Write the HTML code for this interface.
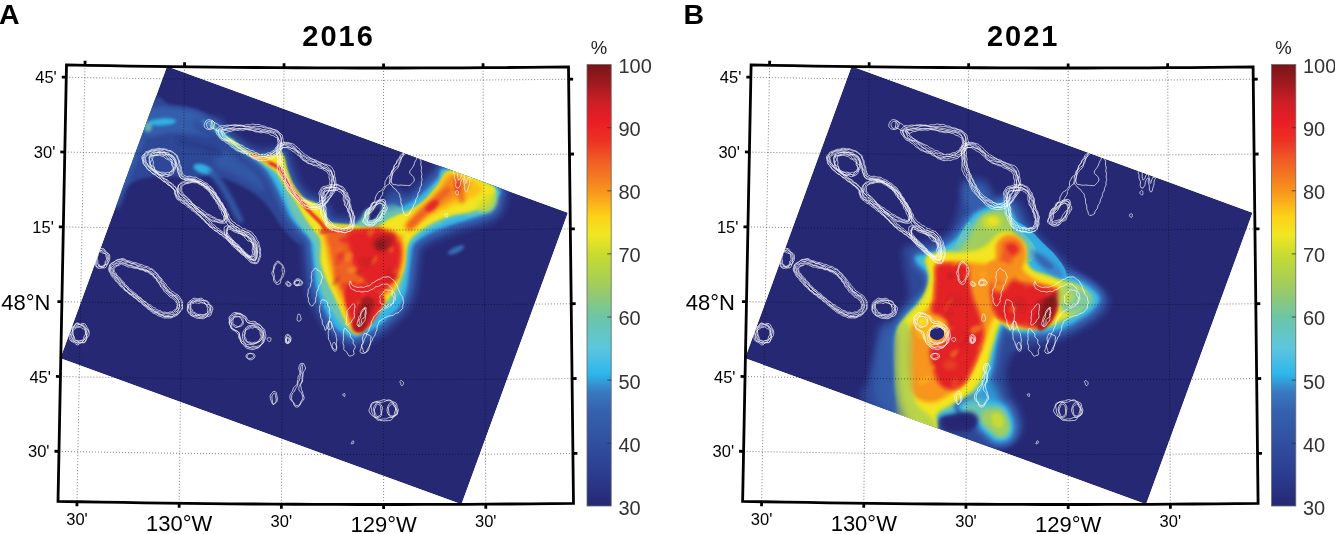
<!DOCTYPE html>
<html><head><meta charset="utf-8"><style>
html,body{margin:0;padding:0;background:#fff;}
svg{display:block;will-change:transform;}
text{font-family:"Liberation Sans",sans-serif;}
</style></head><body>
<svg width="1335" height="534" viewBox="0 0 1335 534">
<defs><filter id="b1" filterUnits="userSpaceOnUse" x="-50" y="-50" width="800" height="650"><feGaussianBlur stdDeviation="0.5"/></filter><filter id="b2" filterUnits="userSpaceOnUse" x="-50" y="-50" width="800" height="650"><feGaussianBlur stdDeviation="1.0"/></filter><filter id="b3" filterUnits="userSpaceOnUse" x="-50" y="-50" width="800" height="650"><feGaussianBlur stdDeviation="1.5"/></filter><filter id="b4" filterUnits="userSpaceOnUse" x="-50" y="-50" width="800" height="650"><feGaussianBlur stdDeviation="2.0"/></filter><filter id="b6" filterUnits="userSpaceOnUse" x="-50" y="-50" width="800" height="650"><feGaussianBlur stdDeviation="3.0"/></filter><filter id="b8" filterUnits="userSpaceOnUse" x="-50" y="-50" width="800" height="650"><feGaussianBlur stdDeviation="4.0"/></filter></defs>
<rect width="1335" height="534" fill="#fff"/>
<g transform="translate(0,0)">
<defs><clipPath id="ca"><path d="M66.50,64.93 L87.42,65.32 L108.33,65.69 L129.24,66.03 L150.16,66.34 L171.07,66.62 L191.99,66.88 L212.91,67.11 L233.82,67.32 L254.74,67.50 L275.65,67.65 L296.57,67.77 L317.49,67.87 L338.41,67.94 L359.32,67.98 L380.24,68.00 L401.16,67.99 L422.07,67.95 L442.99,67.89 L463.91,67.80 L484.82,67.68 L505.74,67.53 L526.66,67.36 L547.57,67.16 L568.49,66.93 L573.49,503.40 L552.02,503.64 L530.54,503.84 L509.06,504.02 L487.58,504.17 L466.10,504.29 L444.62,504.38 L423.14,504.45 L401.66,504.49 L380.18,504.50 L358.70,504.48 L337.22,504.44 L315.74,504.37 L294.26,504.27 L272.78,504.14 L251.30,503.98 L229.83,503.80 L208.35,503.59 L186.87,503.35 L165.39,503.09 L143.91,502.79 L122.44,502.47 L100.96,502.12 L79.48,501.75 L58.01,501.34 Z"/></clipPath></defs>
<g clip-path="url(#ca)">
<clipPath id="cap"><polygon points="167,66.2 567.9,212.8 461.5,504.2 60.4,358.2"/></clipPath>
<g clip-path="url(#cap)"><polygon points="167,66.2 567.9,212.8 461.5,504.2 60.4,358.2" fill="#262874"/>
<path d="M148.0,105.0 C158.5,87.2 164.3,104.7 171.0,105.0 C177.7,105.3 183.0,106.0 188.0,107.0 C193.0,108.0 197.0,109.3 201.0,111.0 C205.0,112.7 208.5,114.8 212.0,117.0 C215.5,119.2 217.3,120.3 222.0,124.0 C226.7,127.7 233.3,133.0 240.0,139.0 C246.7,145.0 256.2,153.5 262.0,160.0 C267.8,166.5 271.2,171.3 275.0,178.0 C278.8,184.7 281.7,193.0 285.0,200.0 C288.3,207.0 291.7,213.7 295.0,220.0 C298.3,226.3 304.2,234.0 305.0,238.0 C305.8,242.0 303.3,245.3 300.0,244.0 C296.7,242.7 289.7,235.3 285.0,230.0 C280.3,224.7 276.2,217.3 272.0,212.0 C267.8,206.7 264.5,202.0 260.0,198.0 C255.5,194.0 250.3,191.0 245.0,188.0 C239.7,185.0 233.8,182.0 228.0,180.0 C222.2,178.0 216.3,176.3 210.0,176.0 C203.7,175.7 198.3,178.0 190.0,178.0 C181.7,178.0 169.2,175.5 160.0,176.0 C150.8,176.5 142.0,177.7 135.0,181.0 C128.0,184.3 122.5,190.8 118.0,196.0 C113.5,201.2 103.0,227.2 108.0,212.0 C113.0,196.8 137.5,122.8 148.0,105.0 Z" fill="#2f4696" filter="url(#b3)"/>
<path d="M150.0,109.0 C157.5,105.2 175.7,107.8 185.0,109.0 C194.3,110.2 199.8,112.8 206.0,116.0 C212.2,119.2 221.0,124.7 222.0,128.0 C223.0,131.3 216.5,135.0 212.0,136.0 C207.5,137.0 202.0,134.5 195.0,134.0 C188.0,133.5 177.5,132.5 170.0,133.0 C162.5,133.5 155.0,137.2 150.0,137.0 C145.0,136.8 140.0,136.7 140.0,132.0 C140.0,127.3 142.5,112.8 150.0,109.0 Z" fill="#3460ae" fill-opacity="0.9" filter="url(#b4)"/>
<path d="M222.0,150.0 C226.2,148.8 234.0,154.7 240.0,158.0 C246.0,161.3 253.3,165.5 258.0,170.0 C262.7,174.5 267.3,181.7 268.0,185.0 C268.7,188.3 265.3,190.5 262.0,190.0 C258.7,189.5 253.3,185.0 248.0,182.0 C242.7,179.0 235.5,174.8 230.0,172.0 C224.5,169.2 216.3,168.7 215.0,165.0 C213.7,161.3 217.8,151.2 222.0,150.0 Z" fill="#3460ae" fill-opacity="0.7" filter="url(#b6)"/>
<path d="M179.0,141.0 C182.5,141.8 193.0,144.0 200.0,146.0 C207.0,148.0 217.5,151.8 221.0,153.0" fill="none" stroke="#262874" stroke-width="4" stroke-linecap="round" stroke-linejoin="round" stroke-opacity="0.5" filter="url(#b4)"/>
<path d="M117.0,205.0 C119.2,199.2 125.8,180.8 130.0,170.0 C134.2,159.2 140.0,145.0 142.0,140.0" fill="none" stroke="#3460ae" stroke-width="6" stroke-linecap="round" stroke-linejoin="round" stroke-opacity="0.8" filter="url(#b4)"/>
<path d="M176.0,121.0 C176.0,121.6 175.3,122.3 174.2,122.9 C173.1,123.5 171.2,124.1 169.2,124.5 C167.2,125.0 164.6,125.3 162.2,125.5 C159.9,125.7 157.3,125.7 155.2,125.5 C153.2,125.4 151.2,125.0 150.0,124.6 C148.8,124.2 148.1,123.6 148.0,123.0 C148.0,122.4 148.7,121.7 149.8,121.1 C150.9,120.5 152.8,119.9 154.8,119.5 C156.8,119.0 159.4,118.7 161.8,118.5 C164.1,118.3 166.7,118.3 168.8,118.5 C170.8,118.6 172.8,119.0 174.0,119.4 C175.2,119.8 175.9,120.4 176.0,121.0 Z" fill="#30b4e8" fill-opacity="0.95" filter="url(#b3)"/>
<path d="M152.0,127.0 C152.0,127.8 151.8,128.8 151.5,129.5 C151.1,130.2 150.6,130.9 150.0,131.3 C149.4,131.7 148.7,132.0 148.0,132.0 C147.3,132.0 146.6,131.7 146.0,131.3 C145.4,130.9 144.9,130.2 144.5,129.5 C144.2,128.8 144.0,127.8 144.0,127.0 C144.0,126.2 144.2,125.2 144.5,124.5 C144.9,123.8 145.4,123.1 146.0,122.7 C146.6,122.3 147.3,122.0 148.0,122.0 C148.7,122.0 149.4,122.3 150.0,122.7 C150.6,123.1 151.1,123.8 151.5,124.5 C151.8,125.2 152.0,126.2 152.0,127.0 Z" fill="#6cc5b4" fill-opacity="0.8" filter="url(#b3)"/>
<path d="M212.5,172.1 C212.3,172.8 211.5,173.5 210.5,173.8 C209.5,174.2 208.0,174.3 206.6,174.3 C205.1,174.2 203.2,173.8 201.6,173.3 C200.0,172.8 198.3,172.0 197.0,171.2 C195.8,170.4 194.7,169.3 194.1,168.5 C193.5,167.6 193.3,166.6 193.5,165.9 C193.7,165.2 194.5,164.5 195.5,164.2 C196.5,163.8 198.0,163.7 199.4,163.7 C200.9,163.8 202.8,164.2 204.4,164.7 C206.0,165.2 207.7,166.0 209.0,166.8 C210.2,167.6 211.3,168.7 211.9,169.5 C212.5,170.4 212.7,171.4 212.5,172.1 Z" fill="#30b4e8" fill-opacity="0.95" filter="url(#b3)"/>
<path d="M211.0,172.0 C212.8,174.3 218.5,180.7 222.0,186.0 C225.5,191.3 229.0,198.3 232.0,204.0 C235.0,209.7 238.7,217.3 240.0,220.0" fill="none" stroke="#3460ae" stroke-width="6" stroke-linecap="round" stroke-linejoin="round" stroke-opacity="0.9" filter="url(#b4)"/>
<path d="M193.3,124.6 C194.5,121.4 211.7,116.1 217.5,116.8 C223.2,117.6 222.9,124.8 227.9,129.2 C232.9,133.6 242.5,140.1 247.6,143.3 C252.8,146.4 255.4,147.4 259.0,148.2 C262.5,149.0 264.3,148.3 268.9,148.1 C273.5,147.9 282.4,143.9 286.7,147.0 C290.9,150.2 292.3,161.4 294.5,167.0 C296.7,172.6 297.4,176.2 299.8,180.4 C302.2,184.6 305.8,189.6 308.9,192.2 C312.0,194.8 315.1,194.1 318.5,196.2 C321.9,198.3 326.8,201.5 329.3,204.7 C331.8,208.0 332.2,214.0 333.6,215.9 C335.0,217.8 334.9,215.9 337.5,216.1 C340.2,216.3 345.7,217.2 349.7,217.0 C353.6,216.8 358.1,215.2 361.2,215.0 C364.2,214.9 365.1,217.5 368.0,216.0 C370.8,214.4 374.8,208.9 378.3,206.0 C381.9,203.1 385.9,200.4 389.3,198.8 C392.8,197.2 396.3,197.4 399.2,196.5 C402.0,195.5 403.6,195.0 406.4,193.3 C409.2,191.6 412.0,189.9 416.0,186.3 C420.1,182.7 425.3,176.2 430.6,171.6 C436.0,167.1 436.3,158.0 448.2,159.1 C460.0,160.2 492.0,171.4 501.8,178.4 C511.6,185.4 507.1,194.9 506.9,201.1 C506.8,207.3 503.9,211.9 501.0,215.6 C498.1,219.3 494.2,221.1 489.5,223.3 C484.7,225.5 477.8,227.1 472.5,228.6 C467.2,230.2 462.7,230.9 457.8,232.5 C453.0,234.2 447.3,236.8 443.3,238.4 C439.4,239.9 437.0,240.6 434.0,242.0 C431.0,243.5 427.4,245.9 425.4,247.2 C423.4,248.5 422.8,248.3 422.0,250.0 C421.3,251.7 421.4,253.5 420.9,257.4 C420.4,261.2 419.8,267.1 418.9,273.2 C418.0,279.4 417.6,288.0 415.7,294.5 C413.7,300.9 410.7,307.2 407.4,312.1 C404.2,316.9 399.9,320.0 396.2,323.5 C392.5,327.0 389.0,330.5 385.4,333.2 C381.8,335.9 378.1,337.8 374.3,339.9 C370.6,341.9 366.8,344.4 362.8,345.5 C358.9,346.7 354.5,347.5 350.4,346.9 C346.3,346.2 342.2,344.1 338.3,341.7 C334.4,339.3 330.7,337.2 326.9,332.6 C323.2,328.0 319.2,320.6 315.9,313.9 C312.6,307.2 309.3,299.5 307.3,292.4 C305.4,285.3 305.0,277.7 304.1,271.2 C303.2,264.6 302.6,257.7 302.1,253.2 C301.6,248.7 302.4,246.9 301.0,244.0 C299.5,241.1 296.3,239.4 293.2,235.9 C290.1,232.4 285.3,227.4 282.4,222.9 C279.5,218.3 278.1,213.6 275.8,208.8 C273.6,204.0 271.2,198.5 269.0,194.0 C266.7,189.5 264.6,185.4 262.4,181.8 C260.1,178.1 258.5,175.3 255.5,172.2 C252.5,169.1 249.1,166.9 244.2,162.9 C239.4,158.9 232.2,152.5 226.5,148.1 C220.8,143.7 215.5,140.4 210.0,136.5 C204.4,132.5 192.0,127.9 193.3,124.6 Z" fill="#2f4696" filter="url(#b6)"/>
<path d="M197.6,122.1 C197.8,120.1 209.9,119.0 214.4,120.8 C218.9,122.6 219.5,128.5 224.6,133.0 C229.7,137.4 239.5,144.2 245.1,147.6 C250.6,150.9 253.8,152.2 257.9,153.1 C261.9,154.0 265.2,153.4 269.5,153.0 C273.8,152.7 280.1,148.3 283.5,150.9 C286.9,153.5 287.8,163.3 289.8,168.7 C291.8,174.0 292.8,178.4 295.5,183.0 C298.1,187.5 302.2,193.0 305.6,196.0 C309.0,198.9 312.7,198.6 316.0,200.5 C319.3,202.5 322.9,204.5 325.2,207.7 C327.6,210.8 328.0,217.0 329.9,219.3 C331.8,221.5 333.4,220.6 336.7,221.1 C340.0,221.5 345.7,222.2 349.8,222.0 C354.0,221.8 358.2,220.3 361.6,220.0 C365.0,219.8 366.9,222.1 370.2,220.4 C373.5,218.7 378.0,212.7 381.5,209.9 C385.0,207.0 388.2,204.8 391.4,203.3 C394.6,201.9 397.8,202.2 400.7,201.2 C403.7,200.2 405.8,199.4 408.9,197.6 C412.0,195.7 415.1,193.7 419.3,190.0 C423.6,186.3 429.5,179.5 434.2,175.2 C438.9,170.8 436.7,162.8 447.5,164.0 C458.4,165.3 490.1,176.5 499.1,182.6 C508.2,188.7 502.3,195.5 502.0,200.5 C501.6,205.5 499.5,209.5 497.1,212.5 C494.7,215.5 491.9,216.8 487.5,218.7 C483.2,220.6 476.3,222.3 471.1,223.8 C465.9,225.4 461.2,226.1 456.3,227.8 C451.3,229.4 445.6,232.1 441.5,233.7 C437.4,235.3 435.0,236.0 431.8,237.6 C428.6,239.2 424.8,241.5 422.4,243.2 C420.0,244.9 418.7,245.6 417.6,247.8 C416.5,250.0 416.6,252.5 416.0,256.6 C415.4,260.7 414.8,266.5 414.0,272.6 C413.1,278.6 412.6,287.0 410.8,293.1 C409.1,299.2 406.3,304.8 403.3,309.2 C400.3,313.7 396.2,316.6 392.8,319.9 C389.3,323.2 385.9,326.6 382.4,329.2 C378.9,331.8 375.5,333.6 371.9,335.5 C368.4,337.4 364.7,339.7 361.3,340.8 C357.8,341.9 354.7,342.5 351.3,341.9 C347.9,341.4 344.3,339.5 340.9,337.4 C337.5,335.3 334.3,333.8 330.9,329.5 C327.4,325.2 323.5,318.2 320.4,311.7 C317.3,305.3 314.0,297.9 312.1,291.1 C310.2,284.2 309.9,276.9 309.0,270.5 C308.2,264.1 307.6,257.3 307.0,252.5 C306.4,247.7 307.1,245.1 305.4,241.8 C303.7,238.5 300.1,236.2 297.0,232.6 C293.8,229.0 289.4,224.5 286.6,220.2 C283.9,215.8 282.6,211.4 280.4,206.7 C278.2,202.0 275.7,196.4 273.4,191.8 C271.1,187.2 269.0,183.0 266.6,179.1 C264.2,175.3 262.3,172.1 259.1,168.8 C255.9,165.4 252.4,163.2 247.4,159.1 C242.5,155.0 235.3,148.6 229.6,144.2 C223.8,139.7 218.1,136.0 212.8,132.3 C207.4,128.6 197.3,124.0 197.6,122.1 Z" fill="#3460ae" filter="url(#b4)"/>
<path d="M200.6,120.3 C200.2,119.3 208.7,121.0 212.3,123.6 C215.9,126.2 217.2,131.1 222.3,135.6 C227.5,140.1 237.5,147.1 243.3,150.6 C249.1,154.1 252.7,155.5 257.1,156.5 C261.6,157.5 265.9,157.0 269.9,156.5 C274.0,156.0 278.6,151.4 281.3,153.6 C284.1,155.8 284.6,164.6 286.5,169.8 C288.3,175.0 289.6,179.9 292.4,184.7 C295.2,189.5 299.7,195.5 303.3,198.6 C307.0,201.8 311.1,201.7 314.3,203.6 C317.4,205.4 320.2,206.7 322.4,209.7 C324.6,212.7 325.1,219.2 327.4,221.7 C329.6,224.1 332.3,223.9 336.1,224.5 C339.9,225.1 345.7,225.7 350.0,225.5 C354.3,225.3 358.3,223.8 362.0,223.5 C365.6,223.2 368.2,225.4 371.8,223.6 C375.4,221.7 380.2,215.4 383.7,212.6 C387.2,209.8 389.8,207.9 392.8,206.5 C395.8,205.2 398.9,205.5 401.8,204.5 C404.8,203.5 407.4,202.6 410.7,200.6 C414.0,198.6 417.4,196.4 421.7,192.6 C426.0,188.8 432.4,181.8 436.6,177.6 C440.9,173.5 437.0,166.2 447.1,167.5 C457.2,168.8 488.7,180.2 497.3,185.6 C505.8,191.0 499.0,195.9 498.5,200.1 C498.0,204.2 496.4,207.7 494.4,210.3 C492.3,212.9 490.2,213.8 486.2,215.5 C482.2,217.2 475.3,219.0 470.1,220.5 C465.0,222.0 460.2,222.8 455.2,224.5 C450.2,226.1 444.3,228.8 440.2,230.5 C436.0,232.1 433.5,232.8 430.2,234.4 C426.9,236.1 422.9,238.4 420.3,240.4 C417.7,242.4 415.7,243.6 414.4,246.2 C413.1,248.8 413.2,251.8 412.5,256.1 C411.8,260.4 411.3,266.1 410.5,272.1 C409.7,278.1 409.2,286.3 407.5,292.1 C405.8,298.0 403.3,303.1 400.4,307.3 C397.6,311.5 393.7,314.2 390.3,317.4 C387.0,320.5 383.7,323.9 380.3,326.4 C376.9,328.9 373.6,330.6 370.2,332.4 C366.9,334.3 363.2,336.5 360.2,337.5 C357.1,338.5 354.8,339.0 351.9,338.5 C349.0,338.0 345.8,336.3 342.7,334.4 C339.7,332.6 336.8,331.3 333.6,327.3 C330.4,323.3 326.6,316.4 323.6,310.2 C320.5,304.0 317.4,296.8 315.5,290.1 C313.7,283.4 313.3,276.4 312.5,270.1 C311.7,263.7 311.2,257.0 310.5,252.1 C309.8,247.1 310.4,243.8 308.6,240.2 C306.7,236.6 302.8,234.0 299.6,230.3 C296.5,226.7 292.3,222.5 289.6,218.3 C286.9,214.1 285.7,209.9 283.5,205.2 C281.4,200.5 278.9,194.9 276.6,190.2 C274.2,185.6 272.1,181.2 269.6,177.3 C267.1,173.3 265.0,169.8 261.6,166.3 C258.3,162.9 254.7,160.5 249.7,156.4 C244.7,152.2 237.5,145.9 231.7,141.4 C225.9,136.9 219.9,132.9 214.7,129.4 C209.5,125.9 201.0,121.2 200.6,120.3 Z" fill="#3b7cc4" filter="url(#b2)"/>
<path d="M202.3,119.2 C201.5,118.8 208.0,122.2 211.1,125.2 C214.2,128.2 215.8,132.6 221.0,137.1 C226.2,141.6 236.3,148.7 242.2,152.3 C248.2,155.8 252.0,157.4 256.7,158.5 C261.3,159.5 266.3,159.0 270.2,158.5 C274.1,157.9 277.7,153.2 280.1,155.2 C282.5,157.2 282.8,165.4 284.6,170.5 C286.4,175.6 287.8,180.8 290.7,185.8 C293.6,190.7 298.3,196.9 302.0,200.1 C305.8,203.4 310.1,203.5 313.2,205.3 C316.4,207.1 318.7,207.9 320.8,210.9 C322.9,213.8 323.4,220.4 325.9,223.0 C328.4,225.6 331.7,225.7 335.7,226.5 C339.8,227.2 345.7,227.7 350.1,227.5 C354.5,227.3 358.4,225.9 362.1,225.5 C365.9,225.1 368.9,227.2 372.7,225.3 C376.5,223.5 381.5,217.0 384.9,214.2 C388.4,211.3 390.7,209.7 393.6,208.4 C396.5,207.1 399.4,207.4 402.5,206.4 C405.5,205.4 408.4,204.3 411.8,202.3 C415.2,200.2 418.6,198.0 423.0,194.1 C427.4,190.3 434.1,183.2 438.1,179.1 C442.0,175.0 437.1,168.1 446.8,169.5 C456.5,170.9 487.9,182.2 496.2,187.3 C504.5,192.3 497.1,196.2 496.5,199.8 C495.9,203.4 494.7,206.8 492.8,209.1 C491.0,211.4 489.3,212.0 485.4,213.6 C481.5,215.2 474.7,217.1 469.6,218.6 C464.4,220.1 459.5,220.9 454.5,222.6 C449.5,224.3 443.6,226.9 439.4,228.6 C435.2,230.3 432.7,231.0 429.3,232.7 C425.9,234.4 421.9,236.7 419.1,238.8 C416.3,240.9 414.1,242.5 412.7,245.3 C411.2,248.2 411.2,251.4 410.5,255.8 C409.8,260.2 409.3,265.8 408.5,271.8 C407.7,277.8 407.2,285.9 405.6,291.6 C403.9,297.3 401.5,302.1 398.8,306.2 C396.0,310.2 392.2,312.8 389.0,315.9 C385.7,319.0 382.4,322.3 379.1,324.8 C375.8,327.3 372.5,328.9 369.3,330.7 C366.0,332.5 362.4,334.6 359.5,335.6 C356.7,336.5 354.9,337.0 352.3,336.5 C349.6,336.0 346.6,334.5 343.8,332.7 C340.9,331.0 338.2,330.0 335.2,326.1 C332.1,322.2 328.3,315.4 325.3,309.3 C322.4,303.3 319.3,296.2 317.4,289.6 C315.6,283.0 315.3,276.1 314.5,269.8 C313.7,263.5 313.2,256.9 312.5,251.8 C311.8,246.7 312.2,243.1 310.3,239.3 C308.4,235.5 304.3,232.7 301.1,229.0 C298.0,225.3 293.9,221.3 291.3,217.2 C288.6,213.1 287.5,209.0 285.4,204.4 C283.2,199.7 280.7,194.0 278.3,189.3 C276.0,184.6 273.8,180.3 271.3,176.2 C268.7,172.1 266.5,168.5 263.1,165.0 C259.7,161.4 256.0,159.0 251.0,154.8 C245.9,150.7 238.8,144.3 232.9,139.8 C227.1,135.3 220.9,131.2 215.8,127.8 C210.7,124.3 203.1,119.7 202.3,119.2 Z" fill="#30b4e8" filter="url(#b2)"/>
<path d="M207.0,123.0 C205.7,121.7 211.5,123.8 214.0,126.0 C216.5,128.2 217.2,131.8 222.0,136.0 C226.8,140.2 237.2,147.5 243.0,151.0 C248.8,154.5 252.5,156.0 257.0,157.0 C261.5,158.0 266.0,157.5 270.0,157.0 C274.0,156.5 278.3,151.8 281.0,154.0 C283.7,156.2 284.2,164.8 286.0,170.0 C287.8,175.2 289.2,180.2 292.0,185.0 C294.8,189.8 299.3,195.8 303.0,199.0 C306.7,202.2 310.8,202.2 314.0,204.0 C317.2,205.8 319.8,207.0 322.0,210.0 C324.2,213.0 324.7,219.5 327.0,222.0 C329.3,224.5 332.2,224.3 336.0,225.0 C339.8,225.7 346.0,226.8 350.0,226.0 C354.0,225.2 357.3,222.7 360.0,220.0 C362.7,217.3 362.7,212.2 366.0,210.0 C369.3,207.8 375.3,208.0 380.0,207.0 C384.7,206.0 389.7,203.5 394.0,204.0 C398.3,204.5 401.0,210.8 406.0,210.0 C411.0,209.2 418.5,203.8 424.0,199.0 C429.5,194.2 434.8,185.8 439.0,181.0 C443.2,176.2 439.8,169.0 449.0,170.0 C458.2,171.0 486.5,182.0 494.0,187.0 C501.5,192.0 495.0,196.2 494.0,200.0 C493.0,203.8 492.0,207.3 488.0,210.0 C484.0,212.7 475.5,214.5 470.0,216.0 C464.5,217.5 460.3,217.5 455.0,219.0 C449.7,220.5 443.0,223.0 438.0,225.0 C433.0,227.0 428.8,228.7 425.0,231.0 C421.2,233.3 417.8,235.8 415.0,239.0 C412.2,242.2 409.5,244.8 408.0,250.0 C406.5,255.2 407.2,263.3 406.0,270.0 C404.8,276.7 403.2,284.7 401.0,290.0 C398.8,295.3 395.8,298.5 393.0,302.0 C390.2,305.5 387.2,308.0 384.0,311.0 C380.8,314.0 377.3,317.0 374.0,320.0 C370.7,323.0 367.5,326.8 364.0,329.0 C360.5,331.2 356.2,333.0 353.0,333.0 C349.8,333.0 347.8,331.5 345.0,329.0 C342.2,326.5 338.8,322.0 336.0,318.0 C333.2,314.0 330.5,309.7 328.0,305.0 C325.5,300.3 322.8,295.8 321.0,290.0 C319.2,284.2 318.0,276.0 317.0,270.0 C316.0,264.0 315.5,258.3 315.0,254.0 C314.5,249.7 315.5,247.7 314.0,244.0 C312.5,240.3 309.0,236.0 306.0,232.0 C303.0,228.0 298.8,224.3 296.0,220.0 C293.2,215.7 291.2,211.0 289.0,206.0 C286.8,201.0 285.3,195.2 283.0,190.0 C280.7,184.8 278.5,179.3 275.0,175.0 C271.5,170.7 266.2,167.3 262.0,164.0 C257.8,160.7 254.3,158.2 250.0,155.0 C245.7,151.8 240.7,148.5 236.0,145.0 C231.3,141.5 226.8,137.7 222.0,134.0 C217.2,130.3 208.3,124.3 207.0,123.0 Z" fill="#6cc5b4" filter="url(#b3)"/>
<path d="M468.5,216.4 C468.7,216.9 468.1,217.6 467.1,218.3 C466.1,219.0 464.3,219.9 462.4,220.7 C460.5,221.5 458.0,222.3 455.8,222.9 C453.5,223.5 450.9,224.0 448.9,224.3 C446.9,224.6 444.9,224.7 443.7,224.6 C442.4,224.5 441.6,224.1 441.5,223.6 C441.3,223.1 441.9,222.4 442.9,221.7 C443.9,221.0 445.7,220.1 447.6,219.3 C449.5,218.5 452.0,217.7 454.2,217.1 C456.5,216.5 459.1,216.0 461.1,215.7 C463.1,215.4 465.1,215.3 466.3,215.4 C467.6,215.5 468.4,215.9 468.5,216.4 Z" fill="#30b4e8" fill-opacity="0.6" filter="url(#b3)"/>
<path d="M225.3,139.0 C224.2,137.6 229.7,138.2 232.7,140.0 C235.8,141.9 239.6,147.4 243.6,150.0 C247.7,152.6 252.9,154.9 257.3,155.8 C261.6,156.8 265.8,156.3 269.9,155.8 C273.9,155.3 278.9,150.8 281.8,153.1 C284.6,155.4 285.3,164.4 287.1,169.6 C289.0,174.8 290.3,179.6 293.0,184.4 C295.8,189.1 300.2,195.0 303.8,198.1 C307.4,201.2 311.4,201.1 314.6,203.0 C317.8,204.8 320.8,206.3 323.0,209.3 C325.2,212.3 325.7,218.8 327.9,221.2 C330.1,223.6 332.5,223.2 336.2,223.8 C339.9,224.4 345.8,224.3 350.1,224.8 C354.5,225.3 357.9,226.3 362.1,226.8 C366.4,227.3 371.5,229.0 375.7,227.8 C379.9,226.7 383.7,222.1 387.4,220.0 C391.0,217.8 394.2,216.2 397.6,214.9 C400.9,213.5 404.5,213.2 407.5,211.9 C410.5,210.6 412.4,209.0 415.3,207.0 C418.3,205.0 421.2,203.9 425.2,200.1 C429.1,196.3 434.6,189.1 439.1,184.2 C443.6,179.3 443.1,170.5 452.0,170.8 C461.0,171.1 486.2,181.4 492.7,186.0 C499.2,190.6 492.7,195.1 491.1,198.6 C489.4,202.1 486.4,204.8 482.6,207.0 C478.8,209.3 473.4,210.8 468.3,212.2 C463.3,213.5 457.6,213.7 452.3,215.2 C447.0,216.6 441.4,218.8 436.5,221.1 C431.6,223.4 426.9,226.0 422.7,229.0 C418.4,231.9 413.7,235.2 410.9,238.7 C408.2,242.3 407.5,245.0 406.2,250.3 C404.9,255.6 404.8,263.9 403.2,270.3 C401.5,276.7 398.6,283.6 396.1,288.6 C393.5,293.5 390.6,296.4 387.9,299.7 C385.2,303.1 382.9,305.3 379.9,308.8 C376.9,312.3 373.1,317.3 369.9,320.8 C366.7,324.4 363.6,328.7 360.5,330.1 C357.4,331.4 354.1,330.9 351.3,329.0 C348.5,327.0 346.0,322.3 343.9,318.6 C341.9,314.8 340.7,310.7 338.9,306.5 C337.1,302.3 335.1,298.2 332.9,293.5 C330.7,288.8 327.9,283.6 325.9,278.4 C323.9,273.2 321.7,266.9 320.8,262.2 C320.0,257.5 321.0,254.0 320.8,250.0 C320.6,246.1 321.5,242.4 319.9,238.5 C318.3,234.6 313.8,230.7 311.0,226.7 C308.2,222.7 305.7,219.0 303.0,214.6 C300.3,210.3 298.0,205.5 295.0,200.6 C292.0,195.8 288.1,190.5 285.0,185.7 C281.9,180.9 279.4,175.4 276.1,171.8 C272.8,168.2 269.4,166.8 265.3,164.0 C261.2,161.2 255.7,157.7 251.4,155.0 C247.0,152.4 243.7,150.7 239.4,148.0 C235.0,145.3 226.4,140.3 225.3,139.0 Z" fill="#cfdd2c" filter="url(#b2)"/>
<path d="M226.0,138.0 C224.7,137.0 229.2,138.8 232.0,141.0 C234.8,143.2 238.8,148.3 243.0,151.0 C247.2,153.7 252.5,156.0 257.0,157.0 C261.5,158.0 266.0,157.5 270.0,157.0 C274.0,156.5 278.3,151.8 281.0,154.0 C283.7,156.2 284.2,164.8 286.0,170.0 C287.8,175.2 289.2,180.2 292.0,185.0 C294.8,189.8 299.3,195.8 303.0,199.0 C306.7,202.2 310.8,202.2 314.0,204.0 C317.2,205.8 319.8,207.0 322.0,210.0 C324.2,213.0 324.7,219.5 327.0,222.0 C329.3,224.5 332.2,224.3 336.0,225.0 C339.8,225.7 345.7,225.5 350.0,226.0 C354.3,226.5 357.7,227.5 362.0,228.0 C366.3,228.5 371.7,230.2 376.0,229.0 C380.3,227.8 384.3,223.2 388.0,221.0 C391.7,218.8 394.7,217.3 398.0,216.0 C401.3,214.7 405.0,214.3 408.0,213.0 C411.0,211.7 413.0,210.0 416.0,208.0 C419.0,206.0 422.0,204.8 426.0,201.0 C430.0,197.2 435.7,189.8 440.0,185.0 C444.3,180.2 443.3,171.7 452.0,172.0 C460.7,172.3 485.7,182.7 492.0,187.0 C498.3,191.3 491.7,194.8 490.0,198.0 C488.3,201.2 485.7,203.8 482.0,206.0 C478.3,208.2 473.0,209.7 468.0,211.0 C463.0,212.3 457.3,212.5 452.0,214.0 C446.7,215.5 441.0,217.7 436.0,220.0 C431.0,222.3 426.3,225.0 422.0,228.0 C417.7,231.0 412.8,234.3 410.0,238.0 C407.2,241.7 406.3,244.7 405.0,250.0 C403.7,255.3 403.7,263.7 402.0,270.0 C400.3,276.3 397.5,283.2 395.0,288.0 C392.5,292.8 389.7,295.7 387.0,299.0 C384.3,302.3 382.0,304.5 379.0,308.0 C376.0,311.5 372.2,316.5 369.0,320.0 C365.8,323.5 362.8,327.7 360.0,329.0 C357.2,330.3 354.5,329.8 352.0,328.0 C349.5,326.2 347.0,321.7 345.0,318.0 C343.0,314.3 341.8,310.2 340.0,306.0 C338.2,301.8 336.2,297.7 334.0,293.0 C331.8,288.3 329.0,283.2 327.0,278.0 C325.0,272.8 322.8,266.7 322.0,262.0 C321.2,257.3 322.2,254.0 322.0,250.0 C321.8,246.0 322.7,242.0 321.0,238.0 C319.3,234.0 314.8,230.0 312.0,226.0 C309.2,222.0 306.7,218.3 304.0,214.0 C301.3,209.7 299.0,204.8 296.0,200.0 C293.0,195.2 289.2,189.8 286.0,185.0 C282.8,180.2 280.3,174.7 277.0,171.0 C273.7,167.3 270.2,165.8 266.0,163.0 C261.8,160.2 256.3,156.7 252.0,154.0 C247.7,151.3 244.3,149.7 240.0,147.0 C235.7,144.3 227.3,139.0 226.0,138.0 Z" fill="#f3e523" filter="url(#b3)"/>
<path d="M252.0,155.0 C253.3,155.5 257.0,156.7 260.0,158.0 C263.0,159.3 266.7,161.2 270.0,163.0 C273.3,164.8 277.3,166.2 280.0,169.0 C282.7,171.8 284.0,176.5 286.0,180.0 C288.0,183.5 289.7,186.7 292.0,190.0 C294.3,193.3 297.0,196.3 300.0,200.0 C303.0,203.7 306.7,208.3 310.0,212.0 C313.3,215.7 317.0,218.5 320.0,222.0 C323.0,225.5 326.7,231.2 328.0,233.0" fill="none" stroke="#f6901e" stroke-width="4" stroke-linecap="round" stroke-linejoin="round" stroke-opacity="1" filter="url(#b2)"/>
<path d="M270.0,163.0 C271.7,164.0 277.3,166.2 280.0,169.0 C282.7,171.8 284.0,176.5 286.0,180.0 C288.0,183.5 289.7,186.7 292.0,190.0 C294.3,193.3 297.0,196.3 300.0,200.0 C303.0,203.7 306.7,208.3 310.0,212.0 C313.3,215.7 317.0,218.5 320.0,222.0 C323.0,225.5 326.7,231.2 328.0,233.0" fill="none" stroke="#e32227" stroke-width="2.6" stroke-linecap="round" stroke-linejoin="round" stroke-opacity="1" filter="url(#b2)"/>
<path d="M323.8,232.0 C327.1,228.3 337.9,228.7 344.8,228.0 C351.6,227.3 358.1,228.2 364.9,228.0 C371.7,227.8 379.3,225.7 385.6,227.1 C391.8,228.4 399.1,231.5 402.5,236.3 C405.9,241.1 406.1,249.8 406.0,256.1 C405.9,262.4 403.9,268.4 401.8,274.1 C399.7,279.7 396.5,285.5 393.4,289.8 C390.4,294.0 386.2,296.2 383.4,299.8 C380.6,303.4 379.0,307.1 376.6,311.4 C374.3,315.8 372.6,321.9 369.4,325.8 C366.1,329.8 360.5,335.1 357.0,335.0 C353.5,334.9 350.5,329.0 348.3,325.3 C346.2,321.7 345.7,317.4 344.2,313.0 C342.6,308.6 341.2,304.1 339.2,299.1 C337.2,294.1 334.0,288.4 332.2,283.0 C330.3,277.6 329.3,272.1 328.1,266.6 C326.9,261.2 325.8,256.2 325.0,250.5 C324.3,244.7 320.5,235.7 323.8,232.0 Z" fill="#fbc019" filter="url(#b3)"/>
<path d="M326.0,234.0 C328.8,230.8 338.5,231.5 345.0,231.0 C351.5,230.5 358.3,231.2 365.0,231.0 C371.7,230.8 379.2,228.8 385.0,230.0 C390.8,231.2 397.0,233.7 400.0,238.0 C403.0,242.3 403.2,250.2 403.0,256.0 C402.8,261.8 401.0,267.7 399.0,273.0 C397.0,278.3 394.0,283.8 391.0,288.0 C388.0,292.2 383.8,294.3 381.0,298.0 C378.2,301.7 376.3,305.7 374.0,310.0 C371.7,314.3 369.8,320.3 367.0,324.0 C364.2,327.7 359.7,332.0 357.0,332.0 C354.3,332.0 352.7,327.3 351.0,324.0 C349.3,320.7 348.5,316.3 347.0,312.0 C345.5,307.7 344.0,303.0 342.0,298.0 C340.0,293.0 336.8,287.3 335.0,282.0 C333.2,276.7 332.2,271.3 331.0,266.0 C329.8,260.7 328.8,255.3 328.0,250.0 C327.2,244.7 323.2,237.2 326.0,234.0 Z" fill="#f6901e" filter="url(#b3)"/>
<path d="M328.2,236.0 C330.6,233.4 339.1,234.3 345.2,234.0 C351.4,233.7 358.5,234.2 365.1,234.0 C371.6,233.8 379.0,232.0 384.4,232.9 C389.8,233.9 394.9,235.9 397.5,239.7 C400.1,243.5 400.2,250.5 400.0,255.9 C399.8,261.3 398.1,266.9 396.2,271.9 C394.3,277.0 391.5,282.2 388.6,286.2 C385.6,290.3 381.5,292.4 378.6,296.2 C375.8,299.9 373.7,304.2 371.4,308.6 C369.0,312.9 367.0,318.8 364.6,322.2 C362.2,325.6 358.8,328.9 357.0,329.0 C355.2,329.1 354.9,325.7 353.7,322.7 C352.5,319.7 351.3,315.3 349.8,311.0 C348.4,306.7 346.8,301.9 344.8,296.9 C342.8,291.9 339.6,286.3 337.8,281.0 C336.0,275.8 335.1,270.6 333.9,265.4 C332.8,260.1 331.9,254.4 331.0,249.5 C330.0,244.6 325.9,238.6 328.2,236.0 Z" fill="#ee5a24" fill-opacity="0.85" filter="url(#b3)"/>
<path d="M348.0,234.0 C351.7,230.7 364.7,230.2 372.0,230.0 C379.3,229.8 387.3,230.5 392.0,233.0 C396.7,235.5 398.7,240.2 400.0,245.0 C401.3,249.8 400.8,256.5 400.0,262.0 C399.2,267.5 397.2,273.5 395.0,278.0 C392.8,282.5 389.8,286.5 387.0,289.0 C384.2,291.5 380.8,293.2 378.0,293.0 C375.2,292.8 372.7,290.5 370.0,288.0 C367.3,285.5 364.7,281.8 362.0,278.0 C359.3,274.2 356.0,269.7 354.0,265.0 C352.0,260.3 351.0,255.2 350.0,250.0 C349.0,244.8 344.3,237.3 348.0,234.0 Z" fill="#e32227" filter="url(#b4)"/>
<path d="M346.0,286.0 C348.5,283.3 355.0,281.3 360.0,282.0 C365.0,282.7 371.8,287.0 376.0,290.0 C380.2,293.0 384.5,296.3 385.0,300.0 C385.5,303.7 381.3,308.0 379.0,312.0 C376.7,316.0 374.0,320.8 371.0,324.0 C368.0,327.2 364.0,330.5 361.0,331.0 C358.0,331.5 355.2,330.2 353.0,327.0 C350.8,323.8 349.3,316.8 348.0,312.0 C346.7,307.2 345.3,302.3 345.0,298.0 C344.7,293.7 343.5,288.7 346.0,286.0 Z" fill="#e32227" filter="url(#b3)"/>
<path d="M322.0,232.0 C324.7,231.8 333.0,231.0 338.0,231.0 C343.0,231.0 347.0,232.0 352.0,232.0 C357.0,232.0 363.3,231.3 368.0,231.0 C372.7,230.7 378.0,230.2 380.0,230.0" fill="none" stroke="#e32227" stroke-width="5" stroke-linecap="round" stroke-linejoin="round" stroke-opacity="0.8" filter="url(#b3)"/>
<path d="M345.6,257.1 C345.4,257.7 344.9,258.3 344.2,258.7 C343.5,259.0 342.6,259.3 341.6,259.3 C340.7,259.3 339.6,259.1 338.6,258.8 C337.7,258.4 336.7,257.8 336.0,257.2 C335.3,256.6 334.7,255.8 334.4,255.1 C334.2,254.4 334.1,253.6 334.4,252.9 C334.6,252.3 335.1,251.7 335.8,251.3 C336.5,251.0 337.4,250.7 338.4,250.7 C339.3,250.7 340.4,250.9 341.4,251.2 C342.3,251.6 343.3,252.2 344.0,252.8 C344.7,253.4 345.3,254.2 345.6,254.9 C345.8,255.6 345.9,256.4 345.6,257.1 Z" fill="#e32227" fill-opacity="0.5" filter="url(#b3)"/>
<path d="M356.9,269.1 C357.0,269.6 356.9,270.2 356.5,270.7 C356.2,271.2 355.6,271.8 354.9,272.1 C354.2,272.5 353.3,272.8 352.5,273.0 C351.7,273.1 350.7,273.1 350.0,273.0 C349.2,272.9 348.5,272.6 348.0,272.2 C347.5,271.9 347.2,271.4 347.1,270.9 C347.0,270.4 347.1,269.8 347.5,269.3 C347.8,268.8 348.4,268.2 349.1,267.9 C349.8,267.5 350.7,267.2 351.5,267.0 C352.3,266.9 353.3,266.9 354.0,267.0 C354.8,267.1 355.5,267.4 356.0,267.8 C356.5,268.1 356.8,268.6 356.9,269.1 Z" fill="#f6901e" fill-opacity="0.6" filter="url(#b3)"/>
<path d="M342.0,275.0 C342.0,276.0 341.8,277.1 341.5,278.0 C341.1,278.9 340.6,279.7 340.0,280.2 C339.4,280.7 338.7,281.0 338.0,281.0 C337.3,281.0 336.6,280.7 336.0,280.2 C335.4,279.7 334.9,278.9 334.5,278.0 C334.2,277.1 334.0,276.0 334.0,275.0 C334.0,274.0 334.2,272.9 334.5,272.0 C334.9,271.1 335.4,270.3 336.0,269.8 C336.6,269.3 337.3,269.0 338.0,269.0 C338.7,269.0 339.4,269.3 340.0,269.8 C340.6,270.3 341.1,271.1 341.5,272.0 C341.8,272.9 342.0,274.0 342.0,275.0 Z" fill="#ee5a24" fill-opacity="0.5" filter="url(#b3)"/>
<path d="M370.2,265.0 C369.9,265.6 369.2,266.1 368.5,266.3 C367.8,266.6 366.8,266.6 365.9,266.5 C364.9,266.4 363.9,266.0 363.0,265.5 C362.1,265.0 361.3,264.2 360.7,263.5 C360.1,262.8 359.6,261.9 359.5,261.1 C359.4,260.4 359.5,259.6 359.8,259.0 C360.1,258.4 360.8,257.9 361.5,257.7 C362.2,257.4 363.2,257.4 364.1,257.5 C365.1,257.6 366.1,258.0 367.0,258.5 C367.9,259.0 368.7,259.8 369.3,260.5 C369.9,261.2 370.4,262.1 370.5,262.9 C370.6,263.6 370.5,264.4 370.2,265.0 Z" fill="#a81b21" fill-opacity="0.3" filter="url(#b3)"/>
<path d="M395.0,275.0 C395.0,276.2 394.7,277.5 394.3,278.5 C393.9,279.5 393.2,280.5 392.5,281.1 C391.8,281.6 390.8,282.0 390.0,282.0 C389.2,282.0 388.2,281.6 387.5,281.1 C386.8,280.5 386.1,279.5 385.7,278.5 C385.3,277.5 385.0,276.2 385.0,275.0 C385.0,273.8 385.3,272.5 385.7,271.5 C386.1,270.5 386.8,269.5 387.5,268.9 C388.2,268.4 389.2,268.0 390.0,268.0 C390.8,268.0 391.8,268.4 392.5,268.9 C393.2,269.5 393.9,270.5 394.3,271.5 C394.7,272.5 395.0,273.8 395.0,275.0 Z" fill="#a81b21" fill-opacity="0.35" filter="url(#b3)"/>
<path d="M351.0,240.0 C351.0,240.5 350.7,241.1 350.2,241.5 C349.7,241.9 348.9,242.3 348.0,242.6 C347.1,242.8 346.0,243.0 345.0,243.0 C344.0,243.0 342.9,242.8 342.0,242.6 C341.1,242.3 340.3,241.9 339.8,241.5 C339.3,241.1 339.0,240.5 339.0,240.0 C339.0,239.5 339.3,238.9 339.8,238.5 C340.3,238.1 341.1,237.7 342.0,237.4 C342.9,237.2 344.0,237.0 345.0,237.0 C346.0,237.0 347.1,237.2 348.0,237.4 C348.9,237.7 349.7,238.1 350.2,238.5 C350.7,238.9 351.0,239.5 351.0,240.0 Z" fill="#e32227" fill-opacity="0.6" filter="url(#b3)"/>
<path d="M347.3,283.1 C347.6,283.5 347.8,284.1 347.9,284.6 C347.9,285.1 347.7,285.8 347.5,286.3 C347.2,286.9 346.7,287.5 346.2,287.9 C345.7,288.3 345.0,288.6 344.5,288.8 C343.9,288.9 343.2,288.9 342.7,288.8 C342.1,288.6 341.6,288.3 341.3,287.9 C341.0,287.5 340.8,287.0 340.8,286.4 C340.8,285.9 340.9,285.2 341.2,284.7 C341.5,284.1 341.9,283.6 342.4,283.2 C342.9,282.8 343.6,282.4 344.2,282.3 C344.8,282.1 345.5,282.1 346.0,282.3 C346.5,282.4 347.0,282.7 347.3,283.1 Z" fill="#e32227" fill-opacity="0.43" filter="url(#b3)"/>
<path d="M399.9,275.2 C400.1,275.4 400.1,275.9 399.9,276.3 C399.7,276.7 399.3,277.3 398.8,277.8 C398.3,278.3 397.6,278.9 397.0,279.3 C396.3,279.8 395.5,280.2 394.9,280.5 C394.2,280.7 393.5,280.9 393.1,280.9 C392.6,280.9 392.2,280.8 392.0,280.5 C391.9,280.3 391.9,279.9 392.1,279.4 C392.3,279.0 392.7,278.4 393.1,277.9 C393.6,277.4 394.3,276.8 395.0,276.4 C395.6,275.9 396.4,275.5 397.1,275.3 C397.7,275.0 398.4,274.8 398.9,274.8 C399.4,274.8 399.7,274.9 399.9,275.2 Z" fill="#a81b21" fill-opacity="0.37" filter="url(#b3)"/>
<path d="M394.1,251.5 C394.6,251.9 395.1,252.5 395.4,253.1 C395.6,253.6 395.8,254.3 395.8,254.8 C395.8,255.3 395.7,255.8 395.4,256.2 C395.1,256.5 394.6,256.8 394.1,256.9 C393.6,257.0 392.9,257.0 392.3,256.8 C391.7,256.6 391.1,256.2 390.5,255.8 C390.0,255.4 389.5,254.8 389.2,254.2 C388.9,253.7 388.8,253.0 388.8,252.5 C388.8,252.0 388.9,251.5 389.2,251.1 C389.5,250.8 390.0,250.5 390.5,250.4 C391.0,250.3 391.7,250.4 392.3,250.5 C392.9,250.7 393.5,251.1 394.1,251.5 Z" fill="#e32227" fill-opacity="0.45" filter="url(#b3)"/>
<path d="M373.0,259.2 C373.5,259.6 373.9,260.2 374.2,260.7 C374.4,261.2 374.6,261.8 374.6,262.2 C374.7,262.7 374.5,263.1 374.3,263.3 C374.0,263.6 373.6,263.8 373.2,263.8 C372.7,263.8 372.1,263.6 371.6,263.4 C371.1,263.1 370.5,262.7 370.0,262.3 C369.6,261.9 369.1,261.3 368.9,260.8 C368.6,260.3 368.4,259.7 368.4,259.2 C368.4,258.8 368.5,258.4 368.8,258.1 C369.0,257.8 369.4,257.7 369.9,257.7 C370.3,257.7 370.9,257.8 371.4,258.1 C371.9,258.3 372.5,258.7 373.0,259.2 Z" fill="#a81b21" fill-opacity="0.46" filter="url(#b3)"/>
<path d="M402.4,267.9 C402.6,268.3 402.5,268.9 402.2,269.4 C401.9,269.9 401.3,270.6 400.5,271.1 C399.8,271.7 398.8,272.2 397.9,272.6 C397.0,273.0 395.9,273.3 395.0,273.5 C394.2,273.6 393.2,273.6 392.6,273.5 C392.0,273.4 391.6,273.0 391.4,272.7 C391.2,272.3 391.3,271.7 391.6,271.2 C392.0,270.6 392.6,270.0 393.3,269.5 C394.0,268.9 395.0,268.4 395.9,268.0 C396.8,267.6 397.9,267.2 398.8,267.1 C399.7,266.9 400.6,266.9 401.2,267.1 C401.8,267.2 402.3,267.5 402.4,267.9 Z" fill="#f6901e" fill-opacity="0.28" filter="url(#b3)"/>
<path d="M341.8,247.9 C342.1,248.2 342.1,248.8 341.9,249.4 C341.7,250.1 341.1,250.9 340.5,251.7 C339.9,252.5 338.9,253.4 338.0,254.1 C337.1,254.8 336.1,255.5 335.2,256.0 C334.3,256.4 333.3,256.7 332.6,256.8 C332.0,256.9 331.4,256.7 331.1,256.4 C330.9,256.1 330.9,255.5 331.1,254.8 C331.3,254.2 331.8,253.3 332.4,252.6 C333.1,251.8 334.0,250.9 334.9,250.2 C335.8,249.5 336.9,248.8 337.8,248.3 C338.7,247.9 339.6,247.5 340.3,247.5 C341.0,247.4 341.5,247.5 341.8,247.9 Z" fill="#f6901e" fill-opacity="0.38" filter="url(#b3)"/>
<path d="M392.6,284.6 C393.0,284.8 393.2,285.2 393.3,285.7 C393.4,286.3 393.4,287.0 393.2,287.7 C393.0,288.3 392.6,289.2 392.2,289.8 C391.8,290.5 391.3,291.2 390.7,291.6 C390.2,292.1 389.6,292.5 389.1,292.6 C388.6,292.8 388.1,292.7 387.7,292.5 C387.4,292.3 387.1,291.9 387.0,291.4 C386.9,290.8 387.0,290.1 387.2,289.4 C387.3,288.8 387.7,287.9 388.1,287.3 C388.5,286.6 389.1,285.9 389.6,285.5 C390.1,285.0 390.8,284.6 391.3,284.5 C391.8,284.3 392.3,284.4 392.6,284.6 Z" fill="#f6901e" fill-opacity="0.45" filter="url(#b3)"/>
<path d="M372.1,300.8 C372.5,301.3 372.9,301.9 373.0,302.4 C373.2,303.0 373.2,303.7 373.1,304.2 C373.0,304.7 372.6,305.2 372.3,305.6 C371.9,305.9 371.3,306.2 370.8,306.2 C370.3,306.3 369.6,306.2 369.1,305.9 C368.5,305.7 367.9,305.3 367.5,304.8 C367.1,304.4 366.8,303.7 366.6,303.2 C366.5,302.6 366.4,301.9 366.6,301.4 C366.7,300.9 367.0,300.4 367.4,300.0 C367.8,299.7 368.3,299.5 368.9,299.4 C369.4,299.3 370.0,299.4 370.6,299.7 C371.1,299.9 371.7,300.3 372.1,300.8 Z" fill="#f6901e" fill-opacity="0.29" filter="url(#b3)"/>
<path d="M364.9,291.1 C365.2,291.2 365.5,291.6 365.7,292.1 C365.8,292.5 365.8,293.2 365.8,293.9 C365.7,294.5 365.5,295.4 365.2,296.0 C364.9,296.7 364.4,297.4 364.0,297.9 C363.6,298.5 363.1,298.9 362.6,299.1 C362.2,299.3 361.7,299.4 361.4,299.2 C361.0,299.1 360.7,298.7 360.6,298.2 C360.4,297.8 360.4,297.1 360.5,296.4 C360.5,295.8 360.8,294.9 361.1,294.3 C361.4,293.6 361.8,292.9 362.2,292.4 C362.6,291.8 363.2,291.4 363.6,291.2 C364.0,291.0 364.5,290.9 364.9,291.1 Z" fill="#ee5a24" fill-opacity="0.26" filter="url(#b3)"/>
<path d="M361.1,271.0 C361.4,271.4 361.5,272.0 361.6,272.4 C361.6,272.9 361.6,273.5 361.4,273.9 C361.2,274.3 360.9,274.7 360.5,274.9 C360.1,275.1 359.6,275.3 359.2,275.3 C358.7,275.2 358.2,275.1 357.8,274.8 C357.4,274.6 357.0,274.1 356.7,273.7 C356.4,273.3 356.2,272.7 356.2,272.3 C356.1,271.8 356.2,271.2 356.4,270.8 C356.6,270.4 356.9,270.0 357.3,269.8 C357.7,269.6 358.2,269.4 358.6,269.4 C359.1,269.5 359.6,269.6 360.0,269.9 C360.4,270.1 360.8,270.6 361.1,271.0 Z" fill="#a81b21" fill-opacity="0.47" filter="url(#b3)"/>
<path d="M358.0,317.5 C358.1,317.9 358.0,318.5 357.6,319.1 C357.2,319.6 356.4,320.3 355.5,320.9 C354.7,321.4 353.5,322.0 352.4,322.4 C351.3,322.8 350.1,323.1 349.0,323.2 C348.0,323.4 347.0,323.4 346.3,323.2 C345.7,323.0 345.2,322.6 345.0,322.2 C344.8,321.8 345.0,321.2 345.4,320.6 C345.8,320.1 346.6,319.4 347.4,318.8 C348.3,318.3 349.5,317.7 350.6,317.3 C351.6,316.9 352.9,316.6 353.9,316.5 C354.9,316.3 356.0,316.4 356.6,316.5 C357.3,316.7 357.8,317.1 358.0,317.5 Z" fill="#f6901e" fill-opacity="0.25" filter="url(#b3)"/>
<path d="M351.7,252.5 C352.3,252.9 352.7,253.6 352.9,254.3 C353.2,255.1 353.2,256.0 353.0,256.8 C352.8,257.7 352.3,258.6 351.8,259.4 C351.2,260.1 350.4,260.8 349.7,261.2 C348.9,261.6 348.0,261.9 347.3,261.9 C346.5,261.9 345.7,261.6 345.2,261.2 C344.6,260.8 344.2,260.1 344.0,259.4 C343.8,258.7 343.8,257.7 344.0,256.9 C344.1,256.0 344.6,255.1 345.1,254.4 C345.7,253.6 346.5,253.0 347.2,252.5 C348.0,252.1 348.9,251.9 349.6,251.8 C350.4,251.8 351.2,252.1 351.7,252.5 Z" fill="#f6901e" fill-opacity="0.54" filter="url(#b3)"/>
<path d="M398.4,265.9 C398.7,266.3 398.9,266.8 398.8,267.3 C398.8,267.9 398.6,268.5 398.2,269.1 C397.9,269.7 397.3,270.3 396.7,270.7 C396.2,271.2 395.4,271.5 394.8,271.7 C394.2,271.9 393.5,272.0 392.9,271.9 C392.4,271.8 391.9,271.5 391.6,271.2 C391.4,270.8 391.2,270.3 391.3,269.7 C391.3,269.2 391.5,268.5 391.9,268.0 C392.2,267.4 392.8,266.8 393.4,266.4 C393.9,265.9 394.6,265.5 395.3,265.3 C395.9,265.1 396.6,265.1 397.1,265.2 C397.7,265.3 398.2,265.5 398.4,265.9 Z" fill="#e32227" fill-opacity="0.44" filter="url(#b3)"/>
<path d="M362.2,302.3 C362.3,302.7 362.3,303.1 362.2,303.5 C362.0,303.8 361.7,304.3 361.3,304.6 C361.0,304.9 360.5,305.2 360.0,305.4 C359.5,305.6 358.9,305.7 358.4,305.7 C357.9,305.7 357.4,305.6 357.0,305.4 C356.6,305.3 356.4,304.9 356.2,304.6 C356.1,304.3 356.1,303.9 356.2,303.5 C356.4,303.1 356.7,302.7 357.1,302.3 C357.4,302.0 357.9,301.7 358.4,301.5 C358.9,301.3 359.5,301.2 360.0,301.2 C360.5,301.2 361.0,301.3 361.4,301.5 C361.8,301.7 362.0,302.0 362.2,302.3 Z" fill="#f6901e" fill-opacity="0.41" filter="url(#b3)"/>
<path d="M372.6,227.4 C373.1,227.6 373.6,228.0 373.8,228.6 C374.0,229.2 374.2,230.0 374.1,230.8 C374.1,231.5 373.8,232.5 373.5,233.3 C373.2,234.0 372.7,234.9 372.1,235.4 C371.6,236.0 370.9,236.5 370.4,236.7 C369.8,236.9 369.1,236.9 368.7,236.7 C368.2,236.5 367.8,236.1 367.5,235.5 C367.3,234.9 367.1,234.1 367.2,233.3 C367.2,232.6 367.5,231.6 367.8,230.8 C368.1,230.1 368.7,229.2 369.2,228.7 C369.7,228.1 370.4,227.6 371.0,227.4 C371.5,227.2 372.2,227.2 372.6,227.4 Z" fill="#f6901e" fill-opacity="0.39" filter="url(#b3)"/>
<path d="M380.3,260.8 C380.8,261.0 381.3,261.5 381.6,262.1 C381.9,262.7 382.1,263.6 382.1,264.4 C382.0,265.3 381.8,266.3 381.5,267.2 C381.2,268.1 380.6,269.0 380.1,269.6 C379.5,270.3 378.8,270.8 378.2,271.0 C377.5,271.3 376.8,271.3 376.3,271.1 C375.8,270.9 375.3,270.4 375.0,269.8 C374.7,269.2 374.5,268.3 374.5,267.5 C374.6,266.6 374.8,265.6 375.1,264.7 C375.5,263.9 376.0,263.0 376.5,262.3 C377.1,261.7 377.8,261.1 378.4,260.9 C379.1,260.6 379.8,260.6 380.3,260.8 Z" fill="#e32227" fill-opacity="0.54" filter="url(#b3)"/>
<path d="M376.8,256.1 C377.1,256.2 377.2,256.6 377.2,257.1 C377.2,257.6 377.1,258.3 376.9,259.0 C376.7,259.7 376.3,260.6 375.9,261.3 C375.5,262.0 374.9,262.8 374.4,263.4 C374.0,263.9 373.4,264.4 373.0,264.7 C372.6,264.9 372.2,265.0 371.9,264.8 C371.7,264.7 371.5,264.3 371.5,263.8 C371.5,263.3 371.6,262.6 371.8,261.9 C372.0,261.2 372.4,260.3 372.8,259.6 C373.3,258.9 373.8,258.1 374.3,257.5 C374.7,257.0 375.3,256.5 375.7,256.3 C376.1,256.0 376.5,256.0 376.8,256.1 Z" fill="#f6901e" fill-opacity="0.5" filter="url(#b3)"/>
<path d="M339.2,276.8 C339.5,277.0 339.7,277.4 339.6,277.9 C339.6,278.4 339.4,279.2 339.1,279.9 C338.8,280.6 338.3,281.5 337.7,282.2 C337.2,282.9 336.5,283.6 336.0,284.2 C335.4,284.7 334.7,285.1 334.2,285.3 C333.7,285.5 333.3,285.4 333.0,285.2 C332.7,285.0 332.6,284.6 332.6,284.1 C332.6,283.6 332.8,282.8 333.2,282.1 C333.5,281.4 334.0,280.5 334.5,279.8 C335.0,279.1 335.7,278.4 336.3,277.8 C336.9,277.3 337.5,276.9 338.0,276.7 C338.5,276.6 339.0,276.6 339.2,276.8 Z" fill="#a81b21" fill-opacity="0.44" filter="url(#b3)"/>
<path d="M404.2,234.4 C404.4,234.6 404.5,235.1 404.3,235.6 C404.1,236.1 403.7,236.8 403.2,237.5 C402.7,238.1 401.9,238.9 401.2,239.5 C400.5,240.2 399.6,240.8 398.9,241.3 C398.2,241.7 397.4,242.0 396.9,242.1 C396.4,242.2 395.9,242.2 395.7,241.9 C395.5,241.7 395.5,241.3 395.7,240.7 C395.8,240.2 396.3,239.5 396.8,238.8 C397.3,238.2 398.0,237.4 398.7,236.8 C399.5,236.1 400.3,235.5 401.0,235.1 C401.8,234.6 402.5,234.3 403.1,234.2 C403.6,234.1 404.0,234.1 404.2,234.4 Z" fill="#f6901e" fill-opacity="0.32" filter="url(#b3)"/>
<path d="M393.2,246.6 C393.6,247.1 393.9,247.8 394.0,248.3 C394.1,248.9 394.0,249.6 393.8,250.2 C393.6,250.7 393.2,251.2 392.8,251.6 C392.3,251.9 391.7,252.2 391.2,252.2 C390.6,252.3 389.9,252.2 389.4,252.0 C388.8,251.7 388.3,251.3 387.9,250.8 C387.5,250.3 387.2,249.7 387.1,249.1 C387.0,248.5 387.1,247.8 387.3,247.3 C387.5,246.8 387.9,246.2 388.3,245.9 C388.8,245.5 389.4,245.3 390.0,245.2 C390.5,245.1 391.2,245.3 391.8,245.5 C392.3,245.7 392.9,246.2 393.2,246.6 Z" fill="#f6901e" fill-opacity="0.43" filter="url(#b3)"/>
<path d="M363.3,279.0 C363.6,279.3 363.7,279.9 363.5,280.5 C363.3,281.2 362.9,282.0 362.3,282.7 C361.7,283.4 360.9,284.3 360.0,284.9 C359.2,285.6 358.2,286.2 357.4,286.6 C356.5,287.0 355.6,287.2 355.0,287.2 C354.4,287.3 353.8,287.1 353.5,286.7 C353.3,286.4 353.2,285.8 353.4,285.2 C353.6,284.6 354.0,283.8 354.6,283.0 C355.2,282.3 356.0,281.5 356.8,280.8 C357.6,280.2 358.7,279.6 359.5,279.2 C360.3,278.8 361.2,278.5 361.9,278.5 C362.5,278.5 363.1,278.7 363.3,279.0 Z" fill="#f6901e" fill-opacity="0.38" filter="url(#b3)"/>
<path d="M360.1,322.8 C360.2,323.0 360.1,323.3 360.0,323.5 C359.8,323.8 359.6,324.1 359.2,324.3 C358.9,324.6 358.4,324.8 358.0,325.0 C357.6,325.2 357.1,325.3 356.7,325.4 C356.3,325.5 355.8,325.5 355.5,325.4 C355.3,325.3 355.0,325.2 355.0,325.0 C354.9,324.8 354.9,324.5 355.1,324.3 C355.2,324.0 355.5,323.7 355.8,323.5 C356.2,323.2 356.6,323.0 357.1,322.8 C357.5,322.6 358.0,322.5 358.4,322.4 C358.8,322.3 359.2,322.3 359.5,322.4 C359.8,322.5 360.0,322.6 360.1,322.8 Z" fill="#a81b21" fill-opacity="0.42" filter="url(#b3)"/>
<path d="M336.8,253.4 C337.2,253.9 337.6,254.4 337.8,254.9 C338.1,255.4 338.2,256.0 338.2,256.4 C338.2,256.8 338.0,257.3 337.8,257.5 C337.5,257.8 337.1,257.9 336.6,257.9 C336.2,257.9 335.6,257.8 335.2,257.5 C334.7,257.3 334.1,256.9 333.7,256.5 C333.3,256.0 332.9,255.5 332.6,255.0 C332.4,254.5 332.3,253.9 332.3,253.5 C332.3,253.0 332.5,252.6 332.7,252.4 C333.0,252.1 333.4,252.0 333.8,251.9 C334.3,251.9 334.8,252.1 335.3,252.3 C335.8,252.6 336.4,253.0 336.8,253.4 Z" fill="#ee5a24" fill-opacity="0.52" filter="url(#b3)"/>
<path d="M342.7,256.6 C343.0,256.9 343.3,257.4 343.3,258.0 C343.3,258.6 343.1,259.4 342.8,260.1 C342.5,260.9 341.9,261.7 341.3,262.4 C340.8,263.1 340.0,263.7 339.3,264.2 C338.6,264.6 337.9,264.9 337.3,265.0 C336.7,265.1 336.1,264.9 335.8,264.6 C335.4,264.3 335.2,263.8 335.2,263.2 C335.2,262.6 335.4,261.8 335.7,261.0 C336.0,260.3 336.5,259.5 337.1,258.8 C337.7,258.1 338.5,257.4 339.1,257.0 C339.8,256.6 340.6,256.3 341.2,256.2 C341.8,256.1 342.3,256.3 342.7,256.6 Z" fill="#e32227" fill-opacity="0.35" filter="url(#b3)"/>
<path d="M365.5,307.2 C365.7,307.4 365.8,307.8 365.7,308.2 C365.7,308.6 365.5,309.2 365.2,309.6 C364.9,310.1 364.4,310.7 364.0,311.1 C363.5,311.5 362.9,312.0 362.4,312.2 C361.9,312.5 361.4,312.7 361.0,312.7 C360.6,312.7 360.2,312.6 360.0,312.4 C359.8,312.2 359.7,311.8 359.8,311.4 C359.8,311.0 360.0,310.4 360.3,310.0 C360.6,309.5 361.1,308.9 361.5,308.5 C362.0,308.1 362.6,307.6 363.0,307.4 C363.5,307.1 364.1,306.9 364.5,306.9 C364.9,306.9 365.3,307.0 365.5,307.2 Z" fill="#e32227" fill-opacity="0.3" filter="url(#b3)"/>
<path d="M394.8,232.8 C395.1,233.0 395.2,233.4 395.2,233.8 C395.2,234.2 395.1,234.7 394.8,235.2 C394.6,235.6 394.2,236.2 393.8,236.5 C393.4,236.9 392.9,237.3 392.4,237.5 C391.9,237.7 391.4,237.8 391.0,237.8 C390.6,237.8 390.2,237.7 390.0,237.4 C389.8,237.2 389.6,236.8 389.6,236.4 C389.6,236.0 389.8,235.4 390.0,235.0 C390.2,234.5 390.6,234.0 391.0,233.6 C391.4,233.3 392.0,232.9 392.4,232.7 C392.9,232.5 393.4,232.3 393.8,232.4 C394.2,232.4 394.6,232.5 394.8,232.8 Z" fill="#a81b21" fill-opacity="0.27" filter="url(#b3)"/>
<path d="M392.4,239.6 C392.9,240.8 392.9,242.4 392.5,243.8 C392.1,245.2 391.2,246.7 390.1,247.8 C388.9,248.9 387.3,249.9 385.7,250.5 C384.2,251.1 382.3,251.4 380.7,251.2 C379.1,251.1 377.4,250.5 376.2,249.7 C375.1,248.9 374.1,247.7 373.6,246.4 C373.1,245.2 373.1,243.6 373.5,242.2 C373.9,240.8 374.8,239.3 375.9,238.2 C377.1,237.1 378.7,236.1 380.3,235.5 C381.8,234.9 383.7,234.6 385.3,234.8 C386.9,234.9 388.6,235.5 389.8,236.3 C390.9,237.1 391.9,238.3 392.4,239.6 Z" fill="#a81b21" filter="url(#b4)"/>
<path d="M386.0,245.0 C386.0,245.8 385.7,246.8 385.3,247.5 C384.9,248.2 384.2,248.9 383.5,249.3 C382.8,249.7 381.8,250.0 381.0,250.0 C380.2,250.0 379.2,249.7 378.5,249.3 C377.8,248.9 377.1,248.2 376.7,247.5 C376.3,246.8 376.0,245.8 376.0,245.0 C376.0,244.2 376.3,243.2 376.7,242.5 C377.1,241.8 377.8,241.1 378.5,240.7 C379.2,240.3 380.2,240.0 381.0,240.0 C381.8,240.0 382.8,240.3 383.5,240.7 C384.2,241.1 384.9,241.8 385.3,242.5 C385.7,243.2 386.0,244.2 386.0,245.0 Z" fill="#7d1518" fill-opacity="0.8" filter="url(#b3)"/>
<path d="M364.0,297.0 C367.0,295.2 374.0,297.7 375.0,301.0 C376.0,304.3 372.0,311.8 370.0,317.0 C368.0,322.2 365.8,330.0 363.0,332.0 C360.2,334.0 354.0,332.3 353.0,329.0 C352.0,325.7 355.2,317.3 357.0,312.0 C358.8,306.7 361.0,298.8 364.0,297.0 Z" fill="#a81b21" filter="url(#b3)"/>
<path d="M366.0,305.0 C367.2,304.0 369.3,304.5 369.0,307.0 C368.7,309.5 365.5,316.8 364.0,320.0 C362.5,323.2 361.0,325.5 360.0,326.0 C359.0,326.5 357.7,325.2 358.0,323.0 C358.3,320.8 360.7,316.0 362.0,313.0 C363.3,310.0 364.8,306.0 366.0,305.0 Z" fill="#7d1518" fill-opacity="0.8" filter="url(#b2)"/>
<path d="M486.0,196.0 C489.0,193.7 492.2,191.3 494.0,192.0 C495.8,192.7 497.3,197.0 497.0,200.0 C496.7,203.0 494.5,208.0 492.0,210.0 C489.5,212.0 484.7,212.7 482.0,212.0 C479.3,211.3 475.3,208.7 476.0,206.0 C476.7,203.3 483.0,198.3 486.0,196.0 Z" fill="#cfdd2c" fill-opacity="0.8" filter="url(#b4)"/>
<path d="M404.0,226.0 C405.0,222.3 412.0,214.5 416.0,210.0 C420.0,205.5 424.3,202.8 428.0,199.0 C431.7,195.2 435.0,191.2 438.0,187.0 C441.0,182.8 442.7,176.0 446.0,174.0 C449.3,172.0 453.7,174.0 458.0,175.0 C462.3,176.0 468.0,177.8 472.0,180.0 C476.0,182.2 481.3,185.3 482.0,188.0 C482.7,190.7 479.3,193.7 476.0,196.0 C472.7,198.3 466.7,200.0 462.0,202.0 C457.3,204.0 452.3,206.0 448.0,208.0 C443.7,210.0 440.3,211.7 436.0,214.0 C431.7,216.3 426.3,219.0 422.0,222.0 C417.7,225.0 413.0,231.3 410.0,232.0 C407.0,232.7 403.0,229.7 404.0,226.0 Z" fill="#fbc019" filter="url(#b4)"/>
<path d="M408.0,224.0 C409.0,221.3 416.0,214.2 420.0,210.0 C424.0,205.8 428.3,202.8 432.0,199.0 C435.7,195.2 439.2,190.7 442.0,187.0 C444.8,183.3 446.0,178.5 449.0,177.0 C452.0,175.5 456.5,177.0 460.0,178.0 C463.5,179.0 469.0,180.7 470.0,183.0 C471.0,185.3 468.7,189.3 466.0,192.0 C463.3,194.7 458.0,196.7 454.0,199.0 C450.0,201.3 446.3,203.5 442.0,206.0 C437.7,208.5 432.7,210.7 428.0,214.0 C423.3,217.3 417.3,224.3 414.0,226.0 C410.7,227.7 407.0,226.7 408.0,224.0 Z" fill="#f6901e" filter="url(#b4)"/>
<path d="M410.0,226.0 C412.3,223.7 419.7,216.2 424.0,212.0 C428.3,207.8 432.0,204.7 436.0,201.0 C440.0,197.3 446.0,191.8 448.0,190.0" fill="none" stroke="#ee5a24" stroke-width="7" stroke-linecap="round" stroke-linejoin="round" stroke-opacity="0.9" filter="url(#b4)"/>
<path d="M438.1,200.9 C438.6,201.4 438.7,202.2 438.6,203.1 C438.5,203.9 438.0,205.1 437.3,206.1 C436.6,207.1 435.6,208.2 434.6,209.1 C433.5,209.9 432.3,210.7 431.2,211.2 C430.1,211.7 428.9,212.0 428.0,212.0 C427.1,212.0 426.3,211.7 425.9,211.1 C425.4,210.6 425.3,209.8 425.4,208.9 C425.5,208.1 426.0,206.9 426.7,205.9 C427.4,204.9 428.4,203.8 429.4,202.9 C430.5,202.1 431.7,201.3 432.8,200.8 C433.9,200.3 435.1,200.0 436.0,200.0 C436.9,200.0 437.7,200.3 438.1,200.9 Z" fill="#e32227" fill-opacity="0.85" filter="url(#b3)"/>
<path d="M456.0,178.0 C456.5,180.0 458.0,186.3 459.0,190.0 C460.0,193.7 461.5,198.3 462.0,200.0" fill="none" stroke="#ee5a24" stroke-width="6" stroke-linecap="round" stroke-linejoin="round" stroke-opacity="0.8" filter="url(#b4)"/>
<path d="M461.0,186.5 C460.8,187.5 460.4,188.6 460.0,189.4 C459.6,190.2 459.1,191.0 458.6,191.4 C458.1,191.8 457.5,192.0 457.0,191.9 C456.5,191.8 456.0,191.4 455.6,190.9 C455.3,190.3 455.0,189.4 454.9,188.5 C454.8,187.6 454.9,186.5 455.0,185.5 C455.2,184.5 455.6,183.4 456.0,182.6 C456.4,181.8 456.9,181.0 457.4,180.6 C457.9,180.2 458.5,180.0 459.0,180.1 C459.5,180.2 460.0,180.6 460.4,181.1 C460.7,181.7 461.0,182.6 461.1,183.5 C461.2,184.4 461.1,185.5 461.0,186.5 Z" fill="#e32227" fill-opacity="0.6" filter="url(#b3)"/>
<path d="M382.0,204.0 C382.3,200.7 387.3,192.7 390.0,190.0 C392.7,187.3 395.7,187.0 398.0,188.0 C400.3,189.0 402.7,193.3 404.0,196.0 C405.3,198.7 407.0,202.2 406.0,204.0 C405.0,205.8 401.0,206.0 398.0,207.0 C395.0,208.0 390.7,210.5 388.0,210.0 C385.3,209.5 381.7,207.3 382.0,204.0 Z" fill="#3460ae" fill-opacity="0.6" filter="url(#b6)"/>
<path d="M378.2,215.5 C377.2,216.6 376.0,217.9 375.0,218.7 C373.9,219.5 372.7,220.1 371.8,220.4 C370.9,220.6 370.0,220.5 369.5,220.1 C368.9,219.7 368.6,218.9 368.6,217.9 C368.6,217.0 369.0,215.6 369.5,214.4 C370.0,213.2 370.9,211.7 371.8,210.5 C372.8,209.4 374.0,208.1 375.0,207.3 C376.1,206.5 377.3,205.9 378.2,205.6 C379.1,205.4 380.0,205.5 380.5,205.9 C381.1,206.3 381.4,207.1 381.4,208.1 C381.4,209.0 381.0,210.4 380.5,211.6 C380.0,212.8 379.1,214.3 378.2,215.5 Z" fill="#262874" filter="url(#b2)"/>
<path d="M464.2,246.2 C464.4,246.6 464.2,247.4 463.7,248.1 C463.2,248.8 462.2,249.7 461.2,250.5 C460.1,251.2 458.6,252.1 457.3,252.7 C455.9,253.4 454.3,253.9 453.0,254.3 C451.7,254.6 450.4,254.7 449.6,254.7 C448.7,254.6 448.1,254.3 447.8,253.8 C447.6,253.4 447.8,252.6 448.3,251.9 C448.8,251.2 449.8,250.3 450.8,249.5 C451.9,248.8 453.4,247.9 454.7,247.3 C456.1,246.6 457.7,246.1 459.0,245.7 C460.3,245.4 461.6,245.3 462.4,245.3 C463.3,245.4 463.9,245.7 464.2,246.2 Z" fill="#3b7cc4" fill-opacity="0.8" filter="url(#b3)"/><path d="M214.5,124.7 L214.1,125.9 L213.6,127.0 L212.9,128.1 L212.0,129.0 L210.8,129.5 L209.5,129.6 L208.2,129.4 L207.0,129.0 L205.8,128.4 L204.8,127.4 L204.2,126.1 L204.2,124.7 L204.6,123.4 L205.2,122.2 L205.9,121.1 L206.9,120.2 L208.2,119.7 L209.5,119.7 L210.8,120.0 L211.9,120.5 L213.1,121.1 L214.1,122.1 L214.6,123.3Z M213.1,124.7 L213.2,125.7 L212.9,126.6 L212.1,127.3 L211.3,127.8 L210.4,128.2 L209.5,128.4 L208.5,128.4 L207.7,127.9 L207.2,127.0 L206.9,126.2 L206.7,125.5 L206.4,124.7 L206.4,123.9 L206.7,123.1 L207.3,122.5 L208.0,122.0 L208.7,121.6 L209.5,121.2 L210.5,121.1 L211.4,121.5 L212.0,122.2 L212.4,123.0 L212.8,123.8Z M212.0,120.9 L212.9,121.3 L214.0,122.2 L215.5,123.1 L217.1,123.9 L218.2,124.6 L219.3,125.7 L220.3,126.6 L221.4,127.3 L222.3,127.9 L222.3,129.4 L221.3,130.5 L220.0,130.9 L219.0,131.0 L217.6,130.9 L216.2,130.4 L215.1,129.5 L214.1,128.8 L212.6,128.4 L211.4,128.1 L210.8,127.1 L211.0,125.9 L211.3,124.5 L211.3,123.0 L211.4,121.7Z M218.1,127.4 L219.3,126.5 L220.3,125.9 L221.4,125.6 L222.7,125.7 L224.0,125.8 L225.3,125.5 L226.7,125.1 L228.1,125.1 L229.6,125.4 L231.0,125.5 L232.5,125.2 L233.9,125.0 L235.2,125.1 L236.6,125.4 L237.8,125.5 L239.0,125.2 L240.2,125.0 L241.5,125.2 L242.8,125.5 L244.0,125.4 L245.4,125.0 L246.7,124.7 L247.9,124.8 L249.2,124.9 L250.5,124.7 L251.8,124.2 L253.0,124.0 L254.2,124.3 L255.3,124.5 L256.6,124.5 L258.0,124.3 L259.3,124.6 L260.5,125.2 L261.7,125.8 L263.0,126.0 L264.3,126.1 L265.5,126.5 L266.6,127.3 L267.6,127.8 L268.8,127.9 L269.9,127.9 L271.0,128.3 L272.4,129.1 L273.9,129.6 L275.4,129.9 L276.9,130.3 L278.1,131.1 L279.1,132.2 L280.1,133.2 L281.3,134.0 L282.3,135.2 L282.7,136.7 L282.9,138.3 L283.2,139.7 L283.7,141.1 L283.9,142.5 L283.6,143.9 L283.2,145.2 L282.9,146.6 L282.6,148.0 L281.8,149.3 L280.8,150.3 L279.7,151.2 L279.0,152.4 L278.5,153.5 L277.6,154.5 L276.5,155.3 L275.4,156.1 L274.3,157.2 L272.9,158.3 L271.2,158.9 L270.0,158.9 L268.9,159.2 L267.7,159.8 L266.5,160.3 L265.1,160.4 L263.7,160.2 L262.2,160.3 L260.8,160.6 L259.3,160.7 L257.9,160.3 L256.5,159.6 L255.3,159.2 L254.1,158.9 L252.9,158.4 L251.9,157.5 L250.9,156.6 L249.8,156.0 L248.6,155.7 L247.4,155.1 L246.5,154.3 L245.4,153.5 L244.1,153.2 L242.8,153.1 L241.6,152.7 L240.5,151.9 L239.3,151.3 L238.0,150.9 L236.6,150.6 L235.4,149.8 L234.4,148.9 L233.4,148.0 L232.3,147.4 L231.2,146.8 L230.3,145.9 L229.7,144.9 L229.0,144.2 L227.6,143.5 L226.4,142.9 L225.4,142.1 L224.4,141.2 L223.4,140.6 L222.1,140.2 L221.0,139.5 L220.2,138.5 L219.3,137.1 L218.1,135.6 L216.8,134.0 L216.0,131.9 L216.5,129.2Z M219.2,128.5 L220.2,128.2 L221.1,128.1 L222.1,127.8 L223.1,127.3 L224.3,127.0 L225.5,126.8 L226.9,126.6 L228.2,126.1 L229.6,125.6 L231.0,125.2 L232.5,125.2 L233.9,125.2 L235.2,125.0 L236.5,124.8 L237.7,125.0 L239.0,125.4 L240.2,125.8 L241.5,125.9 L242.7,126.1 L244.0,126.4 L245.2,126.8 L246.5,127.0 L247.8,126.8 L249.0,126.7 L250.3,126.7 L251.5,126.8 L252.7,126.6 L254.0,126.3 L255.1,126.1 L256.4,126.3 L257.7,126.5 L259.0,126.6 L260.3,126.6 L261.6,126.8 L262.8,127.3 L264.0,127.7 L265.2,127.9 L266.4,128.0 L267.6,128.2 L268.6,128.6 L269.7,128.9 L270.8,128.9 L272.4,129.1 L273.9,129.6 L275.2,130.4 L276.4,131.1 L277.7,131.7 L278.8,132.5 L279.6,133.6 L280.1,135.0 L280.6,136.2 L281.1,137.4 L281.5,138.8 L281.6,140.2 L281.5,141.5 L281.6,142.7 L281.9,143.9 L282.1,145.0 L281.8,146.2 L281.4,147.4 L280.9,148.6 L280.5,150.0 L279.8,151.3 L278.9,152.2 L278.0,153.0 L277.1,154.0 L276.3,155.0 L275.2,155.8 L273.8,156.3 L272.3,156.6 L270.7,157.1 L269.7,157.5 L268.6,157.6 L267.3,157.6 L266.1,157.8 L264.8,158.2 L263.5,158.6 L262.2,158.8 L260.8,158.8 L259.4,158.8 L258.0,158.9 L256.6,158.8 L255.5,158.4 L254.4,157.7 L253.3,157.2 L252.2,156.7 L251.1,156.2 L250.1,155.4 L249.1,154.5 L248.0,154.0 L246.8,153.6 L245.6,153.2 L244.5,152.6 L243.3,152.0 L242.1,151.7 L240.7,151.5 L239.5,151.1 L238.4,150.3 L237.3,149.5 L236.1,148.9 L234.9,148.3 L233.9,147.4 L233.1,146.3 L232.2,145.3 L231.3,144.6 L230.4,143.9 L229.7,143.2 L228.6,142.1 L227.4,141.2 L226.1,140.8 L224.9,140.4 L223.9,139.8 L223.1,139.1 L222.1,138.4 L221.1,137.8 L220.0,136.6 L219.1,135.1 L218.4,133.3 L218.0,131.6 L218.1,129.8Z M219.9,129.2 L220.8,129.4 L221.6,129.3 L222.5,129.2 L223.6,129.3 L224.7,129.5 L226.0,129.5 L227.2,129.1 L228.5,128.6 L229.9,128.3 L231.3,128.1 L232.6,127.6 L234.0,127.0 L235.3,126.4 L236.6,126.1 L237.8,126.1 L239.0,125.9 L240.2,125.7 L241.5,125.6 L242.7,125.9 L244.0,126.3 L245.3,126.5 L246.5,126.5 L247.8,126.7 L249.0,127.1 L250.2,127.5 L251.4,127.6 L252.7,127.5 L253.8,127.6 L255.0,127.9 L256.2,128.2 L257.5,128.3 L258.9,128.3 L260.1,128.5 L261.3,129.0 L262.5,129.4 L263.8,129.5 L264.9,129.5 L266.1,129.8 L267.1,130.2 L268.2,130.5 L269.2,130.4 L270.3,130.3 L271.8,130.7 L273.2,131.2 L274.5,131.6 L275.9,131.9 L277.2,132.4 L278.2,133.3 L278.9,134.3 L279.7,135.3 L280.4,136.3 L280.9,137.5 L281.0,138.9 L281.0,140.3 L281.1,141.6 L281.3,142.8 L281.3,143.9 L281.0,144.8 L280.7,145.8 L280.5,146.9 L280.2,148.1 L279.5,149.2 L278.6,150.1 L277.8,151.1 L277.1,152.1 L276.3,153.2 L275.4,154.0 L274.2,154.5 L273.1,154.9 L271.8,155.5 L270.3,155.9 L269.3,155.8 L268.1,155.6 L267.0,155.7 L265.8,156.1 L264.6,156.4 L263.3,156.5 L262.0,156.6 L260.8,156.9 L259.4,157.4 L258.1,157.7 L256.9,157.6 L255.7,157.3 L254.5,157.2 L253.3,157.1 L252.2,156.7 L251.1,156.0 L250.1,155.2 L249.1,154.7 L247.9,154.1 L246.9,153.4 L246.0,152.5 L245.0,151.6 L243.8,151.1 L242.7,150.7 L241.7,150.0 L240.7,149.1 L239.6,148.4 L238.4,147.8 L237.2,147.2 L236.2,146.4 L235.3,145.4 L234.3,144.6 L233.2,144.0 L232.1,143.4 L231.3,142.7 L230.5,141.9 L229.1,141.2 L227.7,140.7 L226.4,140.3 L225.4,139.8 L224.4,139.2 L223.3,138.8 L222.2,138.4 L221.2,137.7 L220.4,136.3 L219.5,134.8 L218.7,133.2 L218.2,131.6 L218.6,130.0Z M221.6,130.9 L221.5,130.8 L221.9,130.2 L222.6,129.7 L223.6,129.5 L224.7,129.2 L225.8,128.7 L227.1,128.2 L228.4,128.1 L229.9,128.3 L231.3,128.4 L232.7,128.3 L234.1,128.2 L235.4,128.4 L236.7,128.7 L237.8,128.8 L239.0,128.5 L240.2,128.3 L241.4,128.5 L242.6,128.7 L243.9,128.6 L245.1,128.4 L246.4,128.3 L247.6,128.5 L248.9,128.8 L250.1,128.8 L251.3,128.6 L252.5,128.6 L253.7,129.0 L254.8,129.3 L256.1,129.4 L257.4,129.4 L258.7,129.6 L259.9,130.1 L261.1,130.6 L262.4,130.7 L263.6,130.6 L264.7,130.9 L265.8,131.2 L266.9,131.4 L268.0,131.2 L269.1,131.0 L270.0,131.2 L271.4,131.8 L272.7,132.3 L274.0,132.6 L275.2,133.2 L276.0,134.1 L276.6,135.1 L277.1,136.0 L277.8,136.7 L278.3,137.6 L278.6,138.6 L278.8,139.7 L279.4,140.7 L280.1,141.8 L280.6,142.8 L280.7,143.9 L280.7,144.8 L280.8,145.8 L280.6,147.0 L280.0,147.9 L278.9,148.7 L277.8,149.3 L276.9,150.1 L276.0,151.0 L275.0,151.7 L273.9,152.2 L273.0,152.7 L272.3,153.5 L271.4,154.3 L270.0,154.8 L269.1,155.0 L268.1,155.3 L267.0,155.9 L265.9,156.4 L264.6,156.5 L263.3,156.4 L262.0,156.5 L260.8,156.7 L259.5,156.7 L258.3,156.4 L257.1,155.9 L256.1,155.7 L255.0,155.6 L253.9,155.3 L252.9,154.7 L252.0,154.1 L250.8,153.7 L249.6,153.5 L248.5,153.0 L247.5,152.3 L246.4,151.7 L245.1,151.3 L243.8,151.1 L242.8,150.6 L241.8,149.8 L240.8,149.0 L239.6,148.4 L238.4,147.8 L237.5,146.8 L236.7,145.7 L235.8,144.7 L234.7,144.0 L233.7,143.3 L232.8,142.5 L232.0,141.6 L231.1,141.1 L229.5,140.6 L228.0,140.2 L226.9,139.6 L225.9,138.9 L224.9,138.5 L223.9,138.1 L223.2,137.4 L222.8,136.4 L222.4,134.9 L221.7,133.5 L221.0,132.3 L220.8,131.3 L221.2,131.0Z M221.5,130.8 L221.6,131.0 L222.2,131.0 L223.0,130.9 L223.9,130.6 L224.9,130.4 L226.1,130.3 L227.4,130.4 L228.7,130.2 L230.0,129.9 L231.4,129.6 L232.8,129.6 L234.1,129.5 L235.5,129.3 L236.7,129.0 L237.8,128.8 L239.0,128.8 L240.2,128.9 L241.4,128.8 L242.6,128.6 L243.9,128.7 L245.1,128.9 L246.3,129.2 L247.6,129.3 L248.8,129.4 L250.0,129.6 L251.2,130.1 L252.4,130.4 L253.5,130.5 L254.7,130.6 L256.0,130.9 L257.2,131.3 L258.5,131.5 L259.8,131.5 L261.0,131.5 L262.2,131.7 L263.4,131.9 L264.5,132.0 L265.7,131.9 L266.8,131.8 L267.8,132.0 L268.7,132.3 L269.6,132.4 L271.1,132.6 L272.4,133.0 L273.5,133.6 L274.5,134.3 L275.5,134.8 L276.4,135.4 L277.1,136.1 L277.5,137.0 L277.8,137.9 L278.3,138.8 L278.7,139.8 L279.0,140.9 L278.9,142.0 L278.9,143.0 L279.1,143.9 L279.2,144.5 L279.0,145.2 L278.5,145.8 L278.1,146.5 L277.6,147.5 L277.0,148.5 L276.1,149.4 L275.2,150.2 L274.4,151.1 L273.8,152.1 L273.1,152.8 L272.2,153.3 L271.1,153.6 L269.8,154.0 L268.9,154.4 L267.9,154.6 L266.8,154.6 L265.6,154.5 L264.4,154.6 L263.2,154.8 L262.0,154.8 L260.7,154.6 L259.6,154.4 L258.5,154.3 L257.4,154.3 L256.4,154.1 L255.5,153.7 L254.6,153.4 L253.5,153.2 L252.4,153.0 L251.4,152.5 L250.4,152.0 L249.3,151.4 L248.1,151.1 L246.9,150.7 L245.9,150.0 L244.8,149.3 L243.9,148.7 L242.8,148.2 L241.7,147.6 L240.7,146.8 L239.7,145.9 L238.7,145.1 L237.5,144.4 L236.4,143.7 L235.5,142.9 L234.6,142.0 L233.6,141.4 L232.5,140.9 L231.6,140.4 L230.2,139.4 L229.0,138.6 L227.8,138.1 L226.7,137.7 L225.7,137.3 L225.1,136.7 L224.5,136.1 L223.9,135.6 L222.9,134.6 L222.0,133.3 L221.5,132.0 L221.4,131.2 L221.3,131.1Z M223.2,132.5 L222.7,133.2 L222.9,133.0 L223.6,133.0 L224.5,133.2 L225.4,133.2 L226.5,132.7 L227.6,132.0 L228.8,131.6 L230.2,131.5 L231.5,131.2 L232.9,130.6 L234.2,130.1 L235.5,130.1 L236.8,130.3 L237.9,130.4 L239.0,130.1 L240.2,129.9 L241.4,130.0 L242.6,130.3 L243.8,130.1 L245.1,129.7 L246.3,129.5 L247.5,129.7 L248.8,130.0 L250.0,130.1 L251.2,130.0 L252.4,130.3 L253.5,131.0 L254.6,131.6 L255.9,131.9 L257.2,131.9 L258.4,132.1 L259.6,132.5 L260.8,132.8 L262.1,132.6 L263.3,132.3 L264.4,132.4 L265.5,132.9 L266.5,133.2 L267.5,133.3 L268.4,133.4 L269.1,133.8 L270.3,134.7 L271.4,135.3 L272.6,135.5 L273.6,135.8 L274.4,136.3 L275.0,137.0 L275.7,137.4 L276.6,137.6 L277.3,138.2 L277.5,139.1 L277.5,140.2 L277.7,141.2 L278.1,142.1 L278.1,143.1 L277.7,143.8 L277.3,144.2 L277.4,144.6 L277.5,145.2 L277.3,146.0 L276.6,146.6 L275.8,147.4 L275.3,148.5 L274.7,149.7 L273.9,150.5 L272.8,151.0 L272.0,151.4 L271.4,151.9 L270.7,152.5 L269.4,152.8 L268.5,152.7 L267.6,152.9 L266.6,153.5 L265.5,154.1 L264.4,154.3 L263.1,154.2 L261.9,154.3 L260.7,154.6 L259.6,154.5 L258.5,154.0 L257.6,153.2 L256.7,152.8 L255.8,152.6 L254.9,152.2 L254.1,151.5 L253.3,150.9 L252.2,150.6 L251.0,150.5 L249.9,150.1 L249.0,149.4 L248.0,148.7 L246.8,148.3 L245.6,147.9 L244.6,147.3 L243.8,146.4 L242.9,145.6 L241.7,145.2 L240.4,144.9 L239.2,144.3 L238.1,143.6 L236.9,143.0 L235.5,142.8 L234.2,142.6 L233.2,141.9 L232.4,141.1 L231.5,140.4 L230.1,139.7 L228.8,138.9 L227.9,137.9 L227.2,136.9 L226.5,136.2 L225.7,135.9 L225.2,135.5 L224.9,134.8 L224.4,133.5 L223.5,132.4 L222.8,131.5 L222.7,131.0 L223.0,131.7Z M277.5,146.0 L278.3,144.7 L279.6,143.7 L281.0,143.2 L282.5,143.0 L284.1,142.6 L285.7,142.4 L287.3,142.4 L289.0,142.8 L290.6,143.3 L291.8,143.6 L292.9,143.9 L294.0,144.5 L294.9,145.3 L295.9,146.1 L296.9,146.9 L298.0,147.7 L298.9,148.6 L299.7,149.7 L300.6,150.7 L301.6,151.5 L302.7,152.3 L303.5,153.2 L304.3,154.1 L305.2,154.7 L306.2,155.1 L307.3,155.7 L308.4,156.4 L309.4,157.2 L310.5,157.9 L311.7,158.4 L312.8,159.0 L313.8,159.8 L314.9,160.6 L316.0,161.2 L317.2,161.6 L318.3,162.1 L319.4,162.7 L320.4,163.2 L321.9,163.5 L323.3,163.7 L324.7,164.0 L326.0,164.5 L327.4,165.0 L328.8,165.4 L330.2,165.9 L331.4,166.9 L332.3,168.2 L333.1,169.6 L333.8,170.9 L334.3,172.2 L334.6,173.7 L334.6,175.2 L334.9,176.7 L335.3,178.1 L335.6,179.5 L335.8,181.0 L335.8,182.4 L336.0,183.8 L336.3,185.2 L336.3,186.7 L335.9,188.2 L335.4,189.6 L334.8,191.0 L334.3,192.4 L333.5,193.6 L332.5,194.6 L331.5,195.6 L330.7,196.6 L330.1,197.7 L329.2,198.8 L328.2,199.9 L327.4,201.0 L326.7,202.3 L326.0,203.6 L325.1,204.7 L324.0,205.6 L322.8,206.5 L321.8,207.4 L320.6,208.2 L319.3,208.6 L317.9,208.9 L316.5,209.2 L315.0,209.5 L313.5,209.7 L312.0,209.5 L310.6,209.2 L309.3,208.9 L307.9,208.8 L306.6,208.4 L305.4,207.6 L304.3,206.8 L303.1,206.1 L301.8,205.5 L300.7,204.6 L299.8,203.5 L298.9,202.4 L298.0,201.5 L297.1,200.7 L296.3,199.8 L295.6,198.7 L294.8,197.7 L293.8,196.8 L292.8,196.0 L291.8,195.1 L291.0,194.0 L290.2,193.1 L289.1,192.2 L288.2,191.2 L287.5,190.2 L287.1,189.0 L286.5,187.9 L285.9,186.8 L285.3,185.7 L285.0,184.4 L284.7,183.2 L284.2,182.0 L283.6,181.0 L282.9,179.9 L282.4,178.8 L281.9,177.7 L281.1,176.7 L280.2,175.7 L279.4,174.7 L278.9,173.5 L278.5,172.3 L277.9,171.2 L277.4,170.0 L277.2,168.7 L277.3,167.4 L277.4,166.1 L277.4,164.8 L277.3,163.5 L277.4,162.2 L277.7,160.9 L277.7,159.5 L277.4,158.1 L277.1,156.7 L276.9,155.3 L276.9,153.8 L276.7,152.4 L276.3,151.0 L276.2,149.6 L276.4,148.3 L276.9,147.1Z M278.0,146.3 L279.1,145.5 L280.3,144.9 L281.4,144.0 L282.6,143.2 L284.1,143.0 L285.6,143.3 L287.2,143.6 L288.8,143.7 L290.4,143.9 L291.3,144.5 L292.0,145.4 L292.8,146.2 L293.9,146.6 L294.9,147.3 L295.7,148.3 L296.4,149.4 L297.3,150.4 L298.5,151.0 L299.6,151.8 L300.4,152.9 L301.2,154.0 L302.2,154.7 L303.5,155.2 L304.5,155.7 L305.3,156.5 L306.4,157.3 L307.7,157.7 L309.1,157.9 L310.3,158.3 L311.4,159.0 L312.6,159.6 L313.9,159.8 L315.2,159.9 L316.4,160.3 L317.4,161.1 L318.5,161.8 L319.7,162.1 L320.8,162.4 L322.0,163.2 L323.1,164.2 L324.3,165.0 L325.6,165.4 L326.9,165.9 L327.9,166.9 L328.7,168.0 L329.5,169.0 L330.6,169.7 L331.4,170.7 L331.8,171.9 L331.9,173.2 L332.4,174.4 L333.1,175.6 L333.6,176.9 L333.6,178.4 L333.6,179.8 L334.0,181.1 L334.6,182.5 L334.8,183.8 L334.5,185.0 L334.2,186.4 L334.3,187.8 L334.4,189.3 L334.0,190.7 L333.2,191.9 L332.5,193.1 L332.2,194.5 L331.8,195.8 L331.1,196.8 L330.1,197.7 L329.3,198.9 L328.7,200.2 L328.0,201.5 L326.9,202.5 L325.7,203.2 L324.6,204.1 L323.7,205.1 L322.5,205.9 L321.2,206.2 L319.9,206.2 L318.7,206.6 L317.5,207.3 L316.2,207.6 L314.8,207.4 L313.5,207.2 L312.2,207.3 L310.9,207.6 L309.7,207.4 L308.6,206.8 L307.5,206.2 L306.3,206.0 L304.9,205.7 L303.7,205.1 L302.7,204.1 L301.7,203.3 L300.4,202.7 L299.1,202.2 L298.2,201.4 L297.5,200.3 L296.7,199.4 L295.6,198.7 L294.5,198.0 L293.8,196.8 L293.3,195.6 L292.5,194.5 L291.5,193.7 L290.6,192.7 L290.1,191.5 L289.7,190.2 L289.0,189.2 L288.1,188.4 L287.4,187.4 L287.1,186.1 L286.8,184.9 L286.1,183.9 L285.2,182.9 L284.6,181.8 L284.4,180.6 L284.1,179.4 L283.4,178.4 L282.5,177.5 L282.1,176.4 L281.9,175.1 L281.6,173.9 L280.8,172.8 L280.1,171.8 L279.8,170.6 L279.8,169.3 L279.5,168.1 L278.9,167.0 L278.3,165.9 L278.3,164.6 L278.4,163.3 L278.3,162.1 L277.8,160.9 L277.4,159.6 L277.5,158.1 L277.7,156.7 L277.5,155.2 L277.1,153.8 L276.9,152.4 L277.2,151.0 L277.6,149.8 L277.6,148.6 L277.6,147.4Z M278.9,147.0 L279.8,146.2 L280.9,145.8 L281.9,145.2 L282.9,144.5 L284.2,144.1 L285.6,144.4 L287.0,144.8 L288.4,145.0 L290.0,145.1 L290.8,145.5 L291.4,146.3 L292.1,147.1 L293.1,147.6 L294.3,148.0 L295.2,148.9 L295.9,150.0 L296.7,151.0 L297.9,151.7 L299.1,152.4 L300.0,153.3 L300.8,154.5 L301.7,155.4 L302.9,155.9 L304.0,156.4 L304.9,157.2 L305.9,158.2 L307.1,158.9 L308.4,159.2 L309.7,159.5 L310.9,160.3 L311.9,161.1 L313.1,161.6 L314.4,161.7 L315.6,162.1 L316.6,162.9 L317.6,163.7 L318.7,164.1 L319.9,164.3 L321.2,164.9 L322.3,165.8 L323.5,166.7 L324.8,167.1 L326.1,167.3 L327.2,167.9 L328.1,168.9 L328.9,169.7 L329.9,170.3 L331.0,171.0 L331.5,172.1 L331.8,173.3 L332.2,174.5 L333.0,175.7 L333.7,176.9 L333.8,178.3 L333.7,179.8 L333.9,181.1 L334.4,182.5 L334.7,183.8 L334.4,185.0 L334.0,186.3 L333.7,187.6 L333.7,189.1 L333.4,190.4 L332.5,191.6 L331.7,192.7 L331.1,193.9 L330.8,195.2 L330.2,196.3 L329.3,197.2 L328.3,198.3 L327.7,199.6 L327.2,200.9 L326.4,202.0 L325.2,202.8 L324.2,203.6 L323.3,204.6 L322.4,205.7 L321.2,206.1 L319.9,206.3 L318.7,206.6 L317.5,207.3 L316.2,207.8 L314.9,207.8 L313.5,207.5 L312.2,207.4 L310.9,207.6 L309.7,207.5 L308.6,206.9 L307.6,206.0 L306.5,205.5 L305.2,205.2 L304.1,204.5 L303.2,203.5 L302.3,202.4 L301.2,201.6 L300.0,201.0 L299.1,200.3 L298.5,199.2 L297.9,198.1 L296.9,197.4 L295.9,196.7 L295.0,195.7 L294.5,194.5 L293.9,193.4 L292.9,192.6 L291.9,191.8 L291.2,190.7 L290.8,189.4 L290.3,188.4 L289.4,187.6 L288.5,186.7 L288.1,185.6 L287.9,184.4 L287.3,183.3 L286.5,182.3 L285.8,181.3 L285.5,180.1 L285.4,178.9 L284.9,177.8 L284.1,176.8 L283.5,175.8 L283.4,174.5 L283.3,173.3 L282.7,172.2 L282.0,171.1 L281.6,170.0 L281.6,168.8 L281.5,167.6 L281.0,166.5 L280.4,165.4 L280.1,164.3 L280.2,163.0 L280.2,161.8 L279.7,160.6 L279.1,159.3 L279.0,158.0 L279.1,156.5 L279.0,155.1 L278.6,153.7 L278.2,152.4 L278.3,151.1 L278.7,149.9 L278.9,148.9 L278.8,147.9Z M279.5,147.3 L280.0,146.4 L281.0,146.0 L282.0,145.6 L283.1,145.1 L284.3,144.9 L285.6,145.3 L286.8,146.1 L288.0,146.6 L289.3,146.9 L290.0,147.1 L290.6,147.7 L291.2,148.3 L292.2,148.7 L293.5,148.9 L294.8,149.3 L295.7,150.2 L296.6,151.1 L297.7,151.9 L299.0,152.5 L299.9,153.5 L300.5,154.8 L301.1,156.1 L302.1,157.0 L303.1,157.7 L304.0,158.6 L305.0,159.7 L306.2,160.6 L307.6,160.8 L309.1,160.9 L310.4,161.3 L311.6,161.8 L312.9,162.2 L314.3,162.1 L315.6,162.2 L316.6,162.9 L317.5,163.8 L318.5,164.5 L319.5,165.0 L320.8,165.8 L321.8,166.9 L322.8,168.0 L324.0,168.6 L325.3,168.9 L326.4,169.2 L327.3,169.9 L328.1,170.5 L329.2,170.9 L330.4,171.4 L331.2,172.2 L331.6,173.4 L331.8,174.6 L332.3,175.9 L332.7,177.1 L332.7,178.5 L332.2,180.0 L331.9,181.3 L332.0,182.5 L332.2,183.7 L332.0,184.8 L331.6,185.9 L331.4,187.0 L331.7,188.4 L331.8,189.8 L331.4,191.0 L330.7,192.2 L330.2,193.4 L329.9,194.7 L329.3,195.8 L328.3,196.6 L327.1,197.5 L326.1,198.5 L325.4,199.6 L324.5,200.5 L323.4,201.1 L322.4,201.6 L321.8,202.5 L321.2,203.5 L320.4,204.3 L319.3,204.7 L318.3,205.2 L317.2,205.9 L316.1,206.7 L314.8,206.9 L313.5,206.5 L312.3,206.0 L311.2,205.9 L310.2,205.6 L309.3,204.9 L308.5,203.9 L307.7,203.2 L306.5,202.9 L305.3,202.6 L304.2,201.9 L303.2,201.1 L302.0,200.6 L300.6,200.3 L299.4,199.9 L298.6,199.1 L297.9,198.1 L297.1,197.2 L296.1,196.5 L295.3,195.5 L294.9,194.1 L294.6,192.8 L293.9,191.7 L293.0,190.9 L292.3,189.9 L291.8,188.8 L291.3,187.8 L290.3,187.1 L289.1,186.4 L288.2,185.5 L287.8,184.4 L287.2,183.3 L286.4,182.4 L285.6,181.4 L285.4,180.2 L285.5,178.8 L285.4,177.6 L285.0,176.5 L284.5,175.4 L284.4,174.1 L284.4,172.8 L284.0,171.7 L283.1,170.8 L282.3,169.8 L281.8,168.7 L281.5,167.5 L280.9,166.5 L280.1,165.5 L279.6,164.3 L279.8,163.1 L280.0,161.8 L280.0,160.6 L279.7,159.3 L279.8,157.8 L280.3,156.4 L280.6,155.0 L280.4,153.6 L279.9,152.4 L279.8,151.2 L280.0,150.1 L280.0,149.1 L279.7,148.2Z M281.2,148.5 L281.8,148.3 L282.3,148.1 L282.9,147.6 L283.7,147.4 L284.6,147.5 L285.6,147.6 L286.7,147.4 L287.9,147.2 L289.1,147.4 L289.7,147.7 L290.4,148.0 L291.4,148.2 L292.5,148.4 L293.4,149.0 L294.3,149.9 L295.2,150.8 L296.3,151.5 L297.3,152.3 L298.2,153.4 L298.8,154.6 L299.7,155.7 L300.6,156.6 L301.6,157.5 L302.4,158.6 L303.2,159.8 L304.4,160.7 L305.8,161.3 L307.1,161.9 L308.3,162.7 L309.5,163.4 L310.8,163.8 L312.2,163.9 L313.4,164.2 L314.6,164.7 L315.7,165.1 L316.8,165.3 L318.0,165.4 L319.1,165.8 L320.3,166.6 L321.6,167.3 L323.0,167.8 L324.3,168.1 L325.3,168.7 L326.2,169.6 L327.0,170.3 L327.9,170.8 L328.7,171.4 L329.2,172.2 L329.5,173.1 L329.9,174.1 L330.5,175.1 L331.1,176.2 L331.3,177.5 L331.3,178.8 L331.5,180.1 L331.8,181.3 L332.0,182.5 L331.7,183.7 L331.4,184.8 L331.2,185.8 L331.1,186.9 L330.7,188.0 L330.0,189.0 L329.2,190.0 L328.7,191.1 L328.3,192.3 L327.7,193.4 L327.0,194.4 L326.3,195.4 L325.9,196.7 L325.5,198.1 L324.9,199.2 L324.1,200.2 L323.4,201.1 L322.8,202.1 L322.2,203.1 L321.2,203.6 L320.2,203.8 L319.1,204.1 L318.1,204.6 L317.0,204.9 L315.8,204.8 L314.6,204.4 L313.5,204.2 L312.5,204.2 L311.5,204.0 L310.8,203.5 L310.0,202.9 L309.1,202.6 L308.1,202.4 L307.0,202.1 L306.0,201.4 L305.0,200.8 L303.8,200.4 L302.5,200.0 L301.3,199.4 L300.4,198.7 L299.6,198.0 L298.5,197.5 L297.4,196.9 L296.5,196.0 L295.9,195.0 L295.2,193.9 L294.4,193.0 L293.5,192.1 L293.0,190.9 L292.6,189.7 L292.1,188.6 L291.5,187.7 L290.8,186.7 L290.5,185.6 L290.2,184.5 L289.7,183.4 L288.9,182.5 L288.3,181.5 L287.9,180.3 L287.6,179.2 L287.0,178.1 L286.3,177.2 L285.7,176.1 L285.5,175.0 L285.3,173.8 L284.7,172.7 L284.1,171.7 L283.7,170.6 L283.6,169.4 L283.4,168.2 L282.9,167.2 L282.4,166.1 L282.1,165.0 L282.0,163.9 L281.8,162.8 L281.3,161.7 L280.8,160.5 L280.6,159.1 L280.6,157.8 L280.4,156.4 L280.0,155.0 L279.7,153.7 L279.8,152.4 L280.2,151.2 L280.4,150.1 L280.5,149.2 L280.7,148.6Z M281.5,148.7 L281.6,148.1 L282.0,147.5 L282.8,147.4 L283.7,147.5 L284.6,147.6 L285.6,147.4 L286.6,147.5 L287.6,148.1 L288.6,148.9 L288.9,149.1 L289.6,149.2 L290.4,149.5 L291.1,150.2 L291.8,151.0 L292.9,151.5 L294.1,151.9 L295.2,152.6 L296.1,153.7 L297.0,154.7 L298.1,155.4 L299.3,156.1 L300.2,157.1 L301.0,158.3 L301.9,159.4 L303.1,160.1 L304.4,160.7 L305.6,161.7 L306.7,162.7 L308.0,163.4 L309.4,163.7 L310.7,164.0 L311.9,164.6 L313.0,165.3 L314.1,165.7 L315.4,165.8 L316.5,166.1 L317.4,166.7 L318.2,167.4 L319.6,168.0 L321.1,168.4 L322.4,168.9 L323.5,169.7 L324.4,170.5 L325.4,170.9 L326.4,171.2 L327.1,171.7 L327.4,172.5 L327.7,173.3 L328.2,173.8 L328.8,174.6 L329.1,175.6 L329.0,176.8 L329.1,178.0 L329.5,179.1 L329.9,180.3 L330.0,181.5 L329.7,182.6 L329.7,183.7 L330.1,184.7 L330.3,185.7 L330.1,186.7 L329.6,187.6 L329.3,188.7 L329.1,190.0 L328.8,191.2 L328.0,192.1 L327.0,193.0 L326.4,194.0 L325.9,195.1 L325.1,196.3 L324.0,197.1 L323.0,197.9 L322.4,198.8 L322.0,199.7 L321.3,200.4 L320.6,200.8 L319.8,201.2 L319.3,201.9 L318.6,202.8 L317.7,203.3 L316.6,203.4 L315.6,203.6 L314.5,204.0 L313.5,204.3 L312.5,204.1 L311.6,203.6 L310.9,203.1 L310.0,203.0 L309.1,202.7 L308.3,202.0 L307.6,201.1 L306.6,200.5 L305.5,200.1 L304.4,199.6 L303.4,198.8 L302.5,197.9 L301.6,197.4 L300.5,197.0 L299.5,196.5 L298.8,195.5 L298.1,194.6 L297.2,193.8 L296.1,193.1 L295.3,192.2 L294.9,191.0 L294.4,189.9 L293.5,189.0 L292.7,188.2 L292.1,187.2 L291.9,186.1 L291.4,185.1 L290.7,184.2 L289.9,183.3 L289.4,182.2 L289.2,181.1 L288.7,180.0 L288.0,179.0 L287.3,178.0 L287.0,176.9 L286.8,175.7 L286.3,174.7 L285.5,173.7 L284.9,172.7 L284.6,171.5 L284.5,170.3 L284.0,169.2 L283.3,168.3 L282.8,167.2 L282.8,166.0 L282.9,164.8 L282.6,163.8 L282.2,162.7 L282.1,161.5 L282.4,160.3 L282.5,158.9 L282.2,157.6 L281.8,156.2 L281.7,154.9 L281.9,153.6 L281.9,152.3 L281.5,151.2 L281.1,150.2 L281.2,149.4 L281.5,148.9Z M321.1,188.5 L322.1,187.2 L323.6,186.5 L325.2,186.3 L326.7,186.0 L328.2,185.4 L329.6,184.8 L331.1,184.7 L332.6,184.9 L333.9,184.9 L335.1,184.5 L336.6,184.2 L338.0,184.6 L339.4,185.4 L340.7,186.1 L342.1,186.5 L343.4,187.3 L344.4,188.6 L345.1,190.1 L345.7,191.1 L346.7,192.0 L347.5,193.0 L347.8,194.3 L348.1,195.6 L348.6,196.9 L349.4,198.1 L349.9,199.4 L349.9,200.8 L349.8,202.2 L350.0,203.4 L350.6,204.5 L350.9,205.7 L350.9,207.1 L351.1,208.4 L351.7,209.6 L352.6,210.7 L353.2,211.8 L353.4,213.1 L353.6,214.3 L354.1,215.5 L354.7,216.6 L354.8,217.7 L354.5,219.3 L354.2,220.8 L354.3,222.3 L354.5,223.7 L354.3,225.1 L353.6,226.3 L353.1,227.4 L352.8,228.6 L352.0,230.0 L350.7,230.9 L349.2,231.3 L347.6,231.7 L346.1,232.3 L344.6,232.7 L343.1,232.6 L341.8,232.1 L340.5,231.8 L339.1,231.9 L337.7,232.0 L336.4,231.5 L335.1,230.9 L333.8,230.5 L332.3,230.3 L331.0,230.0 L330.1,229.2 L329.2,228.2 L328.3,227.4 L327.1,226.6 L326.1,225.7 L325.6,224.3 L325.2,222.9 L324.6,221.7 L323.6,220.6 L323.0,219.6 L322.7,218.3 L322.5,217.0 L321.9,215.8 L321.0,214.6 L320.5,213.3 L320.4,211.9 L320.5,210.5 L320.2,209.1 L319.8,207.8 L319.7,206.5 L320.1,205.1 L320.4,203.8 L320.1,202.5 L319.7,201.1 L319.5,199.7 L319.6,198.2 L319.6,196.7 L319.3,195.3 L318.9,193.8 L319.0,192.4 L319.7,191.1 L320.5,189.9Z M322.0,189.3 L323.0,188.3 L324.4,188.0 L325.8,187.9 L327.1,187.5 L328.4,186.9 L329.8,186.4 L331.2,186.2 L332.6,186.1 L333.9,185.7 L335.1,185.1 L336.5,185.0 L337.9,185.5 L339.2,186.2 L340.4,186.7 L341.7,187.4 L342.7,188.4 L343.3,189.7 L344.0,191.0 L344.6,191.8 L345.5,192.5 L346.3,193.5 L346.7,194.7 L347.2,195.9 L348.0,197.1 L348.8,198.3 L349.0,199.6 L348.9,201.1 L348.8,202.5 L349.0,203.7 L349.3,204.9 L349.4,206.2 L349.4,207.6 L349.7,208.9 L350.5,210.0 L351.5,211.0 L352.1,212.2 L352.5,213.4 L353.0,214.5 L353.7,215.6 L354.2,216.7 L354.2,217.8 L353.8,219.4 L353.6,220.9 L353.7,222.3 L353.6,223.6 L353.2,224.9 L352.7,226.0 L352.5,227.1 L352.5,228.4 L351.9,229.8 L350.6,230.7 L349.2,231.3 L347.7,231.9 L346.2,232.6 L344.6,232.8 L343.1,232.4 L341.8,231.9 L340.5,231.6 L339.2,231.6 L337.8,231.4 L336.6,230.9 L335.3,230.4 L333.9,230.2 L332.4,230.1 L331.2,229.8 L330.2,229.0 L329.3,228.1 L328.3,227.3 L327.3,226.5 L326.7,225.2 L326.4,223.8 L326.1,222.4 L325.6,221.2 L324.9,220.1 L324.5,219.0 L324.3,217.8 L323.9,216.7 L323.0,215.6 L322.2,214.4 L321.8,213.1 L321.7,211.7 L321.7,210.3 L321.4,209.0 L321.3,207.7 L321.6,206.3 L322.1,205.0 L322.4,203.7 L322.1,202.3 L321.7,201.0 L321.6,199.6 L321.6,198.1 L321.2,196.7 L320.6,195.3 L320.2,193.9 L320.4,192.6 L321.0,191.4 L321.5,190.3Z M322.8,189.9 L323.7,189.1 L324.7,188.4 L325.8,187.7 L327.1,187.5 L328.5,187.5 L329.9,187.5 L331.3,187.3 L332.6,187.2 L333.9,187.4 L335.0,187.8 L336.2,188.0 L337.4,188.1 L338.6,188.3 L339.6,188.8 L340.5,189.4 L341.4,190.0 L342.5,190.6 L343.5,191.4 L344.0,192.2 L344.4,193.1 L345.0,194.1 L345.7,195.1 L346.4,196.2 L346.8,197.4 L347.2,198.7 L347.7,200.0 L348.4,201.2 L349.0,202.4 L349.2,203.6 L349.5,204.8 L350.0,206.0 L350.7,207.2 L351.2,208.4 L351.4,209.7 L351.6,211.0 L352.0,212.2 L352.5,213.4 L352.8,214.6 L352.7,215.8 L352.7,217.0 L352.8,218.0 L353.1,219.5 L353.1,220.9 L352.8,222.3 L352.5,223.6 L352.5,224.8 L352.4,225.9 L352.0,226.8 L351.3,227.5 L350.6,228.1 L349.7,228.9 L348.6,229.6 L347.3,230.0 L345.8,230.2 L344.4,230.4 L343.0,230.8 L341.8,231.2 L340.5,231.2 L339.2,231.0 L337.9,230.9 L336.6,230.9 L335.2,230.7 L333.9,230.1 L332.8,229.3 L331.9,228.7 L330.9,228.1 L330.0,227.4 L329.2,226.4 L328.6,225.3 L327.9,224.3 L327.0,223.3 L326.4,222.2 L326.0,221.0 L325.7,219.7 L325.4,218.6 L325.0,217.6 L324.6,216.4 L324.6,215.2 L324.5,213.9 L324.3,212.6 L323.9,211.4 L323.6,210.1 L323.6,208.8 L323.5,207.4 L323.2,206.2 L322.8,204.9 L322.6,203.7 L322.5,202.3 L322.4,200.9 L322.1,199.5 L321.7,198.1 L321.5,196.7 L321.7,195.4 L321.8,194.1 L321.8,192.9 L321.8,191.7 L322.2,190.7Z M324.3,191.0 L324.5,190.1 L325.1,189.2 L326.1,188.7 L327.4,188.6 L328.7,188.3 L329.9,187.7 L331.3,187.2 L332.6,187.2 L333.9,187.6 L335.0,187.8 L336.2,187.6 L337.5,187.6 L338.6,188.2 L339.5,189.0 L340.4,189.6 L341.5,189.9 L342.5,190.6 L343.1,191.7 L343.3,192.6 L343.8,193.4 L344.6,194.2 L345.3,195.2 L345.5,196.5 L345.6,197.8 L346.1,199.0 L346.9,200.2 L347.4,201.5 L347.5,202.8 L347.5,204.2 L347.8,205.4 L348.5,206.5 L348.9,207.8 L348.9,209.2 L348.9,210.6 L349.4,211.8 L350.0,212.9 L350.4,214.0 L350.3,215.2 L350.3,216.4 L350.8,217.3 L351.4,218.2 L351.6,219.6 L351.5,221.0 L351.4,222.3 L351.7,223.5 L352.0,224.7 L351.8,225.7 L351.1,226.4 L350.6,226.9 L350.2,227.6 L349.5,228.4 L348.3,228.6 L346.9,228.5 L345.5,228.6 L344.2,229.0 L342.9,229.4 L341.8,229.2 L340.6,228.9 L339.5,228.8 L338.2,229.1 L337.0,229.2 L335.8,228.8 L334.8,228.2 L333.8,227.7 L332.7,227.6 L331.6,227.2 L330.9,226.3 L330.3,225.3 L329.5,224.5 L328.5,223.8 L327.6,222.9 L327.3,221.7 L327.0,220.4 L326.5,219.3 L325.8,218.5 L325.3,217.5 L325.3,216.3 L325.3,215.0 L324.8,213.8 L324.1,212.7 L323.7,211.4 L323.7,210.1 L323.7,208.7 L323.3,207.5 L322.7,206.2 L322.5,205.0 L322.7,203.7 L322.9,202.3 L322.7,200.9 L322.3,199.5 L322.3,198.1 L322.8,196.8 L323.1,195.5 L323.0,194.3 L322.9,193.1 L323.2,192.1 L323.8,191.5Z M324.5,191.1 L325.4,191.1 L326.1,191.0 L326.9,190.6 L327.8,190.2 L329.0,190.2 L330.3,190.5 L331.5,190.5 L332.7,190.1 L333.8,189.7 L334.8,189.7 L336.0,190.0 L337.1,189.9 L338.2,189.5 L339.4,189.4 L340.3,189.8 L341.0,190.6 L341.9,191.1 L343.1,191.8 L343.7,192.4 L343.8,193.4 L343.8,194.6 L344.1,195.7 L344.7,196.7 L345.0,198.0 L344.9,199.4 L344.7,200.8 L345.1,202.1 L345.7,203.3 L346.2,204.6 L346.3,205.9 L346.5,207.3 L347.2,208.4 L348.1,209.5 L348.7,210.6 L348.9,211.9 L349.2,213.1 L349.9,214.2 L350.6,215.2 L351.0,216.2 L350.8,217.3 L350.7,218.3 L351.0,219.7 L351.5,221.0 L351.4,222.3 L350.9,223.5 L350.5,224.5 L350.6,225.4 L350.7,226.2 L350.3,226.6 L349.6,226.8 L348.8,227.1 L348.0,227.9 L346.9,228.6 L345.6,228.7 L344.2,228.6 L342.9,228.6 L341.8,229.0 L340.6,229.3 L339.4,229.0 L338.3,228.4 L337.3,228.1 L336.1,228.1 L335.0,227.8 L334.1,227.1 L333.6,226.2 L332.8,225.7 L331.7,225.3 L330.8,224.8 L330.2,223.8 L329.7,222.8 L328.9,222.0 L327.9,221.2 L327.2,220.3 L326.9,219.1 L326.9,218.1 L326.5,217.1 L325.8,216.1 L325.5,215.0 L325.6,213.7 L325.8,212.4 L325.4,211.1 L324.9,209.9 L324.7,208.6 L324.9,207.3 L325.0,206.0 L324.5,204.8 L323.9,203.6 L323.7,202.2 L323.8,200.8 L323.8,199.5 L323.3,198.1 L322.8,196.8 L322.8,195.5 L323.3,194.3 L323.7,193.3 L323.8,192.3 L323.9,191.5Z M325.2,191.6 L325.4,191.2 L326.0,190.7 L326.9,190.8 L328.1,191.1 L329.2,191.2 L330.3,190.8 L331.5,190.4 L332.7,190.4 L333.8,190.6 L334.8,190.6 L336.0,190.3 L337.0,190.2 L337.9,190.7 L338.6,191.4 L339.2,191.8 L340.1,191.8 L341.0,192.1 L341.5,193.0 L341.7,193.6 L342.2,194.2 L343.0,194.9 L343.5,195.9 L343.4,197.2 L343.1,198.6 L343.3,199.8 L343.8,201.1 L344.3,202.3 L344.4,203.7 L344.6,205.1 L345.4,206.2 L346.5,207.2 L347.3,208.4 L347.5,209.7 L347.7,211.0 L348.2,212.2 L349.0,213.2 L349.3,214.3 L349.3,215.5 L349.3,216.6 L349.9,217.5 L350.5,218.3 L350.8,219.7 L350.4,221.0 L350.1,222.3 L350.1,223.4 L350.2,224.4 L349.7,225.1 L349.1,225.4 L348.9,225.5 L349.0,226.0 L348.7,226.8 L347.8,227.4 L346.7,227.5 L345.4,227.8 L344.1,228.3 L342.9,228.6 L341.8,228.3 L340.7,227.7 L339.6,227.3 L338.5,227.5 L337.4,227.5 L336.5,227.0 L335.7,226.3 L334.8,225.9 L334.0,225.7 L333.2,225.2 L332.7,224.3 L332.3,223.2 L331.7,222.4 L330.8,221.9 L329.9,221.3 L329.3,220.4 L328.8,219.4 L328.0,218.6 L327.0,218.0 L326.4,217.1 L326.4,215.9 L326.6,214.7 L326.4,213.5 L326.0,212.3 L325.9,211.1 L326.1,209.7 L326.2,208.4 L325.8,207.2 L325.1,206.0 L324.9,204.8 L325.1,203.5 L325.3,202.1 L325.1,200.8 L324.7,199.4 L324.7,198.1 L325.0,196.8 L325.1,195.6 L324.7,194.4 L324.2,193.4 L324.3,192.5 L324.8,191.9Z M144.0,153.9 L144.7,152.9 L145.6,152.0 L146.9,151.4 L148.3,151.1 L149.6,150.6 L150.9,149.9 L152.2,149.3 L153.5,149.2 L154.9,149.2 L156.2,148.9 L157.5,148.4 L158.9,148.3 L160.4,148.5 L161.8,148.8 L163.2,148.8 L164.7,148.8 L166.0,149.1 L167.2,149.8 L168.5,150.3 L170.0,150.6 L171.4,151.0 L172.7,151.8 L173.8,152.8 L174.9,153.7 L176.2,154.4 L177.2,155.5 L177.7,156.9 L178.1,158.3 L178.7,159.5 L179.3,160.7 L179.6,162.0 L179.6,163.3 L179.9,164.5 L180.5,165.6 L181.1,166.8 L181.3,168.3 L181.3,169.7 L181.6,170.9 L182.1,172.0 L182.6,173.0 L182.7,174.0 L183.0,174.9 L183.7,175.3 L184.3,175.4 L185.0,175.6 L185.9,176.2 L186.9,176.5 L188.1,176.4 L189.4,176.2 L190.8,176.5 L192.2,176.9 L193.6,177.2 L195.1,177.2 L196.5,177.5 L197.6,178.3 L198.7,179.0 L199.9,179.5 L201.2,179.9 L202.5,180.5 L203.5,181.4 L204.6,182.3 L205.8,182.9 L207.1,183.4 L208.1,184.3 L208.9,185.3 L209.8,186.2 L211.1,186.9 L212.2,187.8 L213.0,189.0 L213.5,190.2 L214.4,191.3 L215.4,192.2 L216.2,193.3 L216.6,194.5 L217.2,195.8 L218.1,196.9 L219.0,197.7 L219.7,198.8 L220.1,200.1 L220.7,201.3 L221.7,202.3 L222.5,203.3 L223.1,204.6 L223.5,205.8 L224.2,207.0 L225.1,207.9 L225.8,208.9 L226.2,210.1 L226.7,211.5 L227.4,212.8 L228.3,213.9 L228.8,215.1 L229.0,216.4 L229.3,217.5 L230.1,218.3 L230.9,219.1 L231.5,220.1 L232.0,221.0 L232.8,221.8 L234.0,222.4 L235.1,223.0 L236.0,223.9 L236.9,224.9 L238.1,225.5 L239.4,225.9 L240.5,226.6 L241.4,227.5 L242.4,228.2 L243.6,228.6 L244.9,228.8 L246.1,229.4 L247.2,230.2 L248.5,230.8 L249.9,231.2 L251.3,231.8 L252.3,232.9 L253.1,234.1 L254.0,235.1 L255.1,236.0 L255.9,237.1 L256.4,238.4 L256.9,239.7 L257.7,240.8 L258.5,241.9 L258.9,243.1 L259.1,244.4 L259.4,245.9 L260.0,247.3 L260.5,248.8 L260.5,250.3 L260.3,251.7 L260.4,253.1 L260.7,254.4 L260.7,255.7 L260.2,257.5 L259.4,259.2 L258.9,260.8 L258.2,262.4 L257.0,263.5 L255.2,263.7 L253.5,263.4 L251.8,262.9 L250.0,262.1 L249.2,261.2 L248.6,260.2 L247.7,259.4 L246.6,258.6 L245.6,257.8 L244.9,256.6 L244.1,255.4 L243.2,254.5 L242.1,253.8 L241.2,253.0 L240.6,251.9 L240.0,250.9 L239.0,250.2 L238.1,249.6 L237.3,248.6 L236.6,247.5 L235.7,246.5 L234.4,245.8 L233.5,245.2 L232.7,244.3 L231.9,243.2 L230.9,242.5 L229.6,241.9 L228.5,241.1 L227.6,240.0 L226.7,239.0 L225.5,238.3 L224.2,237.7 L223.3,236.9 L222.5,235.8 L221.6,235.1 L220.2,234.4 L219.0,233.8 L218.1,232.9 L217.2,231.9 L216.1,231.2 L214.9,230.7 L213.8,230.1 L212.9,229.1 L212.0,228.1 L210.9,227.3 L209.8,226.8 L208.9,225.9 L208.3,224.8 L207.5,223.9 L206.4,223.2 L205.4,222.5 L204.7,221.5 L204.0,220.3 L203.1,219.5 L202.0,218.8 L201.0,218.0 L200.2,217.0 L199.5,216.0 L198.4,215.3 L197.2,214.7 L196.2,213.9 L195.4,212.8 L194.4,211.8 L193.2,211.2 L192.0,210.6 L191.0,209.7 L190.2,208.6 L189.2,207.8 L188.1,207.3 L187.0,206.7 L186.0,205.6 L185.0,204.6 L183.8,203.8 L182.4,203.3 L181.3,202.6 L180.3,201.5 L179.4,200.6 L178.3,200.0 L177.2,199.4 L176.5,198.4 L175.8,196.7 L175.3,195.2 L174.8,193.8 L174.4,192.5 L174.4,191.4 L174.2,190.2 L173.5,189.3 L172.7,188.7 L171.9,188.1 L171.2,187.1 L170.4,186.0 L169.0,185.2 L168.0,184.7 L167.1,183.9 L166.4,182.9 L165.4,182.0 L164.1,181.4 L162.9,180.8 L161.8,179.8 L160.9,178.7 L159.8,177.9 L158.5,177.4 L157.4,176.7 L156.4,175.7 L155.4,174.7 L154.2,174.1 L152.9,173.6 L151.8,172.8 L150.9,171.7 L149.9,170.8 L148.8,170.2 L147.8,169.6 L146.8,168.4 L146.0,167.0 L145.1,165.8 L144.0,164.8 L143.2,163.7 L142.8,162.4 L142.7,161.2 L142.2,159.6 L141.8,158.1 L142.0,156.4 L142.9,155.1Z M144.7,154.5 L145.3,153.6 L146.1,152.8 L147.4,152.4 L148.7,152.1 L149.9,151.5 L151.1,150.8 L152.4,150.3 L153.8,150.3 L155.0,150.2 L156.3,149.8 L157.6,149.3 L159.0,149.3 L160.3,149.5 L161.7,149.7 L163.1,149.5 L164.5,149.5 L165.7,150.0 L167.0,150.6 L168.3,151.0 L169.8,151.1 L171.1,151.6 L172.3,152.5 L173.4,153.4 L174.6,154.1 L175.8,154.8 L176.6,155.9 L177.0,157.3 L177.4,158.5 L178.1,159.7 L178.6,160.9 L178.7,162.2 L178.7,163.6 L179.0,164.8 L179.7,165.9 L180.2,167.1 L180.2,168.5 L180.1,169.9 L180.5,171.2 L181.1,172.3 L181.4,173.5 L181.5,174.7 L181.9,175.8 L182.8,176.4 L183.7,176.7 L184.6,177.2 L185.5,177.8 L186.7,178.1 L188.0,177.9 L189.3,177.9 L190.6,178.3 L191.9,178.7 L193.3,178.8 L194.6,178.8 L195.9,179.1 L196.9,179.9 L198.0,180.5 L199.2,180.9 L200.5,181.2 L201.7,181.9 L202.7,182.8 L203.8,183.5 L205.1,183.9 L206.3,184.4 L207.3,185.3 L208.1,186.3 L209.1,187.0 L210.4,187.6 L211.4,188.5 L212.1,189.7 L212.8,190.8 L213.7,191.7 L214.8,192.6 L215.5,193.7 L215.9,195.0 L216.6,196.2 L217.6,197.2 L218.5,198.1 L219.0,199.2 L219.4,200.5 L220.1,201.6 L221.1,202.6 L221.9,203.7 L222.3,205.0 L222.7,206.3 L223.4,207.4 L224.3,208.3 L224.8,209.4 L225.1,210.7 L225.6,212.1 L226.3,213.3 L227.0,214.4 L227.3,215.7 L227.4,217.0 L227.9,218.2 L228.7,219.1 L229.4,220.1 L230.0,221.3 L230.6,222.5 L231.6,223.3 L232.8,223.9 L233.8,224.7 L234.7,225.8 L235.7,226.7 L237.0,227.3 L238.3,227.8 L239.3,228.6 L240.2,229.5 L241.4,230.2 L242.8,230.5 L244.1,230.8 L245.3,231.5 L246.4,232.2 L247.6,232.6 L248.9,232.9 L250.1,233.5 L250.9,234.5 L251.7,235.4 L252.7,236.2 L253.7,237.0 L254.4,238.1 L254.9,239.3 L255.5,240.5 L256.4,241.4 L257.2,242.5 L257.6,243.7 L257.8,244.9 L258.3,246.2 L259.0,247.5 L259.4,249.0 L259.3,250.4 L259.2,251.8 L259.5,253.1 L259.8,254.4 L259.7,255.6 L259.1,257.3 L258.5,258.9 L258.1,260.4 L257.5,261.8 L256.4,262.5 L255.1,262.6 L253.8,262.5 L252.2,262.1 L250.6,261.2 L250.0,260.3 L249.4,259.4 L248.5,258.6 L247.4,257.9 L246.5,256.9 L245.8,255.6 L245.1,254.5 L244.0,253.7 L242.9,253.0 L242.2,252.0 L241.7,250.9 L240.9,250.0 L239.9,249.4 L239.0,248.7 L238.3,247.6 L237.6,246.5 L236.5,245.7 L235.2,244.9 L234.3,244.3 L233.5,243.3 L232.7,242.3 L231.5,241.7 L230.2,241.1 L229.2,240.3 L228.3,239.2 L227.2,238.3 L225.9,237.8 L224.7,237.2 L223.7,236.2 L222.9,235.3 L221.9,234.7 L220.5,234.1 L219.3,233.4 L218.4,232.4 L217.4,231.5 L216.3,231.0 L215.0,230.5 L214.0,229.8 L213.2,228.7 L212.2,227.9 L211.0,227.2 L209.9,226.6 L209.2,225.6 L208.6,224.5 L207.7,223.7 L206.7,223.0 L205.7,222.1 L205.1,221.0 L204.5,219.9 L203.5,219.1 L202.4,218.4 L201.5,217.5 L200.8,216.3 L200.0,215.3 L198.9,214.7 L197.8,214.0 L196.9,213.0 L196.1,211.9 L195.1,211.0 L193.8,210.4 L192.7,209.6 L191.8,208.6 L191.0,207.6 L189.9,206.9 L188.8,206.4 L187.8,205.7 L186.8,204.5 L185.7,203.5 L184.4,202.9 L183.1,202.4 L182.0,201.5 L181.0,200.5 L180.0,199.8 L178.9,199.3 L177.9,198.7 L177.3,197.8 L176.6,196.3 L176.0,195.0 L175.3,193.7 L175.0,192.4 L175.0,191.2 L174.6,190.0 L173.7,189.2 L172.8,188.6 L172.1,187.9 L171.4,186.9 L170.4,186.0 L168.9,185.3 L167.9,184.8 L167.1,184.0 L166.3,183.0 L165.2,182.2 L163.9,181.7 L162.7,181.0 L161.7,179.9 L160.8,178.9 L159.6,178.2 L158.3,177.6 L157.3,176.8 L156.4,175.8 L155.3,174.8 L154.1,174.3 L152.8,173.6 L151.8,172.7 L151.0,171.6 L150.0,170.8 L148.9,170.2 L148.0,169.4 L147.1,168.1 L146.3,166.7 L145.4,165.6 L144.4,164.6 L143.7,163.4 L143.6,162.1 L143.4,161.0 L142.9,159.6 L142.6,158.1 L143.0,156.7 L143.8,155.6Z M144.7,154.5 L145.4,153.8 L146.5,153.4 L147.6,153.0 L148.7,152.3 L149.9,151.5 L151.2,151.2 L152.6,151.2 L153.9,151.1 L155.1,150.6 L156.4,150.3 L157.7,150.5 L159.0,150.8 L160.3,150.9 L161.6,150.8 L162.9,150.9 L164.1,151.5 L165.1,152.2 L166.3,152.5 L167.7,152.7 L168.9,153.2 L169.9,154.1 L170.9,154.9 L172.1,155.3 L173.1,155.8 L173.8,156.6 L174.2,157.5 L174.7,158.4 L175.4,159.2 L176.0,160.3 L176.2,161.5 L176.3,162.8 L176.8,164.1 L177.6,165.2 L178.1,166.4 L178.2,167.6 L178.4,168.9 L179.0,170.1 L179.6,171.4 L179.8,172.7 L180.0,174.0 L180.5,175.2 L181.5,176.1 L182.5,176.9 L183.3,177.6 L184.2,178.3 L185.4,178.6 L186.7,178.5 L187.9,178.6 L189.2,179.1 L190.5,179.4 L191.8,179.4 L193.1,179.4 L194.3,179.8 L195.4,180.6 L196.4,181.1 L197.6,181.4 L198.8,181.8 L199.8,182.6 L200.8,183.4 L202.0,184.0 L203.3,184.4 L204.4,185.0 L205.3,185.9 L206.2,186.7 L207.3,187.2 L208.5,187.7 L209.5,188.5 L210.3,189.6 L211.1,190.5 L212.2,191.3 L213.2,192.1 L213.9,193.2 L214.4,194.4 L215.2,195.4 L216.3,196.3 L217.3,197.4 L217.8,198.5 L218.3,199.7 L219.1,200.7 L220.1,201.6 L220.8,202.8 L221.2,204.1 L221.7,205.3 L222.6,206.4 L223.4,207.4 L223.9,208.6 L224.1,209.8 L224.6,210.9 L225.5,212.1 L226.1,213.3 L226.4,214.7 L226.5,216.0 L227.0,217.2 L227.8,218.2 L228.4,219.3 L228.7,220.6 L229.4,221.8 L230.4,222.6 L231.5,223.3 L232.5,224.2 L233.4,225.3 L234.5,226.1 L235.8,226.6 L237.1,227.2 L238.1,228.0 L239.1,228.9 L240.2,229.5 L241.6,229.8 L242.9,230.2 L244.0,231.0 L245.2,231.6 L246.5,231.9 L247.8,232.1 L249.0,232.7 L249.9,233.7 L250.8,234.6 L251.8,235.3 L252.7,236.1 L253.3,237.2 L253.7,238.5 L254.3,239.6 L255.2,240.7 L255.8,241.8 L255.9,243.1 L256.1,244.3 L256.5,245.3 L257.1,246.6 L257.3,247.9 L257.1,249.3 L257.1,250.7 L257.3,252.0 L257.5,253.2 L257.3,254.3 L256.9,255.3 L256.6,256.8 L256.5,258.2 L256.1,259.4 L255.4,260.1 L255.0,260.2 L254.8,260.5 L254.2,260.7 L253.1,260.4 L251.8,259.3 L251.3,258.7 L250.3,258.3 L249.2,257.8 L248.4,256.9 L247.6,255.8 L246.7,254.8 L245.5,254.1 L244.4,253.3 L243.6,252.3 L242.9,251.3 L242.0,250.5 L241.0,249.9 L240.2,249.2 L239.6,248.1 L238.9,247.1 L237.8,246.3 L236.6,245.5 L235.6,244.4 L235.0,243.4 L234.1,242.5 L233.0,241.9 L231.9,241.2 L231.0,240.2 L230.1,239.1 L229.1,238.2 L227.8,237.6 L226.7,236.8 L225.8,235.8 L224.9,234.8 L223.8,234.2 L222.6,233.7 L221.4,232.9 L220.4,231.8 L219.4,231.0 L218.1,230.6 L216.9,230.1 L215.9,229.4 L215.0,228.5 L213.9,227.8 L212.7,227.3 L211.5,226.7 L210.7,225.8 L209.9,224.9 L208.9,224.2 L207.8,223.6 L206.9,222.8 L206.2,221.7 L205.4,220.7 L204.4,220.0 L203.3,219.3 L202.5,218.3 L201.8,217.2 L200.9,216.2 L199.8,215.6 L198.8,214.9 L198.0,213.8 L197.2,212.7 L196.1,211.8 L194.9,211.2 L193.9,210.3 L193.1,209.2 L192.2,208.2 L191.1,207.5 L190.0,206.9 L189.1,206.0 L188.4,205.0 L187.2,204.0 L185.9,203.3 L184.5,202.7 L183.5,201.8 L182.5,200.8 L181.4,200.1 L180.1,199.6 L179.1,199.0 L178.5,198.1 L177.9,197.3 L176.9,196.2 L176.1,195.0 L175.8,193.6 L175.8,192.3 L175.6,191.0 L174.8,189.9 L173.9,189.1 L173.3,188.2 L172.7,187.2 L171.8,186.4 L170.6,185.8 L169.3,184.8 L168.7,183.9 L167.9,182.9 L166.9,182.2 L165.7,181.6 L164.6,180.7 L163.7,179.6 L162.8,178.5 L161.5,177.8 L160.3,177.1 L159.4,176.2 L158.6,175.0 L157.5,174.2 L156.2,173.6 L155.0,172.9 L154.1,171.9 L153.2,170.9 L152.1,170.2 L150.9,169.7 L150.0,168.9 L149.4,168.0 L148.5,166.8 L147.3,165.9 L146.2,165.0 L145.5,163.9 L145.1,162.7 L144.6,161.7 L143.9,160.8 L143.4,159.5 L143.4,158.2 L143.9,157.0 L144.2,155.8Z M145.9,155.6 L146.4,155.2 L147.1,154.5 L148.0,153.8 L149.2,153.4 L150.5,153.2 L151.7,152.9 L152.9,152.3 L154.1,151.9 L155.3,152.0 L156.6,152.1 L157.8,151.9 L159.0,151.6 L160.2,151.7 L161.4,152.1 L162.6,152.4 L163.8,152.5 L165.0,152.6 L166.2,153.0 L167.3,153.7 L168.4,154.2 L169.7,154.5 L170.9,154.9 L171.8,155.7 L172.5,156.5 L173.3,157.0 L174.1,157.6 L174.7,158.4 L174.9,159.4 L175.1,160.6 L175.7,161.7 L176.2,162.9 L176.5,164.1 L176.6,165.5 L176.9,166.8 L177.5,167.8 L178.0,169.0 L178.1,170.3 L178.0,171.7 L178.4,173.1 L179.0,174.4 L179.7,175.7 L180.3,177.1 L181.2,178.4 L182.5,179.1 L183.9,179.3 L185.2,179.7 L186.5,180.2 L187.8,180.4 L189.1,180.3 L190.5,180.1 L191.7,180.4 L192.9,180.8 L194.0,181.0 L195.2,181.0 L196.3,181.3 L197.3,181.9 L198.4,182.6 L199.5,183.1 L200.8,183.4 L202.0,184.0 L202.9,184.9 L203.9,185.7 L205.1,186.2 L206.2,186.8 L207.1,187.6 L207.7,188.5 L208.6,189.4 L209.6,190.2 L210.5,191.0 L211.1,192.1 L211.5,193.3 L212.2,194.3 L213.1,195.2 L213.9,196.3 L214.4,197.6 L215.0,198.9 L215.8,199.8 L216.7,200.7 L217.3,201.8 L217.8,203.0 L218.4,204.2 L219.4,205.2 L220.2,206.2 L220.8,207.4 L221.3,208.6 L222.0,209.7 L222.8,210.6 L223.5,211.5 L223.9,212.8 L224.3,214.1 L225.0,215.3 L225.7,216.4 L226.2,217.6 L226.5,218.9 L227.0,220.1 L227.9,221.2 L228.9,222.2 L229.7,223.3 L230.5,224.5 L231.5,225.4 L232.8,226.1 L234.0,226.8 L235.0,227.8 L236.0,228.8 L237.2,229.4 L238.5,229.9 L239.6,230.5 L240.8,231.5 L242.0,232.2 L243.4,232.5 L244.8,232.7 L246.0,233.3 L247.0,234.0 L248.0,234.4 L249.1,234.8 L250.1,235.3 L250.8,236.2 L251.4,237.2 L252.2,238.1 L253.1,238.9 L253.8,240.0 L254.2,241.2 L254.6,242.3 L255.3,243.4 L256.0,244.4 L256.3,245.4 L256.4,246.8 L256.6,248.1 L257.1,249.3 L257.4,250.6 L257.3,252.0 L257.1,253.2 L257.1,254.3 L257.3,255.3 L257.2,256.9 L256.6,258.2 L255.9,259.3 L255.6,260.3 L255.4,260.9 L254.9,261.0 L254.2,260.7 L253.2,260.2 L251.6,259.6 L250.8,259.3 L250.1,258.5 L249.5,257.6 L248.5,256.7 L247.4,256.0 L246.4,255.1 L245.6,254.0 L244.9,252.9 L243.9,252.0 L242.9,251.3 L242.1,250.5 L241.6,249.4 L240.9,248.5 L239.9,247.8 L239.0,247.0 L238.1,246.0 L237.3,244.8 L236.2,243.7 L235.2,243.2 L234.2,242.5 L233.4,241.5 L232.5,240.5 L231.4,239.7 L230.1,239.1 L229.0,238.3 L228.0,237.2 L227.0,236.3 L225.8,235.7 L224.6,235.1 L223.7,234.3 L222.9,233.4 L221.7,232.5 L220.4,231.9 L219.2,231.2 L218.3,230.4 L217.4,229.4 L216.3,228.8 L215.2,228.2 L214.2,227.5 L213.4,226.5 L212.5,225.5 L211.6,224.8 L210.6,224.2 L209.9,223.3 L209.3,222.2 L208.5,221.2 L207.5,220.5 L206.6,219.7 L205.8,218.6 L205.1,217.5 L204.2,216.6 L203.0,215.9 L201.9,215.0 L201.1,214.1 L200.3,213.1 L199.1,212.4 L197.9,211.8 L196.8,210.9 L195.9,209.9 L194.9,209.0 L193.7,208.4 L192.5,207.8 L191.5,206.9 L190.7,205.9 L189.7,205.2 L188.6,204.7 L187.3,203.8 L186.3,202.8 L185.2,201.7 L184.0,201.0 L182.7,200.4 L181.7,199.6 L180.9,198.7 L180.1,197.8 L179.3,197.3 L178.6,196.8 L178.0,195.6 L177.9,194.5 L177.7,193.3 L177.3,192.0 L176.8,190.6 L176.3,189.1 L175.7,187.7 L174.8,186.8 L173.7,186.1 L172.7,185.3 L171.8,184.3 L170.7,183.2 L169.7,182.7 L168.5,182.2 L167.5,181.3 L166.6,180.3 L165.6,179.5 L164.3,178.9 L163.0,178.2 L162.0,177.2 L161.1,176.1 L160.0,175.3 L158.8,174.7 L157.6,174.0 L156.6,173.0 L155.6,172.0 L154.5,171.3 L153.3,170.7 L152.3,169.9 L151.5,168.9 L150.8,168.1 L149.9,167.5 L148.7,166.6 L147.9,165.4 L147.3,164.2 L146.6,163.2 L145.8,162.4 L145.2,161.5 L145.1,160.5 L145.0,159.3 L144.8,158.3 L144.7,157.2 L145.0,156.3Z M146.7,156.3 L146.9,155.8 L147.5,155.1 L148.5,154.9 L149.7,154.8 L150.8,154.3 L151.9,153.5 L153.1,153.1 L154.3,153.2 L155.5,153.2 L156.6,152.9 L157.8,152.4 L159.0,152.4 L160.2,152.8 L161.3,153.0 L162.5,152.8 L163.8,152.8 L164.8,153.3 L165.9,154.0 L167.1,154.3 L168.4,154.4 L169.6,154.8 L170.5,155.6 L171.3,156.4 L172.2,156.9 L173.1,157.2 L173.7,157.9 L173.8,158.8 L174.1,159.8 L174.7,160.7 L175.4,161.8 L175.6,163.0 L175.6,164.4 L176.0,165.7 L176.8,166.8 L177.3,167.9 L177.3,169.1 L177.3,170.5 L177.8,171.8 L178.5,173.0 L179.0,174.4 L179.3,175.9 L180.0,177.3 L181.4,178.2 L182.8,178.6 L183.9,179.2 L185.1,179.9 L186.5,180.1 L187.8,179.9 L189.2,179.7 L190.5,180.1 L191.7,180.5 L192.9,180.6 L194.2,180.5 L195.3,180.8 L196.2,181.5 L197.2,182.3 L198.4,182.6 L199.7,182.9 L200.7,183.6 L201.7,184.6 L202.7,185.3 L203.9,185.7 L205.1,186.3 L205.9,187.2 L206.6,188.2 L207.4,188.9 L208.6,189.5 L209.4,190.3 L209.9,191.5 L210.4,192.6 L211.2,193.5 L212.2,194.3 L212.8,195.4 L213.1,196.8 L213.7,198.1 L214.6,199.1 L215.5,200.0 L215.9,201.2 L216.2,202.5 L216.9,203.6 L217.8,204.6 L218.6,205.6 L218.9,207.0 L219.2,208.3 L220.0,209.3 L220.8,210.3 L221.4,211.4 L221.5,212.5 L221.9,213.8 L222.7,214.9 L223.4,215.9 L223.7,217.2 L223.8,218.6 L224.3,219.9 L225.3,221.1 L226.3,222.3 L227.1,223.8 L227.9,225.2 L229.0,226.1 L230.4,226.8 L231.6,227.7 L232.6,228.9 L233.6,229.9 L235.0,230.4 L236.3,230.9 L237.4,231.7 L238.3,232.7 L239.7,233.5 L241.3,233.9 L242.7,234.2 L243.9,234.9 L245.0,235.7 L246.0,236.0 L247.1,236.1 L247.9,236.5 L248.4,237.3 L248.9,238.0 L249.7,238.6 L250.7,239.2 L251.3,240.1 L251.6,241.3 L252.1,242.3 L253.0,243.2 L253.8,244.1 L254.1,245.1 L254.2,246.2 L254.7,247.3 L255.4,248.4 L255.8,249.6 L255.7,250.8 L255.6,252.1 L255.9,253.2 L256.3,254.3 L256.3,255.2 L255.8,256.6 L255.4,257.8 L255.3,259.0 L255.1,259.9 L254.9,260.0 L254.8,259.7 L254.5,259.7 L253.5,259.7 L252.0,259.0 L251.6,258.4 L251.0,257.5 L250.1,256.9 L249.0,256.3 L248.0,255.4 L247.4,254.2 L246.6,253.1 L245.4,252.3 L244.3,251.6 L243.5,250.7 L243.0,249.6 L242.3,248.8 L241.2,248.2 L240.3,247.4 L239.6,246.4 L238.9,245.2 L237.8,244.3 L236.4,243.5 L235.5,242.8 L234.8,241.8 L234.0,240.8 L232.8,240.1 L231.6,239.5 L230.5,238.5 L229.7,237.4 L228.7,236.4 L227.4,235.8 L226.2,235.1 L225.4,234.1 L224.6,233.1 L223.7,232.3 L222.3,231.7 L221.1,231.0 L220.2,229.9 L219.3,228.9 L218.2,228.3 L217.0,227.9 L216.1,227.1 L215.3,226.0 L214.5,225.1 L213.3,224.5 L212.3,224.0 L211.7,223.1 L211.1,222.0 L210.3,221.1 L209.3,220.5 L208.3,219.7 L207.7,218.6 L207.0,217.5 L206.0,216.6 L204.8,216.0 L203.8,215.0 L203.0,213.8 L202.2,212.8 L201.0,212.2 L199.8,211.6 L198.8,210.7 L198.0,209.5 L196.9,208.6 L195.6,208.1 L194.4,207.4 L193.5,206.4 L192.7,205.4 L191.6,204.7 L190.4,204.3 L189.4,203.6 L188.3,202.5 L187.2,201.4 L185.8,200.8 L184.4,200.3 L183.3,199.5 L182.5,198.5 L181.6,197.8 L180.5,197.4 L179.6,196.9 L179.3,196.3 L178.9,195.2 L178.5,194.3 L177.9,193.3 L177.6,191.9 L177.5,190.3 L177.1,188.7 L176.0,187.5 L174.9,186.7 L174.0,185.8 L173.3,184.7 L172.3,183.7 L170.9,182.9 L169.8,182.5 L169.0,181.6 L168.2,180.5 L167.1,179.7 L165.8,179.2 L164.5,178.5 L163.6,177.4 L162.6,176.3 L161.4,175.7 L160.1,175.2 L159.0,174.4 L158.1,173.2 L157.1,172.3 L155.8,171.8 L154.5,171.2 L153.5,170.3 L152.8,169.3 L151.9,168.5 L150.8,168.1 L149.9,167.5 L149.1,166.2 L148.5,164.9 L147.6,164.0 L146.7,163.2 L146.1,162.2 L146.0,161.1 L146.0,160.3 L145.5,159.3 L145.2,158.3 L145.5,157.4 L146.1,156.9Z M150.3,155.4 L151.2,154.5 L152.4,154.1 L153.7,153.6 L155.0,152.9 L156.5,152.4 L158.0,152.4 L159.5,152.7 L160.9,152.7 L162.2,152.6 L163.7,152.8 L165.0,153.5 L166.2,154.3 L167.6,154.7 L169.1,155.2 L170.3,156.0 L171.2,157.1 L172.1,158.1 L173.3,159.1 L174.3,160.4 L174.8,162.0 L175.0,163.7 L175.2,165.2 L175.6,166.7 L175.6,168.2 L174.9,169.5 L174.1,170.7 L173.6,172.1 L173.0,173.6 L172.0,174.7 L170.6,175.4 L169.3,175.9 L168.2,176.4 L166.9,176.7 L165.5,176.4 L164.2,175.7 L162.8,175.4 L161.4,175.2 L160.0,174.7 L158.9,173.9 L157.9,173.1 L156.7,172.7 L155.4,172.2 L154.3,171.4 L153.5,170.3 L152.6,169.3 L151.6,168.5 L150.6,167.5 L150.2,166.3 L150.1,165.0 L149.8,163.6 L149.3,162.2 L149.1,160.7 L149.4,159.3 L149.8,157.9 L149.9,156.7Z M150.8,155.8 L152.1,155.9 L153.1,155.6 L154.1,155.1 L155.3,154.6 L156.7,154.4 L158.1,153.9 L159.5,153.3 L160.9,153.2 L162.0,153.8 L163.2,154.5 L164.5,154.8 L166.0,154.7 L167.4,155.1 L168.4,156.1 L169.3,157.2 L170.1,158.2 L170.8,159.2 L171.2,160.5 L171.6,161.8 L172.5,162.9 L173.8,164.0 L174.9,165.3 L174.9,166.7 L174.4,168.0 L173.9,169.2 L173.5,170.5 L172.8,171.7 L171.8,172.6 L171.0,173.6 L170.2,174.6 L169.1,175.4 L168.0,175.1 L166.9,174.5 L165.7,174.2 L164.4,174.6 L162.9,175.0 L161.4,175.0 L160.1,174.6 L158.7,174.3 L157.6,173.8 L156.7,172.7 L156.1,171.3 L155.3,170.2 L154.2,169.6 L152.9,169.1 L152.0,168.2 L151.6,167.0 L151.3,165.9 L150.7,164.8 L150.2,163.5 L150.1,162.1 L149.9,160.7 L149.3,159.3 L148.9,157.7 L149.4,156.4Z M151.0,156.0 L152.0,155.7 L153.1,155.8 L154.2,155.6 L155.5,155.3 L156.8,155.2 L158.1,155.1 L159.5,154.8 L160.8,154.6 L161.9,154.7 L163.0,155.1 L164.3,155.4 L165.5,155.7 L166.6,156.6 L167.2,157.9 L168.0,158.9 L169.3,159.1 L170.9,159.1 L172.2,159.9 L172.3,161.5 L171.7,163.2 L171.5,164.7 L172.1,165.8 L173.0,166.8 L173.7,168.0 L173.7,169.2 L173.1,170.3 L172.0,171.2 L170.6,171.7 L169.8,172.3 L169.4,173.4 L168.9,174.6 L168.0,175.0 L166.9,174.5 L165.7,174.0 L164.5,173.9 L163.1,174.0 L161.8,173.6 L160.7,172.7 L159.7,172.0 L158.6,171.9 L157.1,172.0 L155.9,171.6 L155.0,170.6 L154.5,169.3 L154.1,168.1 L153.7,167.0 L153.0,166.2 L151.8,165.6 L150.5,164.9 L149.9,163.6 L150.5,162.1 L151.7,160.6 L152.2,159.5 L151.6,158.4 L150.8,157.1Z M152.8,157.6 L152.7,156.8 L153.3,156.1 L154.3,155.9 L155.5,155.8 L156.8,155.3 L158.1,154.9 L159.5,155.1 L160.7,155.8 L161.6,156.2 L162.7,156.4 L163.8,156.7 L164.7,157.5 L165.5,158.5 L166.5,159.0 L167.7,159.3 L168.6,159.8 L169.2,160.5 L169.9,161.3 L171.0,162.1 L172.1,163.1 L172.7,164.3 L172.8,165.6 L172.9,166.8 L173.2,167.9 L173.1,169.0 L172.3,170.0 L171.3,170.8 L170.5,171.6 L169.9,172.4 L169.1,172.8 L168.2,172.6 L167.7,172.3 L166.9,172.6 L165.9,172.9 L164.7,172.8 L163.5,172.4 L162.2,172.2 L160.8,172.4 L159.5,172.4 L158.5,171.9 L157.6,171.2 L156.6,170.6 L155.4,170.1 L154.6,169.2 L154.2,168.0 L154.0,166.8 L153.5,165.9 L153.1,165.1 L153.1,164.1 L153.4,162.9 L153.3,161.7 L152.9,160.6 L152.5,159.5 L152.7,158.6 L152.9,158.1Z M180.4,183.2 L181.2,182.5 L182.3,181.9 L183.5,181.5 L184.8,180.9 L186.1,180.0 L187.6,179.4 L189.1,179.2 L190.8,179.4 L192.3,179.5 L193.8,179.5 L195.2,179.8 L196.3,180.4 L197.4,181.0 L198.6,181.3 L200.0,181.4 L201.2,181.8 L202.4,182.5 L203.5,183.2 L204.7,183.8 L205.8,184.5 L206.7,185.5 L207.4,186.7 L208.2,187.8 L209.1,188.5 L210.2,189.1 L211.0,189.9 L211.8,190.8 L212.8,191.6 L214.0,192.2 L214.9,193.1 L215.5,194.2 L216.0,195.4 L216.6,196.5 L217.4,197.5 L218.0,198.5 L218.4,199.7 L219.1,200.8 L220.1,201.7 L221.2,202.5 L222.1,203.6 L222.8,204.8 L223.5,206.0 L224.3,207.1 L224.9,208.3 L225.2,209.6 L225.4,210.9 L225.6,212.0 L226.2,212.9 L226.8,213.8 L227.2,215.7 L227.2,217.5 L227.2,219.3 L227.0,221.0 L226.1,222.4 L224.6,223.2 L223.3,223.2 L222.2,223.2 L220.9,223.2 L219.6,222.9 L218.2,222.4 L216.7,221.9 L215.0,221.7 L213.3,221.5 L212.2,221.2 L211.2,220.5 L210.2,219.8 L209.0,219.2 L207.9,218.5 L207.0,217.4 L206.1,216.3 L205.0,215.5 L203.7,214.9 L202.4,214.3 L201.3,213.6 L200.3,212.8 L199.1,212.2 L198.0,211.6 L197.0,210.8 L196.3,209.6 L195.6,208.5 L194.7,207.6 L193.8,206.8 L192.9,205.9 L192.1,205.0 L191.1,204.2 L190.0,203.8 L188.9,203.3 L188.0,202.5 L187.4,201.6 L186.5,200.6 L185.5,199.7 L184.5,198.7 L183.8,197.5 L183.1,196.4 L182.2,195.6 L181.1,195.0 L180.1,194.3 L179.4,193.4 L178.9,192.5 L178.1,191.0 L177.4,189.3 L177.5,187.5 L178.2,185.9 L179.2,184.5Z M180.8,183.7 L181.8,183.4 L182.7,182.8 L183.8,182.2 L185.1,182.0 L186.6,182.1 L188.1,181.9 L189.5,181.4 L190.9,181.0 L192.4,181.2 L193.7,181.6 L194.9,181.7 L196.0,181.6 L197.2,181.7 L198.2,182.4 L199.2,183.1 L200.4,183.4 L201.7,183.6 L202.8,184.2 L203.8,185.2 L204.8,186.0 L206.0,186.5 L207.2,186.9 L208.2,187.8 L208.9,188.7 L209.7,189.6 L210.8,190.1 L211.9,190.8 L212.6,191.8 L213.1,193.0 L213.9,193.9 L214.9,194.6 L215.8,195.5 L216.3,196.7 L216.8,197.9 L217.6,198.8 L218.5,199.6 L219.2,200.7 L219.6,202.0 L220.1,203.2 L221.0,204.3 L222.0,205.3 L222.6,206.6 L222.9,207.9 L223.3,209.2 L224.1,210.2 L224.9,211.2 L225.1,212.3 L225.1,213.4 L225.2,214.2 L225.9,215.8 L226.1,217.5 L225.6,218.9 L224.9,219.9 L224.4,220.8 L223.9,221.8 L223.2,222.2 L222.2,222.1 L221.1,221.9 L219.8,222.0 L218.3,222.1 L216.8,221.7 L215.4,220.9 L213.9,220.2 L212.8,220.1 L211.6,219.9 L210.5,219.3 L209.6,218.3 L208.5,217.6 L207.2,217.1 L206.0,216.5 L205.0,215.5 L204.1,214.3 L203.0,213.5 L201.8,212.9 L200.8,212.1 L200.0,211.0 L199.3,209.9 L198.3,209.1 L197.1,208.6 L196.2,207.7 L195.5,206.6 L194.8,205.6 L193.7,205.0 L192.6,204.4 L191.7,203.6 L191.0,202.6 L190.2,201.8 L189.1,201.4 L188.1,200.9 L187.1,200.0 L186.2,198.9 L185.2,198.1 L183.8,197.5 L182.7,196.8 L182.0,195.8 L181.4,194.8 L180.5,194.0 L179.6,193.3 L179.0,192.4 L178.8,190.7 L178.7,189.1 L178.5,187.6 L178.5,186.0 L179.3,184.6Z M181.7,184.8 L182.4,184.6 L183.4,184.4 L184.4,183.9 L185.5,183.2 L186.8,182.7 L188.2,182.5 L189.6,182.3 L191.0,181.9 L192.4,181.4 L193.7,181.3 L194.9,181.6 L196.0,181.9 L197.1,181.9 L198.3,182.1 L199.4,182.7 L200.3,183.6 L201.3,184.3 L202.5,184.9 L203.5,185.5 L204.4,186.5 L205.2,187.5 L206.1,188.3 L207.2,188.9 L208.1,189.6 L208.8,190.5 L209.5,191.4 L210.4,192.1 L211.5,192.7 L212.4,193.6 L213.0,194.6 L213.7,195.5 L214.7,196.3 L215.7,197.1 L216.4,198.1 L216.9,199.3 L217.5,200.3 L218.4,201.3 L219.2,202.3 L219.7,203.5 L220.1,204.9 L220.7,206.1 L221.5,207.2 L222.2,208.3 L222.6,209.6 L222.9,210.8 L223.5,211.8 L224.1,212.7 L224.6,213.5 L224.6,214.3 L224.8,216.0 L225.1,217.4 L225.2,218.8 L224.8,219.9 L224.1,220.5 L223.4,220.9 L223.0,221.3 L222.2,221.6 L221.1,221.4 L220.0,220.8 L218.8,220.4 L217.4,220.1 L215.9,219.7 L214.5,218.8 L213.7,218.2 L212.8,217.7 L211.6,217.4 L210.4,216.9 L209.4,216.2 L208.3,215.4 L207.0,214.9 L205.7,214.5 L204.4,213.9 L203.4,213.0 L202.3,212.2 L201.1,211.7 L199.9,211.1 L198.9,210.3 L198.2,209.3 L197.3,208.4 L196.2,207.7 L195.2,207.0 L194.5,205.9 L193.8,204.8 L193.0,203.9 L192.1,203.2 L191.2,202.4 L190.6,201.4 L190.0,200.5 L189.1,199.8 L187.9,199.1 L186.9,198.2 L186.0,197.2 L185.1,196.2 L184.1,195.5 L183.0,194.9 L182.3,194.1 L181.8,193.1 L181.4,192.3 L180.8,191.7 L180.2,190.4 L180.1,189.0 L180.4,187.7 L180.6,186.7 L180.9,185.7Z M182.5,185.8 L182.9,185.6 L183.6,185.0 L184.5,184.3 L185.7,183.8 L187.0,183.6 L188.4,183.4 L189.7,183.0 L191.1,182.6 L192.4,182.5 L193.6,182.6 L194.8,182.7 L195.8,182.7 L196.9,182.8 L197.9,183.3 L198.8,184.0 L199.8,184.6 L200.9,185.1 L202.0,185.6 L202.9,186.5 L203.8,187.3 L204.8,188.0 L206.0,188.5 L207.0,189.3 L207.6,190.1 L208.3,191.0 L209.1,191.8 L209.9,192.6 L210.5,193.6 L210.9,194.7 L211.5,195.8 L212.3,196.6 L213.2,197.4 L214.0,198.4 L214.6,199.4 L215.5,200.3 L216.5,201.1 L217.4,201.9 L218.0,203.1 L218.6,204.3 L219.3,205.4 L220.1,206.5 L220.8,207.6 L221.3,208.9 L221.9,210.0 L222.6,211.0 L223.4,211.8 L224.0,212.7 L224.3,213.6 L224.5,214.4 L224.9,215.9 L225.1,217.4 L224.7,218.6 L224.1,219.5 L223.5,220.0 L223.1,220.4 L222.8,220.5 L222.1,220.4 L221.3,220.1 L220.2,219.9 L219.0,219.8 L217.6,219.4 L216.3,218.6 L215.0,217.8 L214.2,217.4 L213.1,217.0 L212.1,216.5 L211.2,215.7 L210.1,215.0 L208.9,214.5 L207.6,214.0 L206.5,213.3 L205.5,212.4 L204.4,211.5 L203.3,210.8 L202.1,210.2 L201.2,209.4 L200.3,208.5 L199.3,207.8 L198.1,207.3 L196.9,206.8 L196.0,206.1 L195.1,205.2 L194.0,204.6 L193.0,203.9 L192.1,203.1 L191.5,202.1 L190.9,201.1 L190.1,200.3 L189.3,199.6 L188.4,198.6 L187.5,197.5 L186.6,196.6 L185.5,195.9 L184.4,195.2 L183.7,194.3 L183.2,193.3 L182.7,192.5 L182.2,191.9 L181.9,191.2 L181.7,189.9 L181.8,188.7 L181.8,187.8 L181.7,187.0 L181.8,186.3Z M226.5,225.8 L227.7,226.0 L228.8,226.0 L230.0,225.9 L231.4,226.1 L232.7,226.7 L234.0,227.5 L235.4,228.3 L236.6,229.2 L237.8,230.4 L238.9,231.3 L240.1,231.8 L241.5,231.9 L242.8,232.3 L243.8,233.0 L244.8,234.0 L245.8,234.8 L246.9,235.6 L247.8,236.5 L248.7,237.3 L249.8,238.0 L251.0,238.5 L252.0,239.2 L252.8,240.5 L253.4,241.9 L254.0,243.2 L254.9,244.5 L255.6,245.8 L255.9,247.2 L256.2,248.5 L256.4,249.8 L256.5,251.1 L256.3,252.8 L255.7,254.5 L255.0,256.2 L254.4,257.9 L253.2,259.3 L251.4,259.8 L249.9,259.2 L248.8,258.5 L247.7,257.9 L246.5,257.2 L245.2,256.3 L243.9,255.5 L242.5,254.9 L241.2,254.1 L240.4,253.2 L239.9,252.0 L239.2,250.8 L238.2,250.0 L237.0,249.4 L235.9,248.7 L234.9,247.9 L233.8,247.1 L232.8,246.4 L232.0,245.5 L231.5,244.4 L230.6,243.1 L229.5,242.1 L228.3,241.2 L227.4,240.1 L226.8,238.9 L226.3,237.6 L225.7,236.4 L225.1,235.0 L224.7,233.4 L224.4,231.7 L224.1,230.0 L224.1,228.2 L224.9,226.6Z M227.4,227.8 L227.7,227.1 L228.6,226.8 L229.7,227.2 L230.8,227.8 L232.1,228.2 L233.5,228.7 L234.8,229.4 L236.1,230.3 L237.5,230.9 L239.0,231.1 L240.2,231.6 L241.1,232.5 L242.0,233.6 L243.2,234.1 L244.6,234.3 L245.9,234.7 L247.0,235.4 L248.0,236.2 L249.2,236.8 L250.2,237.6 L250.7,238.8 L250.9,240.0 L251.6,241.2 L252.7,242.2 L253.6,243.4 L253.9,244.8 L253.9,246.3 L254.2,247.6 L254.6,248.8 L254.8,249.9 L254.7,251.0 L254.6,252.5 L254.6,254.1 L254.3,255.7 L253.1,256.8 L251.7,257.1 L250.8,257.1 L250.2,257.3 L249.3,257.3 L248.2,256.8 L247.1,256.1 L245.8,255.5 L244.3,255.0 L243.1,254.1 L242.1,252.9 L241.2,252.2 L240.0,251.9 L238.6,251.5 L237.6,250.7 L236.9,249.5 L236.2,248.4 L235.2,247.5 L234.2,246.6 L233.6,245.6 L232.8,244.7 L231.8,244.2 L230.4,243.3 L229.4,242.2 L228.9,240.8 L228.6,239.4 L227.8,238.4 L227.0,237.3 L226.7,236.1 L226.6,234.6 L226.4,233.1 L226.1,231.5 L226.1,229.9 L226.7,228.7 L227.2,228.2Z M227.5,228.1 L227.7,227.5 L228.6,227.3 L229.5,227.8 L230.5,228.8 L231.5,229.7 L232.9,230.2 L234.3,230.5 L235.8,230.9 L237.2,231.4 L238.6,231.9 L239.7,232.5 L240.6,233.4 L241.4,234.6 L242.4,235.4 L243.8,235.6 L245.2,235.8 L246.4,236.3 L247.3,237.1 L248.0,238.1 L248.8,239.0 L249.4,240.0 L249.9,240.8 L250.8,241.8 L251.9,242.6 L253.0,243.7 L253.5,245.0 L253.4,246.5 L253.2,247.8 L253.4,249.0 L253.8,250.1 L254.1,251.0 L254.1,252.4 L253.9,253.9 L253.4,255.3 L252.4,256.2 L251.3,256.4 L250.6,256.3 L250.4,256.5 L249.4,256.9 L248.3,256.8 L247.2,256.0 L246.2,255.0 L245.1,253.9 L244.0,252.8 L242.9,251.8 L242.0,251.1 L240.8,250.8 L239.5,250.5 L238.4,249.8 L237.7,248.6 L237.1,247.3 L236.4,246.3 L235.3,245.6 L234.2,244.9 L233.3,244.3 L232.4,243.7 L231.2,242.6 L230.4,241.4 L230.1,240.0 L229.9,238.7 L229.3,237.7 L228.3,236.8 L227.4,235.9 L226.9,234.6 L226.9,233.0 L226.9,231.4 L227.0,229.9 L227.2,228.8 L227.5,228.4Z M227.8,228.8 L227.7,229.1 L228.2,229.3 L229.1,229.3 L230.2,229.4 L231.5,229.8 L232.6,230.7 L233.8,231.6 L235.2,232.2 L236.6,232.6 L237.9,233.1 L239.1,233.6 L240.4,233.9 L241.7,234.1 L242.9,234.6 L243.7,235.7 L244.4,237.0 L245.1,238.1 L245.9,238.9 L246.7,239.7 L247.3,240.5 L248.2,241.0 L249.4,241.2 L250.8,241.8 L251.8,242.7 L252.3,244.0 L252.6,245.3 L252.8,246.6 L252.8,247.9 L252.4,249.2 L252.0,250.2 L252.2,250.9 L252.5,252.1 L252.6,253.4 L252.1,254.6 L251.5,255.4 L251.1,256.1 L250.7,256.5 L250.4,256.3 L249.9,255.7 L249.0,255.3 L247.8,255.1 L246.5,254.6 L245.3,253.6 L244.3,252.5 L243.2,251.4 L242.4,250.7 L241.7,249.7 L241.1,248.6 L240.2,247.7 L239.0,247.2 L237.5,246.9 L236.2,246.4 L235.2,245.7 L234.2,244.9 L233.3,244.2 L232.8,243.3 L232.4,241.6 L232.2,240.0 L231.8,238.8 L231.0,237.9 L230.3,237.1 L229.7,236.3 L229.0,235.4 L228.1,234.3 L227.2,232.9 L227.0,231.3 L227.4,229.9 L227.8,228.9 L227.9,228.7Z M109.2,266.3 L109.8,264.8 L110.9,263.5 L112.3,262.7 L113.7,262.0 L114.8,261.3 L115.9,260.4 L117.2,259.7 L118.7,259.4 L120.3,259.1 L121.8,258.8 L123.4,258.8 L124.8,259.2 L125.9,260.0 L127.1,260.6 L128.6,260.9 L129.6,261.0 L130.7,261.5 L131.9,262.0 L133.2,262.4 L134.6,262.5 L136.1,262.8 L137.5,263.4 L138.9,264.1 L140.0,264.3 L141.2,264.5 L142.4,264.8 L143.5,265.5 L144.7,266.0 L146.0,266.3 L147.3,266.5 L148.5,267.1 L149.5,267.9 L150.7,268.5 L151.9,268.9 L153.2,269.6 L154.2,270.6 L155.0,271.7 L156.0,272.5 L157.0,273.3 L157.9,274.2 L158.6,275.4 L159.4,276.5 L160.5,277.5 L161.4,278.3 L162.1,279.3 L162.7,280.4 L163.4,281.5 L164.4,282.4 L165.4,283.4 L166.1,284.5 L166.7,285.7 L167.5,286.7 L168.5,287.5 L169.3,288.3 L169.9,289.3 L170.4,290.1 L171.5,291.0 L172.7,291.6 L173.8,292.3 L174.8,293.2 L175.8,294.0 L177.0,294.5 L178.1,295.1 L179.1,296.1 L180.1,297.7 L181.0,299.1 L181.9,300.5 L182.5,301.9 L182.6,303.5 L182.5,305.0 L182.5,306.5 L182.5,308.1 L182.0,309.6 L181.0,311.0 L180.0,312.0 L179.1,313.2 L178.1,314.4 L176.8,315.4 L175.3,316.0 L173.9,316.6 L172.6,317.3 L171.2,317.9 L169.6,318.0 L168.0,317.9 L166.4,317.9 L164.7,317.9 L163.5,317.8 L162.3,317.2 L161.1,316.6 L159.9,316.2 L158.5,315.9 L157.3,315.3 L156.2,314.5 L155.1,313.8 L153.9,313.4 L152.7,312.8 L151.6,312.0 L150.7,311.0 L149.8,310.2 L148.7,309.6 L147.6,308.9 L146.7,307.9 L145.8,306.8 L144.8,306.1 L143.7,305.5 L142.7,304.7 L141.8,303.7 L140.8,302.7 L139.7,302.0 L138.5,301.3 L137.5,300.4 L136.6,299.4 L135.6,298.5 L134.5,297.9 L133.4,297.3 L132.5,296.5 L131.7,295.5 L130.7,294.8 L129.6,294.3 L128.6,293.6 L127.7,292.7 L126.9,291.8 L125.9,291.1 L124.9,290.5 L123.9,289.6 L123.0,288.5 L122.1,287.5 L121.1,286.7 L120.0,285.9 L119.2,284.9 L118.5,283.8 L117.7,282.9 L116.7,282.1 L115.7,281.1 L114.9,279.9 L114.2,278.7 L113.2,277.7 L112.2,276.8 L111.4,275.7 L110.9,274.6 L110.5,273.5 L109.6,272.1 L108.9,270.7 L108.6,269.2 L108.9,267.7Z M109.8,266.5 L110.1,265.0 L111.2,263.9 L112.6,263.2 L113.9,262.6 L115.0,261.6 L116.0,260.6 L117.4,260.1 L118.9,260.0 L120.4,259.7 L121.8,259.2 L123.3,259.2 L124.5,260.0 L125.5,260.9 L126.8,261.4 L128.3,261.7 L129.4,262.0 L130.4,262.8 L131.5,263.4 L132.9,263.6 L134.3,263.7 L135.7,264.2 L136.9,265.1 L138.3,265.7 L139.5,265.7 L140.7,265.8 L141.8,266.4 L142.9,267.1 L144.1,267.4 L145.5,267.4 L146.8,267.6 L147.9,268.4 L148.9,269.1 L150.2,269.4 L151.5,269.5 L152.7,270.3 L153.6,271.3 L154.4,272.3 L155.6,272.9 L156.7,273.6 L157.5,274.6 L158.0,275.9 L158.8,277.0 L160.0,277.9 L160.9,278.7 L161.3,279.9 L161.7,281.2 L162.6,282.2 L163.6,283.1 L164.3,284.2 L164.8,285.5 L165.3,286.8 L166.2,287.7 L167.2,288.5 L167.9,289.5 L168.3,290.7 L169.0,291.5 L170.4,292.3 L171.7,293.0 L172.8,293.9 L173.7,294.9 L174.9,295.4 L176.2,295.7 L177.3,296.2 L178.0,297.2 L178.9,298.6 L180.0,299.7 L181.1,300.8 L181.6,302.2 L181.6,303.6 L181.6,305.0 L181.9,306.4 L182.0,308.0 L181.3,309.4 L180.2,310.5 L179.4,311.6 L178.7,312.8 L177.7,314.0 L176.2,314.6 L174.8,315.0 L173.5,315.7 L172.3,316.5 L171.0,316.9 L169.5,316.6 L168.0,316.5 L166.5,316.7 L164.9,316.8 L163.8,316.4 L162.8,315.7 L161.7,315.2 L160.3,315.1 L159.0,314.8 L157.9,314.0 L156.9,313.2 L155.7,312.7 L154.4,312.5 L153.2,312.0 L152.3,311.0 L151.5,310.1 L150.3,309.5 L149.1,309.1 L148.1,308.3 L147.3,307.1 L146.3,306.1 L145.1,305.7 L144.0,305.2 L143.1,304.2 L142.3,303.1 L141.2,302.2 L139.9,301.7 L138.8,301.0 L137.9,299.9 L137.1,298.8 L135.9,298.1 L134.7,297.6 L133.8,296.9 L133.0,295.8 L132.2,294.9 L131.0,294.4 L129.9,293.9 L129.0,293.0 L128.3,292.0 L127.4,291.2 L126.3,290.7 L125.3,290.1 L124.4,289.0 L123.7,287.8 L122.7,286.9 L121.5,286.3 L120.5,285.4 L119.9,284.2 L119.3,283.1 L118.3,282.3 L117.2,281.6 L116.4,280.5 L115.8,279.2 L115.0,278.0 L113.9,277.2 L112.8,276.3 L112.2,275.2 L111.9,274.0 L111.3,273.1 L110.2,271.9 L109.5,270.5 L109.5,269.1 L109.7,267.8Z M110.7,266.9 L111.0,265.7 L111.9,264.8 L113.3,264.3 L114.7,263.8 L115.7,263.0 L116.8,262.1 L118.0,261.6 L119.4,261.5 L120.6,261.3 L121.8,260.7 L123.0,260.5 L124.1,261.0 L125.2,261.8 L126.5,262.2 L128.2,262.2 L129.3,262.4 L130.3,263.0 L131.5,263.7 L132.8,263.8 L134.2,264.0 L135.6,264.6 L136.8,265.5 L138.1,266.3 L139.2,266.6 L140.3,266.9 L141.4,267.6 L142.3,268.5 L143.5,269.0 L144.8,269.2 L146.0,269.4 L147.0,270.2 L148.0,270.9 L149.2,271.1 L150.4,271.2 L151.6,271.7 L152.5,272.7 L153.3,273.5 L154.5,274.0 L155.7,274.5 L156.5,275.5 L157.0,276.8 L157.9,277.8 L159.1,278.7 L160.0,279.5 L160.4,280.6 L160.8,281.9 L161.6,282.9 L162.7,283.7 L163.5,284.8 L164.0,286.1 L164.6,287.3 L165.6,288.2 L166.7,288.9 L167.5,289.9 L168.0,291.0 L168.7,291.8 L170.2,292.6 L171.5,293.3 L172.6,294.2 L173.5,295.3 L174.5,296.0 L175.7,296.4 L176.6,297.0 L177.0,298.0 L177.7,299.5 L178.4,300.6 L179.2,301.6 L179.6,302.8 L179.4,304.0 L179.3,305.1 L179.6,306.2 L179.9,307.5 L179.5,308.6 L178.7,309.6 L178.2,310.6 L177.8,311.9 L177.1,313.2 L175.9,314.1 L174.6,314.7 L173.4,315.5 L172.3,316.5 L171.0,316.9 L169.5,316.8 L168.0,316.6 L166.5,316.7 L164.9,316.7 L163.9,316.2 L162.9,315.4 L161.8,314.7 L160.6,314.4 L159.3,314.1 L158.3,313.3 L157.3,312.3 L156.2,311.8 L154.9,311.6 L153.7,311.1 L152.9,310.2 L152.0,309.3 L150.9,308.8 L149.7,308.4 L148.7,307.6 L147.9,306.5 L146.9,305.4 L145.7,304.9 L144.6,304.4 L143.7,303.4 L143.0,302.2 L142.0,301.3 L140.7,300.7 L139.6,300.0 L138.7,298.9 L137.8,297.8 L136.7,297.1 L135.4,296.8 L134.3,296.2 L133.5,295.3 L132.5,294.5 L131.3,294.1 L130.0,293.7 L129.1,293.0 L128.3,291.9 L127.4,291.1 L126.3,290.7 L125.3,290.1 L124.5,288.9 L123.9,287.6 L123.0,286.6 L122.0,285.8 L121.1,284.8 L120.6,283.5 L120.1,282.3 L119.2,281.5 L118.2,280.7 L117.4,279.7 L116.8,278.3 L116.0,277.2 L114.8,276.4 L113.7,275.7 L113.1,274.6 L112.7,273.5 L112.1,272.7 L111.0,271.6 L110.3,270.3 L110.3,269.0 L110.6,267.9Z M111.4,267.2 L112.1,266.7 L113.1,266.2 L114.0,265.3 L114.9,264.3 L116.1,263.7 L117.4,263.5 L118.7,263.1 L119.7,262.4 L120.7,261.8 L121.8,262.0 L122.6,262.5 L123.4,262.8 L124.6,263.0 L126.0,263.4 L127.4,264.3 L128.5,265.0 L129.7,265.3 L131.1,265.2 L132.3,265.6 L133.5,266.4 L134.8,267.0 L136.2,267.2 L137.7,267.3 L138.7,267.9 L139.7,268.6 L140.8,269.1 L142.1,269.2 L143.4,269.4 L144.4,270.0 L145.4,270.8 L146.6,271.2 L147.8,271.3 L148.8,271.7 L149.6,272.5 L150.4,273.3 L151.5,273.8 L152.6,274.2 L153.4,275.0 L154.0,276.1 L154.7,277.0 L155.9,277.7 L157.1,278.5 L157.9,279.8 L158.4,280.8 L159.2,281.6 L160.3,282.3 L161.3,283.2 L161.9,284.4 L162.5,285.6 L163.5,286.5 L164.6,287.3 L165.5,288.4 L166.0,289.6 L166.6,290.6 L167.6,291.3 L168.6,291.9 L169.7,293.1 L170.7,294.4 L171.9,295.3 L173.2,295.7 L174.4,296.2 L175.2,297.1 L175.8,298.0 L176.5,298.5 L177.8,299.4 L178.5,300.5 L178.7,301.8 L178.8,303.0 L179.3,304.0 L179.7,305.1 L179.6,306.2 L179.0,307.3 L178.6,308.2 L178.4,309.4 L178.0,310.4 L177.0,311.2 L175.8,311.8 L174.9,312.7 L174.0,313.7 L173.0,314.5 L171.7,314.6 L170.5,314.7 L169.3,315.2 L168.0,315.7 L166.6,315.7 L165.2,315.2 L164.2,314.9 L163.0,314.9 L161.8,314.9 L160.6,314.3 L159.6,313.5 L158.4,313.0 L157.1,312.8 L155.8,312.4 L154.9,311.6 L154.0,310.7 L152.9,310.1 L151.7,309.8 L150.7,309.1 L150.0,308.0 L149.1,307.0 L147.9,306.4 L146.6,305.7 L145.8,304.9 L145.1,303.8 L144.1,302.9 L142.9,302.3 L141.7,301.6 L140.9,300.5 L140.1,299.4 L139.0,298.5 L137.7,297.9 L136.7,297.1 L136.0,296.0 L135.2,295.0 L134.2,294.4 L133.0,293.9 L132.1,293.0 L131.4,291.9 L130.6,291.0 L129.5,290.5 L128.4,290.0 L127.7,289.1 L127.1,288.0 L126.2,287.1 L124.9,286.5 L123.9,285.7 L123.2,284.6 L122.5,283.5 L121.5,282.7 L120.4,282.1 L119.5,281.2 L119.0,280.1 L118.2,278.9 L117.1,278.1 L115.9,277.3 L115.2,276.2 L114.7,274.9 L114.1,274.0 L113.1,273.3 L112.4,272.5 L112.0,271.1 L112.0,269.9 L111.7,268.9 L111.3,268.0Z M113.0,267.9 L113.4,267.7 L113.9,267.1 L114.6,266.2 L115.7,265.6 L117.0,265.3 L118.1,264.8 L119.0,264.0 L120.0,263.3 L121.0,263.1 L121.8,263.3 L122.4,263.3 L123.3,263.2 L124.4,263.5 L125.7,264.3 L127.2,265.1 L128.4,265.4 L129.7,265.4 L130.9,265.7 L132.1,266.4 L133.4,267.0 L134.8,267.2 L136.2,267.3 L137.5,267.8 L138.5,268.5 L139.6,268.9 L140.9,268.9 L142.2,269.1 L143.3,269.6 L144.4,270.2 L145.6,270.5 L146.9,270.5 L148.0,270.9 L148.9,271.6 L149.7,272.3 L150.8,272.8 L151.9,273.3 L152.7,274.1 L153.3,275.2 L153.9,276.2 L154.8,277.0 L155.7,277.9 L156.4,279.1 L157.0,280.5 L157.7,281.4 L158.6,282.1 L159.4,283.0 L160.0,284.2 L160.6,285.4 L161.5,286.3 L162.7,287.2 L163.6,288.2 L164.2,289.4 L164.9,290.4 L166.0,291.2 L167.0,291.9 L167.8,292.8 L168.8,294.2 L170.0,295.3 L171.4,295.9 L172.7,296.6 L173.6,297.5 L174.2,298.4 L174.9,299.0 L175.6,299.3 L176.5,300.4 L176.8,301.5 L177.0,302.5 L177.4,303.4 L177.9,304.2 L178.0,305.2 L177.6,306.1 L177.4,306.9 L177.5,307.8 L177.3,308.7 L176.7,309.4 L175.8,310.0 L175.0,310.8 L174.2,311.8 L173.3,312.6 L172.2,312.8 L171.2,312.9 L170.1,313.3 L169.1,313.8 L167.9,313.9 L166.7,313.6 L165.5,313.3 L164.6,313.4 L163.5,313.5 L162.4,313.1 L161.4,312.4 L160.3,312.0 L158.9,311.9 L157.7,311.6 L156.6,310.9 L155.7,310.2 L154.6,309.7 L153.4,309.4 L152.4,308.8 L151.7,307.8 L150.9,306.8 L149.9,306.1 L148.7,305.5 L147.6,304.5 L146.9,303.4 L146.1,302.5 L144.9,301.9 L143.8,301.2 L142.8,300.3 L141.9,299.2 L140.8,298.4 L139.5,297.9 L138.3,297.2 L137.4,296.2 L136.5,295.4 L135.4,294.8 L134.2,294.4 L133.1,293.7 L132.4,292.7 L131.5,291.8 L130.4,291.3 L129.4,290.7 L128.6,289.7 L128.0,288.7 L127.3,287.8 L126.2,287.0 L125.2,286.1 L124.6,285.0 L123.9,283.8 L123.0,282.9 L122.0,282.2 L121.2,281.3 L120.6,280.2 L119.9,279.2 L118.9,278.4 L117.7,277.6 L116.9,276.5 L116.3,275.3 L115.6,274.3 L114.6,273.6 L113.9,272.8 L113.6,272.0 L113.4,270.6 L113.0,269.6 L112.6,268.8 L112.6,268.2Z M113.7,268.2 L114.1,268.3 L114.6,268.0 L115.3,267.3 L116.1,266.3 L117.3,265.8 L118.5,265.5 L119.5,265.1 L120.3,264.4 L121.1,263.9 L121.8,264.1 L122.2,264.5 L122.7,264.7 L123.8,264.8 L125.2,265.4 L126.8,266.4 L128.0,267.0 L129.2,267.1 L130.6,267.1 L131.9,267.4 L133.1,268.0 L134.4,268.3 L135.9,268.3 L137.3,268.4 L138.4,268.9 L139.4,269.5 L140.6,269.8 L141.9,269.8 L143.1,270.1 L144.1,270.8 L145.1,271.5 L146.3,271.8 L147.4,272.0 L148.4,272.5 L149.1,273.2 L149.9,274.0 L151.0,274.4 L152.1,274.8 L152.8,275.7 L153.3,276.7 L154.1,277.6 L155.2,278.3 L156.2,279.3 L157.0,280.6 L157.4,281.7 L158.1,282.5 L159.0,283.3 L159.7,284.4 L160.2,285.7 L160.7,287.0 L161.7,287.9 L162.7,288.8 L163.5,289.9 L164.0,291.2 L164.8,292.2 L165.9,292.9 L166.9,293.7 L168.1,295.0 L169.2,296.4 L170.6,297.3 L171.9,297.8 L173.0,298.4 L173.7,299.3 L174.1,300.0 L174.6,300.3 L175.6,301.0 L176.2,301.9 L176.3,302.8 L176.4,303.6 L176.9,304.4 L177.3,305.2 L177.2,306.0 L176.8,306.7 L176.6,307.4 L176.6,308.3 L176.2,309.0 L175.3,309.5 L174.3,310.0 L173.5,310.7 L172.7,311.5 L171.9,312.0 L170.8,311.9 L169.8,312.0 L168.9,312.4 L167.9,312.8 L166.8,312.7 L165.6,312.3 L164.9,312.1 L163.9,312.3 L162.7,312.2 L161.7,311.7 L160.7,310.9 L159.6,310.5 L158.3,310.3 L157.2,309.8 L156.4,309.0 L155.5,308.2 L154.5,307.8 L153.4,307.5 L152.5,306.8 L151.7,305.9 L150.7,305.1 L149.4,304.6 L148.0,304.0 L147.1,303.2 L146.2,302.3 L145.2,301.5 L143.9,301.0 L142.8,300.3 L141.9,299.3 L141.0,298.1 L139.9,297.3 L138.7,296.7 L137.7,295.8 L137.0,294.8 L136.2,293.8 L135.1,293.2 L133.9,292.7 L133.0,291.9 L132.3,290.8 L131.4,290.0 L130.3,289.5 L129.3,288.9 L128.6,288.0 L128.1,287.0 L127.1,286.1 L126.0,285.3 L125.1,284.4 L124.5,283.3 L123.8,282.1 L122.9,281.4 L121.8,280.7 L121.1,279.8 L120.6,278.7 L119.7,277.6 L118.6,276.8 L117.5,276.0 L116.8,274.9 L116.3,273.8 L115.6,272.9 L114.8,272.3 L114.3,271.6 L114.1,270.3 L114.2,269.3 L114.0,268.7 L113.7,268.3Z M94.7,251.4 L95.7,249.7 L97.5,248.9 L99.3,248.8 L100.8,248.7 L102.4,248.4 L103.8,248.7 L104.9,250.0 L105.7,251.5 L106.8,252.4 L108.3,253.3 L109.4,254.5 L109.8,256.1 L109.8,257.7 L109.7,259.3 L109.4,260.9 L108.5,262.1 L107.5,263.2 L107.0,264.6 L106.7,266.2 L105.8,267.5 L104.4,267.9 L102.8,267.8 L101.2,268.1 L99.4,268.4 L97.5,268.0 L96.2,266.6 L95.7,265.5 L95.3,264.3 L95.2,262.9 L95.7,261.4 L96.1,259.8 L95.7,258.3 L94.5,256.8 L93.8,255.3 L93.8,253.8 L94.3,252.6Z M96.4,252.2 L96.4,250.3 L98.0,250.1 L99.4,251.2 L100.7,251.1 L102.0,249.9 L103.4,249.7 L104.3,251.0 L105.1,252.1 L106.4,252.7 L107.7,253.7 L108.2,254.9 L108.6,256.3 L108.8,257.8 L108.4,259.4 L107.9,260.8 L108.2,262.0 L108.2,263.6 L106.9,264.5 L105.1,264.7 L104.4,265.5 L104.0,267.1 L102.8,267.8 L101.1,267.0 L99.7,266.5 L98.1,267.1 L96.4,266.5 L96.2,265.3 L96.3,264.1 L95.5,262.9 L94.9,261.5 L95.3,259.9 L95.6,258.3 L94.9,256.8 L94.7,255.3 L95.9,254.0 L96.9,253.1Z M97.1,252.5 L97.4,251.3 L98.2,250.8 L99.4,250.6 L100.7,250.5 L101.8,250.7 L102.7,251.4 L103.4,252.3 L104.2,253.0 L105.4,253.5 L106.5,254.3 L107.0,255.3 L107.4,256.6 L107.7,258.0 L107.8,259.4 L107.4,260.7 L106.6,261.7 L106.0,262.6 L105.7,263.7 L105.3,264.9 L104.6,265.8 L103.7,266.2 L102.5,266.6 L101.1,267.0 L99.7,266.8 L98.8,266.0 L98.4,265.0 L98.0,264.7 L97.2,263.9 L96.6,262.7 L96.3,261.3 L96.2,259.8 L96.0,258.3 L96.1,256.7 L96.7,255.3 L97.3,254.1 L97.4,253.1Z M97.1,252.5 L97.7,251.7 L98.6,251.8 L99.5,251.9 L100.6,251.9 L101.5,252.1 L102.1,252.7 L102.8,253.2 L103.9,253.3 L105.2,253.7 L105.9,254.6 L105.9,255.7 L106.1,256.9 L106.5,258.1 L106.5,259.5 L105.9,260.6 L105.3,261.3 L105.1,262.2 L105.2,263.4 L104.8,264.4 L104.0,265.0 L103.3,265.4 L102.4,266.1 L101.0,266.4 L99.8,265.9 L99.4,265.0 L99.2,264.4 L98.7,264.5 L98.0,263.7 L97.9,262.5 L97.9,261.1 L97.6,259.7 L97.3,258.2 L97.6,256.7 L98.1,255.4 L98.1,254.2 L97.6,253.2Z M211.9,311.8 L211.5,313.6 L210.6,315.4 L208.9,316.3 L207.4,316.5 L206.0,317.1 L204.8,318.1 L203.4,318.7 L201.8,318.7 L200.2,318.4 L198.5,318.3 L196.9,318.2 L195.4,317.6 L193.9,316.8 L192.5,316.1 L191.0,315.5 L189.8,314.5 L188.8,313.2 L188.0,311.9 L187.4,310.6 L187.3,308.7 L187.4,307.0 L187.5,305.3 L187.8,303.5 L188.7,301.9 L190.1,300.8 L191.3,299.9 L192.5,298.8 L194.0,298.2 L195.6,298.4 L197.2,298.9 L198.8,298.7 L200.5,298.2 L202.2,298.5 L203.5,299.6 L204.9,300.6 L206.5,300.9 L208.0,301.5 L208.9,302.9 L209.3,304.4 L210.4,305.4 L211.9,306.3 L212.9,308.1 L212.6,310.1Z M211.0,311.6 L210.6,313.1 L209.2,314.2 L207.9,315.0 L207.1,316.0 L206.1,317.1 L204.6,317.3 L203.1,316.8 L201.7,316.8 L200.2,317.4 L198.7,317.6 L197.3,316.9 L196.0,316.1 L194.3,316.0 L192.6,316.0 L191.2,315.1 L190.5,313.8 L189.7,312.6 L188.5,311.6 L187.8,310.4 L187.8,308.6 L188.2,307.0 L188.3,305.5 L188.6,304.0 L189.6,302.6 L190.9,301.7 L192.0,301.1 L193.1,300.3 L194.4,299.9 L195.8,299.9 L197.3,299.9 L198.8,299.7 L200.3,299.8 L201.7,300.2 L203.2,300.6 L204.8,300.7 L206.3,301.2 L207.5,302.2 L208.5,303.3 L209.6,304.2 L210.7,305.3 L211.0,306.7 L210.8,308.4 L210.8,310.0Z M210.1,311.3 L209.3,312.4 L208.6,313.6 L207.7,314.7 L206.6,315.2 L205.4,315.4 L204.3,316.1 L203.1,317.0 L201.7,317.4 L200.3,316.5 L199.0,315.3 L197.8,315.0 L196.3,315.3 L194.6,315.4 L193.2,315.0 L192.0,314.2 L191.0,313.2 L190.5,311.9 L190.3,310.5 L189.9,309.6 L188.8,308.4 L188.1,307.0 L188.5,305.6 L189.6,304.5 L190.4,303.4 L191.1,302.0 L192.1,301.2 L193.5,301.2 L194.8,301.4 L196.0,301.3 L197.3,300.9 L198.7,300.6 L200.2,300.4 L201.7,300.2 L203.2,300.6 L204.2,301.9 L204.9,303.5 L205.9,304.2 L207.5,304.3 L209.1,304.7 L209.8,305.8 L210.0,307.1 L210.3,308.6 L210.4,310.0Z M208.7,311.0 L208.1,311.8 L207.7,312.9 L206.9,313.8 L206.1,314.1 L205.0,314.5 L204.0,315.0 L202.9,315.2 L201.7,315.1 L200.4,315.1 L199.0,315.6 L197.5,315.9 L196.3,315.3 L195.3,314.1 L194.2,313.3 L192.9,313.0 L191.8,312.5 L191.2,311.3 L190.9,310.2 L190.5,309.4 L190.0,308.2 L190.0,307.0 L190.1,306.0 L190.1,304.8 L190.5,303.4 L191.6,302.6 L192.8,302.6 L193.8,302.2 L194.8,301.3 L196.0,300.6 L197.3,300.9 L198.6,301.6 L199.9,301.9 L201.2,302.0 L202.5,302.5 L203.6,303.1 L204.9,303.6 L206.0,304.0 L206.9,304.9 L207.3,306.1 L207.9,306.9 L208.9,307.5 L209.8,308.6 L209.6,310.0Z M207.3,310.6 L207.5,311.4 L207.4,312.6 L206.6,313.5 L205.8,313.7 L204.9,314.1 L203.9,314.8 L202.8,315.0 L201.7,314.6 L200.4,314.3 L199.2,314.4 L197.9,314.5 L196.8,313.9 L195.7,313.1 L194.6,312.6 L193.5,312.2 L192.8,311.4 L192.5,310.3 L192.1,309.4 L191.4,309.0 L190.8,308.1 L190.7,307.0 L190.9,306.2 L190.8,305.2 L191.1,304.0 L192.1,303.2 L193.2,303.3 L194.2,303.2 L195.2,302.9 L196.3,302.9 L197.4,303.3 L198.5,303.5 L199.8,303.1 L201.1,302.7 L202.3,302.9 L203.5,303.4 L204.8,303.7 L206.0,304.1 L206.7,305.0 L206.9,306.4 L207.1,307.4 L207.5,308.1 L207.8,309.0 L207.5,309.9Z M89.2,333.7 L88.8,335.5 L87.6,337.1 L86.6,338.5 L86.1,340.1 L85.4,341.9 L83.8,342.7 L81.9,342.5 L80.5,343.0 L79.0,344.5 L77.1,345.0 L75.5,343.8 L74.2,342.6 L72.5,341.9 L70.7,341.0 L69.7,339.4 L69.4,337.4 L69.2,335.5 L69.4,333.7 L69.7,331.9 L69.8,330.1 L70.4,328.4 L71.9,327.3 L73.6,326.7 L74.6,325.4 L75.5,323.6 L77.2,322.9 L79.0,323.7 L80.5,324.1 L82.5,323.5 L84.5,323.6 L85.9,325.0 L86.7,326.8 L87.7,328.4 L88.6,330.0 L89.1,331.8Z M87.4,333.7 L86.9,335.2 L86.9,336.9 L86.6,338.5 L86.0,340.0 L85.1,341.5 L83.8,342.6 L82.0,342.7 L80.4,342.6 L79.0,343.1 L77.4,343.3 L76.0,342.6 L74.8,341.6 L73.2,341.2 L71.5,340.4 L70.9,338.8 L71.1,336.9 L70.9,335.3 L70.1,333.7 L70.0,332.0 L70.7,330.4 L71.4,328.9 L72.2,327.5 L73.3,326.3 L74.6,325.4 L75.8,324.3 L77.4,323.7 L79.0,324.2 L80.4,324.9 L81.9,324.9 L83.6,325.1 L84.8,326.2 L85.5,327.7 L86.7,328.9 L88.1,330.1 L88.3,332.0Z M86.3,333.7 L86.5,335.2 L86.4,336.7 L85.6,337.9 L84.6,338.9 L83.8,340.2 L83.1,341.4 L81.8,342.2 L80.4,342.5 L79.0,342.7 L77.6,342.7 L76.1,342.3 L74.8,341.7 L73.6,340.8 L72.7,339.5 L72.3,338.0 L71.8,336.6 L71.2,335.2 L71.0,333.7 L71.7,332.3 L72.3,330.9 L72.5,329.5 L72.9,328.0 L73.9,327.0 L75.2,326.3 L76.3,325.6 L77.6,324.8 L79.0,324.5 L80.4,324.6 L81.9,325.0 L83.2,325.8 L84.2,326.9 L85.2,328.0 L86.2,329.2 L86.6,330.6 L86.4,332.3Z M85.6,333.7 L86.3,335.1 L86.4,336.7 L85.5,337.9 L84.6,339.0 L83.9,340.3 L82.7,340.9 L81.2,340.6 L80.0,340.6 L79.0,341.4 L77.8,341.6 L76.7,340.9 L75.6,340.4 L74.2,340.1 L73.3,339.0 L73.4,337.4 L73.4,336.1 L72.6,335.0 L72.3,333.7 L72.7,332.4 L72.8,331.1 L72.5,329.5 L73.1,328.2 L74.6,327.7 L75.8,327.3 L76.7,326.5 L77.8,326.1 L79.0,326.5 L80.1,326.4 L81.6,325.8 L83.0,326.0 L83.8,327.3 L84.5,328.5 L85.5,329.5 L85.9,330.9 L85.5,332.4Z M85.6,333.7 L85.2,334.9 L84.3,336.0 L83.8,337.0 L83.7,338.3 L83.2,339.5 L82.2,340.1 L81.2,340.5 L80.1,341.1 L79.0,341.2 L78.0,340.7 L76.9,340.4 L75.7,340.2 L74.8,339.5 L74.5,338.1 L74.3,336.9 L73.8,336.0 L73.3,334.9 L73.3,333.7 L73.1,332.5 L72.8,331.1 L73.2,329.9 L74.4,329.2 L75.5,328.7 L76.2,327.9 L77.0,327.4 L78.1,327.3 L79.0,327.3 L80.0,327.0 L81.0,327.3 L81.7,328.1 L82.5,328.6 L83.8,329.0 L84.9,329.8 L85.3,331.1 L85.4,332.4Z M229.0,317.6 L229.7,316.3 L230.9,315.2 L232.0,314.2 L233.2,313.1 L234.5,312.5 L235.9,312.5 L237.1,312.9 L238.3,313.1 L239.6,313.2 L240.9,313.7 L242.0,314.5 L243.1,315.3 L244.3,315.6 L245.6,316.3 L246.5,317.5 L246.9,318.7 L247.4,319.8 L248.2,320.4 L248.8,320.6 L249.4,321.0 L250.4,321.5 L251.8,321.5 L253.3,321.3 L254.9,321.5 L256.3,322.4 L257.1,323.3 L258.2,323.9 L259.5,324.4 L260.6,325.3 L261.4,326.4 L262.3,327.5 L263.4,328.3 L264.4,329.3 L264.9,330.6 L265.1,332.0 L265.3,333.4 L265.8,334.8 L265.9,336.3 L265.5,337.7 L264.9,339.0 L264.5,340.2 L264.2,341.5 L263.5,342.7 L262.4,343.7 L261.3,344.7 L260.4,345.8 L259.6,347.0 L258.4,347.8 L257.2,348.1 L255.9,348.5 L254.6,349.2 L253.2,349.6 L251.7,349.6 L250.3,349.1 L249.0,348.8 L247.8,348.7 L246.5,348.2 L245.5,347.1 L244.7,345.9 L243.7,345.0 L242.6,344.2 L241.7,343.2 L241.1,341.9 L240.6,340.8 L239.8,339.6 L239.0,338.3 L238.7,336.9 L238.6,335.5 L238.2,334.3 L237.4,333.4 L236.6,332.8 L235.8,331.9 L234.9,330.9 L233.8,330.3 L232.6,329.8 L231.6,329.0 L231.2,327.9 L231.0,326.8 L230.4,325.7 L229.7,324.4 L229.4,323.0 L229.4,321.6 L229.4,320.3 L229.1,318.9Z M230.0,318.0 L230.6,316.8 L231.7,315.9 L233.0,315.3 L234.0,314.6 L235.0,313.9 L236.1,313.5 L237.0,313.7 L238.1,314.0 L239.3,314.0 L240.7,314.1 L242.0,314.7 L242.9,315.5 L243.8,316.2 L244.8,316.9 L245.6,317.9 L245.9,319.2 L246.0,320.5 L246.6,321.7 L247.7,322.5 L249.0,322.9 L250.4,323.3 L251.8,323.5 L253.2,323.3 L254.6,323.0 L255.9,323.2 L256.8,323.8 L257.8,324.5 L259.0,325.0 L260.3,325.5 L261.3,326.5 L261.9,327.7 L262.6,328.9 L263.3,329.8 L263.9,331.0 L263.9,332.3 L263.8,333.7 L263.9,335.0 L264.3,336.3 L264.3,337.6 L264.0,338.8 L263.6,339.9 L263.4,341.2 L263.2,342.6 L262.5,343.8 L261.4,344.7 L260.3,345.6 L259.3,346.7 L258.3,347.5 L257.0,347.8 L255.7,347.7 L254.3,347.8 L253.0,348.0 L251.7,348.1 L250.4,347.7 L249.3,347.2 L248.3,347.0 L247.1,346.9 L246.0,346.4 L245.1,345.5 L244.2,344.6 L243.0,343.8 L241.8,343.0 L241.0,342.0 L240.7,340.7 L240.3,339.4 L239.8,338.1 L239.4,336.7 L239.4,335.3 L239.3,333.8 L238.7,332.5 L237.6,331.6 L236.4,330.9 L235.3,330.1 L234.2,329.4 L233.1,329.1 L231.9,328.8 L231.0,328.0 L230.7,326.9 L230.3,325.7 L229.7,324.4 L229.2,323.0 L229.2,321.6 L229.6,320.3 L229.9,319.1Z M231.5,318.5 L232.0,317.7 L232.8,316.9 L233.8,316.3 L234.7,315.8 L235.5,315.1 L236.2,314.2 L237.0,313.7 L238.1,313.7 L239.3,314.2 L240.4,314.7 L241.6,315.4 L242.5,316.2 L243.1,317.1 L243.6,317.8 L244.5,318.5 L245.4,319.4 L246.2,320.4 L246.8,321.5 L247.7,322.5 L249.0,323.0 L250.4,323.3 L251.8,323.7 L253.2,324.1 L254.3,324.3 L255.4,324.4 L256.3,324.7 L257.1,325.4 L257.9,326.3 L258.8,327.1 L259.7,327.9 L260.4,328.9 L260.9,329.9 L261.4,330.7 L262.2,331.6 L263.0,332.6 L263.3,333.8 L263.3,335.1 L263.3,336.4 L263.3,337.6 L263.2,338.7 L262.8,339.6 L262.4,340.7 L262.1,341.9 L261.9,343.3 L261.2,344.5 L260.1,345.4 L258.8,345.9 L257.6,346.2 L256.5,346.4 L255.3,346.4 L254.1,346.2 L252.9,346.3 L251.7,346.8 L250.4,347.3 L249.3,347.3 L248.3,346.9 L247.3,346.4 L246.4,345.8 L245.6,344.9 L244.9,343.8 L244.3,342.7 L243.3,341.9 L242.2,341.3 L241.3,340.4 L240.9,339.3 L240.5,337.9 L240.1,336.6 L239.6,335.2 L239.3,333.8 L238.9,332.4 L237.8,331.3 L236.5,330.8 L235.2,330.4 L234.0,329.8 L233.1,329.0 L232.4,328.2 L231.9,327.5 L231.7,326.5 L231.6,325.4 L231.5,324.1 L231.0,322.9 L230.6,321.6 L230.5,320.3 L231.0,319.2Z M243.2,321.5 L243.3,323.1 L242.9,324.6 L241.7,325.8 L240.2,326.4 L238.8,326.8 L237.4,327.4 L235.8,327.5 L234.4,326.8 L233.3,325.6 L232.3,324.5 L231.4,323.1 L231.1,321.5 L231.7,320.0 L232.7,318.8 L233.6,317.7 L234.6,316.6 L235.9,316.1 L237.4,316.2 L238.7,316.5 L240.2,316.7 L241.7,317.2 L242.8,318.4 L243.1,320.0Z M242.5,321.5 L242.4,322.8 L241.7,324.0 L240.8,324.9 L239.9,325.8 L238.7,326.5 L237.4,326.6 L236.2,326.0 L235.2,325.4 L234.1,324.8 L233.2,323.9 L232.8,322.7 L232.9,321.5 L233.0,320.3 L233.1,319.0 L233.7,317.8 L234.9,317.1 L236.2,316.9 L237.4,316.7 L238.7,316.7 L239.9,317.1 L240.8,318.1 L241.3,319.2 L241.9,320.3Z M263.2,335.0 L262.8,336.7 L262.0,338.4 L261.2,339.8 L260.0,341.1 L258.4,341.8 L256.8,342.3 L255.8,342.7 L254.8,343.7 L253.7,344.4 L252.4,344.6 L251.1,344.5 L249.7,344.6 L248.2,344.7 L246.7,344.4 L245.2,343.2 L244.1,341.6 L243.3,340.0 L242.7,338.4 L242.4,336.7 L242.4,335.0 L242.6,333.4 L243.2,331.8 L244.0,330.4 L245.0,329.2 L246.0,327.7 L247.2,326.4 L248.4,325.8 L249.8,325.8 L251.2,325.9 L252.4,325.6 L253.7,325.3 L255.0,325.6 L256.2,326.3 L257.3,326.9 L258.9,327.5 L260.6,328.4 L261.8,329.8 L262.7,331.4 L263.2,333.2Z M262.0,335.0 L262.1,336.6 L261.9,338.3 L261.2,339.8 L259.9,341.0 L258.6,342.0 L257.2,342.9 L256.1,343.4 L254.8,343.5 L253.6,343.5 L252.4,343.6 L251.2,343.8 L250.0,343.5 L248.9,343.0 L247.8,342.5 L246.5,341.7 L245.3,340.6 L244.7,339.2 L244.4,337.7 L244.1,336.3 L244.0,335.0 L244.3,333.7 L244.8,332.4 L245.3,331.2 L245.8,329.8 L246.7,328.6 L247.9,327.7 L248.9,327.1 L250.0,326.4 L251.2,325.9 L252.4,325.9 L253.6,326.3 L254.8,326.6 L256.0,326.9 L257.0,327.4 L258.2,328.5 L259.3,329.6 L260.4,330.6 L261.4,331.9 L261.9,333.4Z M260.6,335.0 L261.1,336.4 L260.8,337.9 L259.8,339.0 L259.0,340.2 L258.2,341.5 L256.9,342.4 L255.7,342.3 L254.5,342.1 L253.4,342.5 L252.4,343.0 L251.3,342.8 L250.3,342.2 L249.2,342.0 L248.1,342.1 L246.8,341.3 L246.2,339.8 L245.9,338.5 L245.2,337.4 L244.6,336.3 L244.7,335.0 L245.2,333.9 L245.2,332.6 L245.2,331.1 L245.9,330.0 L247.3,329.4 L248.6,328.9 L249.3,328.2 L250.3,327.7 L251.4,327.9 L252.4,328.1 L253.4,327.8 L254.6,327.3 L255.8,327.4 L256.6,328.2 L257.7,329.1 L259.0,329.8 L260.0,330.9 L260.1,332.4 L260.1,333.8Z M271.0,339.5 L270.8,340.0 L270.7,340.5 L270.5,341.0 L270.1,341.4 L269.6,341.6 L269.0,341.6 L268.5,341.4 L268.1,341.0 L267.8,340.7 L267.5,340.3 L267.2,340.0 L267.0,339.5 L266.9,338.9 L267.1,338.4 L267.6,338.1 L268.1,337.9 L268.5,337.8 L269.0,337.7 L269.5,337.6 L270.1,337.6 L270.6,337.9 L270.9,338.4 L271.1,338.9Z M290.5,340.4 L290.4,341.3 L290.0,342.2 L289.4,342.8 L288.7,343.2 L288.1,343.4 L287.5,343.6 L286.9,343.6 L286.2,343.3 L285.7,342.8 L285.4,342.1 L285.3,341.2 L285.4,340.4 L285.5,339.6 L285.8,338.9 L286.0,338.2 L286.4,337.7 L286.9,337.4 L287.5,337.3 L288.0,337.4 L288.6,337.7 L289.2,338.1 L289.7,338.7 L290.2,339.5Z M288.8,340.4 L288.8,341.1 L288.7,341.7 L288.6,342.3 L288.3,342.8 L287.9,343.1 L287.5,343.1 L287.2,342.9 L286.9,342.5 L286.7,342.1 L286.5,341.6 L286.4,341.0 L286.3,340.4 L286.4,339.8 L286.6,339.2 L286.9,338.8 L287.2,338.6 L287.4,338.4 L287.5,338.3 L287.8,338.1 L288.2,338.2 L288.5,338.5 L288.8,339.1 L288.9,339.7Z M255.0,356.3 L254.7,357.2 L254.2,358.0 L253.5,358.7 L252.6,359.3 L251.5,359.7 L250.4,359.8 L249.3,359.6 L248.3,359.2 L247.5,358.6 L246.8,357.9 L246.3,357.2 L246.0,356.3 L246.1,355.4 L246.6,354.5 L247.4,353.9 L248.3,353.5 L249.4,353.4 L250.4,353.4 L251.4,353.4 L252.5,353.5 L253.5,353.8 L254.4,354.4 L254.9,355.3Z M253.6,356.3 L253.5,356.8 L253.2,357.3 L252.7,357.7 L252.0,358.0 L251.2,358.2 L250.4,358.4 L249.5,358.5 L248.6,358.4 L247.8,358.1 L247.3,357.5 L247.2,356.9 L247.2,356.3 L247.4,355.8 L247.6,355.3 L248.0,354.7 L248.6,354.1 L249.4,353.6 L250.4,353.4 L251.4,353.6 L252.3,354.0 L252.9,354.6 L253.3,355.3 L253.5,355.8Z M277.4,398.4 L277.3,400.0 L276.8,401.5 L275.9,402.5 L275.2,403.3 L274.6,403.9 L274.0,404.5 L273.1,404.5 L272.3,403.8 L271.8,402.7 L271.4,401.4 L270.8,400.0 L270.3,398.4 L270.1,396.7 L270.4,395.1 L271.2,393.8 L272.0,392.8 L272.9,392.0 L274.0,391.3 L275.3,391.6 L276.2,392.6 L276.6,393.9 L276.8,395.4 L277.1,396.8Z M276.1,398.4 L276.2,399.9 L276.0,401.2 L275.4,402.3 L274.9,403.1 L274.5,403.6 L274.0,404.0 L273.3,404.0 L272.8,403.3 L272.6,402.3 L272.4,401.1 L272.2,399.8 L272.0,398.4 L271.9,397.0 L272.2,395.6 L272.8,394.6 L273.3,393.9 L273.7,393.4 L274.0,393.0 L274.6,393.0 L275.1,393.6 L275.3,394.6 L275.5,395.7 L275.8,397.0Z M276.8,261.4 L278.1,261.1 L279.3,261.7 L280.4,262.7 L281.5,263.8 L282.4,264.8 L283.1,265.9 L283.5,267.0 L283.9,268.2 L284.3,269.6 L284.5,271.1 L284.3,272.5 L283.9,273.9 L283.5,275.1 L283.1,276.5 L282.5,277.8 L281.6,278.9 L280.9,280.0 L280.7,281.2 L280.6,282.6 L279.3,284.1 L277.3,284.4 L275.7,283.5 L275.0,282.6 L274.2,281.6 L273.6,280.3 L273.5,278.7 L273.5,277.2 L273.1,276.0 L272.3,274.7 L271.9,273.3 L272.2,271.8 L273.0,270.5 L273.4,269.2 L273.6,267.9 L273.8,266.3 L274.5,264.8 L275.3,263.5 L276.0,262.4Z M277.3,263.0 L277.8,262.7 L278.9,262.7 L280.0,263.3 L281.0,264.3 L281.8,265.3 L282.4,266.3 L282.5,267.2 L282.3,268.4 L282.0,269.6 L282.2,270.9 L282.5,272.3 L282.6,273.7 L282.3,274.9 L281.8,276.1 L281.4,277.4 L280.9,278.6 L280.2,279.6 L279.3,280.4 L278.8,280.8 L278.1,281.9 L277.3,282.6 L276.3,282.5 L276.0,281.9 L275.5,280.9 L274.8,279.8 L274.3,278.5 L274.2,277.1 L274.3,275.8 L274.2,274.7 L273.8,273.4 L273.5,272.0 L273.6,270.6 L274.0,269.3 L274.4,268.1 L274.8,266.6 L275.4,265.1 L276.2,264.0 L277.0,263.3Z M291.2,284.7 L291.0,285.4 L290.5,285.8 L289.9,286.1 L289.4,286.3 L288.9,286.4 L288.5,286.5 L288.0,286.5 L287.6,286.3 L287.3,285.9 L287.2,285.5 L287.2,285.0 L287.2,284.7 L287.1,284.3 L287.0,283.8 L287.1,283.3 L287.4,282.8 L287.9,282.5 L288.5,282.5 L289.1,282.6 L289.6,282.8 L290.1,283.1 L290.7,283.5 L291.1,284.0Z M299.3,283.0 L299.0,283.5 L298.8,284.0 L298.5,284.5 L298.2,285.1 L297.7,285.6 L297.0,285.8 L296.3,285.7 L295.7,285.3 L295.3,284.7 L295.0,284.2 L294.7,283.6 L294.6,283.0 L294.6,282.4 L294.8,281.8 L295.3,281.3 L295.8,281.0 L296.4,280.8 L297.0,280.6 L297.7,280.5 L298.4,280.5 L299.1,280.9 L299.5,281.6 L299.5,282.3Z M301.9,363.4 L303.6,363.5 L304.7,365.8 L305.2,366.9 L305.6,367.9 L305.4,369.1 L304.5,370.3 L303.7,371.6 L303.2,373.0 L303.1,374.5 L302.9,375.9 L302.7,377.4 L302.7,378.7 L302.7,380.0 L302.6,381.1 L302.0,382.0 L301.1,383.7 L300.6,384.9 L300.7,386.0 L301.0,387.0 L301.2,387.9 L301.3,388.7 L301.5,389.7 L302.0,390.8 L302.5,392.0 L302.8,393.4 L303.2,394.7 L303.7,396.0 L304.1,397.5 L304.0,399.0 L303.0,400.4 L301.8,401.7 L300.9,403.0 L300.3,404.3 L299.8,405.4 L299.2,406.2 L297.8,407.0 L296.3,407.1 L294.9,406.4 L294.0,405.0 L293.8,403.9 L293.4,402.7 L292.4,401.6 L291.1,400.5 L290.2,399.1 L289.9,397.5 L290.0,395.9 L290.3,394.7 L290.8,393.5 L291.5,392.4 L292.3,391.3 L292.9,390.1 L293.2,388.7 L293.6,387.5 L294.5,386.6 L295.7,385.9 L296.7,384.8 L297.1,383.6 L297.4,382.2 L297.6,381.0 L297.8,379.7 L298.0,378.4 L298.1,377.1 L298.5,375.9 L299.3,374.7 L299.9,373.4 L299.8,371.9 L299.3,370.5 L298.8,369.1 L298.8,367.9 L299.1,366.8 L299.3,365.7 L300.4,363.7Z M302.1,364.8 L302.4,364.7 L302.5,366.4 L302.4,366.7 L302.5,367.7 L302.4,368.8 L302.1,370.0 L301.9,371.4 L302.0,372.9 L302.3,374.4 L302.3,375.8 L302.0,377.2 L301.9,378.6 L302.0,379.9 L302.0,381.0 L301.7,381.9 L300.8,383.6 L300.1,384.6 L299.6,385.5 L299.1,386.6 L298.8,388.1 L298.8,389.5 L299.4,390.7 L300.3,391.7 L301.2,392.7 L301.8,393.8 L302.2,394.9 L302.5,396.0 L302.8,397.2 L302.6,398.6 L302.0,400.1 L301.1,401.4 L300.5,402.8 L299.9,404.0 L299.2,405.0 L298.4,405.3 L297.5,405.5 L296.7,405.5 L295.7,405.3 L294.6,404.4 L294.2,403.6 L293.7,402.6 L292.8,401.5 L292.0,400.2 L291.5,398.8 L291.6,397.4 L291.7,396.1 L291.8,395.1 L292.1,394.0 L292.7,393.0 L293.7,392.1 L294.5,391.1 L295.0,389.9 L295.6,388.7 L296.3,387.5 L297.1,386.5 L297.6,385.2 L297.9,383.8 L298.2,382.5 L298.8,381.3 L299.4,380.1 L299.8,378.8 L299.9,377.5 L300.1,376.2 L300.4,374.9 L300.8,373.4 L300.8,372.0 L300.5,370.6 L300.4,369.2 L300.6,368.0 L300.9,367.0 L300.9,366.4 L301.5,364.8Z M398.3,410.0 L398.1,411.3 L397.5,412.6 L396.9,413.9 L396.2,415.0 L395.3,415.8 L394.2,416.4 L393.2,417.3 L392.4,418.6 L391.5,419.8 L390.1,420.4 L388.6,420.5 L387.0,420.6 L385.5,420.8 L384.0,420.9 L382.5,420.7 L381.0,420.4 L379.5,420.3 L378.0,420.2 L376.7,419.4 L375.7,418.2 L374.9,417.1 L373.8,416.5 L372.6,415.9 L371.6,415.2 L370.7,414.1 L369.9,412.8 L369.2,411.5 L369.0,410.0 L369.5,408.6 L370.2,407.3 L370.6,405.9 L371.0,404.3 L371.7,403.2 L373.0,402.6 L374.4,402.1 L375.7,401.6 L377.0,401.3 L378.4,401.2 L379.8,401.1 L381.2,400.6 L382.6,399.9 L384.0,399.6 L385.4,399.9 L386.9,400.5 L388.3,400.7 L389.8,400.8 L391.2,401.0 L392.4,401.4 L393.7,402.0 L395.1,402.5 L396.2,403.3 L396.7,404.6 L397.0,406.1 L397.3,407.5 L397.9,408.7Z M397.0,410.0 L397.3,411.2 L397.6,412.6 L397.4,414.1 L396.4,415.2 L395.2,415.7 L394.0,416.2 L393.0,416.8 L391.8,417.3 L390.5,417.3 L389.2,417.4 L388.0,417.9 L386.7,418.6 L385.4,419.0 L384.0,419.0 L382.6,419.0 L381.2,419.3 L379.7,419.4 L378.3,419.0 L377.1,418.3 L376.0,417.8 L374.7,417.3 L373.7,416.5 L373.2,415.3 L372.9,414.2 L372.4,413.1 L371.9,412.1 L371.7,411.0 L371.8,410.0 L371.6,409.0 L371.2,407.7 L371.1,406.2 L371.6,404.8 L372.4,403.9 L373.4,403.1 L374.5,402.3 L375.9,402.0 L377.4,402.3 L378.9,402.7 L380.2,402.7 L381.4,402.3 L382.7,402.0 L384.0,401.7 L385.3,401.2 L386.9,400.4 L388.5,399.8 L390.0,400.0 L391.2,400.9 L392.3,401.8 L393.2,402.8 L393.9,404.0 L394.1,405.4 L394.3,406.5 L394.9,407.3 L395.8,408.0 L396.6,409.0Z M382.1,410.0 L381.7,411.8 L381.6,413.5 L381.4,415.3 L380.5,416.6 L379.2,417.1 L378.0,417.3 L376.7,417.3 L375.4,416.7 L374.6,415.3 L374.4,413.5 L374.2,411.8 L373.7,410.0 L373.6,408.1 L374.2,406.4 L375.1,405.0 L375.9,403.8 L376.7,402.6 L378.0,402.0 L379.3,402.7 L380.2,403.8 L381.1,404.9 L382.0,406.3 L382.4,408.1Z M380.9,410.0 L381.1,411.7 L381.1,413.4 L380.4,414.7 L379.5,415.5 L378.7,416.1 L378.0,416.6 L377.0,416.6 L376.3,415.8 L375.8,414.6 L375.2,413.3 L374.6,411.7 L374.4,410.0 L374.9,408.3 L375.6,406.9 L376.1,405.6 L376.6,404.5 L377.3,404.0 L378.0,404.2 L378.4,404.5 L379.2,404.7 L380.1,405.5 L380.7,406.8 L380.7,408.4Z M396.2,410.0 L396.3,411.9 L395.9,413.7 L395.1,415.1 L394.0,416.1 L393.0,416.7 L392.0,417.2 L390.8,417.1 L389.8,416.3 L388.9,415.1 L388.0,413.7 L387.3,411.9 L387.0,410.0 L387.3,408.1 L387.9,406.3 L388.6,404.7 L389.5,403.4 L390.7,402.7 L392.0,402.8 L393.1,403.2 L394.2,403.7 L395.2,404.8 L395.9,406.4 L396.1,408.2Z M395.5,410.0 L394.9,411.7 L394.5,413.2 L394.2,414.6 L393.6,415.6 L392.7,416.0 L392.0,415.8 L391.4,415.8 L390.3,415.7 L389.4,414.8 L389.0,413.4 L388.8,411.7 L388.6,410.0 L388.4,408.2 L388.9,406.6 L390.0,405.5 L390.9,404.9 L391.5,404.3 L392.0,403.8 L392.7,404.0 L393.2,404.8 L393.8,405.6 L394.8,406.7 L395.5,408.2Z M403.6,383.0 L403.5,383.6 L403.4,384.1 L403.1,384.6 L402.8,385.1 L402.4,385.5 L401.8,385.6 L401.3,385.4 L400.9,384.9 L400.8,384.3 L400.8,383.8 L400.7,383.4 L400.4,383.0 L400.1,382.4 L399.9,381.7 L400.1,381.1 L400.6,380.6 L401.2,380.5 L401.8,380.8 L402.2,381.1 L402.5,381.4 L402.8,381.7 L403.1,382.0 L403.4,382.5Z M344.9,395.0 L344.8,395.2 L344.9,395.5 L344.9,395.9 L344.8,396.3 L344.4,396.6 L344.0,396.5 L343.7,396.2 L343.5,395.9 L343.4,395.6 L343.2,395.5 L342.9,395.3 L342.7,395.0 L342.6,394.6 L342.8,394.3 L343.1,394.1 L343.5,394.1 L343.7,394.0 L344.0,393.9 L344.3,393.7 L344.7,393.7 L345.0,394.0 L345.1,394.4 L345.0,394.7Z M353.7,442.7 L353.7,443.0 L353.6,443.2 L353.4,443.4 L353.1,443.4 L352.9,443.4 L352.7,443.5 L352.4,443.7 L352.0,443.8 L351.6,443.8 L351.2,443.5 L351.2,443.1 L351.5,442.7 L351.9,442.5 L352.1,442.4 L352.2,442.2 L352.2,441.8 L352.3,441.3 L352.7,440.9 L353.2,440.8 L353.6,441.1 L353.8,441.6 L353.8,442.1 L353.7,442.4Z M316.0,268.1 L316.5,268.8 L317.2,269.8 L318.3,270.5 L319.7,271.1 L320.9,272.1 L321.4,273.6 L321.8,275.0 L322.3,276.0 L322.7,277.1 L322.4,278.3 L321.7,279.5 L321.3,280.7 L321.1,282.1 L320.7,283.5 L319.8,284.7 L318.9,285.9 L318.4,287.3 L318.3,288.7 L317.8,289.9 L317.1,291.0 L316.5,292.3 L316.6,293.7 L316.7,295.2 L316.3,296.6 L315.7,297.9 L315.4,299.3 L315.6,300.7 L315.4,302.0 L314.7,303.0 L313.9,303.8 L313.6,304.5 L313.2,305.3 L311.6,306.0 L310.3,305.0 L309.6,303.7 L308.7,301.8 L308.3,301.2 L308.4,300.3 L308.6,299.2 L308.4,298.1 L307.8,296.8 L307.5,295.4 L307.8,294.0 L308.2,292.7 L308.2,291.2 L308.2,289.8 L308.8,288.5 L309.8,287.4 L310.5,286.2 L310.6,285.1 L310.7,283.7 L311.3,282.4 L311.8,281.1 L311.8,279.8 L311.4,278.3 L311.2,277.0 L311.5,275.8 L311.8,274.7 L311.7,273.6 L311.6,272.5 L312.1,271.7 L313.5,270.0 L314.4,268.8 L315.1,268.1Z M350.3,281.0 L350.0,280.8 L350.6,281.5 L351.1,283.0 L351.8,284.6 L353.2,285.8 L354.8,286.4 L355.8,286.8 L356.9,287.3 L358.1,287.5 L359.4,287.2 L360.8,287.0 L362.1,287.1 L363.5,287.3 L364.8,287.0 L365.9,286.4 L367.0,286.1 L368.4,285.9 L369.6,285.5 L370.7,284.7 L371.5,283.7 L372.5,282.9 L373.8,282.4 L374.9,281.8 L376.0,280.9 L377.0,280.1 L378.3,279.7 L379.7,279.3 L380.9,278.7 L382.1,277.8 L383.3,277.2 L384.7,277.0 L385.9,277.1 L387.0,276.9 L388.4,276.8 L389.8,277.2 L390.8,278.2 L391.9,279.1 L393.1,279.9 L394.3,280.7 L395.1,281.9 L395.5,283.0 L396.1,284.1 L396.9,285.0 L397.6,286.2 L397.8,287.5 L398.0,288.8 L398.5,290.0 L399.3,291.0 L399.8,292.1 L400.2,293.5 L400.7,294.8 L401.6,295.8 L402.4,296.7 L402.9,297.8 L402.9,299.0 L403.1,300.1 L403.5,301.2 L403.7,302.5 L403.4,303.8 L402.9,305.0 L402.7,306.3 L402.7,307.7 L402.3,308.8 L401.5,309.7 L400.7,310.3 L399.9,311.3 L399.0,312.3 L397.8,312.9 L396.5,313.2 L395.2,313.7 L394.1,314.5 L393.1,315.3 L391.6,315.6 L390.2,315.7 L388.9,316.0 L387.6,316.6 L386.4,317.1 L385.2,317.4 L384.0,317.7 L383.0,318.5 L382.2,319.4 L381.2,320.1 L380.1,320.6 L379.1,321.3 L378.7,322.4 L378.5,323.5 L378.0,324.5 L377.3,325.5 L377.1,326.8 L377.1,328.3 L377.0,329.7 L376.4,331.0 L375.7,332.2 L375.3,333.4 L375.1,334.7 L374.6,335.9 L373.7,336.8 L372.9,337.9 L372.6,339.1 L372.2,340.4 L371.5,341.4 L370.7,342.3 L370.1,343.5 L369.8,344.8 L369.4,346.2 L368.6,347.4 L367.7,348.6 L367.2,349.8 L366.9,351.0 L366.4,352.0 L365.4,352.6 L363.4,353.4 L361.3,353.1 L360.0,351.3 L360.2,350.1 L360.8,349.2 L361.2,348.1 L361.4,346.8 L361.6,345.4 L362.4,344.1 L363.3,342.9 L363.8,341.5 L364.0,340.1 L364.4,338.8 L365.2,337.7 L366.0,336.6 L366.4,335.3 L366.7,333.9 L367.3,332.7 L368.2,331.6 L368.9,330.5 L369.1,329.2 L369.4,328.0 L370.0,327.0 L370.9,325.7 L371.2,324.3 L371.2,322.9 L371.4,321.6 L372.0,320.5 L372.8,319.4 L373.3,318.2 L373.7,317.0 L374.4,316.1 L375.4,315.3 L376.4,314.4 L377.1,313.3 L377.9,312.2 L378.9,311.4 L380.1,310.9 L381.1,310.1 L382.1,309.1 L383.3,308.4 L384.7,308.1 L386.2,308.0 L387.5,307.4 L388.6,306.6 L389.6,306.0 L390.7,305.7 L391.9,304.9 L392.7,303.7 L393.3,302.4 L394.0,301.4 L394.9,300.4 L395.4,299.2 L395.2,298.0 L395.0,296.9 L395.0,295.7 L394.9,294.3 L394.3,292.9 L393.3,291.8 L392.6,290.5 L392.2,289.2 L391.8,288.1 L390.9,287.1 L389.8,286.4 L389.0,285.6 L388.3,284.7 L387.2,284.1 L386.0,284.1 L384.9,284.3 L383.7,284.3 L382.2,284.3 L380.9,284.8 L379.6,285.7 L378.3,286.3 L376.8,286.6 L375.5,286.9 L374.5,287.7 L373.5,288.6 L372.4,289.3 L371.2,289.7 L370.0,290.1 L369.0,290.9 L367.9,291.5 L366.8,291.5 L365.6,291.3 L364.4,291.4 L363.1,291.8 L361.9,292.0 L360.6,291.7 L359.4,291.3 L358.3,291.3 L357.2,291.5 L356.2,291.3 L355.1,290.6 L354.0,289.9 L352.8,289.5 L351.6,289.0 L350.8,288.2 L350.5,287.2 L350.1,286.6 L349.5,285.4 L349.3,283.8 L349.8,282.2 L350.4,281.1Z M385.9,289.8 L387.3,290.2 L388.5,290.2 L390.3,290.3 L391.8,291.1 L392.2,292.9 L391.9,294.4 L392.3,295.6 L393.4,296.8 L394.1,298.2 L393.8,299.7 L393.2,300.8 L393.3,301.7 L393.4,303.0 L392.6,304.1 L391.0,304.3 L389.3,304.1 L388.1,304.6 L387.1,305.8 L385.9,306.4 L384.9,305.8 L384.0,304.8 L382.8,304.2 L381.2,303.8 L380.0,302.8 L380.0,301.2 L380.5,300.0 L380.4,299.1 L379.8,297.5 L379.9,295.9 L381.1,294.7 L382.6,293.7 L383.5,292.5 L383.9,291.0 L384.7,289.9Z M365.3,318.2 L365.2,319.6 L364.7,320.9 L363.8,321.9 L362.9,322.8 L362.1,324.0 L361.5,325.2 L360.7,326.0 L359.4,326.5 L358.6,326.4 L357.9,325.9 L357.2,324.8 L357.0,323.6 L357.4,322.3 L357.9,320.9 L358.2,319.8 L358.4,318.5 L358.8,317.2 L359.5,316.1 L360.4,315.1 L360.9,313.9 L361.1,312.6 L361.3,311.4 L362.1,310.1 L363.0,309.2 L363.7,308.4 L364.5,307.4 L365.6,307.1 L366.2,308.0 L366.0,309.3 L365.8,310.3 L366.0,311.6 L366.2,313.1 L366.0,314.3 L365.6,315.5 L365.3,316.8Z M364.0,317.7 L362.6,318.5 L361.6,319.5 L361.4,320.7 L361.5,322.0 L361.1,323.4 L360.3,324.3 L359.7,325.0 L359.1,325.9 L358.6,326.4 L358.2,325.8 L358.7,324.6 L359.3,323.7 L359.3,322.6 L359.0,321.1 L359.1,320.0 L359.7,318.9 L360.5,317.8 L360.8,316.6 L360.6,315.2 L360.8,313.8 L361.5,312.8 L362.4,311.9 L363.1,310.7 L363.4,309.5 L364.0,308.6 L365.1,308.5 L364.9,309.1 L364.2,308.9 L364.8,309.4 L365.6,310.3 L365.6,311.6 L365.2,312.9 L365.0,314.0 L365.0,315.4 L364.9,316.7Z M354.4,315.5 L354.4,317.0 L353.7,318.4 L352.6,319.5 L351.9,320.6 L351.3,322.0 L350.4,323.1 L349.4,323.8 L348.4,324.4 L347.7,325.1 L346.4,324.8 L345.9,323.4 L346.4,322.0 L346.7,320.6 L346.6,319.1 L346.4,317.8 L346.7,316.4 L347.0,315.0 L346.9,313.5 L346.7,312.0 L347.1,310.6 L348.1,309.4 L349.1,308.5 L350.0,307.2 L350.7,305.9 L351.5,305.1 L352.5,304.3 L353.3,303.9 L354.4,304.3 L354.9,305.7 L354.8,306.9 L354.6,308.4 L354.5,309.9 L354.3,311.2 L354.1,312.6 L354.1,314.0Z M328.9,321.9 L329.7,321.0 L330.9,321.6 L331.6,323.2 L332.4,325.3 L332.6,326.1 L333.0,327.1 L333.3,328.3 L333.5,329.6 L334.0,330.9 L334.9,332.2 L335.6,333.5 L336.0,334.9 L336.1,336.4 L336.4,337.7 L336.7,338.9 L336.8,340.0 L336.6,341.6 L336.3,343.2 L336.4,344.6 L336.7,346.1 L336.8,347.4 L336.7,348.6 L336.5,349.5 L336.4,350.4 L335.1,351.3 L333.6,350.6 L332.6,349.0 L331.8,347.1 L331.5,346.2 L331.0,345.3 L330.7,344.2 L330.5,342.9 L330.1,341.7 L329.3,340.5 L328.6,339.2 L328.4,337.8 L328.4,336.4 L328.4,335.1 L328.2,333.7 L328.2,332.2 L328.6,330.7 L329.0,329.1 L329.0,327.6 L328.7,326.1 L328.6,324.8 L328.7,323.6 L328.9,322.7Z M344.0,329.0 L344.7,328.4 L345.8,328.7 L346.7,329.8 L347.5,331.0 L348.6,332.1 L349.8,333.2 L350.3,334.0 L350.3,335.2 L350.3,336.6 L350.9,337.7 L352.1,338.7 L353.1,339.8 L353.3,341.2 L353.1,342.6 L353.4,343.9 L354.5,345.0 L355.3,346.3 L355.0,347.9 L354.1,349.3 L353.5,350.8 L353.8,352.3 L354.1,353.8 L353.5,354.9 L352.3,355.4 L351.7,355.4 L351.2,355.9 L349.9,356.2 L348.5,355.5 L347.7,353.9 L346.9,352.3 L345.7,351.2 L344.5,350.5 L343.8,349.4 L343.8,348.1 L343.9,346.6 L343.7,345.3 L343.2,344.0 L342.9,342.6 L343.1,341.3 L343.4,340.0 L343.6,338.7 L343.5,337.3 L343.4,335.8 L343.3,334.3 L343.4,332.9 L343.5,331.6 L343.7,330.5 L343.9,329.7Z M363.9,333.9 L365.0,333.3 L366.3,333.8 L367.6,334.5 L369.0,335.1 L370.4,335.8 L371.0,336.7 L370.9,338.0 L370.6,339.4 L370.6,340.8 L370.7,342.3 L370.5,343.7 L369.9,345.0 L369.4,346.3 L369.0,347.9 L368.7,349.6 L367.8,351.0 L366.5,351.9 L365.4,352.4 L365.0,352.6 L364.4,352.7 L363.6,352.0 L363.1,350.7 L362.8,349.2 L362.2,347.6 L361.7,346.0 L361.8,344.9 L362.4,343.7 L362.9,342.4 L362.8,341.0 L362.5,339.4 L362.4,338.0 L362.9,336.7 L363.4,335.6 L363.7,334.7Z M331.6,325.6 L331.7,326.6 L331.6,327.6 L331.2,328.5 L330.6,329.1 L329.9,329.4 L329.3,329.4 L328.7,329.3 L328.0,329.1 L327.4,328.5 L326.8,327.7 L326.7,326.7 L326.8,325.6 L327.2,324.6 L327.7,323.8 L328.0,323.1 L328.3,322.4 L328.6,321.7 L329.3,321.2 L330.2,321.3 L330.9,321.8 L331.2,322.7 L331.4,323.6 L331.5,324.6Z M336.2,346.0 L336.5,346.9 L336.5,347.9 L336.2,348.7 L335.6,349.3 L334.9,349.5 L334.3,349.3 L334.0,349.0 L333.6,348.7 L333.2,348.3 L332.7,347.7 L332.3,346.9 L332.1,346.0 L332.2,345.1 L332.4,344.2 L332.8,343.5 L333.2,342.9 L333.7,342.5 L334.3,342.4 L334.8,342.6 L335.2,343.1 L335.4,343.7 L335.6,344.4 L335.9,345.1Z M302.6,282.5 L302.6,283.5 L302.0,284.5 L301.2,285.1 L300.1,285.3 L299.0,285.5 L298.0,285.5 L296.9,285.6 L295.8,285.5 L294.8,285.1 L294.1,284.3 L293.8,283.4 L293.9,282.5 L294.2,281.7 L294.6,281.0 L295.1,280.3 L295.8,279.5 L296.8,279.0 L298.0,278.8 L299.1,279.1 L300.1,279.6 L300.9,280.3 L301.6,280.9 L302.2,281.6Z M301.9,282.5 L301.7,283.2 L301.1,283.7 L300.4,284.0 L299.6,284.2 L298.8,284.3 L298.0,284.4 L297.1,284.5 L296.3,284.4 L295.6,284.1 L295.1,283.6 L294.8,283.0 L294.8,282.5 L294.9,282.0 L295.1,281.4 L295.5,280.9 L296.2,280.4 L297.1,280.1 L298.0,280.1 L298.9,280.3 L299.7,280.5 L300.5,280.9 L301.1,281.3 L301.6,281.8Z M290.1,283.6 L290.3,284.2 L290.1,284.8 L289.6,285.2 L289.0,285.3 L288.4,285.1 L288.0,285.0 L287.6,284.9 L287.2,285.0 L286.7,284.9 L286.1,284.7 L285.8,284.2 L285.7,283.6 L285.9,283.0 L286.1,282.5 L286.4,282.0 L286.8,281.6 L287.4,281.3 L288.0,281.3 L288.5,281.6 L288.9,282.0 L289.1,282.5 L289.4,282.8 L289.7,283.1Z M301.0,318.0 L301.1,318.9 L300.9,319.8 L300.5,320.5 L299.9,320.9 L299.4,321.1 L299.0,321.2 L298.5,321.2 L298.0,321.1 L297.4,320.6 L297.1,319.8 L297.1,318.9 L297.2,318.0 L297.4,317.2 L297.6,316.3 L297.6,315.6 L297.8,314.8 L298.3,314.2 L299.0,314.0 L299.7,314.3 L300.1,314.9 L300.2,315.6 L300.4,316.3 L300.7,317.1Z M291.1,338.7 L290.9,339.8 L290.6,340.8 L290.1,341.7 L289.5,342.4 L288.8,342.8 L288.0,343.0 L287.2,342.9 L286.5,342.4 L286.1,341.6 L285.7,340.7 L285.5,339.7 L285.3,338.7 L285.3,337.6 L285.4,336.5 L285.7,335.5 L286.3,334.8 L287.2,334.4 L288.0,334.4 L288.7,334.7 L289.4,335.1 L290.0,335.8 L290.5,336.6 L290.9,337.6Z M290.1,338.7 L289.9,339.6 L289.6,340.5 L289.1,341.1 L288.7,341.6 L288.4,341.9 L288.0,342.1 L287.5,342.1 L287.0,341.8 L286.7,341.2 L286.5,340.5 L286.4,339.6 L286.5,338.7 L286.5,337.8 L286.6,337.0 L286.8,336.2 L287.1,335.6 L287.6,335.3 L288.0,335.3 L288.4,335.5 L288.8,335.8 L289.2,336.2 L289.6,336.9 L289.9,337.7Z M321.9,299.8 L323.1,299.8 L324.3,300.1 L326.1,300.9 L327.6,302.7 L327.7,303.7 L327.6,304.9 L328.0,306.0 L328.8,307.1 L329.5,308.4 L329.5,309.8 L329.3,311.4 L329.4,312.8 L329.9,314.2 L330.1,315.5 L329.9,316.8 L329.6,318.0 L329.5,319.4 L329.3,320.9 L328.9,322.4 L328.5,323.9 L328.2,325.4 L327.9,326.8 L327.3,327.9 L326.6,328.7 L326.1,329.4 L326.0,330.0 L325.3,330.2 L324.8,329.3 L324.7,327.9 L324.1,326.5 L323.1,325.1 L322.3,323.6 L322.2,322.0 L322.3,320.8 L322.0,319.7 L321.3,318.6 L320.7,317.4 L320.6,316.1 L320.6,314.8 L320.3,313.6 L319.8,312.4 L319.6,311.2 L319.7,310.0 L319.7,308.5 L319.7,307.0 L320.0,305.5 L320.5,304.0 L320.8,302.7 L320.9,301.5 L321.2,300.4Z M382.0,218.5 L381.4,219.9 L379.9,220.8 L378.2,221.2 L376.9,221.9 L376.2,223.2 L375.0,224.6 L373.5,225.4 L372.0,225.8 L370.5,226.1 L368.8,226.1 L367.2,225.3 L366.0,224.5 L364.5,223.8 L363.1,222.4 L362.9,220.5 L363.8,219.1 L364.5,217.6 L364.6,216.0 L364.8,214.3 L365.2,213.0 L365.8,211.6 L366.4,210.2 L367.4,209.0 L368.8,208.1 L370.0,207.3 L370.7,205.8 L371.1,204.1 L372.1,202.9 L373.6,202.5 L375.3,202.0 L376.7,201.2 L378.1,200.4 L379.5,200.0 L381.3,199.6 L383.2,199.4 L385.0,200.2 L385.7,202.1 L385.7,203.9 L386.2,205.5 L387.0,207.0 L387.2,208.7 L386.5,210.3 L385.5,211.8 L384.9,213.1 L384.1,214.3 L383.1,215.5 L382.4,216.9Z M380.8,217.5 L380.2,218.9 L379.1,220.0 L377.5,220.4 L376.1,220.9 L375.3,222.0 L374.5,223.7 L373.3,224.8 L371.7,224.9 L370.3,224.7 L368.8,225.0 L367.3,225.0 L366.1,224.4 L365.3,223.3 L364.4,222.0 L363.7,220.5 L363.7,219.0 L364.6,217.7 L365.4,216.3 L365.6,214.7 L365.7,213.2 L366.1,211.8 L366.9,210.5 L367.9,209.3 L369.1,208.4 L370.4,207.6 L371.3,206.4 L371.8,204.8 L372.5,203.4 L373.9,202.9 L375.8,202.8 L377.3,202.4 L378.4,201.4 L379.6,200.5 L381.2,200.5 L382.6,201.1 L383.8,201.7 L384.8,202.6 L385.2,204.1 L384.9,205.6 L384.9,206.8 L385.3,208.3 L385.3,209.9 L384.5,211.4 L383.5,212.4 L382.6,213.5 L381.9,214.8 L381.3,216.1Z M380.5,217.3 L379.5,218.3 L378.2,219.0 L377.1,220.0 L376.2,221.1 L375.2,221.9 L373.8,222.5 L372.5,223.1 L371.3,223.9 L370.2,224.4 L368.8,224.3 L367.7,223.7 L366.9,223.3 L366.2,222.7 L365.8,221.6 L365.9,220.3 L365.9,219.2 L365.6,217.9 L365.6,216.3 L366.1,214.9 L366.7,213.7 L367.1,212.3 L367.7,211.0 L368.8,209.9 L370.1,209.2 L371.2,208.3 L372.1,207.2 L373.2,206.3 L374.4,205.7 L375.4,204.9 L376.3,203.6 L377.3,202.5 L378.6,201.9 L379.7,201.5 L381.2,201.1 L382.6,201.1 L383.7,201.9 L384.0,203.2 L384.2,204.4 L384.5,205.7 L384.3,206.8 L383.7,208.0 L383.3,209.3 L383.2,210.9 L383.1,212.2 L382.4,213.4 L381.6,214.6 L381.1,215.9Z M379.8,216.8 L379.1,218.0 L378.3,219.2 L377.0,219.9 L375.5,220.3 L374.5,220.8 L373.3,221.7 L372.1,222.3 L370.8,222.4 L369.9,222.6 L368.9,223.0 L368.0,223.1 L367.6,222.5 L367.6,221.8 L367.3,221.2 L366.8,220.2 L366.9,219.3 L367.2,218.2 L367.2,216.8 L367.1,215.2 L367.3,214.0 L368.2,212.9 L369.1,211.9 L369.7,210.6 L370.4,209.4 L371.6,208.6 L372.8,207.9 L373.6,206.8 L374.3,205.6 L375.3,204.8 L376.8,204.4 L378.0,204.0 L379.1,203.4 L380.0,203.2 L381.1,203.6 L381.7,204.0 L382.2,203.8 L382.9,203.8 L383.3,204.6 L383.4,205.7 L383.7,206.7 L383.9,208.0 L383.6,209.4 L382.7,210.7 L382.2,211.8 L382.0,213.2 L381.6,214.6 L380.7,215.7Z M378.0,215.3 L377.5,216.6 L377.0,218.0 L376.2,219.0 L374.9,219.5 L373.8,219.9 L372.6,220.4 L371.4,220.8 L370.3,220.9 L369.7,221.0 L368.9,221.6 L368.3,222.2 L367.8,222.2 L367.7,221.8 L367.6,221.1 L367.5,220.2 L367.9,219.4 L368.5,218.5 L368.9,217.3 L368.8,215.9 L368.7,214.6 L369.0,213.4 L369.7,212.2 L370.3,211.0 L371.1,209.9 L372.2,209.2 L373.6,208.6 L374.6,207.8 L375.2,206.6 L375.8,205.6 L376.9,204.7 L378.0,203.8 L379.0,203.0 L379.9,202.7 L381.1,203.2 L381.7,203.9 L381.9,204.2 L382.2,204.3 L382.6,204.8 L382.8,205.8 L383.1,206.7 L383.4,207.9 L383.1,209.3 L382.1,210.4 L381.1,211.2 L380.3,212.2 L379.6,213.3 L378.7,214.3Z M367.8,214.0 L368.1,213.5 L368.4,212.7 L368.6,211.7 L368.7,210.5 L369.2,209.2 L370.1,208.0 L371.1,206.8 L371.9,205.5 L372.5,204.1 L373.3,202.8 L374.2,201.6 L374.9,200.5 L375.2,199.3 L375.3,198.0 L375.6,196.8 L376.2,195.8 L376.8,194.7 L377.3,193.6 L377.9,192.6 L378.9,191.8 L380.1,191.2 L381.3,190.5 L382.2,189.6 L382.9,188.5 L383.7,187.5 L384.4,186.5 L384.9,185.4 L384.9,184.0 L384.9,182.6 L385.2,181.3 L385.8,180.2 L386.5,179.1 L387.0,178.0 L387.6,176.9 L388.7,176.0 L389.8,175.2 L390.7,174.3 L391.3,173.3 L391.7,172.2 L392.3,171.2 L393.1,170.0 L393.6,168.7 L393.9,167.2 L394.3,165.8 L395.1,164.6 L396.0,163.6 L396.8,162.5 L397.3,161.3 L398.0,160.3 L398.8,159.6 L399.7,158.9 L400.2,158.1 L401.5,155.9 L402.8,154.2 L403.9,153.5 L403.7,154.0 L403.5,154.4 L403.4,155.1 L403.0,155.9 L402.3,156.7 L401.5,157.7 L401.1,158.9 L400.9,160.3 L400.5,161.7 L399.8,163.0 L399.1,164.4 L398.7,165.8 L398.2,167.1 L397.5,168.3 L396.5,169.0 L395.5,169.8 L394.7,170.8 L394.1,171.8 L393.3,172.9 L392.5,173.9 L392.0,175.0 L391.8,176.4 L391.8,177.8 L391.6,179.1 L391.0,180.3 L390.5,181.4 L390.0,182.5 L389.5,183.5 L388.5,184.3 L387.2,185.1 L386.1,186.0 L385.3,187.1 L384.7,188.2 L384.0,189.3 L383.3,190.3 L382.9,191.5 L382.7,192.9 L382.6,194.2 L382.1,195.3 L381.3,196.3 L380.6,197.4 L380.1,198.5 L379.4,199.6 L378.4,200.6 L377.3,201.6 L376.5,202.7 L376.1,204.0 L375.7,205.2 L375.0,206.3 L374.3,207.2 L373.9,208.3 L373.7,209.3 L373.2,210.2 L371.8,211.7 L370.2,213.0 L369.0,213.9 L368.3,214.5Z M404.0,153.1 L403.0,153.6 L401.9,154.0 L400.8,154.7 L400.1,155.9 L399.6,157.2 L398.9,158.4 L397.9,159.4 L397.1,160.6 L396.7,161.9 L396.3,163.2 L395.6,164.2 L394.6,165.2 L393.9,166.3 L393.6,167.7 L393.3,169.0 L392.5,170.0 L391.7,171.0 L391.3,172.1 L391.2,173.3 L391.0,174.3 L390.3,175.6 L389.7,177.0 L389.6,178.4 L389.8,179.7 L389.7,180.8 L389.3,181.9 L389.2,182.9 L389.9,184.1 L390.8,184.7 L391.9,185.7 L392.9,187.1 L393.5,188.0 L394.6,188.6 L395.6,189.3 L396.4,190.3 L397.1,191.5 L397.9,192.4 L398.9,193.2 L399.6,194.2 L399.8,195.3 L399.8,196.5 L400.2,197.6 L400.8,198.8 L401.0,200.1 L400.9,201.4 L400.9,202.7 L401.3,203.9 L401.9,205.0 L402.2,206.5 L402.1,208.0 L402.3,209.5 L402.9,210.8 L403.5,212.0 L403.6,213.1 L403.8,214.2 L405.0,215.4 L406.6,215.4 L407.9,214.8 L408.7,214.5 L409.6,214.0 L410.1,213.0 L410.4,211.7 L411.1,210.4 L412.2,209.1 L412.8,208.3 L413.1,207.1 L413.3,205.8 L413.9,204.7 L414.8,203.6 L415.4,202.3 L415.7,200.9 L415.9,199.4 L416.6,198.2 L417.3,197.1 L417.7,195.9 L417.8,194.5 L418.1,193.2 L418.8,192.0 L419.5,191.0 L419.8,189.7 L419.9,188.4 L420.2,187.3 L420.9,186.2 L421.4,185.1 L421.5,183.9 L421.3,182.8 L421.5,181.7 L422.0,180.5 L422.1,179.4 L421.8,178.3 L421.5,177.1 L421.6,175.9 L421.9,174.6 L421.8,173.3 L421.4,171.9 L421.1,170.8 L421.4,169.6 L421.6,168.3 L421.5,166.9 L421.0,165.5 L420.8,164.1 L421.0,162.7 L421.0,161.2 L420.5,159.9 L419.7,158.8 L419.3,157.7 L419.1,156.5 L418.5,155.6 L417.3,155.0 L416.0,154.6 L414.8,153.9 L413.6,153.1 L412.1,152.7 L410.6,152.8 L409.1,152.8 L407.7,152.5 L406.3,152.2 L405.0,152.5Z M405.7,153.3 L404.9,154.2 L404.2,155.0 L403.4,155.9 L402.5,156.8 L401.7,157.9 L400.9,159.1 L400.1,160.2 L399.4,161.5 L399.0,162.9 L398.8,164.3 L398.2,165.4 L397.3,166.2 L396.0,167.0 L394.8,168.0 L393.9,169.0 L393.2,170.1 L392.6,171.3 L392.4,172.5 L392.4,173.8 L392.3,175.0 L391.9,176.0 L391.3,177.5 L391.0,179.1 L391.2,180.6 L391.5,182.0 L391.7,183.1 L392.1,183.9 L393.0,184.3 L394.3,184.5 L396.0,184.8 L397.6,185.2 L398.9,185.3 L400.0,185.1 L401.4,185.0 L402.7,185.2 L403.9,185.4 L405.1,185.4 L406.3,185.4 L407.5,185.5 L408.8,185.7 L410.0,185.4 L410.8,184.7 L411.7,183.7 L412.7,182.7 L413.7,181.5 L414.3,180.0 L414.2,178.9 L413.8,177.7 L413.1,176.6 L412.2,175.5 L410.9,174.6 L409.9,173.4 L409.6,172.0 L410.2,170.5 L411.1,169.4 L411.8,168.4 L412.6,167.3 L413.3,166.2 L413.9,165.0 L414.3,163.7 L414.7,162.3 L415.5,160.9 L416.3,159.6 L416.8,158.2 L416.6,156.9 L415.7,156.2 L414.8,155.9 L413.9,155.5 L412.7,155.1 L411.5,154.6 L410.1,153.9 L408.7,153.2 L407.1,152.8Z M454.0,171.5 L453.6,172.3 L453.7,173.3 L454.2,174.4 L454.4,175.7 L454.4,177.2 L454.6,178.7 L455.3,180.1 L455.9,181.5 L455.9,183.0 L455.6,184.4 L455.6,185.6 L455.9,186.5 L456.2,187.5 L458.3,188.2 L460.1,185.6 L460.5,184.3 L460.7,182.4 L461.3,180.5 L462.2,179.1 L462.9,178.2 L463.4,178.0 L463.9,178.5 L463.9,179.5 L463.7,180.9 L463.7,182.5 L464.3,184.1 L464.7,185.8 L464.8,187.5 L464.7,189.1 L465.0,190.3 L465.5,191.2 L465.6,191.7 L466.4,192.0 L467.3,191.4 L467.8,190.1 L468.1,188.4 L468.6,186.8 L469.2,185.2 L469.5,183.7 L469.4,182.4 L469.8,180.4 L470.4,179.2 L470.8,178.4 L469.7,177.2 L468.2,177.4 L467.9,178.1 L467.2,179.7 L466.6,181.4 L466.5,182.8 L465.8,183.5 L465.2,182.6 L465.2,181.4 L465.1,179.9 L464.7,178.3 L464.2,176.6 L464.1,174.9 L464.0,173.4 L463.5,172.5 L462.9,172.6 L463.0,173.0 L462.3,173.8 L461.4,175.3 L460.7,177.1 L460.0,178.8 L459.0,179.9 L458.0,179.9 L458.2,179.4 L457.9,178.4 L457.5,176.8 L457.6,175.1 L457.7,173.4 L457.5,171.9 L456.9,171.1 L455.3,170.0Z M458.2,193.0 L458.3,193.3 L458.4,193.8 L458.3,194.3 L458.0,194.8 L457.5,195.0 L457.0,194.9 L456.6,194.6 L456.2,194.4 L455.9,194.1 L455.6,193.8 L455.4,193.4 L455.2,193.0 L455.3,192.5 L455.4,192.1 L455.6,191.6 L456.0,191.2 L456.4,190.8 L457.0,190.6 L457.6,190.7 L458.1,191.1 L458.3,191.7 L458.3,192.3 L458.2,192.7Z M447.7,215.3 L447.7,215.6 L447.7,216.0 L447.6,216.5 L447.4,217.0 L446.9,217.3 L446.4,217.3 L445.9,217.1 L445.6,216.8 L445.3,216.4 L445.1,216.0 L444.9,215.7 L444.8,215.3 L444.8,214.9 L445.0,214.5 L445.4,214.3 L445.7,214.1 L446.0,214.0 L446.4,213.9 L446.8,213.8 L447.2,213.8 L447.6,214.1 L447.8,214.5 L447.8,214.9Z" fill="none" stroke="#ffffff" stroke-width="0.75" stroke-opacity="0.95" stroke-linejoin="round"/>
</g></g></g>
<g transform="translate(684.6,0)">
<defs><clipPath id="cb"><path d="M66.50,64.93 L87.42,65.32 L108.33,65.69 L129.24,66.03 L150.16,66.34 L171.07,66.62 L191.99,66.88 L212.91,67.11 L233.82,67.32 L254.74,67.50 L275.65,67.65 L296.57,67.77 L317.49,67.87 L338.41,67.94 L359.32,67.98 L380.24,68.00 L401.16,67.99 L422.07,67.95 L442.99,67.89 L463.91,67.80 L484.82,67.68 L505.74,67.53 L526.66,67.36 L547.57,67.16 L568.49,66.93 L573.49,503.40 L552.02,503.64 L530.54,503.84 L509.06,504.02 L487.58,504.17 L466.10,504.29 L444.62,504.38 L423.14,504.45 L401.66,504.49 L380.18,504.50 L358.70,504.48 L337.22,504.44 L315.74,504.37 L294.26,504.27 L272.78,504.14 L251.30,503.98 L229.83,503.80 L208.35,503.59 L186.87,503.35 L165.39,503.09 L143.91,502.79 L122.44,502.47 L100.96,502.12 L79.48,501.75 L58.01,501.34 Z"/></clipPath></defs>
<g clip-path="url(#cb)">
<clipPath id="cbp"><polygon points="167,66.2 567.9,212.8 461.5,504.2 60.4,358.2"/></clipPath>
<g clip-path="url(#cbp)"><polygon points="167,66.2 567.9,212.8 461.5,504.2 60.4,358.2" fill="#262874"/>
<path d="M220.4,246.0 C224.9,242.8 238.2,243.3 245.4,241.0 C252.6,238.7 258.9,236.5 263.4,232.0 C267.9,227.5 270.4,220.2 272.4,214.0 C274.4,207.8 274.4,200.7 275.4,195.0 C276.4,189.3 274.2,182.5 278.4,180.0 C282.6,177.5 294.9,177.3 300.4,180.0 C305.9,182.7 307.6,193.7 311.4,196.0 C315.2,198.3 319.1,192.5 323.4,194.0 C327.7,195.5 333.7,200.3 337.4,205.0 C341.1,209.7 341.6,216.2 345.4,222.0 C349.2,227.8 355.4,234.5 360.4,240.0 C365.4,245.5 370.4,249.8 375.4,255.0 C380.4,260.2 384.6,266.3 390.4,271.0 C396.2,275.7 404.7,278.5 410.4,283.0 C416.1,287.5 422.7,293.0 424.4,298.0 C426.1,303.0 424.2,308.2 420.4,313.0 C416.6,317.8 408.6,322.7 401.4,327.0 C394.2,331.3 385.9,335.8 377.4,339.0 C368.9,342.2 358.4,343.8 350.4,346.0 C342.4,348.2 334.2,347.7 329.4,352.0 C324.6,356.3 322.1,365.0 321.4,372.0 C320.7,379.0 323.1,387.7 325.4,394.0 C327.7,400.3 333.4,403.7 335.4,410.0 C337.4,416.3 339.9,426.0 337.4,432.0 C334.9,438.0 330.7,443.7 320.4,446.0 C310.1,448.3 292.9,448.7 275.4,446.0 C257.9,443.3 231.7,437.7 215.4,430.0 C199.1,422.3 182.7,408.3 177.4,400.0 C172.1,391.7 181.1,388.0 183.4,380.0 C185.7,372.0 188.7,360.3 191.4,352.0 C194.1,343.7 195.7,336.7 199.4,330.0 C203.1,323.3 209.4,317.7 213.4,312.0 C217.4,306.3 222.1,302.0 223.4,296.0 C224.7,290.0 222.2,282.0 221.4,276.0 C220.6,270.0 218.6,265.0 218.4,260.0 C218.2,255.0 215.9,249.2 220.4,246.0 Z" fill="#2f4696" filter="url(#b6)"/>
<path d="M279.4,186.0 C282.1,182.8 293.1,183.7 297.4,186.0 C301.7,188.3 306.6,195.7 305.4,200.0 C304.2,204.3 294.4,211.2 290.4,212.0 C286.4,212.8 283.2,209.3 281.4,205.0 C279.6,200.7 276.7,189.2 279.4,186.0 Z" fill="#3460ae" fill-opacity="0.9" filter="url(#b6)"/>
<path d="M228.9,251.8 C232.3,248.6 241.9,248.8 247.9,246.3 C253.8,243.8 260.3,240.7 264.8,236.9 C269.4,233.1 271.8,228.0 275.2,223.5 C278.7,219.1 281.6,213.5 285.8,210.0 C289.9,206.4 294.0,204.4 300.0,202.2 C306.1,200.1 316.7,196.1 322.0,197.0 C327.3,198.0 329.2,204.1 331.8,207.9 C334.4,211.7 335.5,216.1 337.8,219.9 C340.1,223.7 342.5,226.6 345.5,230.5 C348.6,234.4 352.1,239.1 356.2,243.2 C360.4,247.3 366.4,251.1 370.3,255.2 C374.2,259.3 375.3,264.4 379.8,267.8 C384.3,271.2 391.7,272.4 397.3,275.5 C402.9,278.6 409.4,282.0 413.2,286.2 C417.1,290.3 420.7,295.6 420.4,300.3 C420.0,305.1 415.3,310.7 411.2,314.9 C407.0,319.1 401.2,322.1 395.4,325.5 C389.6,328.8 384.0,332.6 376.6,334.8 C369.1,337.1 358.7,338.7 350.6,339.0 C342.4,339.3 332.3,338.2 327.5,336.9 C322.8,335.6 323.7,329.3 322.0,331.0 C320.3,332.7 318.7,340.6 317.3,347.0 C315.8,353.3 315.0,362.2 313.3,369.0 C311.6,375.8 309.8,382.2 307.0,387.8 C304.2,393.4 300.0,398.3 296.5,402.6 C292.9,406.8 289.8,410.4 285.7,413.3 C281.6,416.1 276.7,417.8 271.9,419.7 C267.1,421.6 262.1,422.7 256.9,424.7 C251.6,426.8 246.9,432.3 240.3,432.0 C233.7,431.6 223.2,429.1 217.4,422.6 C211.6,416.1 207.5,400.7 205.5,393.0 C203.5,385.2 205.8,383.0 205.4,376.2 C205.1,369.4 203.5,359.3 203.4,352.1 C203.3,344.9 202.6,339.0 204.6,332.8 C206.5,326.6 211.2,320.2 215.2,314.7 C219.1,309.1 224.6,303.7 228.4,299.4 C232.1,295.1 236.1,292.4 237.6,288.6 C239.2,284.8 239.3,280.2 237.7,276.4 C236.0,272.6 229.3,269.9 227.8,265.8 C226.4,261.7 225.6,255.1 228.9,251.8 Z" fill="#3460ae" filter="url(#b4)"/>
<path d="M231.1,254.6 C234.1,252.2 243.2,252.0 249.2,249.5 C255.2,247.0 262.3,243.6 267.1,239.6 C271.9,235.6 274.5,230.2 278.0,225.7 C281.5,221.2 284.2,216.0 288.1,212.6 C291.9,209.3 295.7,207.5 301.2,205.5 C306.8,203.5 316.9,199.8 321.5,200.5 C326.1,201.2 326.6,206.2 328.8,209.7 C331.1,213.3 332.5,217.9 334.8,221.7 C337.2,225.6 339.6,228.7 342.8,232.7 C345.9,236.7 349.6,241.5 353.8,245.6 C357.9,249.8 363.8,253.5 367.8,257.7 C371.8,261.8 373.1,267.1 377.7,270.6 C382.3,274.1 390.1,275.6 395.6,278.6 C401.1,281.6 407.2,285.1 410.8,288.6 C414.3,292.2 417.2,296.1 416.9,300.0 C416.6,304.0 412.6,308.6 408.7,312.4 C404.9,316.1 399.2,319.2 393.6,322.4 C388.1,325.6 382.7,329.3 375.5,331.5 C368.3,333.7 358.3,335.2 350.4,335.5 C342.5,335.8 333.4,334.7 328.3,333.5 C323.2,332.3 322.1,326.3 319.7,328.4 C317.3,330.5 315.5,339.5 313.9,346.1 C312.2,352.7 311.6,361.4 309.9,368.1 C308.2,374.8 306.5,380.9 303.8,386.2 C301.2,391.6 297.1,396.3 293.8,400.3 C290.4,404.4 287.6,407.7 283.7,410.4 C279.8,413.1 275.3,414.6 270.6,416.5 C265.9,418.3 260.6,419.5 255.6,421.5 C250.6,423.5 246.3,428.7 240.4,428.5 C234.5,428.3 225.3,426.4 220.0,420.3 C214.8,414.3 210.8,399.5 208.9,392.1 C207.1,384.7 209.2,382.7 208.9,376.0 C208.6,369.3 207.1,359.0 206.9,352.0 C206.7,345.0 206.1,339.7 207.9,333.9 C209.8,328.0 214.1,322.1 218.0,316.7 C221.8,311.3 227.2,306.2 231.0,301.7 C234.8,297.2 239.3,294.2 240.9,289.8 C242.6,285.4 242.6,279.4 240.9,275.2 C239.3,270.9 232.6,267.7 231.0,264.2 C229.3,260.8 228.1,257.1 231.1,254.6 Z" fill="#3b7cc4" filter="url(#b2)"/>
<path d="M232.6,256.6 C235.5,254.7 244.2,254.4 250.2,251.8 C256.2,249.3 263.7,245.6 268.7,241.5 C273.6,237.4 276.5,231.7 280.0,227.2 C283.5,222.7 286.0,217.7 289.7,214.5 C293.4,211.3 296.9,209.8 302.1,207.9 C307.3,206.0 317.0,202.4 321.1,203.0 C325.2,203.5 324.8,207.7 326.7,211.1 C328.6,214.4 330.3,219.2 332.7,223.0 C335.0,226.9 337.6,230.2 340.8,234.2 C344.0,238.3 347.8,243.2 352.0,247.4 C356.2,251.6 361.9,255.2 366.0,259.4 C370.0,263.6 371.5,269.0 376.2,272.6 C380.9,276.2 389.0,277.8 394.4,280.8 C399.9,283.7 405.7,287.2 409.0,290.4 C412.3,293.6 414.7,296.5 414.4,299.8 C414.1,303.2 410.7,307.1 407.0,310.6 C403.3,314.0 397.8,317.2 392.4,320.3 C387.0,323.4 381.8,327.0 374.8,329.1 C367.8,331.2 358.0,332.7 350.3,333.0 C342.7,333.3 334.2,332.1 328.8,331.0 C323.5,330.0 321.0,324.1 318.1,326.5 C315.2,328.9 313.2,338.7 311.5,345.5 C309.7,352.4 309.1,360.9 307.5,367.5 C305.8,374.1 304.2,379.9 301.6,385.1 C299.0,390.3 295.1,394.8 291.9,398.7 C288.6,402.6 286.0,405.8 282.3,408.4 C278.6,410.9 274.3,412.3 269.7,414.1 C265.1,415.9 259.5,417.2 254.7,419.1 C249.8,421.1 245.9,426.1 240.5,426.0 C235.0,425.9 226.8,424.4 221.9,418.7 C217.1,412.9 213.1,398.6 211.3,391.5 C209.6,384.4 211.7,382.5 211.4,375.9 C211.1,369.3 209.6,358.8 209.4,352.0 C209.2,345.1 208.5,340.2 210.3,334.6 C212.1,329.0 216.3,323.4 220.0,318.2 C223.8,313.0 229.0,307.9 232.9,303.3 C236.8,298.7 241.6,295.5 243.3,290.7 C245.0,285.9 244.9,278.9 243.3,274.3 C241.6,269.7 235.0,266.1 233.2,263.1 C231.4,260.2 229.8,258.5 232.6,256.6 Z" fill="#30b4e8" filter="url(#b2)"/>
<path d="M235.1,259.7 C237.6,258.8 245.7,258.1 251.7,255.5 C257.7,253.0 266.0,248.9 271.2,244.6 C276.5,240.3 279.6,234.2 283.1,229.7 C286.7,225.2 289.0,220.5 292.3,217.5 C295.7,214.5 298.8,213.4 303.5,211.6 C308.1,209.9 317.2,206.7 320.5,206.9 C323.8,207.2 321.8,210.1 323.3,213.2 C324.8,216.2 326.9,221.2 329.3,225.1 C331.7,229.0 334.4,232.5 337.7,236.7 C341.0,240.9 344.9,246.0 349.2,250.2 C353.4,254.5 359.0,257.9 363.1,262.2 C367.2,266.4 368.9,272.1 373.8,275.8 C378.7,279.5 387.1,281.4 392.5,284.3 C397.9,287.2 403.2,290.7 406.2,293.2 C409.1,295.8 410.7,297.1 410.4,299.5 C410.1,301.9 407.6,304.8 404.3,307.7 C400.9,310.6 395.5,313.9 390.4,316.8 C385.3,319.7 380.4,323.2 373.7,325.3 C367.0,327.3 357.5,328.7 350.1,329.0 C342.8,329.3 335.5,328.1 329.7,327.1 C323.9,326.2 319.2,320.6 315.5,323.5 C311.8,326.4 309.6,337.4 307.6,344.5 C305.6,351.7 305.2,360.1 303.6,366.5 C302.0,373.0 300.5,378.4 298.0,383.3 C295.6,388.3 291.8,392.5 288.8,396.2 C285.8,399.8 283.4,402.7 280.0,405.1 C276.5,407.5 272.7,408.7 268.2,410.4 C263.7,412.1 257.8,413.5 253.2,415.4 C248.6,417.4 245.3,421.9 240.6,422.0 C235.9,422.1 229.2,421.3 224.9,416.1 C220.7,410.8 216.8,397.3 215.2,390.5 C213.6,383.8 215.7,382.1 215.4,375.7 C215.1,369.3 213.6,358.5 213.4,351.9 C213.2,345.2 212.5,341.0 214.1,335.8 C215.8,330.6 219.6,325.5 223.3,320.5 C226.9,315.5 232.0,310.6 236.0,305.9 C239.9,301.2 245.2,297.6 247.0,292.1 C248.9,286.6 248.7,278.0 247.0,272.8 C245.3,267.7 238.8,263.5 236.8,261.3 C234.8,259.1 232.6,260.7 235.1,259.7 Z" fill="#6cc5b4" filter="url(#b4)"/>
<path d="M329.4,222.0 C331.9,220.3 338.7,224.7 343.4,228.0 C348.1,231.3 352.7,237.3 357.4,242.0 C362.1,246.7 367.4,251.0 371.4,256.0 C375.4,261.0 380.4,267.3 381.4,272.0 C382.4,276.7 380.7,282.7 377.4,284.0 C374.1,285.3 366.7,282.0 361.4,280.0 C356.1,278.0 349.7,276.0 345.4,272.0 C341.1,268.0 338.2,261.7 335.4,256.0 C332.6,250.3 329.4,243.7 328.4,238.0 C327.4,232.3 326.9,223.7 329.4,222.0 Z" fill="#30b4e8" fill-opacity="0.9" filter="url(#b5)"/>
<path d="M331.4,230.0 C333.4,229.0 338.1,232.7 341.4,236.0 C344.7,239.3 350.7,245.7 351.4,250.0 C352.1,254.3 348.1,261.0 345.4,262.0 C342.7,263.0 338.1,259.3 335.4,256.0 C332.7,252.7 330.1,246.3 329.4,242.0 C328.7,237.7 329.4,231.0 331.4,230.0 Z" fill="#6cc5b4" fill-opacity="0.8" filter="url(#b5)"/>
<path d="M347.4,250.0 C349.1,249.0 355.4,251.7 359.4,254.0 C363.4,256.3 368.1,260.3 371.4,264.0 C374.7,267.7 379.4,273.7 379.4,276.0 C379.4,278.3 374.7,279.0 371.4,278.0 C368.1,277.0 363.1,273.0 359.4,270.0 C355.7,267.0 351.4,263.3 349.4,260.0 C347.4,256.7 345.7,251.0 347.4,250.0 Z" fill="#3b7cc4" fill-opacity="0.8" filter="url(#b4)"/>
<path d="M351.4,254.0 C352.7,253.7 358.4,256.7 361.4,259.0 C364.4,261.3 369.4,266.5 369.4,268.0 C369.4,269.5 364.1,269.2 361.4,268.0 C358.7,266.8 355.1,263.3 353.4,261.0 C351.7,258.7 350.1,254.3 351.4,254.0 Z" fill="#3460ae" fill-opacity="0.8" filter="url(#b3)"/>
<path d="M270.1,401.7 C272.6,397.8 283.0,396.1 289.9,395.0 C296.7,393.9 305.2,393.9 311.1,395.1 C317.0,396.3 321.5,398.5 325.2,402.2 C328.9,405.8 331.7,411.9 333.2,416.8 C334.7,421.8 335.4,427.3 334.3,431.8 C333.2,436.4 330.5,441.9 326.5,444.4 C322.6,446.9 315.2,447.9 310.4,446.9 C305.6,445.8 301.6,441.2 297.8,438.0 C294.0,434.9 291.5,431.3 287.8,428.0 C284.0,424.8 278.2,422.9 275.3,418.5 C272.3,414.1 267.7,405.6 270.1,401.7 Z" fill="#3460ae" filter="url(#b4)"/>
<path d="M273.0,403.7 C275.0,400.7 284.1,399.4 290.3,398.5 C296.6,397.6 305.1,397.5 310.5,398.5 C315.9,399.5 319.5,401.4 322.8,404.6 C326.0,407.9 328.5,413.4 329.9,417.9 C331.2,422.3 331.8,427.2 330.9,431.1 C330.0,435.0 327.9,439.4 324.7,441.4 C321.4,443.5 315.4,444.5 311.3,443.5 C307.2,442.5 303.6,438.4 300.1,435.4 C296.5,432.4 293.8,428.6 290.1,425.4 C286.4,422.2 280.9,419.9 278.0,416.3 C275.2,412.7 270.9,406.7 273.0,403.7 Z" fill="#3b7cc4" filter="url(#b3)"/>
<path d="M275.0,405.2 C276.8,402.9 284.8,401.7 290.7,401.0 C296.5,400.3 305.0,400.1 310.0,401.0 C315.1,401.9 318.1,403.5 321.0,406.4 C323.9,409.4 326.2,414.6 327.5,418.6 C328.7,422.6 329.1,427.1 328.4,430.6 C327.8,434.0 326.1,437.6 323.3,439.3 C320.6,441.1 315.5,442.0 311.9,441.1 C308.3,440.1 305.1,436.4 301.7,433.5 C298.3,430.6 295.3,426.6 291.7,423.5 C288.1,420.4 282.7,417.8 280.0,414.7 C277.2,411.7 273.2,407.4 275.0,405.2 Z" fill="#30b4e8" filter="url(#b3)"/>
<path d="M277.5,406.9 C278.9,405.4 285.7,404.4 291.1,404.0 C296.4,403.5 304.8,403.2 309.5,403.9 C314.1,404.7 316.3,405.9 318.9,408.5 C321.4,411.1 323.5,415.9 324.6,419.5 C325.7,423.0 326.0,427.1 325.5,429.9 C325.0,432.8 323.9,435.4 321.7,436.8 C319.6,438.1 315.6,439.1 312.6,438.1 C309.6,437.2 306.8,434.0 303.7,431.2 C300.5,428.4 297.2,424.3 293.7,421.2 C290.1,418.2 285.0,415.2 282.3,412.9 C279.6,410.5 276.0,408.4 277.5,406.9 Z" fill="#6cc5b4" filter="url(#b3)"/>
<path d="M299.4,410.0 C302.1,408.2 309.7,407.8 313.4,409.0 C317.1,410.2 319.6,413.5 321.4,417.0 C323.2,420.5 325.2,426.7 324.4,430.0 C323.6,433.3 319.4,437.0 316.4,437.0 C313.4,437.0 309.6,432.8 306.4,430.0 C303.2,427.2 298.6,423.3 297.4,420.0 C296.2,416.7 296.7,411.8 299.4,410.0 Z" fill="#a6cf55" fill-opacity="0.9" filter="url(#b4)"/>
<path d="M307.4,414.0 C308.6,412.3 313.4,412.7 315.4,414.0 C317.4,415.3 319.4,419.7 319.4,422.0 C319.4,424.3 317.2,427.7 315.4,428.0 C313.6,428.3 309.7,426.3 308.4,424.0 C307.1,421.7 306.2,415.7 307.4,414.0 Z" fill="#cfdd2c" fill-opacity="0.8" filter="url(#b3)"/>
<path d="M293.4,388.0 C296.1,384.7 302.1,381.7 305.4,382.0 C308.7,382.3 312.1,386.7 313.4,390.0 C314.7,393.3 315.4,399.3 313.4,402.0 C311.4,404.7 305.4,406.0 301.4,406.0 C297.4,406.0 290.7,405.0 289.4,402.0 C288.1,399.0 290.7,391.3 293.4,388.0 Z" fill="#30b4e8" fill-opacity="0.7" filter="url(#b8)"/>
<path d="M280.4,398.0 C282.4,396.0 289.9,395.0 293.4,396.0 C296.9,397.0 301.4,401.7 301.4,404.0 C301.4,406.3 296.7,409.3 293.4,410.0 C290.1,410.7 283.6,410.0 281.4,408.0 C279.2,406.0 278.4,400.0 280.4,398.0 Z" fill="#6cc5b4" fill-opacity="0.6" filter="url(#b6)"/>
<path d="M255.4,418.0 C257.1,415.3 265.4,415.0 270.4,414.0 C275.4,413.0 281.6,411.3 285.4,412.0 C289.2,412.7 292.6,415.3 293.4,418.0 C294.2,420.7 293.4,425.7 290.4,428.0 C287.4,430.3 280.4,431.7 275.4,432.0 C270.4,432.3 263.7,432.3 260.4,430.0 C257.1,427.7 253.7,420.7 255.4,418.0 Z" fill="#262874" filter="url(#b4)"/>
<path d="M277.4,232.0 C279.9,227.7 283.7,220.7 285.4,222.0 C287.1,223.3 288.1,234.3 287.4,240.0 C286.7,245.7 283.7,252.7 281.4,256.0 C279.1,259.3 275.2,261.3 273.4,260.0 C271.6,258.7 269.7,252.7 270.4,248.0 C271.1,243.3 274.9,236.3 277.4,232.0 Z" fill="#6cc5b4" fill-opacity="0.8" filter="url(#b5)"/>
<path d="M275.4,252.0 C273.4,249.7 280.9,244.3 283.4,240.0 C285.9,235.7 287.9,230.2 290.4,226.0 C292.9,221.8 295.1,217.5 298.4,215.0 C301.7,212.5 306.7,211.3 310.4,211.0 C314.1,210.7 317.7,211.2 320.4,213.0 C323.1,214.8 324.7,218.5 326.4,222.0 C328.1,225.5 328.6,230.0 330.4,234.0 C332.2,238.0 338.2,243.0 337.4,246.0 C336.6,249.0 329.9,251.3 325.4,252.0 C320.9,252.7 315.4,249.7 310.4,250.0 C305.4,250.3 301.2,253.7 295.4,254.0 C289.6,254.3 277.4,254.3 275.4,252.0 Z" fill="#a6cf55" fill-opacity="0.9" filter="url(#b4)"/>
<path d="M317.4,222.0 C317.4,223.2 316.9,224.5 316.1,225.5 C315.2,226.5 313.8,227.5 312.4,228.1 C311.0,228.6 309.1,229.0 307.4,229.0 C305.7,229.0 303.8,228.6 302.4,228.1 C301.0,227.5 299.6,226.5 298.7,225.5 C297.9,224.5 297.4,223.2 297.4,222.0 C297.4,220.8 297.9,219.5 298.7,218.5 C299.6,217.5 301.0,216.5 302.4,215.9 C303.8,215.4 305.7,215.0 307.4,215.0 C309.1,215.0 311.0,215.4 312.4,215.9 C313.8,216.5 315.2,217.5 316.1,218.5 C316.9,219.5 317.4,220.8 317.4,222.0 Z" fill="#cfdd2c" fill-opacity="0.9" filter="url(#b4)"/>
<path d="M313.4,221.0 C313.4,221.7 313.1,222.4 312.7,223.0 C312.3,223.6 311.6,224.1 310.9,224.5 C310.2,224.8 309.2,225.0 308.4,225.0 C307.6,225.0 306.6,224.8 305.9,224.5 C305.2,224.1 304.5,223.6 304.1,223.0 C303.7,222.4 303.4,221.7 303.4,221.0 C303.4,220.3 303.7,219.6 304.1,219.0 C304.5,218.4 305.2,217.9 305.9,217.5 C306.6,217.2 307.6,217.0 308.4,217.0 C309.2,217.0 310.2,217.2 310.9,217.5 C311.6,217.9 312.3,218.4 312.7,219.0 C313.1,219.6 313.4,220.3 313.4,221.0 Z" fill="#f3e523" fill-opacity="0.8" filter="url(#b3)"/>
<path d="M241.3,256.7 C244.0,252.6 254.4,252.4 260.1,251.5 C265.7,250.7 270.3,251.8 275.2,251.5 C280.2,251.2 285.3,250.9 289.7,249.6 C294.2,248.3 298.3,246.6 302.0,243.9 C305.7,241.3 308.4,236.1 312.0,233.9 C315.7,231.7 320.2,230.2 323.7,230.5 C327.2,230.9 330.0,233.6 333.0,236.1 C336.0,238.5 340.1,240.9 341.7,245.1 C343.4,249.3 341.6,257.1 342.8,261.3 C344.0,265.4 345.6,267.7 348.9,270.0 C352.1,272.2 357.4,272.9 362.3,274.7 C367.2,276.4 372.5,278.6 378.2,280.6 C384.0,282.7 392.0,283.9 396.6,286.8 C401.3,289.7 406.0,294.1 405.9,298.1 C405.8,302.2 400.3,307.5 395.9,311.0 C391.5,314.5 384.6,316.7 379.5,319.2 C374.4,321.8 370.8,324.7 365.1,326.4 C359.5,328.1 352.2,329.2 345.5,329.5 C338.8,329.8 329.9,329.4 325.0,328.5 C320.1,327.5 318.8,321.1 316.1,323.8 C313.4,326.5 311.0,337.8 308.8,344.8 C306.5,351.8 305.3,359.1 302.7,365.9 C300.2,372.7 297.4,380.1 293.4,385.5 C289.4,390.8 283.6,394.6 278.9,398.0 C274.1,401.5 269.2,403.2 264.8,406.1 C260.4,408.9 255.0,410.4 252.6,415.1 C250.3,419.8 256.2,431.4 250.6,434.2 C244.9,437.0 225.2,437.5 218.7,431.8 C212.3,426.2 213.4,411.4 211.9,400.3 C210.4,389.2 210.1,375.8 209.9,365.0 C209.7,354.2 209.4,343.3 210.9,335.5 C212.5,327.8 215.6,323.9 219.4,318.6 C223.1,313.2 229.8,308.2 233.4,303.5 C237.0,298.7 239.3,294.7 241.1,290.1 C242.8,285.5 243.9,281.6 243.9,276.0 C243.9,270.4 238.6,260.7 241.3,256.7 Z" fill="#cfdd2c" filter="url(#b3)"/>
<path d="M243.4,258.0 C245.7,254.3 255.1,254.7 260.4,254.0 C265.7,253.3 270.4,254.3 275.4,254.0 C280.4,253.7 285.7,253.3 290.4,252.0 C295.1,250.7 299.6,248.7 303.4,246.0 C307.2,243.3 310.1,238.2 313.4,236.0 C316.7,233.8 320.4,232.7 323.4,233.0 C326.4,233.3 328.7,235.8 331.4,238.0 C334.1,240.2 337.9,242.0 339.4,246.0 C340.9,250.0 339.1,257.7 340.4,262.0 C341.7,266.3 343.9,269.5 347.4,272.0 C350.9,274.5 356.4,275.2 361.4,277.0 C366.4,278.8 371.7,281.0 377.4,283.0 C383.1,285.0 391.1,286.5 395.4,289.0 C399.7,291.5 403.6,294.7 403.4,298.0 C403.2,301.3 398.6,305.8 394.4,309.0 C390.2,312.2 383.4,314.5 378.4,317.0 C373.4,319.5 369.9,322.3 364.4,324.0 C358.9,325.7 351.9,326.7 345.4,327.0 C338.9,327.3 330.6,326.8 325.4,326.0 C320.2,325.2 317.6,319.0 314.4,322.0 C311.2,325.0 308.7,336.8 306.4,344.0 C304.1,351.2 302.9,358.3 300.4,365.0 C297.9,371.7 295.2,378.8 291.4,384.0 C287.6,389.2 282.1,392.7 277.4,396.0 C272.7,399.3 267.9,401.0 263.4,404.0 C258.9,407.0 252.7,409.3 250.4,414.0 C248.1,418.7 254.4,429.3 249.4,432.0 C244.4,434.7 226.2,435.3 220.4,430.0 C214.6,424.7 215.7,410.8 214.4,400.0 C213.1,389.2 212.6,375.7 212.4,365.0 C212.2,354.3 211.9,343.5 213.4,336.0 C214.9,328.5 217.7,325.2 221.4,320.0 C225.1,314.8 231.7,309.8 235.4,305.0 C239.1,300.2 241.6,295.8 243.4,291.0 C245.2,286.2 246.4,281.5 246.4,276.0 C246.4,270.5 241.1,261.7 243.4,258.0 Z" fill="#f3e523" filter="url(#b3)"/>
<path d="M249.4,263.0 C252.1,260.0 260.1,260.5 265.4,260.0 C270.7,259.5 275.7,259.7 281.4,260.0 C287.1,260.3 294.7,262.3 299.4,262.0 C304.1,261.7 306.7,261.7 309.4,258.0 C312.1,254.3 311.7,243.3 315.4,240.0 C319.1,236.7 327.7,236.0 331.4,238.0 C335.1,240.0 336.1,247.0 337.4,252.0 C338.7,257.0 336.4,263.3 339.4,268.0 C342.4,272.7 349.7,277.0 355.4,280.0 C361.1,283.0 369.4,284.0 373.4,286.0 C377.4,288.0 379.4,289.3 379.4,292.0 C379.4,294.7 376.1,298.0 373.4,302.0 C370.7,306.0 367.7,312.7 363.4,316.0 C359.1,319.3 353.4,321.0 347.4,322.0 C341.4,323.0 333.4,322.7 327.4,322.0 C321.4,321.3 315.6,315.0 311.4,318.0 C307.2,321.0 305.4,332.7 302.4,340.0 C299.4,347.3 296.9,355.0 293.4,362.0 C289.9,369.0 286.1,376.3 281.4,382.0 C276.7,387.7 271.1,392.3 265.4,396.0 C259.7,399.7 253.4,403.7 247.4,404.0 C241.4,404.3 233.7,402.0 229.4,398.0 C225.1,394.0 223.1,387.2 221.4,380.0 C219.7,372.8 219.4,362.7 219.4,355.0 C219.4,347.3 219.7,339.8 221.4,334.0 C223.1,328.2 226.1,324.3 229.4,320.0 C232.7,315.7 238.4,312.2 241.4,308.0 C244.4,303.8 246.1,300.0 247.4,295.0 C248.7,290.0 249.1,283.3 249.4,278.0 C249.7,272.7 246.7,266.0 249.4,263.0 Z" fill="#fbc019" filter="url(#b3)"/>
<path d="M251.6,265.0 C253.9,262.5 260.7,263.3 265.7,263.0 C270.6,262.7 275.6,262.7 281.2,263.0 C286.9,263.3 294.5,265.5 299.6,265.0 C304.7,264.5 308.9,263.6 311.8,259.8 C314.8,256.0 314.4,245.4 317.4,242.2 C320.4,239.0 327.1,238.9 330.0,240.6 C332.8,242.4 333.3,247.9 334.5,252.8 C335.7,257.6 333.6,264.6 336.9,269.6 C340.1,274.6 348.1,279.5 354.0,282.7 C359.9,285.8 368.3,287.1 372.1,288.7 C375.8,290.2 376.6,290.1 376.4,292.0 C376.2,293.9 373.4,296.7 370.9,300.3 C368.4,303.9 365.6,310.5 361.6,313.6 C357.6,316.7 352.5,318.1 346.9,319.0 C341.3,319.9 333.9,319.6 327.7,319.0 C321.5,318.4 314.3,312.3 309.6,315.6 C305.0,318.9 302.8,331.3 299.6,338.9 C296.5,346.4 294.1,353.8 290.7,360.7 C287.3,367.5 283.6,374.6 279.1,380.1 C274.6,385.6 269.1,390.0 263.8,393.5 C258.5,397.0 252.6,400.6 247.2,401.0 C241.8,401.4 235.3,399.4 231.4,395.8 C227.6,392.2 225.8,386.1 224.3,379.3 C222.8,372.5 222.4,362.4 222.4,355.0 C222.4,347.6 222.7,340.4 224.3,334.8 C225.8,329.3 228.5,326.0 231.8,321.8 C235.0,317.7 240.7,314.1 243.8,309.8 C246.9,305.4 248.9,301.0 250.3,295.8 C251.7,290.5 252.2,283.3 252.4,278.2 C252.6,273.1 249.4,267.5 251.6,265.0 Z" fill="#f6901e" fill-opacity="0.9" filter="url(#b3)"/>
<path d="M251.8,264.2 C255.3,261.3 265.0,261.8 270.4,262.0 C275.8,262.2 281.5,262.4 284.1,265.3 C286.8,268.3 285.5,274.8 286.4,279.8 C287.3,284.9 287.7,289.9 289.4,295.7 C291.0,301.5 294.5,308.5 296.4,314.7 C298.2,320.9 300.4,327.1 300.4,333.0 C300.4,338.9 298.0,344.7 296.4,350.3 C294.7,355.9 293.0,360.7 290.3,366.4 C287.6,372.2 284.3,380.6 280.1,384.7 C276.0,388.8 269.8,391.0 265.4,391.0 C261.0,391.0 256.8,388.7 253.6,384.6 C250.4,380.5 247.9,372.4 246.4,366.2 C244.9,360.1 242.5,351.7 244.5,347.6 C246.5,343.4 255.9,345.1 258.6,341.4 C261.2,337.7 262.5,329.6 260.5,325.4 C258.5,321.2 248.5,321.0 246.5,316.4 C244.5,311.8 247.9,304.0 248.4,297.9 C248.9,291.8 248.8,285.5 249.4,279.9 C250.0,274.3 248.2,267.2 251.8,264.2 Z" fill="#ee5a24" filter="url(#b3)"/>
<path d="M253.7,266.5 C256.7,264.0 265.6,264.9 270.3,265.0 C275.0,265.1 279.7,264.8 281.9,267.3 C284.1,269.9 282.7,275.5 283.4,280.3 C284.2,285.2 284.8,290.7 286.5,296.5 C288.2,302.4 291.7,309.5 293.5,315.6 C295.3,321.6 297.4,327.4 297.4,333.0 C297.4,338.6 295.1,344.1 293.5,349.4 C291.9,354.8 290.2,359.6 287.6,365.1 C285.0,370.7 281.7,378.8 278.0,382.6 C274.3,386.4 269.1,388.0 265.4,388.0 C261.7,388.0 258.7,386.5 256.0,382.8 C253.3,379.1 250.8,371.2 249.3,365.5 C247.9,359.9 245.2,352.6 247.2,348.9 C249.1,345.2 258.4,347.3 261.0,343.1 C263.7,339.0 265.2,328.8 263.2,324.2 C261.2,319.5 251.2,319.5 249.2,315.2 C247.3,310.9 250.9,304.0 251.4,298.2 C251.9,292.3 252.0,285.5 252.4,280.2 C252.8,274.9 250.7,269.1 253.7,266.5 Z" fill="#e32227" filter="url(#b3)"/>
<path d="M306.7,281.3 C310.0,277.6 319.6,277.9 325.4,278.0 C331.3,278.1 335.7,280.8 341.6,282.0 C347.5,283.2 354.9,283.5 360.7,285.0 C366.4,286.6 373.9,288.1 376.2,291.4 C378.5,294.8 375.7,300.4 374.4,305.3 C373.0,310.1 371.3,316.7 368.2,320.6 C365.1,324.6 361.1,327.9 355.6,329.0 C350.1,330.0 341.2,328.0 335.2,327.0 C329.3,326.0 324.1,324.7 320.0,322.9 C315.9,321.2 313.0,320.3 310.6,316.5 C308.1,312.7 306.1,306.0 305.4,300.1 C304.8,294.2 303.3,285.0 306.7,281.3 Z" fill="#ee5a24" filter="url(#b3)"/>
<path d="M308.9,283.3 C311.7,280.2 320.0,280.7 325.3,281.0 C330.7,281.3 335.2,283.8 341.0,285.0 C346.8,286.1 354.4,286.6 359.9,287.9 C365.3,289.3 371.8,290.4 373.7,293.1 C375.7,295.9 372.8,300.2 371.5,304.5 C370.2,308.7 368.6,315.2 365.8,318.8 C363.1,322.4 360.0,325.2 355.0,326.0 C350.0,326.9 341.4,325.0 335.7,324.0 C330.1,323.0 324.9,321.7 321.2,320.2 C317.4,318.6 315.2,318.3 313.1,314.9 C311.0,311.5 309.1,305.0 308.4,299.8 C307.7,294.5 306.1,286.5 308.9,283.3 Z" fill="#e32227" filter="url(#b3)"/>
<path d="M311.4,246.0 C312.4,241.7 316.1,237.7 319.4,236.0 C322.7,234.3 328.1,234.7 331.4,236.0 C334.7,237.3 337.7,240.3 339.4,244.0 C341.1,247.7 342.1,253.7 341.4,258.0 C340.7,262.3 338.1,266.0 335.4,270.0 C332.7,274.0 328.4,278.3 325.4,282.0 C322.4,285.7 320.4,291.0 317.4,292.0 C314.4,293.0 308.7,291.3 307.4,288.0 C306.1,284.7 308.4,276.3 309.4,272.0 C310.4,267.7 313.1,266.3 313.4,262.0 C313.7,257.7 310.4,250.3 311.4,246.0 Z" fill="#f6901e" filter="url(#b4)"/>
<path d="M319.4,250.0 C321.7,248.0 326.7,252.7 327.4,256.0 C328.1,259.3 325.1,265.3 323.4,270.0 C321.7,274.7 319.4,282.0 317.4,284.0 C315.4,286.0 312.1,284.7 311.4,282.0 C310.7,279.3 312.1,273.3 313.4,268.0 C314.7,262.7 317.1,252.0 319.4,250.0 Z" fill="#ee5a24" fill-opacity="0.9" filter="url(#b4)"/>
<path d="M317.4,244.0 C318.4,241.7 322.6,240.2 325.4,240.0 C328.2,239.8 332.6,241.2 334.4,243.0 C336.2,244.8 336.9,248.8 336.4,251.0 C335.9,253.2 333.4,254.7 331.4,256.0 C329.4,257.3 326.4,259.3 324.4,259.0 C322.4,258.7 320.6,256.5 319.4,254.0 C318.2,251.5 316.4,246.3 317.4,244.0 Z" fill="#ee5a24" fill-opacity="0.9" filter="url(#b4)"/>
<path d="M321.4,246.0 C321.7,244.2 327.4,243.3 329.4,244.0 C331.4,244.7 333.7,248.2 333.4,250.0 C333.1,251.8 329.4,255.7 327.4,255.0 C325.4,254.3 321.1,247.8 321.4,246.0 Z" fill="#e32227" fill-opacity="0.8" filter="url(#b3)"/>
<path d="M305.4,262.0 C308.2,260.3 316.2,260.7 320.4,262.0 C324.6,263.3 329.6,267.0 330.4,270.0 C331.2,273.0 328.7,278.0 325.4,280.0 C322.1,282.0 314.1,283.3 310.4,282.0 C306.7,280.7 304.2,275.3 303.4,272.0 C302.6,268.7 302.6,263.7 305.4,262.0 Z" fill="#f6901e" fill-opacity="0.9" filter="url(#b3)"/>
<path d="M284.0,354.0 C284.4,354.5 284.6,355.3 284.5,356.1 C284.4,356.8 284.0,357.8 283.4,358.5 C282.9,359.3 282.1,360.0 281.2,360.6 C280.4,361.1 279.3,361.6 278.4,361.8 C277.5,361.9 276.5,361.9 275.8,361.7 C275.1,361.5 274.4,361.0 274.0,360.5 C273.7,359.9 273.5,359.1 273.6,358.3 C273.7,357.6 274.1,356.7 274.6,355.9 C275.2,355.2 276.0,354.4 276.8,353.8 C277.7,353.3 278.7,352.8 279.6,352.7 C280.5,352.5 281.5,352.5 282.3,352.7 C283.0,352.9 283.7,353.4 284.0,354.0 Z" fill="#e32227" fill-opacity="0.21" filter="url(#b3)"/>
<path d="M272.8,378.1 C273.4,378.4 274.0,378.9 274.3,379.6 C274.6,380.2 274.8,381.1 274.7,381.9 C274.7,382.7 274.4,383.7 274.1,384.5 C273.7,385.3 273.1,386.1 272.5,386.6 C271.8,387.2 271.0,387.6 270.3,387.7 C269.6,387.9 268.9,387.8 268.3,387.5 C267.7,387.3 267.1,386.7 266.8,386.1 C266.5,385.4 266.3,384.5 266.4,383.7 C266.4,382.9 266.6,381.9 267.0,381.1 C267.4,380.3 268.0,379.5 268.6,379.0 C269.3,378.4 270.1,378.0 270.8,377.9 C271.4,377.7 272.2,377.8 272.8,378.1 Z" fill="#ee5a24" fill-opacity="0.42" filter="url(#b3)"/>
<path d="M268.1,273.5 C268.5,273.8 268.9,274.4 269.1,274.9 C269.3,275.4 269.3,276.1 269.3,276.6 C269.2,277.2 268.9,277.7 268.5,278.2 C268.2,278.6 267.7,278.9 267.1,279.1 C266.6,279.3 266.0,279.3 265.4,279.2 C264.9,279.1 264.3,278.8 263.9,278.4 C263.4,278.1 263.0,277.5 262.8,277.0 C262.6,276.5 262.6,275.8 262.7,275.3 C262.8,274.7 263.0,274.2 263.4,273.8 C263.7,273.3 264.3,273.0 264.8,272.8 C265.3,272.6 265.9,272.6 266.5,272.7 C267.0,272.8 267.6,273.1 268.1,273.5 Z" fill="#a81b21" fill-opacity="0.43" filter="url(#b3)"/>
<path d="M279.8,277.4 C280.3,277.7 280.9,278.1 281.3,278.6 C281.7,279.0 282.0,279.5 282.1,279.9 C282.2,280.3 282.2,280.7 282.0,281.0 C281.9,281.3 281.5,281.5 281.1,281.6 C280.7,281.7 280.1,281.7 279.5,281.6 C278.9,281.4 278.3,281.1 277.7,280.8 C277.2,280.5 276.6,280.0 276.2,279.6 C275.8,279.2 275.5,278.7 275.4,278.3 C275.3,277.9 275.3,277.4 275.5,277.2 C275.6,276.9 276.0,276.6 276.4,276.5 C276.8,276.5 277.4,276.5 278.0,276.6 C278.5,276.8 279.2,277.0 279.8,277.4 Z" fill="#a81b21" fill-opacity="0.44" filter="url(#b3)"/>
<path d="M257.6,282.6 C257.7,282.8 257.7,283.2 257.5,283.6 C257.4,283.9 257.0,284.4 256.6,284.8 C256.2,285.1 255.7,285.5 255.1,285.8 C254.6,286.0 254.0,286.2 253.4,286.3 C252.9,286.4 252.4,286.4 252.0,286.3 C251.6,286.2 251.3,286.0 251.2,285.7 C251.0,285.4 251.0,285.1 251.2,284.7 C251.3,284.3 251.7,283.9 252.1,283.5 C252.5,283.2 253.0,282.8 253.6,282.5 C254.1,282.3 254.7,282.1 255.3,282.0 C255.8,281.9 256.4,281.9 256.7,282.0 C257.1,282.1 257.4,282.3 257.6,282.6 Z" fill="#e32227" fill-opacity="0.25" filter="url(#b3)"/>
<path d="M262.7,306.3 C262.9,306.4 263.1,306.6 263.3,306.9 C263.4,307.3 263.4,307.7 263.4,308.1 C263.4,308.6 263.2,309.1 263.0,309.5 C262.9,310.0 262.6,310.4 262.3,310.7 C262.0,311.1 261.6,311.3 261.3,311.4 C261.0,311.6 260.7,311.6 260.4,311.5 C260.2,311.4 259.9,311.1 259.8,310.8 C259.7,310.5 259.6,310.0 259.7,309.6 C259.7,309.2 259.8,308.7 260.0,308.2 C260.2,307.8 260.5,307.3 260.8,307.0 C261.1,306.7 261.4,306.4 261.8,306.3 C262.1,306.2 262.4,306.2 262.7,306.3 Z" fill="#ee5a24" fill-opacity="0.4" filter="url(#b3)"/>
<path d="M280.4,334.3 C280.6,334.5 280.7,334.8 280.5,335.3 C280.4,335.8 280.1,336.5 279.7,337.2 C279.3,337.9 278.7,338.8 278.2,339.5 C277.6,340.3 276.9,341.1 276.3,341.6 C275.7,342.2 275.1,342.7 274.7,342.9 C274.2,343.2 273.8,343.2 273.7,343.1 C273.5,342.9 273.4,342.5 273.6,342.1 C273.7,341.6 274.0,340.8 274.4,340.1 C274.8,339.4 275.4,338.6 275.9,337.8 C276.5,337.1 277.2,336.3 277.8,335.8 C278.4,335.2 279.0,334.7 279.4,334.5 C279.9,334.2 280.3,334.2 280.4,334.3 Z" fill="#ee5a24" fill-opacity="0.32" filter="url(#b3)"/>
<path d="M267.6,322.1 C267.7,322.3 267.5,322.7 267.2,323.0 C266.8,323.4 266.2,323.8 265.5,324.2 C264.8,324.6 263.8,325.1 262.9,325.4 C262.1,325.7 261.1,326.0 260.3,326.2 C259.5,326.4 258.7,326.5 258.2,326.5 C257.7,326.5 257.4,326.3 257.3,326.1 C257.2,325.9 257.4,325.6 257.7,325.2 C258.1,324.9 258.7,324.4 259.4,324.0 C260.2,323.6 261.1,323.2 262.0,322.8 C262.8,322.5 263.8,322.2 264.6,322.0 C265.4,321.8 266.2,321.7 266.7,321.7 C267.2,321.8 267.5,321.9 267.6,322.1 Z" fill="#a81b21" fill-opacity="0.44" filter="url(#b3)"/>
<path d="M267.7,310.6 C268.0,310.9 268.2,311.4 268.2,311.9 C268.3,312.4 268.1,313.2 267.9,313.8 C267.6,314.5 267.1,315.3 266.6,315.9 C266.1,316.5 265.5,317.1 264.9,317.5 C264.3,317.9 263.6,318.2 263.1,318.3 C262.6,318.4 262.1,318.3 261.7,318.0 C261.4,317.8 261.2,317.3 261.2,316.8 C261.2,316.2 261.3,315.5 261.6,314.9 C261.8,314.2 262.3,313.4 262.8,312.8 C263.3,312.2 264.0,311.6 264.5,311.2 C265.1,310.8 265.8,310.5 266.3,310.4 C266.9,310.3 267.4,310.4 267.7,310.6 Z" fill="#a81b21" fill-opacity="0.31" filter="url(#b3)"/>
<path d="M287.2,336.5 C287.5,336.6 287.5,337.1 287.4,337.7 C287.3,338.3 287.0,339.2 286.6,340.1 C286.2,341.0 285.5,342.1 284.9,343.0 C284.3,344.0 283.6,345.0 282.9,345.8 C282.3,346.6 281.6,347.2 281.1,347.6 C280.7,347.9 280.2,348.1 280.0,347.9 C279.8,347.8 279.7,347.3 279.8,346.8 C279.9,346.2 280.3,345.2 280.7,344.4 C281.1,343.5 281.7,342.3 282.3,341.4 C282.9,340.4 283.7,339.4 284.3,338.6 C284.9,337.9 285.6,337.2 286.1,336.8 C286.6,336.5 287.0,336.3 287.2,336.5 Z" fill="#ee5a24" fill-opacity="0.29" filter="url(#b3)"/>
<path d="M269.5,326.5 C269.6,326.7 269.6,327.1 269.3,327.5 C269.0,328.0 268.4,328.6 267.7,329.2 C267.1,329.7 266.2,330.4 265.4,330.9 C264.6,331.4 263.6,332.0 262.8,332.3 C262.0,332.7 261.2,332.9 260.7,333.0 C260.1,333.1 259.7,333.0 259.6,332.8 C259.5,332.6 259.6,332.2 259.9,331.7 C260.2,331.3 260.7,330.7 261.4,330.1 C262.0,329.5 262.9,328.9 263.7,328.4 C264.6,327.8 265.5,327.3 266.3,326.9 C267.1,326.6 267.9,326.3 268.4,326.3 C269.0,326.2 269.4,326.3 269.5,326.5 Z" fill="#ee5a24" fill-opacity="0.41" filter="url(#b3)"/>
<path d="M253.4,302.2 C253.9,302.6 254.3,303.3 254.5,304.0 C254.7,304.6 254.8,305.5 254.6,306.3 C254.4,307.1 254.0,308.0 253.5,308.7 C253.0,309.3 252.2,310.0 251.5,310.4 C250.8,310.7 250.0,311.0 249.3,311.0 C248.6,311.0 247.8,310.7 247.3,310.3 C246.8,309.9 246.3,309.3 246.1,308.6 C245.9,307.9 245.9,307.0 246.1,306.2 C246.2,305.5 246.7,304.6 247.2,303.9 C247.7,303.2 248.4,302.6 249.1,302.2 C249.8,301.8 250.7,301.6 251.4,301.6 C252.1,301.6 252.8,301.8 253.4,302.2 Z" fill="#e32227" fill-opacity="0.34" filter="url(#b3)"/>
<path d="M263.6,300.7 C263.8,300.8 264.0,301.0 264.1,301.3 C264.1,301.7 264.1,302.1 264.0,302.5 C264.0,302.9 263.8,303.5 263.5,303.9 C263.3,304.3 263.0,304.8 262.7,305.1 C262.4,305.4 262.1,305.7 261.8,305.8 C261.5,305.9 261.2,305.9 260.9,305.8 C260.7,305.7 260.6,305.4 260.5,305.1 C260.4,304.8 260.4,304.4 260.5,303.9 C260.6,303.5 260.8,303.0 261.0,302.6 C261.2,302.1 261.5,301.7 261.8,301.4 C262.1,301.1 262.5,300.8 262.8,300.7 C263.1,300.6 263.4,300.6 263.6,300.7 Z" fill="#e32227" fill-opacity="0.28" filter="url(#b3)"/>
<path d="M273.7,353.5 C273.9,353.9 274.0,354.5 274.0,355.0 C274.0,355.5 273.9,356.0 273.7,356.3 C273.5,356.7 273.1,357.0 272.7,357.2 C272.4,357.4 271.9,357.4 271.5,357.3 C271.1,357.2 270.6,357.0 270.2,356.7 C269.9,356.4 269.5,355.9 269.3,355.4 C269.1,355.0 269.0,354.4 269.0,353.9 C269.0,353.4 269.2,352.9 269.4,352.6 C269.6,352.2 269.9,351.9 270.3,351.7 C270.7,351.5 271.2,351.5 271.6,351.6 C272.0,351.7 272.5,351.9 272.8,352.2 C273.2,352.6 273.5,353.0 273.7,353.5 Z" fill="#a81b21" fill-opacity="0.26" filter="url(#b3)"/>
<path d="M362.7,315.1 C363.0,315.2 363.2,315.6 363.4,316.0 C363.5,316.5 363.6,317.1 363.5,317.8 C363.4,318.4 363.3,319.3 363.0,320.0 C362.8,320.6 362.4,321.4 362.0,321.9 C361.6,322.5 361.2,323.0 360.8,323.2 C360.4,323.5 359.9,323.5 359.6,323.4 C359.3,323.3 359.0,323.0 358.9,322.5 C358.8,322.1 358.7,321.4 358.8,320.8 C358.8,320.1 359.0,319.3 359.3,318.6 C359.5,317.9 359.9,317.2 360.3,316.6 C360.7,316.1 361.1,315.6 361.5,315.3 C361.9,315.1 362.3,315.0 362.7,315.1 Z" fill="#e32227" fill-opacity="0.35" filter="url(#b3)"/>
<path d="M332.4,278.1 C332.6,278.4 332.5,278.8 332.3,279.2 C332.1,279.6 331.6,280.1 331.1,280.5 C330.6,280.9 329.9,281.4 329.2,281.7 C328.6,282.0 327.8,282.3 327.1,282.5 C326.5,282.6 325.8,282.7 325.4,282.6 C324.9,282.5 324.6,282.3 324.5,282.0 C324.3,281.8 324.4,281.4 324.6,281.0 C324.8,280.6 325.2,280.1 325.8,279.7 C326.3,279.2 327.0,278.8 327.6,278.5 C328.3,278.1 329.1,277.8 329.7,277.7 C330.4,277.5 331.0,277.5 331.5,277.6 C331.9,277.6 332.3,277.8 332.4,278.1 Z" fill="#e32227" fill-opacity="0.33" filter="url(#b3)"/>
<path d="M317.3,303.3 C317.6,303.8 317.8,304.4 317.7,305.1 C317.7,305.8 317.3,306.6 316.9,307.3 C316.4,308.0 315.7,308.8 314.9,309.3 C314.2,309.9 313.3,310.4 312.5,310.6 C311.7,310.9 310.8,310.9 310.1,310.8 C309.4,310.7 308.8,310.4 308.5,309.9 C308.2,309.5 308.0,308.8 308.1,308.1 C308.1,307.4 308.5,306.6 308.9,305.9 C309.4,305.2 310.1,304.4 310.9,303.9 C311.6,303.3 312.5,302.9 313.3,302.6 C314.1,302.4 315.0,302.3 315.7,302.4 C316.4,302.5 317.0,302.9 317.3,303.3 Z" fill="#e32227" fill-opacity="0.37" filter="url(#b3)"/>
<path d="M366.8,294.2 C367.1,294.7 367.3,295.4 367.4,295.9 C367.5,296.5 367.4,297.1 367.3,297.5 C367.1,298.0 366.8,298.4 366.4,298.6 C366.1,298.8 365.6,298.8 365.1,298.8 C364.7,298.7 364.1,298.4 363.7,298.1 C363.3,297.7 362.8,297.2 362.5,296.7 C362.2,296.1 362.0,295.5 361.9,294.9 C361.8,294.4 361.9,293.8 362.0,293.3 C362.2,292.9 362.5,292.5 362.9,292.3 C363.2,292.1 363.7,292.0 364.2,292.1 C364.6,292.2 365.2,292.5 365.6,292.8 C366.1,293.2 366.5,293.7 366.8,294.2 Z" fill="#ee5a24" fill-opacity="0.37" filter="url(#b3)"/>
<path d="M360.8,307.8 C361.0,307.9 361.2,308.3 361.2,308.8 C361.2,309.4 361.1,310.2 360.9,311.1 C360.7,311.9 360.3,313.0 359.9,313.9 C359.5,314.8 359.0,315.8 358.6,316.6 C358.2,317.3 357.6,318.0 357.3,318.4 C356.9,318.8 356.5,319.0 356.3,318.9 C356.0,318.8 355.9,318.4 355.9,317.8 C355.9,317.3 356.0,316.5 356.2,315.6 C356.4,314.8 356.8,313.7 357.2,312.8 C357.5,311.8 358.0,310.8 358.5,310.1 C358.9,309.3 359.4,308.6 359.8,308.3 C360.2,307.9 360.6,307.7 360.8,307.8 Z" fill="#a81b21" fill-opacity="0.41" filter="url(#b3)"/>
<path d="M374.0,298.8 C374.2,299.0 374.2,299.5 374.0,300.0 C373.8,300.5 373.3,301.3 372.7,302.0 C372.1,302.7 371.3,303.5 370.5,304.2 C369.8,304.9 368.8,305.6 368.1,306.0 C367.3,306.5 366.5,306.9 365.9,307.0 C365.4,307.2 364.9,307.1 364.7,306.9 C364.5,306.7 364.6,306.2 364.8,305.7 C365.0,305.2 365.5,304.4 366.0,303.7 C366.6,303.0 367.4,302.2 368.2,301.5 C369.0,300.8 369.9,300.1 370.7,299.7 C371.4,299.2 372.2,298.8 372.8,298.7 C373.4,298.5 373.8,298.6 374.0,298.8 Z" fill="#e32227" fill-opacity="0.42" filter="url(#b3)"/>
<path d="M344.6,320.0 C344.8,320.2 344.9,320.7 344.8,321.2 C344.8,321.7 344.5,322.4 344.1,323.1 C343.7,323.7 343.2,324.5 342.6,325.2 C342.0,325.8 341.3,326.5 340.7,326.9 C340.1,327.4 339.4,327.8 338.9,327.9 C338.4,328.0 338.0,328.0 337.7,327.8 C337.5,327.6 337.4,327.1 337.5,326.6 C337.5,326.1 337.8,325.4 338.2,324.7 C338.6,324.1 339.1,323.3 339.7,322.6 C340.3,322.0 341.0,321.3 341.6,320.9 C342.2,320.4 342.9,320.0 343.4,319.9 C343.9,319.8 344.3,319.8 344.6,320.0 Z" fill="#ee5a24" fill-opacity="0.35" filter="url(#b3)"/>
<path d="M345.3,280.1 C345.6,280.3 345.8,280.7 345.9,281.3 C345.9,281.8 345.8,282.6 345.6,283.3 C345.3,284.1 344.9,285.0 344.5,285.8 C344.1,286.6 343.5,287.4 342.9,287.9 C342.4,288.5 341.8,289.0 341.3,289.2 C340.8,289.5 340.3,289.5 340.0,289.3 C339.7,289.2 339.5,288.7 339.4,288.2 C339.4,287.6 339.5,286.9 339.7,286.1 C339.9,285.4 340.3,284.4 340.8,283.7 C341.2,282.9 341.8,282.1 342.4,281.5 C342.9,280.9 343.5,280.4 344.0,280.2 C344.5,280.0 345.0,279.9 345.3,280.1 Z" fill="#ee5a24" fill-opacity="0.26" filter="url(#b3)"/>
<path d="M350.8,314.3 C351.2,314.5 351.5,315.1 351.5,315.7 C351.6,316.4 351.5,317.4 351.3,318.3 C351.0,319.2 350.5,320.3 350.0,321.2 C349.5,322.2 348.8,323.1 348.1,323.8 C347.5,324.5 346.7,325.1 346.1,325.4 C345.5,325.6 344.9,325.6 344.5,325.4 C344.1,325.2 343.8,324.7 343.7,324.0 C343.6,323.3 343.7,322.4 344.0,321.5 C344.2,320.6 344.7,319.4 345.2,318.5 C345.7,317.6 346.4,316.6 347.1,315.9 C347.8,315.2 348.5,314.6 349.1,314.4 C349.7,314.1 350.4,314.1 350.8,314.3 Z" fill="#a81b21" fill-opacity="0.2" filter="url(#b3)"/>
<path d="M332.6,319.3 C332.8,319.6 333.0,320.0 333.0,320.5 C332.9,321.1 332.7,321.8 332.4,322.5 C332.1,323.2 331.6,324.0 331.0,324.6 C330.5,325.3 329.8,326.0 329.2,326.5 C328.6,326.9 327.9,327.3 327.4,327.4 C326.9,327.6 326.4,327.5 326.2,327.3 C325.9,327.1 325.7,326.6 325.8,326.1 C325.8,325.6 326.0,324.8 326.3,324.2 C326.7,323.5 327.2,322.7 327.7,322.0 C328.3,321.3 328.9,320.6 329.5,320.2 C330.1,319.7 330.8,319.4 331.3,319.2 C331.8,319.1 332.3,319.1 332.6,319.3 Z" fill="#ee5a24" fill-opacity="0.27" filter="url(#b3)"/>
<path d="M356.0,301.9 C356.2,302.4 356.2,303.0 356.1,303.5 C356.0,304.0 355.8,304.5 355.5,304.9 C355.2,305.3 354.7,305.6 354.3,305.7 C353.8,305.9 353.2,306.0 352.7,305.9 C352.3,305.8 351.7,305.5 351.4,305.2 C351.0,304.9 350.7,304.4 350.5,304.0 C350.3,303.5 350.3,302.9 350.3,302.4 C350.4,301.9 350.7,301.4 351.0,301.0 C351.3,300.6 351.8,300.3 352.2,300.1 C352.7,300.0 353.2,299.9 353.7,300.0 C354.2,300.1 354.7,300.4 355.1,300.7 C355.5,301.0 355.8,301.5 356.0,301.9 Z" fill="#a81b21" fill-opacity="0.45" filter="url(#b3)"/>
<path d="M373.6,308.8 C373.8,309.1 373.8,309.7 373.5,310.3 C373.2,310.9 372.6,311.6 371.8,312.2 C371.1,312.9 370.1,313.6 369.2,314.1 C368.2,314.6 367.1,315.1 366.2,315.3 C365.3,315.6 364.3,315.7 363.7,315.6 C363.0,315.6 362.5,315.3 362.3,314.9 C362.1,314.5 362.2,314.0 362.5,313.4 C362.7,312.8 363.4,312.1 364.1,311.4 C364.8,310.8 365.8,310.1 366.8,309.6 C367.7,309.1 368.8,308.6 369.8,308.4 C370.7,308.1 371.6,308.0 372.3,308.1 C372.9,308.1 373.4,308.4 373.6,308.8 Z" fill="#a81b21" fill-opacity="0.33" filter="url(#b3)"/>
<path d="M275.0,259.4 C275.2,259.6 275.2,260.0 275.0,260.4 C274.8,260.9 274.4,261.5 274.0,262.1 C273.5,262.7 272.8,263.5 272.2,264.1 C271.5,264.7 270.8,265.3 270.1,265.7 C269.5,266.2 268.8,266.5 268.4,266.7 C267.9,266.8 267.5,266.8 267.4,266.6 C267.2,266.5 267.2,266.1 267.4,265.6 C267.6,265.2 268.0,264.6 268.5,263.9 C268.9,263.3 269.6,262.6 270.2,262.0 C270.9,261.4 271.7,260.8 272.3,260.3 C272.9,259.9 273.6,259.6 274.0,259.4 C274.5,259.3 274.9,259.3 275.0,259.4 Z" fill="#fbc019" fill-opacity="0.4" filter="url(#b3)"/>
<path d="M260.0,328.6 C260.2,329.0 260.3,329.6 260.3,330.0 C260.3,330.5 260.1,331.0 259.9,331.3 C259.7,331.7 259.4,332.0 259.0,332.1 C258.7,332.3 258.2,332.3 257.8,332.2 C257.4,332.1 257.0,331.9 256.6,331.6 C256.3,331.3 256.0,330.8 255.8,330.4 C255.6,329.9 255.5,329.4 255.5,328.9 C255.5,328.4 255.7,328.0 255.9,327.6 C256.1,327.2 256.4,326.9 256.8,326.8 C257.1,326.7 257.6,326.6 258.0,326.7 C258.4,326.8 258.8,327.1 259.2,327.4 C259.5,327.7 259.8,328.1 260.0,328.6 Z" fill="#ee5a24" fill-opacity="0.41" filter="url(#b3)"/>
<path d="M228.4,377.4 C228.6,377.5 228.8,377.8 228.9,378.2 C229.0,378.5 229.0,379.1 228.9,379.6 C228.8,380.1 228.6,380.7 228.3,381.2 C228.1,381.7 227.7,382.3 227.4,382.7 C227.0,383.1 226.6,383.4 226.3,383.5 C225.9,383.7 225.6,383.7 225.3,383.6 C225.1,383.5 224.9,383.2 224.8,382.8 C224.7,382.5 224.7,381.9 224.8,381.4 C224.9,380.9 225.1,380.3 225.4,379.8 C225.6,379.3 226.0,378.7 226.3,378.3 C226.7,377.9 227.1,377.6 227.4,377.5 C227.8,377.3 228.1,377.3 228.4,377.4 Z" fill="#fbc019" fill-opacity="0.39" filter="url(#b3)"/>
<path d="M330.6,250.7 C330.8,250.8 331.0,251.2 331.1,251.7 C331.1,252.1 331.1,252.8 330.9,253.5 C330.8,254.2 330.5,255.1 330.1,255.8 C329.8,256.6 329.3,257.4 328.9,258.0 C328.5,258.5 328.0,259.0 327.6,259.3 C327.2,259.6 326.7,259.6 326.5,259.5 C326.2,259.4 326.0,259.0 326.0,258.6 C325.9,258.1 326.0,257.4 326.1,256.7 C326.3,256.0 326.6,255.1 326.9,254.4 C327.3,253.6 327.7,252.8 328.2,252.3 C328.6,251.7 329.1,251.2 329.5,250.9 C329.9,250.7 330.3,250.6 330.6,250.7 Z" fill="#ee5a24" fill-opacity="0.27" filter="url(#b3)"/>
<path d="M330.7,306.4 C331.0,306.7 331.3,307.2 331.4,307.7 C331.6,308.2 331.5,308.9 331.4,309.4 C331.2,309.9 330.8,310.5 330.4,311.0 C330.0,311.4 329.5,311.8 328.9,312.0 C328.4,312.2 327.8,312.3 327.3,312.3 C326.7,312.2 326.2,311.9 325.8,311.6 C325.5,311.3 325.2,310.8 325.1,310.3 C325.0,309.7 325.0,309.1 325.2,308.6 C325.3,308.0 325.7,307.4 326.1,307.0 C326.5,306.5 327.1,306.1 327.6,305.9 C328.1,305.7 328.8,305.6 329.3,305.7 C329.8,305.8 330.3,306.0 330.7,306.4 Z" fill="#fbc019" fill-opacity="0.31" filter="url(#b3)"/>
<path d="M249.9,365.7 C250.1,366.0 250.3,366.4 250.4,366.7 C250.5,367.1 250.4,367.5 250.3,367.9 C250.2,368.2 249.9,368.6 249.7,368.9 C249.4,369.2 249.0,369.5 248.6,369.6 C248.2,369.7 247.8,369.7 247.4,369.7 C247.1,369.6 246.7,369.4 246.5,369.2 C246.2,368.9 246.0,368.5 245.9,368.2 C245.9,367.8 245.9,367.4 246.0,367.0 C246.1,366.7 246.4,366.3 246.7,366.0 C247.0,365.7 247.3,365.4 247.7,365.3 C248.1,365.2 248.5,365.2 248.9,365.2 C249.2,365.3 249.6,365.5 249.9,365.7 Z" fill="#fbc019" fill-opacity="0.43" filter="url(#b3)"/>
<path d="M273.0,349.8 C273.3,350.1 273.6,350.7 273.6,351.3 C273.6,351.9 273.5,352.6 273.2,353.3 C272.8,354.0 272.3,354.8 271.8,355.4 C271.2,356.0 270.4,356.6 269.8,357.0 C269.1,357.3 268.3,357.6 267.8,357.6 C267.2,357.6 266.6,357.4 266.2,357.1 C265.9,356.7 265.6,356.2 265.6,355.6 C265.6,355.0 265.7,354.2 266.0,353.5 C266.4,352.8 266.9,352.0 267.4,351.4 C268.0,350.8 268.8,350.2 269.4,349.9 C270.1,349.5 270.9,349.3 271.4,349.3 C272.0,349.2 272.6,349.4 273.0,349.8 Z" fill="#f6901e" fill-opacity="0.49" filter="url(#b3)"/>
<path d="M297.1,346.8 C297.4,347.3 297.7,347.8 297.8,348.3 C298.0,348.8 298.0,349.4 297.9,349.8 C297.8,350.2 297.6,350.6 297.3,350.9 C297.0,351.1 296.5,351.2 296.1,351.2 C295.7,351.2 295.1,351.0 294.7,350.8 C294.2,350.5 293.8,350.1 293.4,349.7 C293.1,349.2 292.8,348.7 292.7,348.2 C292.5,347.7 292.5,347.1 292.6,346.7 C292.7,346.3 292.9,345.9 293.2,345.6 C293.5,345.4 294.0,345.3 294.4,345.3 C294.9,345.3 295.4,345.5 295.8,345.7 C296.3,346.0 296.7,346.4 297.1,346.8 Z" fill="#ee5a24" fill-opacity="0.46" filter="url(#b3)"/>
<path d="M268.6,298.1 C268.7,298.3 268.7,298.6 268.6,299.1 C268.4,299.5 268.0,300.2 267.6,300.8 C267.1,301.5 266.5,302.3 265.9,302.9 C265.3,303.6 264.5,304.3 263.9,304.7 C263.3,305.2 262.7,305.7 262.2,305.9 C261.8,306.1 261.4,306.1 261.3,305.9 C261.1,305.8 261.1,305.4 261.3,305.0 C261.5,304.5 261.9,303.9 262.3,303.2 C262.8,302.6 263.4,301.8 264.0,301.2 C264.6,300.5 265.4,299.8 266.0,299.3 C266.6,298.8 267.2,298.4 267.6,298.2 C268.1,298.0 268.4,298.0 268.6,298.1 Z" fill="#f6901e" fill-opacity="0.4" filter="url(#b3)"/>
<path d="M300.6,271.6 C301.0,272.0 301.4,272.5 301.6,273.0 C301.8,273.6 301.9,274.2 301.8,274.8 C301.7,275.4 301.4,276.0 301.0,276.4 C300.6,276.9 300.1,277.2 299.6,277.4 C299.0,277.6 298.4,277.7 297.8,277.6 C297.2,277.5 296.6,277.2 296.2,276.9 C295.7,276.5 295.4,275.9 295.2,275.4 C295.0,274.9 294.9,274.2 295.0,273.6 C295.1,273.1 295.4,272.5 295.8,272.0 C296.1,271.6 296.7,271.2 297.2,271.0 C297.8,270.8 298.4,270.7 299.0,270.8 C299.6,270.9 300.2,271.2 300.6,271.6 Z" fill="#fbc019" fill-opacity="0.27" filter="url(#b3)"/>
<path d="M297.0,326.3 C297.3,326.9 297.3,327.6 297.1,328.3 C296.8,329.0 296.3,329.9 295.6,330.6 C294.9,331.3 293.9,332.0 292.9,332.5 C292.0,333.0 290.8,333.3 289.8,333.5 C288.9,333.6 287.8,333.6 287.1,333.3 C286.4,333.1 285.8,332.6 285.5,332.1 C285.3,331.6 285.2,330.8 285.5,330.1 C285.7,329.4 286.3,328.5 287.0,327.8 C287.7,327.1 288.7,326.4 289.6,325.9 C290.6,325.5 291.7,325.1 292.7,324.9 C293.7,324.8 294.7,324.8 295.4,325.1 C296.1,325.3 296.7,325.8 297.0,326.3 Z" fill="#fbc019" fill-opacity="0.43" filter="url(#b3)"/>
<path d="M282.2,274.8 C282.4,275.1 282.5,275.4 282.4,275.7 C282.4,276.0 282.3,276.4 282.1,276.7 C281.9,277.0 281.6,277.4 281.3,277.6 C280.9,277.9 280.5,278.1 280.2,278.2 C279.8,278.3 279.4,278.3 279.1,278.2 C278.8,278.2 278.5,278.0 278.3,277.8 C278.2,277.5 278.1,277.2 278.1,276.9 C278.1,276.6 278.2,276.2 278.4,275.9 C278.6,275.6 279.0,275.2 279.3,275.0 C279.6,274.7 280.0,274.5 280.4,274.4 C280.7,274.3 281.1,274.3 281.4,274.4 C281.7,274.5 282.0,274.6 282.2,274.8 Z" fill="#f6901e" fill-opacity="0.37" filter="url(#b3)"/>
<path d="M314.9,280.0 C315.2,280.3 315.5,280.7 315.7,281.0 C315.9,281.4 316.0,281.8 316.0,282.1 C315.9,282.5 315.8,282.9 315.6,283.1 C315.4,283.4 315.0,283.6 314.7,283.7 C314.4,283.8 313.9,283.8 313.5,283.8 C313.2,283.7 312.7,283.5 312.4,283.2 C312.1,282.9 311.8,282.6 311.6,282.2 C311.4,281.9 311.3,281.4 311.4,281.1 C311.4,280.7 311.5,280.4 311.7,280.1 C311.9,279.8 312.3,279.6 312.6,279.5 C313.0,279.4 313.4,279.4 313.8,279.5 C314.2,279.6 314.6,279.8 314.9,280.0 Z" fill="#ee5a24" fill-opacity="0.33" filter="url(#b3)"/>
<path d="M245.1,376.9 C245.4,377.4 245.5,378.1 245.2,378.8 C245.0,379.5 244.5,380.3 243.8,381.1 C243.1,381.8 242.1,382.7 241.2,383.3 C240.3,383.9 239.1,384.5 238.1,384.8 C237.2,385.1 236.2,385.2 235.4,385.1 C234.7,385.1 234.1,384.7 233.8,384.3 C233.5,383.9 233.5,383.2 233.7,382.5 C233.9,381.8 234.5,380.9 235.2,380.2 C235.8,379.4 236.8,378.6 237.8,378.0 C238.7,377.4 239.9,376.8 240.8,376.5 C241.8,376.2 242.8,376.0 243.5,376.1 C244.2,376.2 244.9,376.5 245.1,376.9 Z" fill="#fbc019" fill-opacity="0.47" filter="url(#b3)"/>
<path d="M213.4,330.0 C215.2,322.8 219.1,321.2 221.4,322.0 C223.7,322.8 226.4,327.0 227.4,335.0 C228.4,343.0 226.9,359.2 227.4,370.0 C227.9,380.8 228.2,393.0 230.4,400.0 C232.6,407.0 237.2,408.7 240.4,412.0 C243.6,415.3 247.9,416.3 249.4,420.0 C250.9,423.7 255.1,431.7 249.4,434.0 C243.7,436.3 221.7,439.7 215.4,434.0 C209.1,428.3 212.2,411.5 211.4,400.0 C210.6,388.5 210.1,376.7 210.4,365.0 C210.7,353.3 211.6,337.2 213.4,330.0 Z" fill="#a6cf55" fill-opacity="0.75" filter="url(#b4)"/>
<path d="M193.4,335.0 C195.7,323.3 200.6,322.0 203.4,322.0 C206.2,322.0 209.2,327.0 210.4,335.0 C211.6,343.0 209.9,359.2 210.4,370.0 C210.9,380.8 211.7,390.8 213.4,400.0 C215.1,409.2 222.6,423.0 220.4,425.0 C218.2,427.0 205.6,417.5 200.4,412.0 C195.2,406.5 190.6,404.8 189.4,392.0 C188.2,379.2 191.1,346.7 193.4,335.0 Z" fill="#3460ae" fill-opacity="0.8" filter="url(#b8)"/>
<path d="M356.4,300.0 C360.4,295.8 372.7,292.0 375.4,293.0 C378.1,294.0 373.9,301.2 372.4,306.0 C370.9,310.8 369.2,317.8 366.4,322.0 C363.6,326.2 357.9,331.7 355.4,331.0 C352.9,330.3 351.2,323.2 351.4,318.0 C351.6,312.8 352.4,304.2 356.4,300.0 Z" fill="#a81b21" filter="url(#b3)"/>
<path d="M360.4,302.0 C362.9,298.2 370.2,295.5 371.4,297.0 C372.6,298.5 369.1,306.5 367.4,311.0 C365.7,315.5 363.2,322.5 361.4,324.0 C359.6,325.5 356.6,323.7 356.4,320.0 C356.2,316.3 357.9,305.8 360.4,302.0 Z" fill="#7d1518" fill-opacity="0.85" filter="url(#b2)"/>
<path d="M377.4,286.0 C380.4,283.0 388.4,286.3 393.4,288.0 C398.4,289.7 406.1,292.7 407.4,296.0 C408.7,299.3 405.1,305.0 401.4,308.0 C397.7,311.0 389.7,314.3 385.4,314.0 C381.1,313.7 376.7,310.7 375.4,306.0 C374.1,301.3 374.4,289.0 377.4,286.0 Z" fill="#6cc5b4" fill-opacity="0.85" filter="url(#b4)"/>
<path d="M375.4,288.0 C377.4,286.3 383.1,288.3 385.4,290.0 C387.7,291.7 390.1,295.7 389.4,298.0 C388.7,300.3 384.1,303.7 381.4,304.0 C378.7,304.3 374.4,302.7 373.4,300.0 C372.4,297.3 373.4,289.7 375.4,288.0 Z" fill="#cfdd2c" fill-opacity="0.7" filter="url(#b4)"/>
<path d="M263.4,328.0 C263.4,330.3 262.6,333.0 261.3,335.0 C259.9,337.0 257.7,339.0 255.4,340.1 C253.1,341.3 250.1,342.0 247.4,342.0 C244.7,342.0 241.7,341.3 239.4,340.1 C237.1,339.0 234.9,337.0 233.5,335.0 C232.2,333.0 231.4,330.3 231.4,328.0 C231.4,325.7 232.2,323.0 233.5,321.0 C234.9,319.0 237.1,317.0 239.4,315.9 C241.7,314.7 244.7,314.0 247.4,314.0 C250.1,314.0 253.1,314.7 255.4,315.9 C257.7,317.0 259.9,319.0 261.3,321.0 C262.6,323.0 263.4,325.7 263.4,328.0 Z" fill="#fbc019" fill-opacity="0.8" filter="url(#b4)"/>
<path d="M259.7,333.5 C259.7,334.6 259.3,335.8 258.7,336.8 C258.1,337.7 257.1,338.6 256.0,339.1 C255.0,339.7 253.6,340.0 252.4,340.0 C251.2,340.0 249.8,339.7 248.8,339.1 C247.7,338.6 246.7,337.7 246.1,336.8 C245.5,335.8 245.1,334.6 245.1,333.5 C245.1,332.4 245.5,331.2 246.1,330.2 C246.7,329.3 247.7,328.4 248.8,327.9 C249.8,327.3 251.2,327.0 252.4,327.0 C253.6,327.0 255.0,327.3 256.0,327.9 C257.1,328.4 258.1,329.3 258.7,330.2 C259.3,331.2 259.7,332.4 259.7,333.5 Z" fill="#262874" filter="url(#b1)"/>
<path d="M241.4,321.5 C241.4,322.2 241.2,322.9 240.9,323.5 C240.5,324.1 240.0,324.6 239.4,325.0 C238.8,325.3 238.1,325.5 237.4,325.5 C236.7,325.5 236.0,325.3 235.4,325.0 C234.8,324.6 234.3,324.1 233.9,323.5 C233.6,322.9 233.4,322.2 233.4,321.5 C233.4,320.8 233.6,320.1 233.9,319.5 C234.3,318.9 234.8,318.4 235.4,318.0 C236.0,317.7 236.7,317.5 237.4,317.5 C238.1,317.5 238.8,317.7 239.4,318.0 C240.0,318.4 240.5,318.9 240.9,319.5 C241.2,320.1 241.4,320.8 241.4,321.5 Z" fill="#f3e523" fill-opacity="0.9" filter="url(#b2)"/>
<path d="M277.9,302.7 C277.6,303.5 276.9,304.3 276.1,304.7 C275.2,305.2 273.9,305.4 272.7,305.4 C271.5,305.4 269.9,305.2 268.7,304.7 C267.4,304.2 266.1,303.5 265.2,302.7 C264.2,301.9 263.4,300.9 263.0,300.0 C262.7,299.1 262.6,298.0 262.9,297.3 C263.2,296.5 263.9,295.7 264.7,295.3 C265.6,294.8 266.9,294.6 268.1,294.6 C269.3,294.6 270.9,294.8 272.1,295.3 C273.4,295.8 274.7,296.5 275.6,297.3 C276.6,298.1 277.4,299.1 277.8,300.0 C278.1,300.9 278.2,302.0 277.9,302.7 Z" fill="#a81b21" fill-opacity="0.25" filter="url(#b4)"/>
<path d="M286.4,340.0 C286.4,341.3 286.1,342.8 285.6,344.0 C285.1,345.2 284.3,346.3 283.4,346.9 C282.5,347.6 281.4,348.0 280.4,348.0 C279.4,348.0 278.3,347.6 277.4,346.9 C276.5,346.3 275.7,345.2 275.2,344.0 C274.7,342.8 274.4,341.3 274.4,340.0 C274.4,338.7 274.7,337.2 275.2,336.0 C275.7,334.8 276.5,333.7 277.4,333.1 C278.3,332.4 279.4,332.0 280.4,332.0 C281.4,332.0 282.5,332.4 283.4,333.1 C284.3,333.7 285.1,334.8 285.6,336.0 C286.1,337.2 286.4,338.7 286.4,340.0 Z" fill="#a81b21" fill-opacity="0.2" filter="url(#b4)"/>
<path d="M339.7,302.5 C340.4,303.7 340.9,305.1 341.1,306.3 C341.4,307.5 341.3,308.8 341.0,309.8 C340.7,310.7 340.1,311.5 339.4,311.9 C338.7,312.3 337.7,312.5 336.7,312.2 C335.7,312.0 334.6,311.4 333.6,310.6 C332.7,309.8 331.7,308.7 331.1,307.5 C330.4,306.3 329.9,304.9 329.6,303.7 C329.4,302.5 329.5,301.2 329.8,300.2 C330.1,299.3 330.7,298.5 331.4,298.1 C332.1,297.7 333.1,297.5 334.1,297.8 C335.1,298.0 336.2,298.6 337.1,299.4 C338.1,300.2 339.1,301.3 339.7,302.5 Z" fill="#a81b21" fill-opacity="0.3" filter="url(#b4)"/>
<path d="M272.4,365.0 C272.4,365.8 272.0,366.8 271.5,367.5 C270.9,368.2 269.9,368.9 268.9,369.3 C267.9,369.7 266.6,370.0 265.4,370.0 C264.2,370.0 262.9,369.7 261.9,369.3 C260.9,368.9 259.9,368.2 259.3,367.5 C258.8,366.8 258.4,365.8 258.4,365.0 C258.4,364.2 258.8,363.2 259.3,362.5 C259.9,361.8 260.9,361.1 261.9,360.7 C262.9,360.3 264.2,360.0 265.4,360.0 C266.6,360.0 267.9,360.3 268.9,360.7 C269.9,361.1 270.9,361.8 271.5,362.5 C272.0,363.2 272.4,364.2 272.4,365.0 Z" fill="#ee5a24" fill-opacity="0.5" filter="url(#b4)"/><path d="M214.5,124.7 L214.1,125.9 L213.6,127.0 L212.9,128.1 L212.0,129.0 L210.8,129.5 L209.5,129.6 L208.2,129.4 L207.0,129.0 L205.8,128.4 L204.8,127.4 L204.2,126.1 L204.2,124.7 L204.6,123.4 L205.2,122.2 L205.9,121.1 L206.9,120.2 L208.2,119.7 L209.5,119.7 L210.8,120.0 L211.9,120.5 L213.1,121.1 L214.1,122.1 L214.6,123.3Z M213.1,124.7 L213.2,125.7 L212.9,126.6 L212.1,127.3 L211.3,127.8 L210.4,128.2 L209.5,128.4 L208.5,128.4 L207.7,127.9 L207.2,127.0 L206.9,126.2 L206.7,125.5 L206.4,124.7 L206.4,123.9 L206.7,123.1 L207.3,122.5 L208.0,122.0 L208.7,121.6 L209.5,121.2 L210.5,121.1 L211.4,121.5 L212.0,122.2 L212.4,123.0 L212.8,123.8Z M212.0,120.9 L212.9,121.3 L214.0,122.2 L215.5,123.1 L217.1,123.9 L218.2,124.6 L219.3,125.7 L220.3,126.6 L221.4,127.3 L222.3,127.9 L222.3,129.4 L221.3,130.5 L220.0,130.9 L219.0,131.0 L217.6,130.9 L216.2,130.4 L215.1,129.5 L214.1,128.8 L212.6,128.4 L211.4,128.1 L210.8,127.1 L211.0,125.9 L211.3,124.5 L211.3,123.0 L211.4,121.7Z M218.1,127.4 L219.3,126.5 L220.3,125.9 L221.4,125.6 L222.7,125.7 L224.0,125.8 L225.3,125.5 L226.7,125.1 L228.1,125.1 L229.6,125.4 L231.0,125.5 L232.5,125.2 L233.9,125.0 L235.2,125.1 L236.6,125.4 L237.8,125.5 L239.0,125.2 L240.2,125.0 L241.5,125.2 L242.8,125.5 L244.0,125.4 L245.4,125.0 L246.7,124.7 L247.9,124.8 L249.2,124.9 L250.5,124.7 L251.8,124.2 L253.0,124.0 L254.2,124.3 L255.3,124.5 L256.6,124.5 L258.0,124.3 L259.3,124.6 L260.5,125.2 L261.7,125.8 L263.0,126.0 L264.3,126.1 L265.5,126.5 L266.6,127.3 L267.6,127.8 L268.8,127.9 L269.9,127.9 L271.0,128.3 L272.4,129.1 L273.9,129.6 L275.4,129.9 L276.9,130.3 L278.1,131.1 L279.1,132.2 L280.1,133.2 L281.3,134.0 L282.3,135.2 L282.7,136.7 L282.9,138.3 L283.2,139.7 L283.7,141.1 L283.9,142.5 L283.6,143.9 L283.2,145.2 L282.9,146.6 L282.6,148.0 L281.8,149.3 L280.8,150.3 L279.7,151.2 L279.0,152.4 L278.5,153.5 L277.6,154.5 L276.5,155.3 L275.4,156.1 L274.3,157.2 L272.9,158.3 L271.2,158.9 L270.0,158.9 L268.9,159.2 L267.7,159.8 L266.5,160.3 L265.1,160.4 L263.7,160.2 L262.2,160.3 L260.8,160.6 L259.3,160.7 L257.9,160.3 L256.5,159.6 L255.3,159.2 L254.1,158.9 L252.9,158.4 L251.9,157.5 L250.9,156.6 L249.8,156.0 L248.6,155.7 L247.4,155.1 L246.5,154.3 L245.4,153.5 L244.1,153.2 L242.8,153.1 L241.6,152.7 L240.5,151.9 L239.3,151.3 L238.0,150.9 L236.6,150.6 L235.4,149.8 L234.4,148.9 L233.4,148.0 L232.3,147.4 L231.2,146.8 L230.3,145.9 L229.7,144.9 L229.0,144.2 L227.6,143.5 L226.4,142.9 L225.4,142.1 L224.4,141.2 L223.4,140.6 L222.1,140.2 L221.0,139.5 L220.2,138.5 L219.3,137.1 L218.1,135.6 L216.8,134.0 L216.0,131.9 L216.5,129.2Z M219.2,128.5 L220.2,128.2 L221.1,128.1 L222.1,127.8 L223.1,127.3 L224.3,127.0 L225.5,126.8 L226.9,126.6 L228.2,126.1 L229.6,125.6 L231.0,125.2 L232.5,125.2 L233.9,125.2 L235.2,125.0 L236.5,124.8 L237.7,125.0 L239.0,125.4 L240.2,125.8 L241.5,125.9 L242.7,126.1 L244.0,126.4 L245.2,126.8 L246.5,127.0 L247.8,126.8 L249.0,126.7 L250.3,126.7 L251.5,126.8 L252.7,126.6 L254.0,126.3 L255.1,126.1 L256.4,126.3 L257.7,126.5 L259.0,126.6 L260.3,126.6 L261.6,126.8 L262.8,127.3 L264.0,127.7 L265.2,127.9 L266.4,128.0 L267.6,128.2 L268.6,128.6 L269.7,128.9 L270.8,128.9 L272.4,129.1 L273.9,129.6 L275.2,130.4 L276.4,131.1 L277.7,131.7 L278.8,132.5 L279.6,133.6 L280.1,135.0 L280.6,136.2 L281.1,137.4 L281.5,138.8 L281.6,140.2 L281.5,141.5 L281.6,142.7 L281.9,143.9 L282.1,145.0 L281.8,146.2 L281.4,147.4 L280.9,148.6 L280.5,150.0 L279.8,151.3 L278.9,152.2 L278.0,153.0 L277.1,154.0 L276.3,155.0 L275.2,155.8 L273.8,156.3 L272.3,156.6 L270.7,157.1 L269.7,157.5 L268.6,157.6 L267.3,157.6 L266.1,157.8 L264.8,158.2 L263.5,158.6 L262.2,158.8 L260.8,158.8 L259.4,158.8 L258.0,158.9 L256.6,158.8 L255.5,158.4 L254.4,157.7 L253.3,157.2 L252.2,156.7 L251.1,156.2 L250.1,155.4 L249.1,154.5 L248.0,154.0 L246.8,153.6 L245.6,153.2 L244.5,152.6 L243.3,152.0 L242.1,151.7 L240.7,151.5 L239.5,151.1 L238.4,150.3 L237.3,149.5 L236.1,148.9 L234.9,148.3 L233.9,147.4 L233.1,146.3 L232.2,145.3 L231.3,144.6 L230.4,143.9 L229.7,143.2 L228.6,142.1 L227.4,141.2 L226.1,140.8 L224.9,140.4 L223.9,139.8 L223.1,139.1 L222.1,138.4 L221.1,137.8 L220.0,136.6 L219.1,135.1 L218.4,133.3 L218.0,131.6 L218.1,129.8Z M219.9,129.2 L220.8,129.4 L221.6,129.3 L222.5,129.2 L223.6,129.3 L224.7,129.5 L226.0,129.5 L227.2,129.1 L228.5,128.6 L229.9,128.3 L231.3,128.1 L232.6,127.6 L234.0,127.0 L235.3,126.4 L236.6,126.1 L237.8,126.1 L239.0,125.9 L240.2,125.7 L241.5,125.6 L242.7,125.9 L244.0,126.3 L245.3,126.5 L246.5,126.5 L247.8,126.7 L249.0,127.1 L250.2,127.5 L251.4,127.6 L252.7,127.5 L253.8,127.6 L255.0,127.9 L256.2,128.2 L257.5,128.3 L258.9,128.3 L260.1,128.5 L261.3,129.0 L262.5,129.4 L263.8,129.5 L264.9,129.5 L266.1,129.8 L267.1,130.2 L268.2,130.5 L269.2,130.4 L270.3,130.3 L271.8,130.7 L273.2,131.2 L274.5,131.6 L275.9,131.9 L277.2,132.4 L278.2,133.3 L278.9,134.3 L279.7,135.3 L280.4,136.3 L280.9,137.5 L281.0,138.9 L281.0,140.3 L281.1,141.6 L281.3,142.8 L281.3,143.9 L281.0,144.8 L280.7,145.8 L280.5,146.9 L280.2,148.1 L279.5,149.2 L278.6,150.1 L277.8,151.1 L277.1,152.1 L276.3,153.2 L275.4,154.0 L274.2,154.5 L273.1,154.9 L271.8,155.5 L270.3,155.9 L269.3,155.8 L268.1,155.6 L267.0,155.7 L265.8,156.1 L264.6,156.4 L263.3,156.5 L262.0,156.6 L260.8,156.9 L259.4,157.4 L258.1,157.7 L256.9,157.6 L255.7,157.3 L254.5,157.2 L253.3,157.1 L252.2,156.7 L251.1,156.0 L250.1,155.2 L249.1,154.7 L247.9,154.1 L246.9,153.4 L246.0,152.5 L245.0,151.6 L243.8,151.1 L242.7,150.7 L241.7,150.0 L240.7,149.1 L239.6,148.4 L238.4,147.8 L237.2,147.2 L236.2,146.4 L235.3,145.4 L234.3,144.6 L233.2,144.0 L232.1,143.4 L231.3,142.7 L230.5,141.9 L229.1,141.2 L227.7,140.7 L226.4,140.3 L225.4,139.8 L224.4,139.2 L223.3,138.8 L222.2,138.4 L221.2,137.7 L220.4,136.3 L219.5,134.8 L218.7,133.2 L218.2,131.6 L218.6,130.0Z M221.6,130.9 L221.5,130.8 L221.9,130.2 L222.6,129.7 L223.6,129.5 L224.7,129.2 L225.8,128.7 L227.1,128.2 L228.4,128.1 L229.9,128.3 L231.3,128.4 L232.7,128.3 L234.1,128.2 L235.4,128.4 L236.7,128.7 L237.8,128.8 L239.0,128.5 L240.2,128.3 L241.4,128.5 L242.6,128.7 L243.9,128.6 L245.1,128.4 L246.4,128.3 L247.6,128.5 L248.9,128.8 L250.1,128.8 L251.3,128.6 L252.5,128.6 L253.7,129.0 L254.8,129.3 L256.1,129.4 L257.4,129.4 L258.7,129.6 L259.9,130.1 L261.1,130.6 L262.4,130.7 L263.6,130.6 L264.7,130.9 L265.8,131.2 L266.9,131.4 L268.0,131.2 L269.1,131.0 L270.0,131.2 L271.4,131.8 L272.7,132.3 L274.0,132.6 L275.2,133.2 L276.0,134.1 L276.6,135.1 L277.1,136.0 L277.8,136.7 L278.3,137.6 L278.6,138.6 L278.8,139.7 L279.4,140.7 L280.1,141.8 L280.6,142.8 L280.7,143.9 L280.7,144.8 L280.8,145.8 L280.6,147.0 L280.0,147.9 L278.9,148.7 L277.8,149.3 L276.9,150.1 L276.0,151.0 L275.0,151.7 L273.9,152.2 L273.0,152.7 L272.3,153.5 L271.4,154.3 L270.0,154.8 L269.1,155.0 L268.1,155.3 L267.0,155.9 L265.9,156.4 L264.6,156.5 L263.3,156.4 L262.0,156.5 L260.8,156.7 L259.5,156.7 L258.3,156.4 L257.1,155.9 L256.1,155.7 L255.0,155.6 L253.9,155.3 L252.9,154.7 L252.0,154.1 L250.8,153.7 L249.6,153.5 L248.5,153.0 L247.5,152.3 L246.4,151.7 L245.1,151.3 L243.8,151.1 L242.8,150.6 L241.8,149.8 L240.8,149.0 L239.6,148.4 L238.4,147.8 L237.5,146.8 L236.7,145.7 L235.8,144.7 L234.7,144.0 L233.7,143.3 L232.8,142.5 L232.0,141.6 L231.1,141.1 L229.5,140.6 L228.0,140.2 L226.9,139.6 L225.9,138.9 L224.9,138.5 L223.9,138.1 L223.2,137.4 L222.8,136.4 L222.4,134.9 L221.7,133.5 L221.0,132.3 L220.8,131.3 L221.2,131.0Z M221.5,130.8 L221.6,131.0 L222.2,131.0 L223.0,130.9 L223.9,130.6 L224.9,130.4 L226.1,130.3 L227.4,130.4 L228.7,130.2 L230.0,129.9 L231.4,129.6 L232.8,129.6 L234.1,129.5 L235.5,129.3 L236.7,129.0 L237.8,128.8 L239.0,128.8 L240.2,128.9 L241.4,128.8 L242.6,128.6 L243.9,128.7 L245.1,128.9 L246.3,129.2 L247.6,129.3 L248.8,129.4 L250.0,129.6 L251.2,130.1 L252.4,130.4 L253.5,130.5 L254.7,130.6 L256.0,130.9 L257.2,131.3 L258.5,131.5 L259.8,131.5 L261.0,131.5 L262.2,131.7 L263.4,131.9 L264.5,132.0 L265.7,131.9 L266.8,131.8 L267.8,132.0 L268.7,132.3 L269.6,132.4 L271.1,132.6 L272.4,133.0 L273.5,133.6 L274.5,134.3 L275.5,134.8 L276.4,135.4 L277.1,136.1 L277.5,137.0 L277.8,137.9 L278.3,138.8 L278.7,139.8 L279.0,140.9 L278.9,142.0 L278.9,143.0 L279.1,143.9 L279.2,144.5 L279.0,145.2 L278.5,145.8 L278.1,146.5 L277.6,147.5 L277.0,148.5 L276.1,149.4 L275.2,150.2 L274.4,151.1 L273.8,152.1 L273.1,152.8 L272.2,153.3 L271.1,153.6 L269.8,154.0 L268.9,154.4 L267.9,154.6 L266.8,154.6 L265.6,154.5 L264.4,154.6 L263.2,154.8 L262.0,154.8 L260.7,154.6 L259.6,154.4 L258.5,154.3 L257.4,154.3 L256.4,154.1 L255.5,153.7 L254.6,153.4 L253.5,153.2 L252.4,153.0 L251.4,152.5 L250.4,152.0 L249.3,151.4 L248.1,151.1 L246.9,150.7 L245.9,150.0 L244.8,149.3 L243.9,148.7 L242.8,148.2 L241.7,147.6 L240.7,146.8 L239.7,145.9 L238.7,145.1 L237.5,144.4 L236.4,143.7 L235.5,142.9 L234.6,142.0 L233.6,141.4 L232.5,140.9 L231.6,140.4 L230.2,139.4 L229.0,138.6 L227.8,138.1 L226.7,137.7 L225.7,137.3 L225.1,136.7 L224.5,136.1 L223.9,135.6 L222.9,134.6 L222.0,133.3 L221.5,132.0 L221.4,131.2 L221.3,131.1Z M223.2,132.5 L222.7,133.2 L222.9,133.0 L223.6,133.0 L224.5,133.2 L225.4,133.2 L226.5,132.7 L227.6,132.0 L228.8,131.6 L230.2,131.5 L231.5,131.2 L232.9,130.6 L234.2,130.1 L235.5,130.1 L236.8,130.3 L237.9,130.4 L239.0,130.1 L240.2,129.9 L241.4,130.0 L242.6,130.3 L243.8,130.1 L245.1,129.7 L246.3,129.5 L247.5,129.7 L248.8,130.0 L250.0,130.1 L251.2,130.0 L252.4,130.3 L253.5,131.0 L254.6,131.6 L255.9,131.9 L257.2,131.9 L258.4,132.1 L259.6,132.5 L260.8,132.8 L262.1,132.6 L263.3,132.3 L264.4,132.4 L265.5,132.9 L266.5,133.2 L267.5,133.3 L268.4,133.4 L269.1,133.8 L270.3,134.7 L271.4,135.3 L272.6,135.5 L273.6,135.8 L274.4,136.3 L275.0,137.0 L275.7,137.4 L276.6,137.6 L277.3,138.2 L277.5,139.1 L277.5,140.2 L277.7,141.2 L278.1,142.1 L278.1,143.1 L277.7,143.8 L277.3,144.2 L277.4,144.6 L277.5,145.2 L277.3,146.0 L276.6,146.6 L275.8,147.4 L275.3,148.5 L274.7,149.7 L273.9,150.5 L272.8,151.0 L272.0,151.4 L271.4,151.9 L270.7,152.5 L269.4,152.8 L268.5,152.7 L267.6,152.9 L266.6,153.5 L265.5,154.1 L264.4,154.3 L263.1,154.2 L261.9,154.3 L260.7,154.6 L259.6,154.5 L258.5,154.0 L257.6,153.2 L256.7,152.8 L255.8,152.6 L254.9,152.2 L254.1,151.5 L253.3,150.9 L252.2,150.6 L251.0,150.5 L249.9,150.1 L249.0,149.4 L248.0,148.7 L246.8,148.3 L245.6,147.9 L244.6,147.3 L243.8,146.4 L242.9,145.6 L241.7,145.2 L240.4,144.9 L239.2,144.3 L238.1,143.6 L236.9,143.0 L235.5,142.8 L234.2,142.6 L233.2,141.9 L232.4,141.1 L231.5,140.4 L230.1,139.7 L228.8,138.9 L227.9,137.9 L227.2,136.9 L226.5,136.2 L225.7,135.9 L225.2,135.5 L224.9,134.8 L224.4,133.5 L223.5,132.4 L222.8,131.5 L222.7,131.0 L223.0,131.7Z M277.5,146.0 L278.3,144.7 L279.6,143.7 L281.0,143.2 L282.5,143.0 L284.1,142.6 L285.7,142.4 L287.3,142.4 L289.0,142.8 L290.6,143.3 L291.8,143.6 L292.9,143.9 L294.0,144.5 L294.9,145.3 L295.9,146.1 L296.9,146.9 L298.0,147.7 L298.9,148.6 L299.7,149.7 L300.6,150.7 L301.6,151.5 L302.7,152.3 L303.5,153.2 L304.3,154.1 L305.2,154.7 L306.2,155.1 L307.3,155.7 L308.4,156.4 L309.4,157.2 L310.5,157.9 L311.7,158.4 L312.8,159.0 L313.8,159.8 L314.9,160.6 L316.0,161.2 L317.2,161.6 L318.3,162.1 L319.4,162.7 L320.4,163.2 L321.9,163.5 L323.3,163.7 L324.7,164.0 L326.0,164.5 L327.4,165.0 L328.8,165.4 L330.2,165.9 L331.4,166.9 L332.3,168.2 L333.1,169.6 L333.8,170.9 L334.3,172.2 L334.6,173.7 L334.6,175.2 L334.9,176.7 L335.3,178.1 L335.6,179.5 L335.8,181.0 L335.8,182.4 L336.0,183.8 L336.3,185.2 L336.3,186.7 L335.9,188.2 L335.4,189.6 L334.8,191.0 L334.3,192.4 L333.5,193.6 L332.5,194.6 L331.5,195.6 L330.7,196.6 L330.1,197.7 L329.2,198.8 L328.2,199.9 L327.4,201.0 L326.7,202.3 L326.0,203.6 L325.1,204.7 L324.0,205.6 L322.8,206.5 L321.8,207.4 L320.6,208.2 L319.3,208.6 L317.9,208.9 L316.5,209.2 L315.0,209.5 L313.5,209.7 L312.0,209.5 L310.6,209.2 L309.3,208.9 L307.9,208.8 L306.6,208.4 L305.4,207.6 L304.3,206.8 L303.1,206.1 L301.8,205.5 L300.7,204.6 L299.8,203.5 L298.9,202.4 L298.0,201.5 L297.1,200.7 L296.3,199.8 L295.6,198.7 L294.8,197.7 L293.8,196.8 L292.8,196.0 L291.8,195.1 L291.0,194.0 L290.2,193.1 L289.1,192.2 L288.2,191.2 L287.5,190.2 L287.1,189.0 L286.5,187.9 L285.9,186.8 L285.3,185.7 L285.0,184.4 L284.7,183.2 L284.2,182.0 L283.6,181.0 L282.9,179.9 L282.4,178.8 L281.9,177.7 L281.1,176.7 L280.2,175.7 L279.4,174.7 L278.9,173.5 L278.5,172.3 L277.9,171.2 L277.4,170.0 L277.2,168.7 L277.3,167.4 L277.4,166.1 L277.4,164.8 L277.3,163.5 L277.4,162.2 L277.7,160.9 L277.7,159.5 L277.4,158.1 L277.1,156.7 L276.9,155.3 L276.9,153.8 L276.7,152.4 L276.3,151.0 L276.2,149.6 L276.4,148.3 L276.9,147.1Z M278.0,146.3 L279.1,145.5 L280.3,144.9 L281.4,144.0 L282.6,143.2 L284.1,143.0 L285.6,143.3 L287.2,143.6 L288.8,143.7 L290.4,143.9 L291.3,144.5 L292.0,145.4 L292.8,146.2 L293.9,146.6 L294.9,147.3 L295.7,148.3 L296.4,149.4 L297.3,150.4 L298.5,151.0 L299.6,151.8 L300.4,152.9 L301.2,154.0 L302.2,154.7 L303.5,155.2 L304.5,155.7 L305.3,156.5 L306.4,157.3 L307.7,157.7 L309.1,157.9 L310.3,158.3 L311.4,159.0 L312.6,159.6 L313.9,159.8 L315.2,159.9 L316.4,160.3 L317.4,161.1 L318.5,161.8 L319.7,162.1 L320.8,162.4 L322.0,163.2 L323.1,164.2 L324.3,165.0 L325.6,165.4 L326.9,165.9 L327.9,166.9 L328.7,168.0 L329.5,169.0 L330.6,169.7 L331.4,170.7 L331.8,171.9 L331.9,173.2 L332.4,174.4 L333.1,175.6 L333.6,176.9 L333.6,178.4 L333.6,179.8 L334.0,181.1 L334.6,182.5 L334.8,183.8 L334.5,185.0 L334.2,186.4 L334.3,187.8 L334.4,189.3 L334.0,190.7 L333.2,191.9 L332.5,193.1 L332.2,194.5 L331.8,195.8 L331.1,196.8 L330.1,197.7 L329.3,198.9 L328.7,200.2 L328.0,201.5 L326.9,202.5 L325.7,203.2 L324.6,204.1 L323.7,205.1 L322.5,205.9 L321.2,206.2 L319.9,206.2 L318.7,206.6 L317.5,207.3 L316.2,207.6 L314.8,207.4 L313.5,207.2 L312.2,207.3 L310.9,207.6 L309.7,207.4 L308.6,206.8 L307.5,206.2 L306.3,206.0 L304.9,205.7 L303.7,205.1 L302.7,204.1 L301.7,203.3 L300.4,202.7 L299.1,202.2 L298.2,201.4 L297.5,200.3 L296.7,199.4 L295.6,198.7 L294.5,198.0 L293.8,196.8 L293.3,195.6 L292.5,194.5 L291.5,193.7 L290.6,192.7 L290.1,191.5 L289.7,190.2 L289.0,189.2 L288.1,188.4 L287.4,187.4 L287.1,186.1 L286.8,184.9 L286.1,183.9 L285.2,182.9 L284.6,181.8 L284.4,180.6 L284.1,179.4 L283.4,178.4 L282.5,177.5 L282.1,176.4 L281.9,175.1 L281.6,173.9 L280.8,172.8 L280.1,171.8 L279.8,170.6 L279.8,169.3 L279.5,168.1 L278.9,167.0 L278.3,165.9 L278.3,164.6 L278.4,163.3 L278.3,162.1 L277.8,160.9 L277.4,159.6 L277.5,158.1 L277.7,156.7 L277.5,155.2 L277.1,153.8 L276.9,152.4 L277.2,151.0 L277.6,149.8 L277.6,148.6 L277.6,147.4Z M278.9,147.0 L279.8,146.2 L280.9,145.8 L281.9,145.2 L282.9,144.5 L284.2,144.1 L285.6,144.4 L287.0,144.8 L288.4,145.0 L290.0,145.1 L290.8,145.5 L291.4,146.3 L292.1,147.1 L293.1,147.6 L294.3,148.0 L295.2,148.9 L295.9,150.0 L296.7,151.0 L297.9,151.7 L299.1,152.4 L300.0,153.3 L300.8,154.5 L301.7,155.4 L302.9,155.9 L304.0,156.4 L304.9,157.2 L305.9,158.2 L307.1,158.9 L308.4,159.2 L309.7,159.5 L310.9,160.3 L311.9,161.1 L313.1,161.6 L314.4,161.7 L315.6,162.1 L316.6,162.9 L317.6,163.7 L318.7,164.1 L319.9,164.3 L321.2,164.9 L322.3,165.8 L323.5,166.7 L324.8,167.1 L326.1,167.3 L327.2,167.9 L328.1,168.9 L328.9,169.7 L329.9,170.3 L331.0,171.0 L331.5,172.1 L331.8,173.3 L332.2,174.5 L333.0,175.7 L333.7,176.9 L333.8,178.3 L333.7,179.8 L333.9,181.1 L334.4,182.5 L334.7,183.8 L334.4,185.0 L334.0,186.3 L333.7,187.6 L333.7,189.1 L333.4,190.4 L332.5,191.6 L331.7,192.7 L331.1,193.9 L330.8,195.2 L330.2,196.3 L329.3,197.2 L328.3,198.3 L327.7,199.6 L327.2,200.9 L326.4,202.0 L325.2,202.8 L324.2,203.6 L323.3,204.6 L322.4,205.7 L321.2,206.1 L319.9,206.3 L318.7,206.6 L317.5,207.3 L316.2,207.8 L314.9,207.8 L313.5,207.5 L312.2,207.4 L310.9,207.6 L309.7,207.5 L308.6,206.9 L307.6,206.0 L306.5,205.5 L305.2,205.2 L304.1,204.5 L303.2,203.5 L302.3,202.4 L301.2,201.6 L300.0,201.0 L299.1,200.3 L298.5,199.2 L297.9,198.1 L296.9,197.4 L295.9,196.7 L295.0,195.7 L294.5,194.5 L293.9,193.4 L292.9,192.6 L291.9,191.8 L291.2,190.7 L290.8,189.4 L290.3,188.4 L289.4,187.6 L288.5,186.7 L288.1,185.6 L287.9,184.4 L287.3,183.3 L286.5,182.3 L285.8,181.3 L285.5,180.1 L285.4,178.9 L284.9,177.8 L284.1,176.8 L283.5,175.8 L283.4,174.5 L283.3,173.3 L282.7,172.2 L282.0,171.1 L281.6,170.0 L281.6,168.8 L281.5,167.6 L281.0,166.5 L280.4,165.4 L280.1,164.3 L280.2,163.0 L280.2,161.8 L279.7,160.6 L279.1,159.3 L279.0,158.0 L279.1,156.5 L279.0,155.1 L278.6,153.7 L278.2,152.4 L278.3,151.1 L278.7,149.9 L278.9,148.9 L278.8,147.9Z M279.5,147.3 L280.0,146.4 L281.0,146.0 L282.0,145.6 L283.1,145.1 L284.3,144.9 L285.6,145.3 L286.8,146.1 L288.0,146.6 L289.3,146.9 L290.0,147.1 L290.6,147.7 L291.2,148.3 L292.2,148.7 L293.5,148.9 L294.8,149.3 L295.7,150.2 L296.6,151.1 L297.7,151.9 L299.0,152.5 L299.9,153.5 L300.5,154.8 L301.1,156.1 L302.1,157.0 L303.1,157.7 L304.0,158.6 L305.0,159.7 L306.2,160.6 L307.6,160.8 L309.1,160.9 L310.4,161.3 L311.6,161.8 L312.9,162.2 L314.3,162.1 L315.6,162.2 L316.6,162.9 L317.5,163.8 L318.5,164.5 L319.5,165.0 L320.8,165.8 L321.8,166.9 L322.8,168.0 L324.0,168.6 L325.3,168.9 L326.4,169.2 L327.3,169.9 L328.1,170.5 L329.2,170.9 L330.4,171.4 L331.2,172.2 L331.6,173.4 L331.8,174.6 L332.3,175.9 L332.7,177.1 L332.7,178.5 L332.2,180.0 L331.9,181.3 L332.0,182.5 L332.2,183.7 L332.0,184.8 L331.6,185.9 L331.4,187.0 L331.7,188.4 L331.8,189.8 L331.4,191.0 L330.7,192.2 L330.2,193.4 L329.9,194.7 L329.3,195.8 L328.3,196.6 L327.1,197.5 L326.1,198.5 L325.4,199.6 L324.5,200.5 L323.4,201.1 L322.4,201.6 L321.8,202.5 L321.2,203.5 L320.4,204.3 L319.3,204.7 L318.3,205.2 L317.2,205.9 L316.1,206.7 L314.8,206.9 L313.5,206.5 L312.3,206.0 L311.2,205.9 L310.2,205.6 L309.3,204.9 L308.5,203.9 L307.7,203.2 L306.5,202.9 L305.3,202.6 L304.2,201.9 L303.2,201.1 L302.0,200.6 L300.6,200.3 L299.4,199.9 L298.6,199.1 L297.9,198.1 L297.1,197.2 L296.1,196.5 L295.3,195.5 L294.9,194.1 L294.6,192.8 L293.9,191.7 L293.0,190.9 L292.3,189.9 L291.8,188.8 L291.3,187.8 L290.3,187.1 L289.1,186.4 L288.2,185.5 L287.8,184.4 L287.2,183.3 L286.4,182.4 L285.6,181.4 L285.4,180.2 L285.5,178.8 L285.4,177.6 L285.0,176.5 L284.5,175.4 L284.4,174.1 L284.4,172.8 L284.0,171.7 L283.1,170.8 L282.3,169.8 L281.8,168.7 L281.5,167.5 L280.9,166.5 L280.1,165.5 L279.6,164.3 L279.8,163.1 L280.0,161.8 L280.0,160.6 L279.7,159.3 L279.8,157.8 L280.3,156.4 L280.6,155.0 L280.4,153.6 L279.9,152.4 L279.8,151.2 L280.0,150.1 L280.0,149.1 L279.7,148.2Z M281.2,148.5 L281.8,148.3 L282.3,148.1 L282.9,147.6 L283.7,147.4 L284.6,147.5 L285.6,147.6 L286.7,147.4 L287.9,147.2 L289.1,147.4 L289.7,147.7 L290.4,148.0 L291.4,148.2 L292.5,148.4 L293.4,149.0 L294.3,149.9 L295.2,150.8 L296.3,151.5 L297.3,152.3 L298.2,153.4 L298.8,154.6 L299.7,155.7 L300.6,156.6 L301.6,157.5 L302.4,158.6 L303.2,159.8 L304.4,160.7 L305.8,161.3 L307.1,161.9 L308.3,162.7 L309.5,163.4 L310.8,163.8 L312.2,163.9 L313.4,164.2 L314.6,164.7 L315.7,165.1 L316.8,165.3 L318.0,165.4 L319.1,165.8 L320.3,166.6 L321.6,167.3 L323.0,167.8 L324.3,168.1 L325.3,168.7 L326.2,169.6 L327.0,170.3 L327.9,170.8 L328.7,171.4 L329.2,172.2 L329.5,173.1 L329.9,174.1 L330.5,175.1 L331.1,176.2 L331.3,177.5 L331.3,178.8 L331.5,180.1 L331.8,181.3 L332.0,182.5 L331.7,183.7 L331.4,184.8 L331.2,185.8 L331.1,186.9 L330.7,188.0 L330.0,189.0 L329.2,190.0 L328.7,191.1 L328.3,192.3 L327.7,193.4 L327.0,194.4 L326.3,195.4 L325.9,196.7 L325.5,198.1 L324.9,199.2 L324.1,200.2 L323.4,201.1 L322.8,202.1 L322.2,203.1 L321.2,203.6 L320.2,203.8 L319.1,204.1 L318.1,204.6 L317.0,204.9 L315.8,204.8 L314.6,204.4 L313.5,204.2 L312.5,204.2 L311.5,204.0 L310.8,203.5 L310.0,202.9 L309.1,202.6 L308.1,202.4 L307.0,202.1 L306.0,201.4 L305.0,200.8 L303.8,200.4 L302.5,200.0 L301.3,199.4 L300.4,198.7 L299.6,198.0 L298.5,197.5 L297.4,196.9 L296.5,196.0 L295.9,195.0 L295.2,193.9 L294.4,193.0 L293.5,192.1 L293.0,190.9 L292.6,189.7 L292.1,188.6 L291.5,187.7 L290.8,186.7 L290.5,185.6 L290.2,184.5 L289.7,183.4 L288.9,182.5 L288.3,181.5 L287.9,180.3 L287.6,179.2 L287.0,178.1 L286.3,177.2 L285.7,176.1 L285.5,175.0 L285.3,173.8 L284.7,172.7 L284.1,171.7 L283.7,170.6 L283.6,169.4 L283.4,168.2 L282.9,167.2 L282.4,166.1 L282.1,165.0 L282.0,163.9 L281.8,162.8 L281.3,161.7 L280.8,160.5 L280.6,159.1 L280.6,157.8 L280.4,156.4 L280.0,155.0 L279.7,153.7 L279.8,152.4 L280.2,151.2 L280.4,150.1 L280.5,149.2 L280.7,148.6Z M281.5,148.7 L281.6,148.1 L282.0,147.5 L282.8,147.4 L283.7,147.5 L284.6,147.6 L285.6,147.4 L286.6,147.5 L287.6,148.1 L288.6,148.9 L288.9,149.1 L289.6,149.2 L290.4,149.5 L291.1,150.2 L291.8,151.0 L292.9,151.5 L294.1,151.9 L295.2,152.6 L296.1,153.7 L297.0,154.7 L298.1,155.4 L299.3,156.1 L300.2,157.1 L301.0,158.3 L301.9,159.4 L303.1,160.1 L304.4,160.7 L305.6,161.7 L306.7,162.7 L308.0,163.4 L309.4,163.7 L310.7,164.0 L311.9,164.6 L313.0,165.3 L314.1,165.7 L315.4,165.8 L316.5,166.1 L317.4,166.7 L318.2,167.4 L319.6,168.0 L321.1,168.4 L322.4,168.9 L323.5,169.7 L324.4,170.5 L325.4,170.9 L326.4,171.2 L327.1,171.7 L327.4,172.5 L327.7,173.3 L328.2,173.8 L328.8,174.6 L329.1,175.6 L329.0,176.8 L329.1,178.0 L329.5,179.1 L329.9,180.3 L330.0,181.5 L329.7,182.6 L329.7,183.7 L330.1,184.7 L330.3,185.7 L330.1,186.7 L329.6,187.6 L329.3,188.7 L329.1,190.0 L328.8,191.2 L328.0,192.1 L327.0,193.0 L326.4,194.0 L325.9,195.1 L325.1,196.3 L324.0,197.1 L323.0,197.9 L322.4,198.8 L322.0,199.7 L321.3,200.4 L320.6,200.8 L319.8,201.2 L319.3,201.9 L318.6,202.8 L317.7,203.3 L316.6,203.4 L315.6,203.6 L314.5,204.0 L313.5,204.3 L312.5,204.1 L311.6,203.6 L310.9,203.1 L310.0,203.0 L309.1,202.7 L308.3,202.0 L307.6,201.1 L306.6,200.5 L305.5,200.1 L304.4,199.6 L303.4,198.8 L302.5,197.9 L301.6,197.4 L300.5,197.0 L299.5,196.5 L298.8,195.5 L298.1,194.6 L297.2,193.8 L296.1,193.1 L295.3,192.2 L294.9,191.0 L294.4,189.9 L293.5,189.0 L292.7,188.2 L292.1,187.2 L291.9,186.1 L291.4,185.1 L290.7,184.2 L289.9,183.3 L289.4,182.2 L289.2,181.1 L288.7,180.0 L288.0,179.0 L287.3,178.0 L287.0,176.9 L286.8,175.7 L286.3,174.7 L285.5,173.7 L284.9,172.7 L284.6,171.5 L284.5,170.3 L284.0,169.2 L283.3,168.3 L282.8,167.2 L282.8,166.0 L282.9,164.8 L282.6,163.8 L282.2,162.7 L282.1,161.5 L282.4,160.3 L282.5,158.9 L282.2,157.6 L281.8,156.2 L281.7,154.9 L281.9,153.6 L281.9,152.3 L281.5,151.2 L281.1,150.2 L281.2,149.4 L281.5,148.9Z M321.1,188.5 L322.1,187.2 L323.6,186.5 L325.2,186.3 L326.7,186.0 L328.2,185.4 L329.6,184.8 L331.1,184.7 L332.6,184.9 L333.9,184.9 L335.1,184.5 L336.6,184.2 L338.0,184.6 L339.4,185.4 L340.7,186.1 L342.1,186.5 L343.4,187.3 L344.4,188.6 L345.1,190.1 L345.7,191.1 L346.7,192.0 L347.5,193.0 L347.8,194.3 L348.1,195.6 L348.6,196.9 L349.4,198.1 L349.9,199.4 L349.9,200.8 L349.8,202.2 L350.0,203.4 L350.6,204.5 L350.9,205.7 L350.9,207.1 L351.1,208.4 L351.7,209.6 L352.6,210.7 L353.2,211.8 L353.4,213.1 L353.6,214.3 L354.1,215.5 L354.7,216.6 L354.8,217.7 L354.5,219.3 L354.2,220.8 L354.3,222.3 L354.5,223.7 L354.3,225.1 L353.6,226.3 L353.1,227.4 L352.8,228.6 L352.0,230.0 L350.7,230.9 L349.2,231.3 L347.6,231.7 L346.1,232.3 L344.6,232.7 L343.1,232.6 L341.8,232.1 L340.5,231.8 L339.1,231.9 L337.7,232.0 L336.4,231.5 L335.1,230.9 L333.8,230.5 L332.3,230.3 L331.0,230.0 L330.1,229.2 L329.2,228.2 L328.3,227.4 L327.1,226.6 L326.1,225.7 L325.6,224.3 L325.2,222.9 L324.6,221.7 L323.6,220.6 L323.0,219.6 L322.7,218.3 L322.5,217.0 L321.9,215.8 L321.0,214.6 L320.5,213.3 L320.4,211.9 L320.5,210.5 L320.2,209.1 L319.8,207.8 L319.7,206.5 L320.1,205.1 L320.4,203.8 L320.1,202.5 L319.7,201.1 L319.5,199.7 L319.6,198.2 L319.6,196.7 L319.3,195.3 L318.9,193.8 L319.0,192.4 L319.7,191.1 L320.5,189.9Z M322.0,189.3 L323.0,188.3 L324.4,188.0 L325.8,187.9 L327.1,187.5 L328.4,186.9 L329.8,186.4 L331.2,186.2 L332.6,186.1 L333.9,185.7 L335.1,185.1 L336.5,185.0 L337.9,185.5 L339.2,186.2 L340.4,186.7 L341.7,187.4 L342.7,188.4 L343.3,189.7 L344.0,191.0 L344.6,191.8 L345.5,192.5 L346.3,193.5 L346.7,194.7 L347.2,195.9 L348.0,197.1 L348.8,198.3 L349.0,199.6 L348.9,201.1 L348.8,202.5 L349.0,203.7 L349.3,204.9 L349.4,206.2 L349.4,207.6 L349.7,208.9 L350.5,210.0 L351.5,211.0 L352.1,212.2 L352.5,213.4 L353.0,214.5 L353.7,215.6 L354.2,216.7 L354.2,217.8 L353.8,219.4 L353.6,220.9 L353.7,222.3 L353.6,223.6 L353.2,224.9 L352.7,226.0 L352.5,227.1 L352.5,228.4 L351.9,229.8 L350.6,230.7 L349.2,231.3 L347.7,231.9 L346.2,232.6 L344.6,232.8 L343.1,232.4 L341.8,231.9 L340.5,231.6 L339.2,231.6 L337.8,231.4 L336.6,230.9 L335.3,230.4 L333.9,230.2 L332.4,230.1 L331.2,229.8 L330.2,229.0 L329.3,228.1 L328.3,227.3 L327.3,226.5 L326.7,225.2 L326.4,223.8 L326.1,222.4 L325.6,221.2 L324.9,220.1 L324.5,219.0 L324.3,217.8 L323.9,216.7 L323.0,215.6 L322.2,214.4 L321.8,213.1 L321.7,211.7 L321.7,210.3 L321.4,209.0 L321.3,207.7 L321.6,206.3 L322.1,205.0 L322.4,203.7 L322.1,202.3 L321.7,201.0 L321.6,199.6 L321.6,198.1 L321.2,196.7 L320.6,195.3 L320.2,193.9 L320.4,192.6 L321.0,191.4 L321.5,190.3Z M322.8,189.9 L323.7,189.1 L324.7,188.4 L325.8,187.7 L327.1,187.5 L328.5,187.5 L329.9,187.5 L331.3,187.3 L332.6,187.2 L333.9,187.4 L335.0,187.8 L336.2,188.0 L337.4,188.1 L338.6,188.3 L339.6,188.8 L340.5,189.4 L341.4,190.0 L342.5,190.6 L343.5,191.4 L344.0,192.2 L344.4,193.1 L345.0,194.1 L345.7,195.1 L346.4,196.2 L346.8,197.4 L347.2,198.7 L347.7,200.0 L348.4,201.2 L349.0,202.4 L349.2,203.6 L349.5,204.8 L350.0,206.0 L350.7,207.2 L351.2,208.4 L351.4,209.7 L351.6,211.0 L352.0,212.2 L352.5,213.4 L352.8,214.6 L352.7,215.8 L352.7,217.0 L352.8,218.0 L353.1,219.5 L353.1,220.9 L352.8,222.3 L352.5,223.6 L352.5,224.8 L352.4,225.9 L352.0,226.8 L351.3,227.5 L350.6,228.1 L349.7,228.9 L348.6,229.6 L347.3,230.0 L345.8,230.2 L344.4,230.4 L343.0,230.8 L341.8,231.2 L340.5,231.2 L339.2,231.0 L337.9,230.9 L336.6,230.9 L335.2,230.7 L333.9,230.1 L332.8,229.3 L331.9,228.7 L330.9,228.1 L330.0,227.4 L329.2,226.4 L328.6,225.3 L327.9,224.3 L327.0,223.3 L326.4,222.2 L326.0,221.0 L325.7,219.7 L325.4,218.6 L325.0,217.6 L324.6,216.4 L324.6,215.2 L324.5,213.9 L324.3,212.6 L323.9,211.4 L323.6,210.1 L323.6,208.8 L323.5,207.4 L323.2,206.2 L322.8,204.9 L322.6,203.7 L322.5,202.3 L322.4,200.9 L322.1,199.5 L321.7,198.1 L321.5,196.7 L321.7,195.4 L321.8,194.1 L321.8,192.9 L321.8,191.7 L322.2,190.7Z M324.3,191.0 L324.5,190.1 L325.1,189.2 L326.1,188.7 L327.4,188.6 L328.7,188.3 L329.9,187.7 L331.3,187.2 L332.6,187.2 L333.9,187.6 L335.0,187.8 L336.2,187.6 L337.5,187.6 L338.6,188.2 L339.5,189.0 L340.4,189.6 L341.5,189.9 L342.5,190.6 L343.1,191.7 L343.3,192.6 L343.8,193.4 L344.6,194.2 L345.3,195.2 L345.5,196.5 L345.6,197.8 L346.1,199.0 L346.9,200.2 L347.4,201.5 L347.5,202.8 L347.5,204.2 L347.8,205.4 L348.5,206.5 L348.9,207.8 L348.9,209.2 L348.9,210.6 L349.4,211.8 L350.0,212.9 L350.4,214.0 L350.3,215.2 L350.3,216.4 L350.8,217.3 L351.4,218.2 L351.6,219.6 L351.5,221.0 L351.4,222.3 L351.7,223.5 L352.0,224.7 L351.8,225.7 L351.1,226.4 L350.6,226.9 L350.2,227.6 L349.5,228.4 L348.3,228.6 L346.9,228.5 L345.5,228.6 L344.2,229.0 L342.9,229.4 L341.8,229.2 L340.6,228.9 L339.5,228.8 L338.2,229.1 L337.0,229.2 L335.8,228.8 L334.8,228.2 L333.8,227.7 L332.7,227.6 L331.6,227.2 L330.9,226.3 L330.3,225.3 L329.5,224.5 L328.5,223.8 L327.6,222.9 L327.3,221.7 L327.0,220.4 L326.5,219.3 L325.8,218.5 L325.3,217.5 L325.3,216.3 L325.3,215.0 L324.8,213.8 L324.1,212.7 L323.7,211.4 L323.7,210.1 L323.7,208.7 L323.3,207.5 L322.7,206.2 L322.5,205.0 L322.7,203.7 L322.9,202.3 L322.7,200.9 L322.3,199.5 L322.3,198.1 L322.8,196.8 L323.1,195.5 L323.0,194.3 L322.9,193.1 L323.2,192.1 L323.8,191.5Z M324.5,191.1 L325.4,191.1 L326.1,191.0 L326.9,190.6 L327.8,190.2 L329.0,190.2 L330.3,190.5 L331.5,190.5 L332.7,190.1 L333.8,189.7 L334.8,189.7 L336.0,190.0 L337.1,189.9 L338.2,189.5 L339.4,189.4 L340.3,189.8 L341.0,190.6 L341.9,191.1 L343.1,191.8 L343.7,192.4 L343.8,193.4 L343.8,194.6 L344.1,195.7 L344.7,196.7 L345.0,198.0 L344.9,199.4 L344.7,200.8 L345.1,202.1 L345.7,203.3 L346.2,204.6 L346.3,205.9 L346.5,207.3 L347.2,208.4 L348.1,209.5 L348.7,210.6 L348.9,211.9 L349.2,213.1 L349.9,214.2 L350.6,215.2 L351.0,216.2 L350.8,217.3 L350.7,218.3 L351.0,219.7 L351.5,221.0 L351.4,222.3 L350.9,223.5 L350.5,224.5 L350.6,225.4 L350.7,226.2 L350.3,226.6 L349.6,226.8 L348.8,227.1 L348.0,227.9 L346.9,228.6 L345.6,228.7 L344.2,228.6 L342.9,228.6 L341.8,229.0 L340.6,229.3 L339.4,229.0 L338.3,228.4 L337.3,228.1 L336.1,228.1 L335.0,227.8 L334.1,227.1 L333.6,226.2 L332.8,225.7 L331.7,225.3 L330.8,224.8 L330.2,223.8 L329.7,222.8 L328.9,222.0 L327.9,221.2 L327.2,220.3 L326.9,219.1 L326.9,218.1 L326.5,217.1 L325.8,216.1 L325.5,215.0 L325.6,213.7 L325.8,212.4 L325.4,211.1 L324.9,209.9 L324.7,208.6 L324.9,207.3 L325.0,206.0 L324.5,204.8 L323.9,203.6 L323.7,202.2 L323.8,200.8 L323.8,199.5 L323.3,198.1 L322.8,196.8 L322.8,195.5 L323.3,194.3 L323.7,193.3 L323.8,192.3 L323.9,191.5Z M325.2,191.6 L325.4,191.2 L326.0,190.7 L326.9,190.8 L328.1,191.1 L329.2,191.2 L330.3,190.8 L331.5,190.4 L332.7,190.4 L333.8,190.6 L334.8,190.6 L336.0,190.3 L337.0,190.2 L337.9,190.7 L338.6,191.4 L339.2,191.8 L340.1,191.8 L341.0,192.1 L341.5,193.0 L341.7,193.6 L342.2,194.2 L343.0,194.9 L343.5,195.9 L343.4,197.2 L343.1,198.6 L343.3,199.8 L343.8,201.1 L344.3,202.3 L344.4,203.7 L344.6,205.1 L345.4,206.2 L346.5,207.2 L347.3,208.4 L347.5,209.7 L347.7,211.0 L348.2,212.2 L349.0,213.2 L349.3,214.3 L349.3,215.5 L349.3,216.6 L349.9,217.5 L350.5,218.3 L350.8,219.7 L350.4,221.0 L350.1,222.3 L350.1,223.4 L350.2,224.4 L349.7,225.1 L349.1,225.4 L348.9,225.5 L349.0,226.0 L348.7,226.8 L347.8,227.4 L346.7,227.5 L345.4,227.8 L344.1,228.3 L342.9,228.6 L341.8,228.3 L340.7,227.7 L339.6,227.3 L338.5,227.5 L337.4,227.5 L336.5,227.0 L335.7,226.3 L334.8,225.9 L334.0,225.7 L333.2,225.2 L332.7,224.3 L332.3,223.2 L331.7,222.4 L330.8,221.9 L329.9,221.3 L329.3,220.4 L328.8,219.4 L328.0,218.6 L327.0,218.0 L326.4,217.1 L326.4,215.9 L326.6,214.7 L326.4,213.5 L326.0,212.3 L325.9,211.1 L326.1,209.7 L326.2,208.4 L325.8,207.2 L325.1,206.0 L324.9,204.8 L325.1,203.5 L325.3,202.1 L325.1,200.8 L324.7,199.4 L324.7,198.1 L325.0,196.8 L325.1,195.6 L324.7,194.4 L324.2,193.4 L324.3,192.5 L324.8,191.9Z M144.0,153.9 L144.7,152.9 L145.6,152.0 L146.9,151.4 L148.3,151.1 L149.6,150.6 L150.9,149.9 L152.2,149.3 L153.5,149.2 L154.9,149.2 L156.2,148.9 L157.5,148.4 L158.9,148.3 L160.4,148.5 L161.8,148.8 L163.2,148.8 L164.7,148.8 L166.0,149.1 L167.2,149.8 L168.5,150.3 L170.0,150.6 L171.4,151.0 L172.7,151.8 L173.8,152.8 L174.9,153.7 L176.2,154.4 L177.2,155.5 L177.7,156.9 L178.1,158.3 L178.7,159.5 L179.3,160.7 L179.6,162.0 L179.6,163.3 L179.9,164.5 L180.5,165.6 L181.1,166.8 L181.3,168.3 L181.3,169.7 L181.6,170.9 L182.1,172.0 L182.6,173.0 L182.7,174.0 L183.0,174.9 L183.7,175.3 L184.3,175.4 L185.0,175.6 L185.9,176.2 L186.9,176.5 L188.1,176.4 L189.4,176.2 L190.8,176.5 L192.2,176.9 L193.6,177.2 L195.1,177.2 L196.5,177.5 L197.6,178.3 L198.7,179.0 L199.9,179.5 L201.2,179.9 L202.5,180.5 L203.5,181.4 L204.6,182.3 L205.8,182.9 L207.1,183.4 L208.1,184.3 L208.9,185.3 L209.8,186.2 L211.1,186.9 L212.2,187.8 L213.0,189.0 L213.5,190.2 L214.4,191.3 L215.4,192.2 L216.2,193.3 L216.6,194.5 L217.2,195.8 L218.1,196.9 L219.0,197.7 L219.7,198.8 L220.1,200.1 L220.7,201.3 L221.7,202.3 L222.5,203.3 L223.1,204.6 L223.5,205.8 L224.2,207.0 L225.1,207.9 L225.8,208.9 L226.2,210.1 L226.7,211.5 L227.4,212.8 L228.3,213.9 L228.8,215.1 L229.0,216.4 L229.3,217.5 L230.1,218.3 L230.9,219.1 L231.5,220.1 L232.0,221.0 L232.8,221.8 L234.0,222.4 L235.1,223.0 L236.0,223.9 L236.9,224.9 L238.1,225.5 L239.4,225.9 L240.5,226.6 L241.4,227.5 L242.4,228.2 L243.6,228.6 L244.9,228.8 L246.1,229.4 L247.2,230.2 L248.5,230.8 L249.9,231.2 L251.3,231.8 L252.3,232.9 L253.1,234.1 L254.0,235.1 L255.1,236.0 L255.9,237.1 L256.4,238.4 L256.9,239.7 L257.7,240.8 L258.5,241.9 L258.9,243.1 L259.1,244.4 L259.4,245.9 L260.0,247.3 L260.5,248.8 L260.5,250.3 L260.3,251.7 L260.4,253.1 L260.7,254.4 L260.7,255.7 L260.2,257.5 L259.4,259.2 L258.9,260.8 L258.2,262.4 L257.0,263.5 L255.2,263.7 L253.5,263.4 L251.8,262.9 L250.0,262.1 L249.2,261.2 L248.6,260.2 L247.7,259.4 L246.6,258.6 L245.6,257.8 L244.9,256.6 L244.1,255.4 L243.2,254.5 L242.1,253.8 L241.2,253.0 L240.6,251.9 L240.0,250.9 L239.0,250.2 L238.1,249.6 L237.3,248.6 L236.6,247.5 L235.7,246.5 L234.4,245.8 L233.5,245.2 L232.7,244.3 L231.9,243.2 L230.9,242.5 L229.6,241.9 L228.5,241.1 L227.6,240.0 L226.7,239.0 L225.5,238.3 L224.2,237.7 L223.3,236.9 L222.5,235.8 L221.6,235.1 L220.2,234.4 L219.0,233.8 L218.1,232.9 L217.2,231.9 L216.1,231.2 L214.9,230.7 L213.8,230.1 L212.9,229.1 L212.0,228.1 L210.9,227.3 L209.8,226.8 L208.9,225.9 L208.3,224.8 L207.5,223.9 L206.4,223.2 L205.4,222.5 L204.7,221.5 L204.0,220.3 L203.1,219.5 L202.0,218.8 L201.0,218.0 L200.2,217.0 L199.5,216.0 L198.4,215.3 L197.2,214.7 L196.2,213.9 L195.4,212.8 L194.4,211.8 L193.2,211.2 L192.0,210.6 L191.0,209.7 L190.2,208.6 L189.2,207.8 L188.1,207.3 L187.0,206.7 L186.0,205.6 L185.0,204.6 L183.8,203.8 L182.4,203.3 L181.3,202.6 L180.3,201.5 L179.4,200.6 L178.3,200.0 L177.2,199.4 L176.5,198.4 L175.8,196.7 L175.3,195.2 L174.8,193.8 L174.4,192.5 L174.4,191.4 L174.2,190.2 L173.5,189.3 L172.7,188.7 L171.9,188.1 L171.2,187.1 L170.4,186.0 L169.0,185.2 L168.0,184.7 L167.1,183.9 L166.4,182.9 L165.4,182.0 L164.1,181.4 L162.9,180.8 L161.8,179.8 L160.9,178.7 L159.8,177.9 L158.5,177.4 L157.4,176.7 L156.4,175.7 L155.4,174.7 L154.2,174.1 L152.9,173.6 L151.8,172.8 L150.9,171.7 L149.9,170.8 L148.8,170.2 L147.8,169.6 L146.8,168.4 L146.0,167.0 L145.1,165.8 L144.0,164.8 L143.2,163.7 L142.8,162.4 L142.7,161.2 L142.2,159.6 L141.8,158.1 L142.0,156.4 L142.9,155.1Z M144.7,154.5 L145.3,153.6 L146.1,152.8 L147.4,152.4 L148.7,152.1 L149.9,151.5 L151.1,150.8 L152.4,150.3 L153.8,150.3 L155.0,150.2 L156.3,149.8 L157.6,149.3 L159.0,149.3 L160.3,149.5 L161.7,149.7 L163.1,149.5 L164.5,149.5 L165.7,150.0 L167.0,150.6 L168.3,151.0 L169.8,151.1 L171.1,151.6 L172.3,152.5 L173.4,153.4 L174.6,154.1 L175.8,154.8 L176.6,155.9 L177.0,157.3 L177.4,158.5 L178.1,159.7 L178.6,160.9 L178.7,162.2 L178.7,163.6 L179.0,164.8 L179.7,165.9 L180.2,167.1 L180.2,168.5 L180.1,169.9 L180.5,171.2 L181.1,172.3 L181.4,173.5 L181.5,174.7 L181.9,175.8 L182.8,176.4 L183.7,176.7 L184.6,177.2 L185.5,177.8 L186.7,178.1 L188.0,177.9 L189.3,177.9 L190.6,178.3 L191.9,178.7 L193.3,178.8 L194.6,178.8 L195.9,179.1 L196.9,179.9 L198.0,180.5 L199.2,180.9 L200.5,181.2 L201.7,181.9 L202.7,182.8 L203.8,183.5 L205.1,183.9 L206.3,184.4 L207.3,185.3 L208.1,186.3 L209.1,187.0 L210.4,187.6 L211.4,188.5 L212.1,189.7 L212.8,190.8 L213.7,191.7 L214.8,192.6 L215.5,193.7 L215.9,195.0 L216.6,196.2 L217.6,197.2 L218.5,198.1 L219.0,199.2 L219.4,200.5 L220.1,201.6 L221.1,202.6 L221.9,203.7 L222.3,205.0 L222.7,206.3 L223.4,207.4 L224.3,208.3 L224.8,209.4 L225.1,210.7 L225.6,212.1 L226.3,213.3 L227.0,214.4 L227.3,215.7 L227.4,217.0 L227.9,218.2 L228.7,219.1 L229.4,220.1 L230.0,221.3 L230.6,222.5 L231.6,223.3 L232.8,223.9 L233.8,224.7 L234.7,225.8 L235.7,226.7 L237.0,227.3 L238.3,227.8 L239.3,228.6 L240.2,229.5 L241.4,230.2 L242.8,230.5 L244.1,230.8 L245.3,231.5 L246.4,232.2 L247.6,232.6 L248.9,232.9 L250.1,233.5 L250.9,234.5 L251.7,235.4 L252.7,236.2 L253.7,237.0 L254.4,238.1 L254.9,239.3 L255.5,240.5 L256.4,241.4 L257.2,242.5 L257.6,243.7 L257.8,244.9 L258.3,246.2 L259.0,247.5 L259.4,249.0 L259.3,250.4 L259.2,251.8 L259.5,253.1 L259.8,254.4 L259.7,255.6 L259.1,257.3 L258.5,258.9 L258.1,260.4 L257.5,261.8 L256.4,262.5 L255.1,262.6 L253.8,262.5 L252.2,262.1 L250.6,261.2 L250.0,260.3 L249.4,259.4 L248.5,258.6 L247.4,257.9 L246.5,256.9 L245.8,255.6 L245.1,254.5 L244.0,253.7 L242.9,253.0 L242.2,252.0 L241.7,250.9 L240.9,250.0 L239.9,249.4 L239.0,248.7 L238.3,247.6 L237.6,246.5 L236.5,245.7 L235.2,244.9 L234.3,244.3 L233.5,243.3 L232.7,242.3 L231.5,241.7 L230.2,241.1 L229.2,240.3 L228.3,239.2 L227.2,238.3 L225.9,237.8 L224.7,237.2 L223.7,236.2 L222.9,235.3 L221.9,234.7 L220.5,234.1 L219.3,233.4 L218.4,232.4 L217.4,231.5 L216.3,231.0 L215.0,230.5 L214.0,229.8 L213.2,228.7 L212.2,227.9 L211.0,227.2 L209.9,226.6 L209.2,225.6 L208.6,224.5 L207.7,223.7 L206.7,223.0 L205.7,222.1 L205.1,221.0 L204.5,219.9 L203.5,219.1 L202.4,218.4 L201.5,217.5 L200.8,216.3 L200.0,215.3 L198.9,214.7 L197.8,214.0 L196.9,213.0 L196.1,211.9 L195.1,211.0 L193.8,210.4 L192.7,209.6 L191.8,208.6 L191.0,207.6 L189.9,206.9 L188.8,206.4 L187.8,205.7 L186.8,204.5 L185.7,203.5 L184.4,202.9 L183.1,202.4 L182.0,201.5 L181.0,200.5 L180.0,199.8 L178.9,199.3 L177.9,198.7 L177.3,197.8 L176.6,196.3 L176.0,195.0 L175.3,193.7 L175.0,192.4 L175.0,191.2 L174.6,190.0 L173.7,189.2 L172.8,188.6 L172.1,187.9 L171.4,186.9 L170.4,186.0 L168.9,185.3 L167.9,184.8 L167.1,184.0 L166.3,183.0 L165.2,182.2 L163.9,181.7 L162.7,181.0 L161.7,179.9 L160.8,178.9 L159.6,178.2 L158.3,177.6 L157.3,176.8 L156.4,175.8 L155.3,174.8 L154.1,174.3 L152.8,173.6 L151.8,172.7 L151.0,171.6 L150.0,170.8 L148.9,170.2 L148.0,169.4 L147.1,168.1 L146.3,166.7 L145.4,165.6 L144.4,164.6 L143.7,163.4 L143.6,162.1 L143.4,161.0 L142.9,159.6 L142.6,158.1 L143.0,156.7 L143.8,155.6Z M144.7,154.5 L145.4,153.8 L146.5,153.4 L147.6,153.0 L148.7,152.3 L149.9,151.5 L151.2,151.2 L152.6,151.2 L153.9,151.1 L155.1,150.6 L156.4,150.3 L157.7,150.5 L159.0,150.8 L160.3,150.9 L161.6,150.8 L162.9,150.9 L164.1,151.5 L165.1,152.2 L166.3,152.5 L167.7,152.7 L168.9,153.2 L169.9,154.1 L170.9,154.9 L172.1,155.3 L173.1,155.8 L173.8,156.6 L174.2,157.5 L174.7,158.4 L175.4,159.2 L176.0,160.3 L176.2,161.5 L176.3,162.8 L176.8,164.1 L177.6,165.2 L178.1,166.4 L178.2,167.6 L178.4,168.9 L179.0,170.1 L179.6,171.4 L179.8,172.7 L180.0,174.0 L180.5,175.2 L181.5,176.1 L182.5,176.9 L183.3,177.6 L184.2,178.3 L185.4,178.6 L186.7,178.5 L187.9,178.6 L189.2,179.1 L190.5,179.4 L191.8,179.4 L193.1,179.4 L194.3,179.8 L195.4,180.6 L196.4,181.1 L197.6,181.4 L198.8,181.8 L199.8,182.6 L200.8,183.4 L202.0,184.0 L203.3,184.4 L204.4,185.0 L205.3,185.9 L206.2,186.7 L207.3,187.2 L208.5,187.7 L209.5,188.5 L210.3,189.6 L211.1,190.5 L212.2,191.3 L213.2,192.1 L213.9,193.2 L214.4,194.4 L215.2,195.4 L216.3,196.3 L217.3,197.4 L217.8,198.5 L218.3,199.7 L219.1,200.7 L220.1,201.6 L220.8,202.8 L221.2,204.1 L221.7,205.3 L222.6,206.4 L223.4,207.4 L223.9,208.6 L224.1,209.8 L224.6,210.9 L225.5,212.1 L226.1,213.3 L226.4,214.7 L226.5,216.0 L227.0,217.2 L227.8,218.2 L228.4,219.3 L228.7,220.6 L229.4,221.8 L230.4,222.6 L231.5,223.3 L232.5,224.2 L233.4,225.3 L234.5,226.1 L235.8,226.6 L237.1,227.2 L238.1,228.0 L239.1,228.9 L240.2,229.5 L241.6,229.8 L242.9,230.2 L244.0,231.0 L245.2,231.6 L246.5,231.9 L247.8,232.1 L249.0,232.7 L249.9,233.7 L250.8,234.6 L251.8,235.3 L252.7,236.1 L253.3,237.2 L253.7,238.5 L254.3,239.6 L255.2,240.7 L255.8,241.8 L255.9,243.1 L256.1,244.3 L256.5,245.3 L257.1,246.6 L257.3,247.9 L257.1,249.3 L257.1,250.7 L257.3,252.0 L257.5,253.2 L257.3,254.3 L256.9,255.3 L256.6,256.8 L256.5,258.2 L256.1,259.4 L255.4,260.1 L255.0,260.2 L254.8,260.5 L254.2,260.7 L253.1,260.4 L251.8,259.3 L251.3,258.7 L250.3,258.3 L249.2,257.8 L248.4,256.9 L247.6,255.8 L246.7,254.8 L245.5,254.1 L244.4,253.3 L243.6,252.3 L242.9,251.3 L242.0,250.5 L241.0,249.9 L240.2,249.2 L239.6,248.1 L238.9,247.1 L237.8,246.3 L236.6,245.5 L235.6,244.4 L235.0,243.4 L234.1,242.5 L233.0,241.9 L231.9,241.2 L231.0,240.2 L230.1,239.1 L229.1,238.2 L227.8,237.6 L226.7,236.8 L225.8,235.8 L224.9,234.8 L223.8,234.2 L222.6,233.7 L221.4,232.9 L220.4,231.8 L219.4,231.0 L218.1,230.6 L216.9,230.1 L215.9,229.4 L215.0,228.5 L213.9,227.8 L212.7,227.3 L211.5,226.7 L210.7,225.8 L209.9,224.9 L208.9,224.2 L207.8,223.6 L206.9,222.8 L206.2,221.7 L205.4,220.7 L204.4,220.0 L203.3,219.3 L202.5,218.3 L201.8,217.2 L200.9,216.2 L199.8,215.6 L198.8,214.9 L198.0,213.8 L197.2,212.7 L196.1,211.8 L194.9,211.2 L193.9,210.3 L193.1,209.2 L192.2,208.2 L191.1,207.5 L190.0,206.9 L189.1,206.0 L188.4,205.0 L187.2,204.0 L185.9,203.3 L184.5,202.7 L183.5,201.8 L182.5,200.8 L181.4,200.1 L180.1,199.6 L179.1,199.0 L178.5,198.1 L177.9,197.3 L176.9,196.2 L176.1,195.0 L175.8,193.6 L175.8,192.3 L175.6,191.0 L174.8,189.9 L173.9,189.1 L173.3,188.2 L172.7,187.2 L171.8,186.4 L170.6,185.8 L169.3,184.8 L168.7,183.9 L167.9,182.9 L166.9,182.2 L165.7,181.6 L164.6,180.7 L163.7,179.6 L162.8,178.5 L161.5,177.8 L160.3,177.1 L159.4,176.2 L158.6,175.0 L157.5,174.2 L156.2,173.6 L155.0,172.9 L154.1,171.9 L153.2,170.9 L152.1,170.2 L150.9,169.7 L150.0,168.9 L149.4,168.0 L148.5,166.8 L147.3,165.9 L146.2,165.0 L145.5,163.9 L145.1,162.7 L144.6,161.7 L143.9,160.8 L143.4,159.5 L143.4,158.2 L143.9,157.0 L144.2,155.8Z M145.9,155.6 L146.4,155.2 L147.1,154.5 L148.0,153.8 L149.2,153.4 L150.5,153.2 L151.7,152.9 L152.9,152.3 L154.1,151.9 L155.3,152.0 L156.6,152.1 L157.8,151.9 L159.0,151.6 L160.2,151.7 L161.4,152.1 L162.6,152.4 L163.8,152.5 L165.0,152.6 L166.2,153.0 L167.3,153.7 L168.4,154.2 L169.7,154.5 L170.9,154.9 L171.8,155.7 L172.5,156.5 L173.3,157.0 L174.1,157.6 L174.7,158.4 L174.9,159.4 L175.1,160.6 L175.7,161.7 L176.2,162.9 L176.5,164.1 L176.6,165.5 L176.9,166.8 L177.5,167.8 L178.0,169.0 L178.1,170.3 L178.0,171.7 L178.4,173.1 L179.0,174.4 L179.7,175.7 L180.3,177.1 L181.2,178.4 L182.5,179.1 L183.9,179.3 L185.2,179.7 L186.5,180.2 L187.8,180.4 L189.1,180.3 L190.5,180.1 L191.7,180.4 L192.9,180.8 L194.0,181.0 L195.2,181.0 L196.3,181.3 L197.3,181.9 L198.4,182.6 L199.5,183.1 L200.8,183.4 L202.0,184.0 L202.9,184.9 L203.9,185.7 L205.1,186.2 L206.2,186.8 L207.1,187.6 L207.7,188.5 L208.6,189.4 L209.6,190.2 L210.5,191.0 L211.1,192.1 L211.5,193.3 L212.2,194.3 L213.1,195.2 L213.9,196.3 L214.4,197.6 L215.0,198.9 L215.8,199.8 L216.7,200.7 L217.3,201.8 L217.8,203.0 L218.4,204.2 L219.4,205.2 L220.2,206.2 L220.8,207.4 L221.3,208.6 L222.0,209.7 L222.8,210.6 L223.5,211.5 L223.9,212.8 L224.3,214.1 L225.0,215.3 L225.7,216.4 L226.2,217.6 L226.5,218.9 L227.0,220.1 L227.9,221.2 L228.9,222.2 L229.7,223.3 L230.5,224.5 L231.5,225.4 L232.8,226.1 L234.0,226.8 L235.0,227.8 L236.0,228.8 L237.2,229.4 L238.5,229.9 L239.6,230.5 L240.8,231.5 L242.0,232.2 L243.4,232.5 L244.8,232.7 L246.0,233.3 L247.0,234.0 L248.0,234.4 L249.1,234.8 L250.1,235.3 L250.8,236.2 L251.4,237.2 L252.2,238.1 L253.1,238.9 L253.8,240.0 L254.2,241.2 L254.6,242.3 L255.3,243.4 L256.0,244.4 L256.3,245.4 L256.4,246.8 L256.6,248.1 L257.1,249.3 L257.4,250.6 L257.3,252.0 L257.1,253.2 L257.1,254.3 L257.3,255.3 L257.2,256.9 L256.6,258.2 L255.9,259.3 L255.6,260.3 L255.4,260.9 L254.9,261.0 L254.2,260.7 L253.2,260.2 L251.6,259.6 L250.8,259.3 L250.1,258.5 L249.5,257.6 L248.5,256.7 L247.4,256.0 L246.4,255.1 L245.6,254.0 L244.9,252.9 L243.9,252.0 L242.9,251.3 L242.1,250.5 L241.6,249.4 L240.9,248.5 L239.9,247.8 L239.0,247.0 L238.1,246.0 L237.3,244.8 L236.2,243.7 L235.2,243.2 L234.2,242.5 L233.4,241.5 L232.5,240.5 L231.4,239.7 L230.1,239.1 L229.0,238.3 L228.0,237.2 L227.0,236.3 L225.8,235.7 L224.6,235.1 L223.7,234.3 L222.9,233.4 L221.7,232.5 L220.4,231.9 L219.2,231.2 L218.3,230.4 L217.4,229.4 L216.3,228.8 L215.2,228.2 L214.2,227.5 L213.4,226.5 L212.5,225.5 L211.6,224.8 L210.6,224.2 L209.9,223.3 L209.3,222.2 L208.5,221.2 L207.5,220.5 L206.6,219.7 L205.8,218.6 L205.1,217.5 L204.2,216.6 L203.0,215.9 L201.9,215.0 L201.1,214.1 L200.3,213.1 L199.1,212.4 L197.9,211.8 L196.8,210.9 L195.9,209.9 L194.9,209.0 L193.7,208.4 L192.5,207.8 L191.5,206.9 L190.7,205.9 L189.7,205.2 L188.6,204.7 L187.3,203.8 L186.3,202.8 L185.2,201.7 L184.0,201.0 L182.7,200.4 L181.7,199.6 L180.9,198.7 L180.1,197.8 L179.3,197.3 L178.6,196.8 L178.0,195.6 L177.9,194.5 L177.7,193.3 L177.3,192.0 L176.8,190.6 L176.3,189.1 L175.7,187.7 L174.8,186.8 L173.7,186.1 L172.7,185.3 L171.8,184.3 L170.7,183.2 L169.7,182.7 L168.5,182.2 L167.5,181.3 L166.6,180.3 L165.6,179.5 L164.3,178.9 L163.0,178.2 L162.0,177.2 L161.1,176.1 L160.0,175.3 L158.8,174.7 L157.6,174.0 L156.6,173.0 L155.6,172.0 L154.5,171.3 L153.3,170.7 L152.3,169.9 L151.5,168.9 L150.8,168.1 L149.9,167.5 L148.7,166.6 L147.9,165.4 L147.3,164.2 L146.6,163.2 L145.8,162.4 L145.2,161.5 L145.1,160.5 L145.0,159.3 L144.8,158.3 L144.7,157.2 L145.0,156.3Z M146.7,156.3 L146.9,155.8 L147.5,155.1 L148.5,154.9 L149.7,154.8 L150.8,154.3 L151.9,153.5 L153.1,153.1 L154.3,153.2 L155.5,153.2 L156.6,152.9 L157.8,152.4 L159.0,152.4 L160.2,152.8 L161.3,153.0 L162.5,152.8 L163.8,152.8 L164.8,153.3 L165.9,154.0 L167.1,154.3 L168.4,154.4 L169.6,154.8 L170.5,155.6 L171.3,156.4 L172.2,156.9 L173.1,157.2 L173.7,157.9 L173.8,158.8 L174.1,159.8 L174.7,160.7 L175.4,161.8 L175.6,163.0 L175.6,164.4 L176.0,165.7 L176.8,166.8 L177.3,167.9 L177.3,169.1 L177.3,170.5 L177.8,171.8 L178.5,173.0 L179.0,174.4 L179.3,175.9 L180.0,177.3 L181.4,178.2 L182.8,178.6 L183.9,179.2 L185.1,179.9 L186.5,180.1 L187.8,179.9 L189.2,179.7 L190.5,180.1 L191.7,180.5 L192.9,180.6 L194.2,180.5 L195.3,180.8 L196.2,181.5 L197.2,182.3 L198.4,182.6 L199.7,182.9 L200.7,183.6 L201.7,184.6 L202.7,185.3 L203.9,185.7 L205.1,186.3 L205.9,187.2 L206.6,188.2 L207.4,188.9 L208.6,189.5 L209.4,190.3 L209.9,191.5 L210.4,192.6 L211.2,193.5 L212.2,194.3 L212.8,195.4 L213.1,196.8 L213.7,198.1 L214.6,199.1 L215.5,200.0 L215.9,201.2 L216.2,202.5 L216.9,203.6 L217.8,204.6 L218.6,205.6 L218.9,207.0 L219.2,208.3 L220.0,209.3 L220.8,210.3 L221.4,211.4 L221.5,212.5 L221.9,213.8 L222.7,214.9 L223.4,215.9 L223.7,217.2 L223.8,218.6 L224.3,219.9 L225.3,221.1 L226.3,222.3 L227.1,223.8 L227.9,225.2 L229.0,226.1 L230.4,226.8 L231.6,227.7 L232.6,228.9 L233.6,229.9 L235.0,230.4 L236.3,230.9 L237.4,231.7 L238.3,232.7 L239.7,233.5 L241.3,233.9 L242.7,234.2 L243.9,234.9 L245.0,235.7 L246.0,236.0 L247.1,236.1 L247.9,236.5 L248.4,237.3 L248.9,238.0 L249.7,238.6 L250.7,239.2 L251.3,240.1 L251.6,241.3 L252.1,242.3 L253.0,243.2 L253.8,244.1 L254.1,245.1 L254.2,246.2 L254.7,247.3 L255.4,248.4 L255.8,249.6 L255.7,250.8 L255.6,252.1 L255.9,253.2 L256.3,254.3 L256.3,255.2 L255.8,256.6 L255.4,257.8 L255.3,259.0 L255.1,259.9 L254.9,260.0 L254.8,259.7 L254.5,259.7 L253.5,259.7 L252.0,259.0 L251.6,258.4 L251.0,257.5 L250.1,256.9 L249.0,256.3 L248.0,255.4 L247.4,254.2 L246.6,253.1 L245.4,252.3 L244.3,251.6 L243.5,250.7 L243.0,249.6 L242.3,248.8 L241.2,248.2 L240.3,247.4 L239.6,246.4 L238.9,245.2 L237.8,244.3 L236.4,243.5 L235.5,242.8 L234.8,241.8 L234.0,240.8 L232.8,240.1 L231.6,239.5 L230.5,238.5 L229.7,237.4 L228.7,236.4 L227.4,235.8 L226.2,235.1 L225.4,234.1 L224.6,233.1 L223.7,232.3 L222.3,231.7 L221.1,231.0 L220.2,229.9 L219.3,228.9 L218.2,228.3 L217.0,227.9 L216.1,227.1 L215.3,226.0 L214.5,225.1 L213.3,224.5 L212.3,224.0 L211.7,223.1 L211.1,222.0 L210.3,221.1 L209.3,220.5 L208.3,219.7 L207.7,218.6 L207.0,217.5 L206.0,216.6 L204.8,216.0 L203.8,215.0 L203.0,213.8 L202.2,212.8 L201.0,212.2 L199.8,211.6 L198.8,210.7 L198.0,209.5 L196.9,208.6 L195.6,208.1 L194.4,207.4 L193.5,206.4 L192.7,205.4 L191.6,204.7 L190.4,204.3 L189.4,203.6 L188.3,202.5 L187.2,201.4 L185.8,200.8 L184.4,200.3 L183.3,199.5 L182.5,198.5 L181.6,197.8 L180.5,197.4 L179.6,196.9 L179.3,196.3 L178.9,195.2 L178.5,194.3 L177.9,193.3 L177.6,191.9 L177.5,190.3 L177.1,188.7 L176.0,187.5 L174.9,186.7 L174.0,185.8 L173.3,184.7 L172.3,183.7 L170.9,182.9 L169.8,182.5 L169.0,181.6 L168.2,180.5 L167.1,179.7 L165.8,179.2 L164.5,178.5 L163.6,177.4 L162.6,176.3 L161.4,175.7 L160.1,175.2 L159.0,174.4 L158.1,173.2 L157.1,172.3 L155.8,171.8 L154.5,171.2 L153.5,170.3 L152.8,169.3 L151.9,168.5 L150.8,168.1 L149.9,167.5 L149.1,166.2 L148.5,164.9 L147.6,164.0 L146.7,163.2 L146.1,162.2 L146.0,161.1 L146.0,160.3 L145.5,159.3 L145.2,158.3 L145.5,157.4 L146.1,156.9Z M150.3,155.4 L151.2,154.5 L152.4,154.1 L153.7,153.6 L155.0,152.9 L156.5,152.4 L158.0,152.4 L159.5,152.7 L160.9,152.7 L162.2,152.6 L163.7,152.8 L165.0,153.5 L166.2,154.3 L167.6,154.7 L169.1,155.2 L170.3,156.0 L171.2,157.1 L172.1,158.1 L173.3,159.1 L174.3,160.4 L174.8,162.0 L175.0,163.7 L175.2,165.2 L175.6,166.7 L175.6,168.2 L174.9,169.5 L174.1,170.7 L173.6,172.1 L173.0,173.6 L172.0,174.7 L170.6,175.4 L169.3,175.9 L168.2,176.4 L166.9,176.7 L165.5,176.4 L164.2,175.7 L162.8,175.4 L161.4,175.2 L160.0,174.7 L158.9,173.9 L157.9,173.1 L156.7,172.7 L155.4,172.2 L154.3,171.4 L153.5,170.3 L152.6,169.3 L151.6,168.5 L150.6,167.5 L150.2,166.3 L150.1,165.0 L149.8,163.6 L149.3,162.2 L149.1,160.7 L149.4,159.3 L149.8,157.9 L149.9,156.7Z M150.8,155.8 L152.1,155.9 L153.1,155.6 L154.1,155.1 L155.3,154.6 L156.7,154.4 L158.1,153.9 L159.5,153.3 L160.9,153.2 L162.0,153.8 L163.2,154.5 L164.5,154.8 L166.0,154.7 L167.4,155.1 L168.4,156.1 L169.3,157.2 L170.1,158.2 L170.8,159.2 L171.2,160.5 L171.6,161.8 L172.5,162.9 L173.8,164.0 L174.9,165.3 L174.9,166.7 L174.4,168.0 L173.9,169.2 L173.5,170.5 L172.8,171.7 L171.8,172.6 L171.0,173.6 L170.2,174.6 L169.1,175.4 L168.0,175.1 L166.9,174.5 L165.7,174.2 L164.4,174.6 L162.9,175.0 L161.4,175.0 L160.1,174.6 L158.7,174.3 L157.6,173.8 L156.7,172.7 L156.1,171.3 L155.3,170.2 L154.2,169.6 L152.9,169.1 L152.0,168.2 L151.6,167.0 L151.3,165.9 L150.7,164.8 L150.2,163.5 L150.1,162.1 L149.9,160.7 L149.3,159.3 L148.9,157.7 L149.4,156.4Z M151.0,156.0 L152.0,155.7 L153.1,155.8 L154.2,155.6 L155.5,155.3 L156.8,155.2 L158.1,155.1 L159.5,154.8 L160.8,154.6 L161.9,154.7 L163.0,155.1 L164.3,155.4 L165.5,155.7 L166.6,156.6 L167.2,157.9 L168.0,158.9 L169.3,159.1 L170.9,159.1 L172.2,159.9 L172.3,161.5 L171.7,163.2 L171.5,164.7 L172.1,165.8 L173.0,166.8 L173.7,168.0 L173.7,169.2 L173.1,170.3 L172.0,171.2 L170.6,171.7 L169.8,172.3 L169.4,173.4 L168.9,174.6 L168.0,175.0 L166.9,174.5 L165.7,174.0 L164.5,173.9 L163.1,174.0 L161.8,173.6 L160.7,172.7 L159.7,172.0 L158.6,171.9 L157.1,172.0 L155.9,171.6 L155.0,170.6 L154.5,169.3 L154.1,168.1 L153.7,167.0 L153.0,166.2 L151.8,165.6 L150.5,164.9 L149.9,163.6 L150.5,162.1 L151.7,160.6 L152.2,159.5 L151.6,158.4 L150.8,157.1Z M152.8,157.6 L152.7,156.8 L153.3,156.1 L154.3,155.9 L155.5,155.8 L156.8,155.3 L158.1,154.9 L159.5,155.1 L160.7,155.8 L161.6,156.2 L162.7,156.4 L163.8,156.7 L164.7,157.5 L165.5,158.5 L166.5,159.0 L167.7,159.3 L168.6,159.8 L169.2,160.5 L169.9,161.3 L171.0,162.1 L172.1,163.1 L172.7,164.3 L172.8,165.6 L172.9,166.8 L173.2,167.9 L173.1,169.0 L172.3,170.0 L171.3,170.8 L170.5,171.6 L169.9,172.4 L169.1,172.8 L168.2,172.6 L167.7,172.3 L166.9,172.6 L165.9,172.9 L164.7,172.8 L163.5,172.4 L162.2,172.2 L160.8,172.4 L159.5,172.4 L158.5,171.9 L157.6,171.2 L156.6,170.6 L155.4,170.1 L154.6,169.2 L154.2,168.0 L154.0,166.8 L153.5,165.9 L153.1,165.1 L153.1,164.1 L153.4,162.9 L153.3,161.7 L152.9,160.6 L152.5,159.5 L152.7,158.6 L152.9,158.1Z M180.4,183.2 L181.2,182.5 L182.3,181.9 L183.5,181.5 L184.8,180.9 L186.1,180.0 L187.6,179.4 L189.1,179.2 L190.8,179.4 L192.3,179.5 L193.8,179.5 L195.2,179.8 L196.3,180.4 L197.4,181.0 L198.6,181.3 L200.0,181.4 L201.2,181.8 L202.4,182.5 L203.5,183.2 L204.7,183.8 L205.8,184.5 L206.7,185.5 L207.4,186.7 L208.2,187.8 L209.1,188.5 L210.2,189.1 L211.0,189.9 L211.8,190.8 L212.8,191.6 L214.0,192.2 L214.9,193.1 L215.5,194.2 L216.0,195.4 L216.6,196.5 L217.4,197.5 L218.0,198.5 L218.4,199.7 L219.1,200.8 L220.1,201.7 L221.2,202.5 L222.1,203.6 L222.8,204.8 L223.5,206.0 L224.3,207.1 L224.9,208.3 L225.2,209.6 L225.4,210.9 L225.6,212.0 L226.2,212.9 L226.8,213.8 L227.2,215.7 L227.2,217.5 L227.2,219.3 L227.0,221.0 L226.1,222.4 L224.6,223.2 L223.3,223.2 L222.2,223.2 L220.9,223.2 L219.6,222.9 L218.2,222.4 L216.7,221.9 L215.0,221.7 L213.3,221.5 L212.2,221.2 L211.2,220.5 L210.2,219.8 L209.0,219.2 L207.9,218.5 L207.0,217.4 L206.1,216.3 L205.0,215.5 L203.7,214.9 L202.4,214.3 L201.3,213.6 L200.3,212.8 L199.1,212.2 L198.0,211.6 L197.0,210.8 L196.3,209.6 L195.6,208.5 L194.7,207.6 L193.8,206.8 L192.9,205.9 L192.1,205.0 L191.1,204.2 L190.0,203.8 L188.9,203.3 L188.0,202.5 L187.4,201.6 L186.5,200.6 L185.5,199.7 L184.5,198.7 L183.8,197.5 L183.1,196.4 L182.2,195.6 L181.1,195.0 L180.1,194.3 L179.4,193.4 L178.9,192.5 L178.1,191.0 L177.4,189.3 L177.5,187.5 L178.2,185.9 L179.2,184.5Z M180.8,183.7 L181.8,183.4 L182.7,182.8 L183.8,182.2 L185.1,182.0 L186.6,182.1 L188.1,181.9 L189.5,181.4 L190.9,181.0 L192.4,181.2 L193.7,181.6 L194.9,181.7 L196.0,181.6 L197.2,181.7 L198.2,182.4 L199.2,183.1 L200.4,183.4 L201.7,183.6 L202.8,184.2 L203.8,185.2 L204.8,186.0 L206.0,186.5 L207.2,186.9 L208.2,187.8 L208.9,188.7 L209.7,189.6 L210.8,190.1 L211.9,190.8 L212.6,191.8 L213.1,193.0 L213.9,193.9 L214.9,194.6 L215.8,195.5 L216.3,196.7 L216.8,197.9 L217.6,198.8 L218.5,199.6 L219.2,200.7 L219.6,202.0 L220.1,203.2 L221.0,204.3 L222.0,205.3 L222.6,206.6 L222.9,207.9 L223.3,209.2 L224.1,210.2 L224.9,211.2 L225.1,212.3 L225.1,213.4 L225.2,214.2 L225.9,215.8 L226.1,217.5 L225.6,218.9 L224.9,219.9 L224.4,220.8 L223.9,221.8 L223.2,222.2 L222.2,222.1 L221.1,221.9 L219.8,222.0 L218.3,222.1 L216.8,221.7 L215.4,220.9 L213.9,220.2 L212.8,220.1 L211.6,219.9 L210.5,219.3 L209.6,218.3 L208.5,217.6 L207.2,217.1 L206.0,216.5 L205.0,215.5 L204.1,214.3 L203.0,213.5 L201.8,212.9 L200.8,212.1 L200.0,211.0 L199.3,209.9 L198.3,209.1 L197.1,208.6 L196.2,207.7 L195.5,206.6 L194.8,205.6 L193.7,205.0 L192.6,204.4 L191.7,203.6 L191.0,202.6 L190.2,201.8 L189.1,201.4 L188.1,200.9 L187.1,200.0 L186.2,198.9 L185.2,198.1 L183.8,197.5 L182.7,196.8 L182.0,195.8 L181.4,194.8 L180.5,194.0 L179.6,193.3 L179.0,192.4 L178.8,190.7 L178.7,189.1 L178.5,187.6 L178.5,186.0 L179.3,184.6Z M181.7,184.8 L182.4,184.6 L183.4,184.4 L184.4,183.9 L185.5,183.2 L186.8,182.7 L188.2,182.5 L189.6,182.3 L191.0,181.9 L192.4,181.4 L193.7,181.3 L194.9,181.6 L196.0,181.9 L197.1,181.9 L198.3,182.1 L199.4,182.7 L200.3,183.6 L201.3,184.3 L202.5,184.9 L203.5,185.5 L204.4,186.5 L205.2,187.5 L206.1,188.3 L207.2,188.9 L208.1,189.6 L208.8,190.5 L209.5,191.4 L210.4,192.1 L211.5,192.7 L212.4,193.6 L213.0,194.6 L213.7,195.5 L214.7,196.3 L215.7,197.1 L216.4,198.1 L216.9,199.3 L217.5,200.3 L218.4,201.3 L219.2,202.3 L219.7,203.5 L220.1,204.9 L220.7,206.1 L221.5,207.2 L222.2,208.3 L222.6,209.6 L222.9,210.8 L223.5,211.8 L224.1,212.7 L224.6,213.5 L224.6,214.3 L224.8,216.0 L225.1,217.4 L225.2,218.8 L224.8,219.9 L224.1,220.5 L223.4,220.9 L223.0,221.3 L222.2,221.6 L221.1,221.4 L220.0,220.8 L218.8,220.4 L217.4,220.1 L215.9,219.7 L214.5,218.8 L213.7,218.2 L212.8,217.7 L211.6,217.4 L210.4,216.9 L209.4,216.2 L208.3,215.4 L207.0,214.9 L205.7,214.5 L204.4,213.9 L203.4,213.0 L202.3,212.2 L201.1,211.7 L199.9,211.1 L198.9,210.3 L198.2,209.3 L197.3,208.4 L196.2,207.7 L195.2,207.0 L194.5,205.9 L193.8,204.8 L193.0,203.9 L192.1,203.2 L191.2,202.4 L190.6,201.4 L190.0,200.5 L189.1,199.8 L187.9,199.1 L186.9,198.2 L186.0,197.2 L185.1,196.2 L184.1,195.5 L183.0,194.9 L182.3,194.1 L181.8,193.1 L181.4,192.3 L180.8,191.7 L180.2,190.4 L180.1,189.0 L180.4,187.7 L180.6,186.7 L180.9,185.7Z M182.5,185.8 L182.9,185.6 L183.6,185.0 L184.5,184.3 L185.7,183.8 L187.0,183.6 L188.4,183.4 L189.7,183.0 L191.1,182.6 L192.4,182.5 L193.6,182.6 L194.8,182.7 L195.8,182.7 L196.9,182.8 L197.9,183.3 L198.8,184.0 L199.8,184.6 L200.9,185.1 L202.0,185.6 L202.9,186.5 L203.8,187.3 L204.8,188.0 L206.0,188.5 L207.0,189.3 L207.6,190.1 L208.3,191.0 L209.1,191.8 L209.9,192.6 L210.5,193.6 L210.9,194.7 L211.5,195.8 L212.3,196.6 L213.2,197.4 L214.0,198.4 L214.6,199.4 L215.5,200.3 L216.5,201.1 L217.4,201.9 L218.0,203.1 L218.6,204.3 L219.3,205.4 L220.1,206.5 L220.8,207.6 L221.3,208.9 L221.9,210.0 L222.6,211.0 L223.4,211.8 L224.0,212.7 L224.3,213.6 L224.5,214.4 L224.9,215.9 L225.1,217.4 L224.7,218.6 L224.1,219.5 L223.5,220.0 L223.1,220.4 L222.8,220.5 L222.1,220.4 L221.3,220.1 L220.2,219.9 L219.0,219.8 L217.6,219.4 L216.3,218.6 L215.0,217.8 L214.2,217.4 L213.1,217.0 L212.1,216.5 L211.2,215.7 L210.1,215.0 L208.9,214.5 L207.6,214.0 L206.5,213.3 L205.5,212.4 L204.4,211.5 L203.3,210.8 L202.1,210.2 L201.2,209.4 L200.3,208.5 L199.3,207.8 L198.1,207.3 L196.9,206.8 L196.0,206.1 L195.1,205.2 L194.0,204.6 L193.0,203.9 L192.1,203.1 L191.5,202.1 L190.9,201.1 L190.1,200.3 L189.3,199.6 L188.4,198.6 L187.5,197.5 L186.6,196.6 L185.5,195.9 L184.4,195.2 L183.7,194.3 L183.2,193.3 L182.7,192.5 L182.2,191.9 L181.9,191.2 L181.7,189.9 L181.8,188.7 L181.8,187.8 L181.7,187.0 L181.8,186.3Z M226.5,225.8 L227.7,226.0 L228.8,226.0 L230.0,225.9 L231.4,226.1 L232.7,226.7 L234.0,227.5 L235.4,228.3 L236.6,229.2 L237.8,230.4 L238.9,231.3 L240.1,231.8 L241.5,231.9 L242.8,232.3 L243.8,233.0 L244.8,234.0 L245.8,234.8 L246.9,235.6 L247.8,236.5 L248.7,237.3 L249.8,238.0 L251.0,238.5 L252.0,239.2 L252.8,240.5 L253.4,241.9 L254.0,243.2 L254.9,244.5 L255.6,245.8 L255.9,247.2 L256.2,248.5 L256.4,249.8 L256.5,251.1 L256.3,252.8 L255.7,254.5 L255.0,256.2 L254.4,257.9 L253.2,259.3 L251.4,259.8 L249.9,259.2 L248.8,258.5 L247.7,257.9 L246.5,257.2 L245.2,256.3 L243.9,255.5 L242.5,254.9 L241.2,254.1 L240.4,253.2 L239.9,252.0 L239.2,250.8 L238.2,250.0 L237.0,249.4 L235.9,248.7 L234.9,247.9 L233.8,247.1 L232.8,246.4 L232.0,245.5 L231.5,244.4 L230.6,243.1 L229.5,242.1 L228.3,241.2 L227.4,240.1 L226.8,238.9 L226.3,237.6 L225.7,236.4 L225.1,235.0 L224.7,233.4 L224.4,231.7 L224.1,230.0 L224.1,228.2 L224.9,226.6Z M227.4,227.8 L227.7,227.1 L228.6,226.8 L229.7,227.2 L230.8,227.8 L232.1,228.2 L233.5,228.7 L234.8,229.4 L236.1,230.3 L237.5,230.9 L239.0,231.1 L240.2,231.6 L241.1,232.5 L242.0,233.6 L243.2,234.1 L244.6,234.3 L245.9,234.7 L247.0,235.4 L248.0,236.2 L249.2,236.8 L250.2,237.6 L250.7,238.8 L250.9,240.0 L251.6,241.2 L252.7,242.2 L253.6,243.4 L253.9,244.8 L253.9,246.3 L254.2,247.6 L254.6,248.8 L254.8,249.9 L254.7,251.0 L254.6,252.5 L254.6,254.1 L254.3,255.7 L253.1,256.8 L251.7,257.1 L250.8,257.1 L250.2,257.3 L249.3,257.3 L248.2,256.8 L247.1,256.1 L245.8,255.5 L244.3,255.0 L243.1,254.1 L242.1,252.9 L241.2,252.2 L240.0,251.9 L238.6,251.5 L237.6,250.7 L236.9,249.5 L236.2,248.4 L235.2,247.5 L234.2,246.6 L233.6,245.6 L232.8,244.7 L231.8,244.2 L230.4,243.3 L229.4,242.2 L228.9,240.8 L228.6,239.4 L227.8,238.4 L227.0,237.3 L226.7,236.1 L226.6,234.6 L226.4,233.1 L226.1,231.5 L226.1,229.9 L226.7,228.7 L227.2,228.2Z M227.5,228.1 L227.7,227.5 L228.6,227.3 L229.5,227.8 L230.5,228.8 L231.5,229.7 L232.9,230.2 L234.3,230.5 L235.8,230.9 L237.2,231.4 L238.6,231.9 L239.7,232.5 L240.6,233.4 L241.4,234.6 L242.4,235.4 L243.8,235.6 L245.2,235.8 L246.4,236.3 L247.3,237.1 L248.0,238.1 L248.8,239.0 L249.4,240.0 L249.9,240.8 L250.8,241.8 L251.9,242.6 L253.0,243.7 L253.5,245.0 L253.4,246.5 L253.2,247.8 L253.4,249.0 L253.8,250.1 L254.1,251.0 L254.1,252.4 L253.9,253.9 L253.4,255.3 L252.4,256.2 L251.3,256.4 L250.6,256.3 L250.4,256.5 L249.4,256.9 L248.3,256.8 L247.2,256.0 L246.2,255.0 L245.1,253.9 L244.0,252.8 L242.9,251.8 L242.0,251.1 L240.8,250.8 L239.5,250.5 L238.4,249.8 L237.7,248.6 L237.1,247.3 L236.4,246.3 L235.3,245.6 L234.2,244.9 L233.3,244.3 L232.4,243.7 L231.2,242.6 L230.4,241.4 L230.1,240.0 L229.9,238.7 L229.3,237.7 L228.3,236.8 L227.4,235.9 L226.9,234.6 L226.9,233.0 L226.9,231.4 L227.0,229.9 L227.2,228.8 L227.5,228.4Z M227.8,228.8 L227.7,229.1 L228.2,229.3 L229.1,229.3 L230.2,229.4 L231.5,229.8 L232.6,230.7 L233.8,231.6 L235.2,232.2 L236.6,232.6 L237.9,233.1 L239.1,233.6 L240.4,233.9 L241.7,234.1 L242.9,234.6 L243.7,235.7 L244.4,237.0 L245.1,238.1 L245.9,238.9 L246.7,239.7 L247.3,240.5 L248.2,241.0 L249.4,241.2 L250.8,241.8 L251.8,242.7 L252.3,244.0 L252.6,245.3 L252.8,246.6 L252.8,247.9 L252.4,249.2 L252.0,250.2 L252.2,250.9 L252.5,252.1 L252.6,253.4 L252.1,254.6 L251.5,255.4 L251.1,256.1 L250.7,256.5 L250.4,256.3 L249.9,255.7 L249.0,255.3 L247.8,255.1 L246.5,254.6 L245.3,253.6 L244.3,252.5 L243.2,251.4 L242.4,250.7 L241.7,249.7 L241.1,248.6 L240.2,247.7 L239.0,247.2 L237.5,246.9 L236.2,246.4 L235.2,245.7 L234.2,244.9 L233.3,244.2 L232.8,243.3 L232.4,241.6 L232.2,240.0 L231.8,238.8 L231.0,237.9 L230.3,237.1 L229.7,236.3 L229.0,235.4 L228.1,234.3 L227.2,232.9 L227.0,231.3 L227.4,229.9 L227.8,228.9 L227.9,228.7Z M109.2,266.3 L109.8,264.8 L110.9,263.5 L112.3,262.7 L113.7,262.0 L114.8,261.3 L115.9,260.4 L117.2,259.7 L118.7,259.4 L120.3,259.1 L121.8,258.8 L123.4,258.8 L124.8,259.2 L125.9,260.0 L127.1,260.6 L128.6,260.9 L129.6,261.0 L130.7,261.5 L131.9,262.0 L133.2,262.4 L134.6,262.5 L136.1,262.8 L137.5,263.4 L138.9,264.1 L140.0,264.3 L141.2,264.5 L142.4,264.8 L143.5,265.5 L144.7,266.0 L146.0,266.3 L147.3,266.5 L148.5,267.1 L149.5,267.9 L150.7,268.5 L151.9,268.9 L153.2,269.6 L154.2,270.6 L155.0,271.7 L156.0,272.5 L157.0,273.3 L157.9,274.2 L158.6,275.4 L159.4,276.5 L160.5,277.5 L161.4,278.3 L162.1,279.3 L162.7,280.4 L163.4,281.5 L164.4,282.4 L165.4,283.4 L166.1,284.5 L166.7,285.7 L167.5,286.7 L168.5,287.5 L169.3,288.3 L169.9,289.3 L170.4,290.1 L171.5,291.0 L172.7,291.6 L173.8,292.3 L174.8,293.2 L175.8,294.0 L177.0,294.5 L178.1,295.1 L179.1,296.1 L180.1,297.7 L181.0,299.1 L181.9,300.5 L182.5,301.9 L182.6,303.5 L182.5,305.0 L182.5,306.5 L182.5,308.1 L182.0,309.6 L181.0,311.0 L180.0,312.0 L179.1,313.2 L178.1,314.4 L176.8,315.4 L175.3,316.0 L173.9,316.6 L172.6,317.3 L171.2,317.9 L169.6,318.0 L168.0,317.9 L166.4,317.9 L164.7,317.9 L163.5,317.8 L162.3,317.2 L161.1,316.6 L159.9,316.2 L158.5,315.9 L157.3,315.3 L156.2,314.5 L155.1,313.8 L153.9,313.4 L152.7,312.8 L151.6,312.0 L150.7,311.0 L149.8,310.2 L148.7,309.6 L147.6,308.9 L146.7,307.9 L145.8,306.8 L144.8,306.1 L143.7,305.5 L142.7,304.7 L141.8,303.7 L140.8,302.7 L139.7,302.0 L138.5,301.3 L137.5,300.4 L136.6,299.4 L135.6,298.5 L134.5,297.9 L133.4,297.3 L132.5,296.5 L131.7,295.5 L130.7,294.8 L129.6,294.3 L128.6,293.6 L127.7,292.7 L126.9,291.8 L125.9,291.1 L124.9,290.5 L123.9,289.6 L123.0,288.5 L122.1,287.5 L121.1,286.7 L120.0,285.9 L119.2,284.9 L118.5,283.8 L117.7,282.9 L116.7,282.1 L115.7,281.1 L114.9,279.9 L114.2,278.7 L113.2,277.7 L112.2,276.8 L111.4,275.7 L110.9,274.6 L110.5,273.5 L109.6,272.1 L108.9,270.7 L108.6,269.2 L108.9,267.7Z M109.8,266.5 L110.1,265.0 L111.2,263.9 L112.6,263.2 L113.9,262.6 L115.0,261.6 L116.0,260.6 L117.4,260.1 L118.9,260.0 L120.4,259.7 L121.8,259.2 L123.3,259.2 L124.5,260.0 L125.5,260.9 L126.8,261.4 L128.3,261.7 L129.4,262.0 L130.4,262.8 L131.5,263.4 L132.9,263.6 L134.3,263.7 L135.7,264.2 L136.9,265.1 L138.3,265.7 L139.5,265.7 L140.7,265.8 L141.8,266.4 L142.9,267.1 L144.1,267.4 L145.5,267.4 L146.8,267.6 L147.9,268.4 L148.9,269.1 L150.2,269.4 L151.5,269.5 L152.7,270.3 L153.6,271.3 L154.4,272.3 L155.6,272.9 L156.7,273.6 L157.5,274.6 L158.0,275.9 L158.8,277.0 L160.0,277.9 L160.9,278.7 L161.3,279.9 L161.7,281.2 L162.6,282.2 L163.6,283.1 L164.3,284.2 L164.8,285.5 L165.3,286.8 L166.2,287.7 L167.2,288.5 L167.9,289.5 L168.3,290.7 L169.0,291.5 L170.4,292.3 L171.7,293.0 L172.8,293.9 L173.7,294.9 L174.9,295.4 L176.2,295.7 L177.3,296.2 L178.0,297.2 L178.9,298.6 L180.0,299.7 L181.1,300.8 L181.6,302.2 L181.6,303.6 L181.6,305.0 L181.9,306.4 L182.0,308.0 L181.3,309.4 L180.2,310.5 L179.4,311.6 L178.7,312.8 L177.7,314.0 L176.2,314.6 L174.8,315.0 L173.5,315.7 L172.3,316.5 L171.0,316.9 L169.5,316.6 L168.0,316.5 L166.5,316.7 L164.9,316.8 L163.8,316.4 L162.8,315.7 L161.7,315.2 L160.3,315.1 L159.0,314.8 L157.9,314.0 L156.9,313.2 L155.7,312.7 L154.4,312.5 L153.2,312.0 L152.3,311.0 L151.5,310.1 L150.3,309.5 L149.1,309.1 L148.1,308.3 L147.3,307.1 L146.3,306.1 L145.1,305.7 L144.0,305.2 L143.1,304.2 L142.3,303.1 L141.2,302.2 L139.9,301.7 L138.8,301.0 L137.9,299.9 L137.1,298.8 L135.9,298.1 L134.7,297.6 L133.8,296.9 L133.0,295.8 L132.2,294.9 L131.0,294.4 L129.9,293.9 L129.0,293.0 L128.3,292.0 L127.4,291.2 L126.3,290.7 L125.3,290.1 L124.4,289.0 L123.7,287.8 L122.7,286.9 L121.5,286.3 L120.5,285.4 L119.9,284.2 L119.3,283.1 L118.3,282.3 L117.2,281.6 L116.4,280.5 L115.8,279.2 L115.0,278.0 L113.9,277.2 L112.8,276.3 L112.2,275.2 L111.9,274.0 L111.3,273.1 L110.2,271.9 L109.5,270.5 L109.5,269.1 L109.7,267.8Z M110.7,266.9 L111.0,265.7 L111.9,264.8 L113.3,264.3 L114.7,263.8 L115.7,263.0 L116.8,262.1 L118.0,261.6 L119.4,261.5 L120.6,261.3 L121.8,260.7 L123.0,260.5 L124.1,261.0 L125.2,261.8 L126.5,262.2 L128.2,262.2 L129.3,262.4 L130.3,263.0 L131.5,263.7 L132.8,263.8 L134.2,264.0 L135.6,264.6 L136.8,265.5 L138.1,266.3 L139.2,266.6 L140.3,266.9 L141.4,267.6 L142.3,268.5 L143.5,269.0 L144.8,269.2 L146.0,269.4 L147.0,270.2 L148.0,270.9 L149.2,271.1 L150.4,271.2 L151.6,271.7 L152.5,272.7 L153.3,273.5 L154.5,274.0 L155.7,274.5 L156.5,275.5 L157.0,276.8 L157.9,277.8 L159.1,278.7 L160.0,279.5 L160.4,280.6 L160.8,281.9 L161.6,282.9 L162.7,283.7 L163.5,284.8 L164.0,286.1 L164.6,287.3 L165.6,288.2 L166.7,288.9 L167.5,289.9 L168.0,291.0 L168.7,291.8 L170.2,292.6 L171.5,293.3 L172.6,294.2 L173.5,295.3 L174.5,296.0 L175.7,296.4 L176.6,297.0 L177.0,298.0 L177.7,299.5 L178.4,300.6 L179.2,301.6 L179.6,302.8 L179.4,304.0 L179.3,305.1 L179.6,306.2 L179.9,307.5 L179.5,308.6 L178.7,309.6 L178.2,310.6 L177.8,311.9 L177.1,313.2 L175.9,314.1 L174.6,314.7 L173.4,315.5 L172.3,316.5 L171.0,316.9 L169.5,316.8 L168.0,316.6 L166.5,316.7 L164.9,316.7 L163.9,316.2 L162.9,315.4 L161.8,314.7 L160.6,314.4 L159.3,314.1 L158.3,313.3 L157.3,312.3 L156.2,311.8 L154.9,311.6 L153.7,311.1 L152.9,310.2 L152.0,309.3 L150.9,308.8 L149.7,308.4 L148.7,307.6 L147.9,306.5 L146.9,305.4 L145.7,304.9 L144.6,304.4 L143.7,303.4 L143.0,302.2 L142.0,301.3 L140.7,300.7 L139.6,300.0 L138.7,298.9 L137.8,297.8 L136.7,297.1 L135.4,296.8 L134.3,296.2 L133.5,295.3 L132.5,294.5 L131.3,294.1 L130.0,293.7 L129.1,293.0 L128.3,291.9 L127.4,291.1 L126.3,290.7 L125.3,290.1 L124.5,288.9 L123.9,287.6 L123.0,286.6 L122.0,285.8 L121.1,284.8 L120.6,283.5 L120.1,282.3 L119.2,281.5 L118.2,280.7 L117.4,279.7 L116.8,278.3 L116.0,277.2 L114.8,276.4 L113.7,275.7 L113.1,274.6 L112.7,273.5 L112.1,272.7 L111.0,271.6 L110.3,270.3 L110.3,269.0 L110.6,267.9Z M111.4,267.2 L112.1,266.7 L113.1,266.2 L114.0,265.3 L114.9,264.3 L116.1,263.7 L117.4,263.5 L118.7,263.1 L119.7,262.4 L120.7,261.8 L121.8,262.0 L122.6,262.5 L123.4,262.8 L124.6,263.0 L126.0,263.4 L127.4,264.3 L128.5,265.0 L129.7,265.3 L131.1,265.2 L132.3,265.6 L133.5,266.4 L134.8,267.0 L136.2,267.2 L137.7,267.3 L138.7,267.9 L139.7,268.6 L140.8,269.1 L142.1,269.2 L143.4,269.4 L144.4,270.0 L145.4,270.8 L146.6,271.2 L147.8,271.3 L148.8,271.7 L149.6,272.5 L150.4,273.3 L151.5,273.8 L152.6,274.2 L153.4,275.0 L154.0,276.1 L154.7,277.0 L155.9,277.7 L157.1,278.5 L157.9,279.8 L158.4,280.8 L159.2,281.6 L160.3,282.3 L161.3,283.2 L161.9,284.4 L162.5,285.6 L163.5,286.5 L164.6,287.3 L165.5,288.4 L166.0,289.6 L166.6,290.6 L167.6,291.3 L168.6,291.9 L169.7,293.1 L170.7,294.4 L171.9,295.3 L173.2,295.7 L174.4,296.2 L175.2,297.1 L175.8,298.0 L176.5,298.5 L177.8,299.4 L178.5,300.5 L178.7,301.8 L178.8,303.0 L179.3,304.0 L179.7,305.1 L179.6,306.2 L179.0,307.3 L178.6,308.2 L178.4,309.4 L178.0,310.4 L177.0,311.2 L175.8,311.8 L174.9,312.7 L174.0,313.7 L173.0,314.5 L171.7,314.6 L170.5,314.7 L169.3,315.2 L168.0,315.7 L166.6,315.7 L165.2,315.2 L164.2,314.9 L163.0,314.9 L161.8,314.9 L160.6,314.3 L159.6,313.5 L158.4,313.0 L157.1,312.8 L155.8,312.4 L154.9,311.6 L154.0,310.7 L152.9,310.1 L151.7,309.8 L150.7,309.1 L150.0,308.0 L149.1,307.0 L147.9,306.4 L146.6,305.7 L145.8,304.9 L145.1,303.8 L144.1,302.9 L142.9,302.3 L141.7,301.6 L140.9,300.5 L140.1,299.4 L139.0,298.5 L137.7,297.9 L136.7,297.1 L136.0,296.0 L135.2,295.0 L134.2,294.4 L133.0,293.9 L132.1,293.0 L131.4,291.9 L130.6,291.0 L129.5,290.5 L128.4,290.0 L127.7,289.1 L127.1,288.0 L126.2,287.1 L124.9,286.5 L123.9,285.7 L123.2,284.6 L122.5,283.5 L121.5,282.7 L120.4,282.1 L119.5,281.2 L119.0,280.1 L118.2,278.9 L117.1,278.1 L115.9,277.3 L115.2,276.2 L114.7,274.9 L114.1,274.0 L113.1,273.3 L112.4,272.5 L112.0,271.1 L112.0,269.9 L111.7,268.9 L111.3,268.0Z M113.0,267.9 L113.4,267.7 L113.9,267.1 L114.6,266.2 L115.7,265.6 L117.0,265.3 L118.1,264.8 L119.0,264.0 L120.0,263.3 L121.0,263.1 L121.8,263.3 L122.4,263.3 L123.3,263.2 L124.4,263.5 L125.7,264.3 L127.2,265.1 L128.4,265.4 L129.7,265.4 L130.9,265.7 L132.1,266.4 L133.4,267.0 L134.8,267.2 L136.2,267.3 L137.5,267.8 L138.5,268.5 L139.6,268.9 L140.9,268.9 L142.2,269.1 L143.3,269.6 L144.4,270.2 L145.6,270.5 L146.9,270.5 L148.0,270.9 L148.9,271.6 L149.7,272.3 L150.8,272.8 L151.9,273.3 L152.7,274.1 L153.3,275.2 L153.9,276.2 L154.8,277.0 L155.7,277.9 L156.4,279.1 L157.0,280.5 L157.7,281.4 L158.6,282.1 L159.4,283.0 L160.0,284.2 L160.6,285.4 L161.5,286.3 L162.7,287.2 L163.6,288.2 L164.2,289.4 L164.9,290.4 L166.0,291.2 L167.0,291.9 L167.8,292.8 L168.8,294.2 L170.0,295.3 L171.4,295.9 L172.7,296.6 L173.6,297.5 L174.2,298.4 L174.9,299.0 L175.6,299.3 L176.5,300.4 L176.8,301.5 L177.0,302.5 L177.4,303.4 L177.9,304.2 L178.0,305.2 L177.6,306.1 L177.4,306.9 L177.5,307.8 L177.3,308.7 L176.7,309.4 L175.8,310.0 L175.0,310.8 L174.2,311.8 L173.3,312.6 L172.2,312.8 L171.2,312.9 L170.1,313.3 L169.1,313.8 L167.9,313.9 L166.7,313.6 L165.5,313.3 L164.6,313.4 L163.5,313.5 L162.4,313.1 L161.4,312.4 L160.3,312.0 L158.9,311.9 L157.7,311.6 L156.6,310.9 L155.7,310.2 L154.6,309.7 L153.4,309.4 L152.4,308.8 L151.7,307.8 L150.9,306.8 L149.9,306.1 L148.7,305.5 L147.6,304.5 L146.9,303.4 L146.1,302.5 L144.9,301.9 L143.8,301.2 L142.8,300.3 L141.9,299.2 L140.8,298.4 L139.5,297.9 L138.3,297.2 L137.4,296.2 L136.5,295.4 L135.4,294.8 L134.2,294.4 L133.1,293.7 L132.4,292.7 L131.5,291.8 L130.4,291.3 L129.4,290.7 L128.6,289.7 L128.0,288.7 L127.3,287.8 L126.2,287.0 L125.2,286.1 L124.6,285.0 L123.9,283.8 L123.0,282.9 L122.0,282.2 L121.2,281.3 L120.6,280.2 L119.9,279.2 L118.9,278.4 L117.7,277.6 L116.9,276.5 L116.3,275.3 L115.6,274.3 L114.6,273.6 L113.9,272.8 L113.6,272.0 L113.4,270.6 L113.0,269.6 L112.6,268.8 L112.6,268.2Z M113.7,268.2 L114.1,268.3 L114.6,268.0 L115.3,267.3 L116.1,266.3 L117.3,265.8 L118.5,265.5 L119.5,265.1 L120.3,264.4 L121.1,263.9 L121.8,264.1 L122.2,264.5 L122.7,264.7 L123.8,264.8 L125.2,265.4 L126.8,266.4 L128.0,267.0 L129.2,267.1 L130.6,267.1 L131.9,267.4 L133.1,268.0 L134.4,268.3 L135.9,268.3 L137.3,268.4 L138.4,268.9 L139.4,269.5 L140.6,269.8 L141.9,269.8 L143.1,270.1 L144.1,270.8 L145.1,271.5 L146.3,271.8 L147.4,272.0 L148.4,272.5 L149.1,273.2 L149.9,274.0 L151.0,274.4 L152.1,274.8 L152.8,275.7 L153.3,276.7 L154.1,277.6 L155.2,278.3 L156.2,279.3 L157.0,280.6 L157.4,281.7 L158.1,282.5 L159.0,283.3 L159.7,284.4 L160.2,285.7 L160.7,287.0 L161.7,287.9 L162.7,288.8 L163.5,289.9 L164.0,291.2 L164.8,292.2 L165.9,292.9 L166.9,293.7 L168.1,295.0 L169.2,296.4 L170.6,297.3 L171.9,297.8 L173.0,298.4 L173.7,299.3 L174.1,300.0 L174.6,300.3 L175.6,301.0 L176.2,301.9 L176.3,302.8 L176.4,303.6 L176.9,304.4 L177.3,305.2 L177.2,306.0 L176.8,306.7 L176.6,307.4 L176.6,308.3 L176.2,309.0 L175.3,309.5 L174.3,310.0 L173.5,310.7 L172.7,311.5 L171.9,312.0 L170.8,311.9 L169.8,312.0 L168.9,312.4 L167.9,312.8 L166.8,312.7 L165.6,312.3 L164.9,312.1 L163.9,312.3 L162.7,312.2 L161.7,311.7 L160.7,310.9 L159.6,310.5 L158.3,310.3 L157.2,309.8 L156.4,309.0 L155.5,308.2 L154.5,307.8 L153.4,307.5 L152.5,306.8 L151.7,305.9 L150.7,305.1 L149.4,304.6 L148.0,304.0 L147.1,303.2 L146.2,302.3 L145.2,301.5 L143.9,301.0 L142.8,300.3 L141.9,299.3 L141.0,298.1 L139.9,297.3 L138.7,296.7 L137.7,295.8 L137.0,294.8 L136.2,293.8 L135.1,293.2 L133.9,292.7 L133.0,291.9 L132.3,290.8 L131.4,290.0 L130.3,289.5 L129.3,288.9 L128.6,288.0 L128.1,287.0 L127.1,286.1 L126.0,285.3 L125.1,284.4 L124.5,283.3 L123.8,282.1 L122.9,281.4 L121.8,280.7 L121.1,279.8 L120.6,278.7 L119.7,277.6 L118.6,276.8 L117.5,276.0 L116.8,274.9 L116.3,273.8 L115.6,272.9 L114.8,272.3 L114.3,271.6 L114.1,270.3 L114.2,269.3 L114.0,268.7 L113.7,268.3Z M94.7,251.4 L95.7,249.7 L97.5,248.9 L99.3,248.8 L100.8,248.7 L102.4,248.4 L103.8,248.7 L104.9,250.0 L105.7,251.5 L106.8,252.4 L108.3,253.3 L109.4,254.5 L109.8,256.1 L109.8,257.7 L109.7,259.3 L109.4,260.9 L108.5,262.1 L107.5,263.2 L107.0,264.6 L106.7,266.2 L105.8,267.5 L104.4,267.9 L102.8,267.8 L101.2,268.1 L99.4,268.4 L97.5,268.0 L96.2,266.6 L95.7,265.5 L95.3,264.3 L95.2,262.9 L95.7,261.4 L96.1,259.8 L95.7,258.3 L94.5,256.8 L93.8,255.3 L93.8,253.8 L94.3,252.6Z M96.4,252.2 L96.4,250.3 L98.0,250.1 L99.4,251.2 L100.7,251.1 L102.0,249.9 L103.4,249.7 L104.3,251.0 L105.1,252.1 L106.4,252.7 L107.7,253.7 L108.2,254.9 L108.6,256.3 L108.8,257.8 L108.4,259.4 L107.9,260.8 L108.2,262.0 L108.2,263.6 L106.9,264.5 L105.1,264.7 L104.4,265.5 L104.0,267.1 L102.8,267.8 L101.1,267.0 L99.7,266.5 L98.1,267.1 L96.4,266.5 L96.2,265.3 L96.3,264.1 L95.5,262.9 L94.9,261.5 L95.3,259.9 L95.6,258.3 L94.9,256.8 L94.7,255.3 L95.9,254.0 L96.9,253.1Z M97.1,252.5 L97.4,251.3 L98.2,250.8 L99.4,250.6 L100.7,250.5 L101.8,250.7 L102.7,251.4 L103.4,252.3 L104.2,253.0 L105.4,253.5 L106.5,254.3 L107.0,255.3 L107.4,256.6 L107.7,258.0 L107.8,259.4 L107.4,260.7 L106.6,261.7 L106.0,262.6 L105.7,263.7 L105.3,264.9 L104.6,265.8 L103.7,266.2 L102.5,266.6 L101.1,267.0 L99.7,266.8 L98.8,266.0 L98.4,265.0 L98.0,264.7 L97.2,263.9 L96.6,262.7 L96.3,261.3 L96.2,259.8 L96.0,258.3 L96.1,256.7 L96.7,255.3 L97.3,254.1 L97.4,253.1Z M97.1,252.5 L97.7,251.7 L98.6,251.8 L99.5,251.9 L100.6,251.9 L101.5,252.1 L102.1,252.7 L102.8,253.2 L103.9,253.3 L105.2,253.7 L105.9,254.6 L105.9,255.7 L106.1,256.9 L106.5,258.1 L106.5,259.5 L105.9,260.6 L105.3,261.3 L105.1,262.2 L105.2,263.4 L104.8,264.4 L104.0,265.0 L103.3,265.4 L102.4,266.1 L101.0,266.4 L99.8,265.9 L99.4,265.0 L99.2,264.4 L98.7,264.5 L98.0,263.7 L97.9,262.5 L97.9,261.1 L97.6,259.7 L97.3,258.2 L97.6,256.7 L98.1,255.4 L98.1,254.2 L97.6,253.2Z M211.9,311.8 L211.5,313.6 L210.6,315.4 L208.9,316.3 L207.4,316.5 L206.0,317.1 L204.8,318.1 L203.4,318.7 L201.8,318.7 L200.2,318.4 L198.5,318.3 L196.9,318.2 L195.4,317.6 L193.9,316.8 L192.5,316.1 L191.0,315.5 L189.8,314.5 L188.8,313.2 L188.0,311.9 L187.4,310.6 L187.3,308.7 L187.4,307.0 L187.5,305.3 L187.8,303.5 L188.7,301.9 L190.1,300.8 L191.3,299.9 L192.5,298.8 L194.0,298.2 L195.6,298.4 L197.2,298.9 L198.8,298.7 L200.5,298.2 L202.2,298.5 L203.5,299.6 L204.9,300.6 L206.5,300.9 L208.0,301.5 L208.9,302.9 L209.3,304.4 L210.4,305.4 L211.9,306.3 L212.9,308.1 L212.6,310.1Z M211.0,311.6 L210.6,313.1 L209.2,314.2 L207.9,315.0 L207.1,316.0 L206.1,317.1 L204.6,317.3 L203.1,316.8 L201.7,316.8 L200.2,317.4 L198.7,317.6 L197.3,316.9 L196.0,316.1 L194.3,316.0 L192.6,316.0 L191.2,315.1 L190.5,313.8 L189.7,312.6 L188.5,311.6 L187.8,310.4 L187.8,308.6 L188.2,307.0 L188.3,305.5 L188.6,304.0 L189.6,302.6 L190.9,301.7 L192.0,301.1 L193.1,300.3 L194.4,299.9 L195.8,299.9 L197.3,299.9 L198.8,299.7 L200.3,299.8 L201.7,300.2 L203.2,300.6 L204.8,300.7 L206.3,301.2 L207.5,302.2 L208.5,303.3 L209.6,304.2 L210.7,305.3 L211.0,306.7 L210.8,308.4 L210.8,310.0Z M210.1,311.3 L209.3,312.4 L208.6,313.6 L207.7,314.7 L206.6,315.2 L205.4,315.4 L204.3,316.1 L203.1,317.0 L201.7,317.4 L200.3,316.5 L199.0,315.3 L197.8,315.0 L196.3,315.3 L194.6,315.4 L193.2,315.0 L192.0,314.2 L191.0,313.2 L190.5,311.9 L190.3,310.5 L189.9,309.6 L188.8,308.4 L188.1,307.0 L188.5,305.6 L189.6,304.5 L190.4,303.4 L191.1,302.0 L192.1,301.2 L193.5,301.2 L194.8,301.4 L196.0,301.3 L197.3,300.9 L198.7,300.6 L200.2,300.4 L201.7,300.2 L203.2,300.6 L204.2,301.9 L204.9,303.5 L205.9,304.2 L207.5,304.3 L209.1,304.7 L209.8,305.8 L210.0,307.1 L210.3,308.6 L210.4,310.0Z M208.7,311.0 L208.1,311.8 L207.7,312.9 L206.9,313.8 L206.1,314.1 L205.0,314.5 L204.0,315.0 L202.9,315.2 L201.7,315.1 L200.4,315.1 L199.0,315.6 L197.5,315.9 L196.3,315.3 L195.3,314.1 L194.2,313.3 L192.9,313.0 L191.8,312.5 L191.2,311.3 L190.9,310.2 L190.5,309.4 L190.0,308.2 L190.0,307.0 L190.1,306.0 L190.1,304.8 L190.5,303.4 L191.6,302.6 L192.8,302.6 L193.8,302.2 L194.8,301.3 L196.0,300.6 L197.3,300.9 L198.6,301.6 L199.9,301.9 L201.2,302.0 L202.5,302.5 L203.6,303.1 L204.9,303.6 L206.0,304.0 L206.9,304.9 L207.3,306.1 L207.9,306.9 L208.9,307.5 L209.8,308.6 L209.6,310.0Z M207.3,310.6 L207.5,311.4 L207.4,312.6 L206.6,313.5 L205.8,313.7 L204.9,314.1 L203.9,314.8 L202.8,315.0 L201.7,314.6 L200.4,314.3 L199.2,314.4 L197.9,314.5 L196.8,313.9 L195.7,313.1 L194.6,312.6 L193.5,312.2 L192.8,311.4 L192.5,310.3 L192.1,309.4 L191.4,309.0 L190.8,308.1 L190.7,307.0 L190.9,306.2 L190.8,305.2 L191.1,304.0 L192.1,303.2 L193.2,303.3 L194.2,303.2 L195.2,302.9 L196.3,302.9 L197.4,303.3 L198.5,303.5 L199.8,303.1 L201.1,302.7 L202.3,302.9 L203.5,303.4 L204.8,303.7 L206.0,304.1 L206.7,305.0 L206.9,306.4 L207.1,307.4 L207.5,308.1 L207.8,309.0 L207.5,309.9Z M89.2,333.7 L88.8,335.5 L87.6,337.1 L86.6,338.5 L86.1,340.1 L85.4,341.9 L83.8,342.7 L81.9,342.5 L80.5,343.0 L79.0,344.5 L77.1,345.0 L75.5,343.8 L74.2,342.6 L72.5,341.9 L70.7,341.0 L69.7,339.4 L69.4,337.4 L69.2,335.5 L69.4,333.7 L69.7,331.9 L69.8,330.1 L70.4,328.4 L71.9,327.3 L73.6,326.7 L74.6,325.4 L75.5,323.6 L77.2,322.9 L79.0,323.7 L80.5,324.1 L82.5,323.5 L84.5,323.6 L85.9,325.0 L86.7,326.8 L87.7,328.4 L88.6,330.0 L89.1,331.8Z M87.4,333.7 L86.9,335.2 L86.9,336.9 L86.6,338.5 L86.0,340.0 L85.1,341.5 L83.8,342.6 L82.0,342.7 L80.4,342.6 L79.0,343.1 L77.4,343.3 L76.0,342.6 L74.8,341.6 L73.2,341.2 L71.5,340.4 L70.9,338.8 L71.1,336.9 L70.9,335.3 L70.1,333.7 L70.0,332.0 L70.7,330.4 L71.4,328.9 L72.2,327.5 L73.3,326.3 L74.6,325.4 L75.8,324.3 L77.4,323.7 L79.0,324.2 L80.4,324.9 L81.9,324.9 L83.6,325.1 L84.8,326.2 L85.5,327.7 L86.7,328.9 L88.1,330.1 L88.3,332.0Z M86.3,333.7 L86.5,335.2 L86.4,336.7 L85.6,337.9 L84.6,338.9 L83.8,340.2 L83.1,341.4 L81.8,342.2 L80.4,342.5 L79.0,342.7 L77.6,342.7 L76.1,342.3 L74.8,341.7 L73.6,340.8 L72.7,339.5 L72.3,338.0 L71.8,336.6 L71.2,335.2 L71.0,333.7 L71.7,332.3 L72.3,330.9 L72.5,329.5 L72.9,328.0 L73.9,327.0 L75.2,326.3 L76.3,325.6 L77.6,324.8 L79.0,324.5 L80.4,324.6 L81.9,325.0 L83.2,325.8 L84.2,326.9 L85.2,328.0 L86.2,329.2 L86.6,330.6 L86.4,332.3Z M85.6,333.7 L86.3,335.1 L86.4,336.7 L85.5,337.9 L84.6,339.0 L83.9,340.3 L82.7,340.9 L81.2,340.6 L80.0,340.6 L79.0,341.4 L77.8,341.6 L76.7,340.9 L75.6,340.4 L74.2,340.1 L73.3,339.0 L73.4,337.4 L73.4,336.1 L72.6,335.0 L72.3,333.7 L72.7,332.4 L72.8,331.1 L72.5,329.5 L73.1,328.2 L74.6,327.7 L75.8,327.3 L76.7,326.5 L77.8,326.1 L79.0,326.5 L80.1,326.4 L81.6,325.8 L83.0,326.0 L83.8,327.3 L84.5,328.5 L85.5,329.5 L85.9,330.9 L85.5,332.4Z M85.6,333.7 L85.2,334.9 L84.3,336.0 L83.8,337.0 L83.7,338.3 L83.2,339.5 L82.2,340.1 L81.2,340.5 L80.1,341.1 L79.0,341.2 L78.0,340.7 L76.9,340.4 L75.7,340.2 L74.8,339.5 L74.5,338.1 L74.3,336.9 L73.8,336.0 L73.3,334.9 L73.3,333.7 L73.1,332.5 L72.8,331.1 L73.2,329.9 L74.4,329.2 L75.5,328.7 L76.2,327.9 L77.0,327.4 L78.1,327.3 L79.0,327.3 L80.0,327.0 L81.0,327.3 L81.7,328.1 L82.5,328.6 L83.8,329.0 L84.9,329.8 L85.3,331.1 L85.4,332.4Z M229.0,317.6 L229.7,316.3 L230.9,315.2 L232.0,314.2 L233.2,313.1 L234.5,312.5 L235.9,312.5 L237.1,312.9 L238.3,313.1 L239.6,313.2 L240.9,313.7 L242.0,314.5 L243.1,315.3 L244.3,315.6 L245.6,316.3 L246.5,317.5 L246.9,318.7 L247.4,319.8 L248.2,320.4 L248.8,320.6 L249.4,321.0 L250.4,321.5 L251.8,321.5 L253.3,321.3 L254.9,321.5 L256.3,322.4 L257.1,323.3 L258.2,323.9 L259.5,324.4 L260.6,325.3 L261.4,326.4 L262.3,327.5 L263.4,328.3 L264.4,329.3 L264.9,330.6 L265.1,332.0 L265.3,333.4 L265.8,334.8 L265.9,336.3 L265.5,337.7 L264.9,339.0 L264.5,340.2 L264.2,341.5 L263.5,342.7 L262.4,343.7 L261.3,344.7 L260.4,345.8 L259.6,347.0 L258.4,347.8 L257.2,348.1 L255.9,348.5 L254.6,349.2 L253.2,349.6 L251.7,349.6 L250.3,349.1 L249.0,348.8 L247.8,348.7 L246.5,348.2 L245.5,347.1 L244.7,345.9 L243.7,345.0 L242.6,344.2 L241.7,343.2 L241.1,341.9 L240.6,340.8 L239.8,339.6 L239.0,338.3 L238.7,336.9 L238.6,335.5 L238.2,334.3 L237.4,333.4 L236.6,332.8 L235.8,331.9 L234.9,330.9 L233.8,330.3 L232.6,329.8 L231.6,329.0 L231.2,327.9 L231.0,326.8 L230.4,325.7 L229.7,324.4 L229.4,323.0 L229.4,321.6 L229.4,320.3 L229.1,318.9Z M230.0,318.0 L230.6,316.8 L231.7,315.9 L233.0,315.3 L234.0,314.6 L235.0,313.9 L236.1,313.5 L237.0,313.7 L238.1,314.0 L239.3,314.0 L240.7,314.1 L242.0,314.7 L242.9,315.5 L243.8,316.2 L244.8,316.9 L245.6,317.9 L245.9,319.2 L246.0,320.5 L246.6,321.7 L247.7,322.5 L249.0,322.9 L250.4,323.3 L251.8,323.5 L253.2,323.3 L254.6,323.0 L255.9,323.2 L256.8,323.8 L257.8,324.5 L259.0,325.0 L260.3,325.5 L261.3,326.5 L261.9,327.7 L262.6,328.9 L263.3,329.8 L263.9,331.0 L263.9,332.3 L263.8,333.7 L263.9,335.0 L264.3,336.3 L264.3,337.6 L264.0,338.8 L263.6,339.9 L263.4,341.2 L263.2,342.6 L262.5,343.8 L261.4,344.7 L260.3,345.6 L259.3,346.7 L258.3,347.5 L257.0,347.8 L255.7,347.7 L254.3,347.8 L253.0,348.0 L251.7,348.1 L250.4,347.7 L249.3,347.2 L248.3,347.0 L247.1,346.9 L246.0,346.4 L245.1,345.5 L244.2,344.6 L243.0,343.8 L241.8,343.0 L241.0,342.0 L240.7,340.7 L240.3,339.4 L239.8,338.1 L239.4,336.7 L239.4,335.3 L239.3,333.8 L238.7,332.5 L237.6,331.6 L236.4,330.9 L235.3,330.1 L234.2,329.4 L233.1,329.1 L231.9,328.8 L231.0,328.0 L230.7,326.9 L230.3,325.7 L229.7,324.4 L229.2,323.0 L229.2,321.6 L229.6,320.3 L229.9,319.1Z M231.5,318.5 L232.0,317.7 L232.8,316.9 L233.8,316.3 L234.7,315.8 L235.5,315.1 L236.2,314.2 L237.0,313.7 L238.1,313.7 L239.3,314.2 L240.4,314.7 L241.6,315.4 L242.5,316.2 L243.1,317.1 L243.6,317.8 L244.5,318.5 L245.4,319.4 L246.2,320.4 L246.8,321.5 L247.7,322.5 L249.0,323.0 L250.4,323.3 L251.8,323.7 L253.2,324.1 L254.3,324.3 L255.4,324.4 L256.3,324.7 L257.1,325.4 L257.9,326.3 L258.8,327.1 L259.7,327.9 L260.4,328.9 L260.9,329.9 L261.4,330.7 L262.2,331.6 L263.0,332.6 L263.3,333.8 L263.3,335.1 L263.3,336.4 L263.3,337.6 L263.2,338.7 L262.8,339.6 L262.4,340.7 L262.1,341.9 L261.9,343.3 L261.2,344.5 L260.1,345.4 L258.8,345.9 L257.6,346.2 L256.5,346.4 L255.3,346.4 L254.1,346.2 L252.9,346.3 L251.7,346.8 L250.4,347.3 L249.3,347.3 L248.3,346.9 L247.3,346.4 L246.4,345.8 L245.6,344.9 L244.9,343.8 L244.3,342.7 L243.3,341.9 L242.2,341.3 L241.3,340.4 L240.9,339.3 L240.5,337.9 L240.1,336.6 L239.6,335.2 L239.3,333.8 L238.9,332.4 L237.8,331.3 L236.5,330.8 L235.2,330.4 L234.0,329.8 L233.1,329.0 L232.4,328.2 L231.9,327.5 L231.7,326.5 L231.6,325.4 L231.5,324.1 L231.0,322.9 L230.6,321.6 L230.5,320.3 L231.0,319.2Z M243.2,321.5 L243.3,323.1 L242.9,324.6 L241.7,325.8 L240.2,326.4 L238.8,326.8 L237.4,327.4 L235.8,327.5 L234.4,326.8 L233.3,325.6 L232.3,324.5 L231.4,323.1 L231.1,321.5 L231.7,320.0 L232.7,318.8 L233.6,317.7 L234.6,316.6 L235.9,316.1 L237.4,316.2 L238.7,316.5 L240.2,316.7 L241.7,317.2 L242.8,318.4 L243.1,320.0Z M242.5,321.5 L242.4,322.8 L241.7,324.0 L240.8,324.9 L239.9,325.8 L238.7,326.5 L237.4,326.6 L236.2,326.0 L235.2,325.4 L234.1,324.8 L233.2,323.9 L232.8,322.7 L232.9,321.5 L233.0,320.3 L233.1,319.0 L233.7,317.8 L234.9,317.1 L236.2,316.9 L237.4,316.7 L238.7,316.7 L239.9,317.1 L240.8,318.1 L241.3,319.2 L241.9,320.3Z M263.2,335.0 L262.8,336.7 L262.0,338.4 L261.2,339.8 L260.0,341.1 L258.4,341.8 L256.8,342.3 L255.8,342.7 L254.8,343.7 L253.7,344.4 L252.4,344.6 L251.1,344.5 L249.7,344.6 L248.2,344.7 L246.7,344.4 L245.2,343.2 L244.1,341.6 L243.3,340.0 L242.7,338.4 L242.4,336.7 L242.4,335.0 L242.6,333.4 L243.2,331.8 L244.0,330.4 L245.0,329.2 L246.0,327.7 L247.2,326.4 L248.4,325.8 L249.8,325.8 L251.2,325.9 L252.4,325.6 L253.7,325.3 L255.0,325.6 L256.2,326.3 L257.3,326.9 L258.9,327.5 L260.6,328.4 L261.8,329.8 L262.7,331.4 L263.2,333.2Z M262.0,335.0 L262.1,336.6 L261.9,338.3 L261.2,339.8 L259.9,341.0 L258.6,342.0 L257.2,342.9 L256.1,343.4 L254.8,343.5 L253.6,343.5 L252.4,343.6 L251.2,343.8 L250.0,343.5 L248.9,343.0 L247.8,342.5 L246.5,341.7 L245.3,340.6 L244.7,339.2 L244.4,337.7 L244.1,336.3 L244.0,335.0 L244.3,333.7 L244.8,332.4 L245.3,331.2 L245.8,329.8 L246.7,328.6 L247.9,327.7 L248.9,327.1 L250.0,326.4 L251.2,325.9 L252.4,325.9 L253.6,326.3 L254.8,326.6 L256.0,326.9 L257.0,327.4 L258.2,328.5 L259.3,329.6 L260.4,330.6 L261.4,331.9 L261.9,333.4Z M260.6,335.0 L261.1,336.4 L260.8,337.9 L259.8,339.0 L259.0,340.2 L258.2,341.5 L256.9,342.4 L255.7,342.3 L254.5,342.1 L253.4,342.5 L252.4,343.0 L251.3,342.8 L250.3,342.2 L249.2,342.0 L248.1,342.1 L246.8,341.3 L246.2,339.8 L245.9,338.5 L245.2,337.4 L244.6,336.3 L244.7,335.0 L245.2,333.9 L245.2,332.6 L245.2,331.1 L245.9,330.0 L247.3,329.4 L248.6,328.9 L249.3,328.2 L250.3,327.7 L251.4,327.9 L252.4,328.1 L253.4,327.8 L254.6,327.3 L255.8,327.4 L256.6,328.2 L257.7,329.1 L259.0,329.8 L260.0,330.9 L260.1,332.4 L260.1,333.8Z M271.0,339.5 L270.8,340.0 L270.7,340.5 L270.5,341.0 L270.1,341.4 L269.6,341.6 L269.0,341.6 L268.5,341.4 L268.1,341.0 L267.8,340.7 L267.5,340.3 L267.2,340.0 L267.0,339.5 L266.9,338.9 L267.1,338.4 L267.6,338.1 L268.1,337.9 L268.5,337.8 L269.0,337.7 L269.5,337.6 L270.1,337.6 L270.6,337.9 L270.9,338.4 L271.1,338.9Z M290.5,340.4 L290.4,341.3 L290.0,342.2 L289.4,342.8 L288.7,343.2 L288.1,343.4 L287.5,343.6 L286.9,343.6 L286.2,343.3 L285.7,342.8 L285.4,342.1 L285.3,341.2 L285.4,340.4 L285.5,339.6 L285.8,338.9 L286.0,338.2 L286.4,337.7 L286.9,337.4 L287.5,337.3 L288.0,337.4 L288.6,337.7 L289.2,338.1 L289.7,338.7 L290.2,339.5Z M288.8,340.4 L288.8,341.1 L288.7,341.7 L288.6,342.3 L288.3,342.8 L287.9,343.1 L287.5,343.1 L287.2,342.9 L286.9,342.5 L286.7,342.1 L286.5,341.6 L286.4,341.0 L286.3,340.4 L286.4,339.8 L286.6,339.2 L286.9,338.8 L287.2,338.6 L287.4,338.4 L287.5,338.3 L287.8,338.1 L288.2,338.2 L288.5,338.5 L288.8,339.1 L288.9,339.7Z M255.0,356.3 L254.7,357.2 L254.2,358.0 L253.5,358.7 L252.6,359.3 L251.5,359.7 L250.4,359.8 L249.3,359.6 L248.3,359.2 L247.5,358.6 L246.8,357.9 L246.3,357.2 L246.0,356.3 L246.1,355.4 L246.6,354.5 L247.4,353.9 L248.3,353.5 L249.4,353.4 L250.4,353.4 L251.4,353.4 L252.5,353.5 L253.5,353.8 L254.4,354.4 L254.9,355.3Z M253.6,356.3 L253.5,356.8 L253.2,357.3 L252.7,357.7 L252.0,358.0 L251.2,358.2 L250.4,358.4 L249.5,358.5 L248.6,358.4 L247.8,358.1 L247.3,357.5 L247.2,356.9 L247.2,356.3 L247.4,355.8 L247.6,355.3 L248.0,354.7 L248.6,354.1 L249.4,353.6 L250.4,353.4 L251.4,353.6 L252.3,354.0 L252.9,354.6 L253.3,355.3 L253.5,355.8Z M277.4,398.4 L277.3,400.0 L276.8,401.5 L275.9,402.5 L275.2,403.3 L274.6,403.9 L274.0,404.5 L273.1,404.5 L272.3,403.8 L271.8,402.7 L271.4,401.4 L270.8,400.0 L270.3,398.4 L270.1,396.7 L270.4,395.1 L271.2,393.8 L272.0,392.8 L272.9,392.0 L274.0,391.3 L275.3,391.6 L276.2,392.6 L276.6,393.9 L276.8,395.4 L277.1,396.8Z M276.1,398.4 L276.2,399.9 L276.0,401.2 L275.4,402.3 L274.9,403.1 L274.5,403.6 L274.0,404.0 L273.3,404.0 L272.8,403.3 L272.6,402.3 L272.4,401.1 L272.2,399.8 L272.0,398.4 L271.9,397.0 L272.2,395.6 L272.8,394.6 L273.3,393.9 L273.7,393.4 L274.0,393.0 L274.6,393.0 L275.1,393.6 L275.3,394.6 L275.5,395.7 L275.8,397.0Z M276.8,261.4 L278.1,261.1 L279.3,261.7 L280.4,262.7 L281.5,263.8 L282.4,264.8 L283.1,265.9 L283.5,267.0 L283.9,268.2 L284.3,269.6 L284.5,271.1 L284.3,272.5 L283.9,273.9 L283.5,275.1 L283.1,276.5 L282.5,277.8 L281.6,278.9 L280.9,280.0 L280.7,281.2 L280.6,282.6 L279.3,284.1 L277.3,284.4 L275.7,283.5 L275.0,282.6 L274.2,281.6 L273.6,280.3 L273.5,278.7 L273.5,277.2 L273.1,276.0 L272.3,274.7 L271.9,273.3 L272.2,271.8 L273.0,270.5 L273.4,269.2 L273.6,267.9 L273.8,266.3 L274.5,264.8 L275.3,263.5 L276.0,262.4Z M277.3,263.0 L277.8,262.7 L278.9,262.7 L280.0,263.3 L281.0,264.3 L281.8,265.3 L282.4,266.3 L282.5,267.2 L282.3,268.4 L282.0,269.6 L282.2,270.9 L282.5,272.3 L282.6,273.7 L282.3,274.9 L281.8,276.1 L281.4,277.4 L280.9,278.6 L280.2,279.6 L279.3,280.4 L278.8,280.8 L278.1,281.9 L277.3,282.6 L276.3,282.5 L276.0,281.9 L275.5,280.9 L274.8,279.8 L274.3,278.5 L274.2,277.1 L274.3,275.8 L274.2,274.7 L273.8,273.4 L273.5,272.0 L273.6,270.6 L274.0,269.3 L274.4,268.1 L274.8,266.6 L275.4,265.1 L276.2,264.0 L277.0,263.3Z M291.2,284.7 L291.0,285.4 L290.5,285.8 L289.9,286.1 L289.4,286.3 L288.9,286.4 L288.5,286.5 L288.0,286.5 L287.6,286.3 L287.3,285.9 L287.2,285.5 L287.2,285.0 L287.2,284.7 L287.1,284.3 L287.0,283.8 L287.1,283.3 L287.4,282.8 L287.9,282.5 L288.5,282.5 L289.1,282.6 L289.6,282.8 L290.1,283.1 L290.7,283.5 L291.1,284.0Z M299.3,283.0 L299.0,283.5 L298.8,284.0 L298.5,284.5 L298.2,285.1 L297.7,285.6 L297.0,285.8 L296.3,285.7 L295.7,285.3 L295.3,284.7 L295.0,284.2 L294.7,283.6 L294.6,283.0 L294.6,282.4 L294.8,281.8 L295.3,281.3 L295.8,281.0 L296.4,280.8 L297.0,280.6 L297.7,280.5 L298.4,280.5 L299.1,280.9 L299.5,281.6 L299.5,282.3Z M301.9,363.4 L303.6,363.5 L304.7,365.8 L305.2,366.9 L305.6,367.9 L305.4,369.1 L304.5,370.3 L303.7,371.6 L303.2,373.0 L303.1,374.5 L302.9,375.9 L302.7,377.4 L302.7,378.7 L302.7,380.0 L302.6,381.1 L302.0,382.0 L301.1,383.7 L300.6,384.9 L300.7,386.0 L301.0,387.0 L301.2,387.9 L301.3,388.7 L301.5,389.7 L302.0,390.8 L302.5,392.0 L302.8,393.4 L303.2,394.7 L303.7,396.0 L304.1,397.5 L304.0,399.0 L303.0,400.4 L301.8,401.7 L300.9,403.0 L300.3,404.3 L299.8,405.4 L299.2,406.2 L297.8,407.0 L296.3,407.1 L294.9,406.4 L294.0,405.0 L293.8,403.9 L293.4,402.7 L292.4,401.6 L291.1,400.5 L290.2,399.1 L289.9,397.5 L290.0,395.9 L290.3,394.7 L290.8,393.5 L291.5,392.4 L292.3,391.3 L292.9,390.1 L293.2,388.7 L293.6,387.5 L294.5,386.6 L295.7,385.9 L296.7,384.8 L297.1,383.6 L297.4,382.2 L297.6,381.0 L297.8,379.7 L298.0,378.4 L298.1,377.1 L298.5,375.9 L299.3,374.7 L299.9,373.4 L299.8,371.9 L299.3,370.5 L298.8,369.1 L298.8,367.9 L299.1,366.8 L299.3,365.7 L300.4,363.7Z M302.1,364.8 L302.4,364.7 L302.5,366.4 L302.4,366.7 L302.5,367.7 L302.4,368.8 L302.1,370.0 L301.9,371.4 L302.0,372.9 L302.3,374.4 L302.3,375.8 L302.0,377.2 L301.9,378.6 L302.0,379.9 L302.0,381.0 L301.7,381.9 L300.8,383.6 L300.1,384.6 L299.6,385.5 L299.1,386.6 L298.8,388.1 L298.8,389.5 L299.4,390.7 L300.3,391.7 L301.2,392.7 L301.8,393.8 L302.2,394.9 L302.5,396.0 L302.8,397.2 L302.6,398.6 L302.0,400.1 L301.1,401.4 L300.5,402.8 L299.9,404.0 L299.2,405.0 L298.4,405.3 L297.5,405.5 L296.7,405.5 L295.7,405.3 L294.6,404.4 L294.2,403.6 L293.7,402.6 L292.8,401.5 L292.0,400.2 L291.5,398.8 L291.6,397.4 L291.7,396.1 L291.8,395.1 L292.1,394.0 L292.7,393.0 L293.7,392.1 L294.5,391.1 L295.0,389.9 L295.6,388.7 L296.3,387.5 L297.1,386.5 L297.6,385.2 L297.9,383.8 L298.2,382.5 L298.8,381.3 L299.4,380.1 L299.8,378.8 L299.9,377.5 L300.1,376.2 L300.4,374.9 L300.8,373.4 L300.8,372.0 L300.5,370.6 L300.4,369.2 L300.6,368.0 L300.9,367.0 L300.9,366.4 L301.5,364.8Z M398.3,410.0 L398.1,411.3 L397.5,412.6 L396.9,413.9 L396.2,415.0 L395.3,415.8 L394.2,416.4 L393.2,417.3 L392.4,418.6 L391.5,419.8 L390.1,420.4 L388.6,420.5 L387.0,420.6 L385.5,420.8 L384.0,420.9 L382.5,420.7 L381.0,420.4 L379.5,420.3 L378.0,420.2 L376.7,419.4 L375.7,418.2 L374.9,417.1 L373.8,416.5 L372.6,415.9 L371.6,415.2 L370.7,414.1 L369.9,412.8 L369.2,411.5 L369.0,410.0 L369.5,408.6 L370.2,407.3 L370.6,405.9 L371.0,404.3 L371.7,403.2 L373.0,402.6 L374.4,402.1 L375.7,401.6 L377.0,401.3 L378.4,401.2 L379.8,401.1 L381.2,400.6 L382.6,399.9 L384.0,399.6 L385.4,399.9 L386.9,400.5 L388.3,400.7 L389.8,400.8 L391.2,401.0 L392.4,401.4 L393.7,402.0 L395.1,402.5 L396.2,403.3 L396.7,404.6 L397.0,406.1 L397.3,407.5 L397.9,408.7Z M397.0,410.0 L397.3,411.2 L397.6,412.6 L397.4,414.1 L396.4,415.2 L395.2,415.7 L394.0,416.2 L393.0,416.8 L391.8,417.3 L390.5,417.3 L389.2,417.4 L388.0,417.9 L386.7,418.6 L385.4,419.0 L384.0,419.0 L382.6,419.0 L381.2,419.3 L379.7,419.4 L378.3,419.0 L377.1,418.3 L376.0,417.8 L374.7,417.3 L373.7,416.5 L373.2,415.3 L372.9,414.2 L372.4,413.1 L371.9,412.1 L371.7,411.0 L371.8,410.0 L371.6,409.0 L371.2,407.7 L371.1,406.2 L371.6,404.8 L372.4,403.9 L373.4,403.1 L374.5,402.3 L375.9,402.0 L377.4,402.3 L378.9,402.7 L380.2,402.7 L381.4,402.3 L382.7,402.0 L384.0,401.7 L385.3,401.2 L386.9,400.4 L388.5,399.8 L390.0,400.0 L391.2,400.9 L392.3,401.8 L393.2,402.8 L393.9,404.0 L394.1,405.4 L394.3,406.5 L394.9,407.3 L395.8,408.0 L396.6,409.0Z M382.1,410.0 L381.7,411.8 L381.6,413.5 L381.4,415.3 L380.5,416.6 L379.2,417.1 L378.0,417.3 L376.7,417.3 L375.4,416.7 L374.6,415.3 L374.4,413.5 L374.2,411.8 L373.7,410.0 L373.6,408.1 L374.2,406.4 L375.1,405.0 L375.9,403.8 L376.7,402.6 L378.0,402.0 L379.3,402.7 L380.2,403.8 L381.1,404.9 L382.0,406.3 L382.4,408.1Z M380.9,410.0 L381.1,411.7 L381.1,413.4 L380.4,414.7 L379.5,415.5 L378.7,416.1 L378.0,416.6 L377.0,416.6 L376.3,415.8 L375.8,414.6 L375.2,413.3 L374.6,411.7 L374.4,410.0 L374.9,408.3 L375.6,406.9 L376.1,405.6 L376.6,404.5 L377.3,404.0 L378.0,404.2 L378.4,404.5 L379.2,404.7 L380.1,405.5 L380.7,406.8 L380.7,408.4Z M396.2,410.0 L396.3,411.9 L395.9,413.7 L395.1,415.1 L394.0,416.1 L393.0,416.7 L392.0,417.2 L390.8,417.1 L389.8,416.3 L388.9,415.1 L388.0,413.7 L387.3,411.9 L387.0,410.0 L387.3,408.1 L387.9,406.3 L388.6,404.7 L389.5,403.4 L390.7,402.7 L392.0,402.8 L393.1,403.2 L394.2,403.7 L395.2,404.8 L395.9,406.4 L396.1,408.2Z M395.5,410.0 L394.9,411.7 L394.5,413.2 L394.2,414.6 L393.6,415.6 L392.7,416.0 L392.0,415.8 L391.4,415.8 L390.3,415.7 L389.4,414.8 L389.0,413.4 L388.8,411.7 L388.6,410.0 L388.4,408.2 L388.9,406.6 L390.0,405.5 L390.9,404.9 L391.5,404.3 L392.0,403.8 L392.7,404.0 L393.2,404.8 L393.8,405.6 L394.8,406.7 L395.5,408.2Z M403.6,383.0 L403.5,383.6 L403.4,384.1 L403.1,384.6 L402.8,385.1 L402.4,385.5 L401.8,385.6 L401.3,385.4 L400.9,384.9 L400.8,384.3 L400.8,383.8 L400.7,383.4 L400.4,383.0 L400.1,382.4 L399.9,381.7 L400.1,381.1 L400.6,380.6 L401.2,380.5 L401.8,380.8 L402.2,381.1 L402.5,381.4 L402.8,381.7 L403.1,382.0 L403.4,382.5Z M344.9,395.0 L344.8,395.2 L344.9,395.5 L344.9,395.9 L344.8,396.3 L344.4,396.6 L344.0,396.5 L343.7,396.2 L343.5,395.9 L343.4,395.6 L343.2,395.5 L342.9,395.3 L342.7,395.0 L342.6,394.6 L342.8,394.3 L343.1,394.1 L343.5,394.1 L343.7,394.0 L344.0,393.9 L344.3,393.7 L344.7,393.7 L345.0,394.0 L345.1,394.4 L345.0,394.7Z M353.7,442.7 L353.7,443.0 L353.6,443.2 L353.4,443.4 L353.1,443.4 L352.9,443.4 L352.7,443.5 L352.4,443.7 L352.0,443.8 L351.6,443.8 L351.2,443.5 L351.2,443.1 L351.5,442.7 L351.9,442.5 L352.1,442.4 L352.2,442.2 L352.2,441.8 L352.3,441.3 L352.7,440.9 L353.2,440.8 L353.6,441.1 L353.8,441.6 L353.8,442.1 L353.7,442.4Z M316.0,268.1 L316.5,268.8 L317.2,269.8 L318.3,270.5 L319.7,271.1 L320.9,272.1 L321.4,273.6 L321.8,275.0 L322.3,276.0 L322.7,277.1 L322.4,278.3 L321.7,279.5 L321.3,280.7 L321.1,282.1 L320.7,283.5 L319.8,284.7 L318.9,285.9 L318.4,287.3 L318.3,288.7 L317.8,289.9 L317.1,291.0 L316.5,292.3 L316.6,293.7 L316.7,295.2 L316.3,296.6 L315.7,297.9 L315.4,299.3 L315.6,300.7 L315.4,302.0 L314.7,303.0 L313.9,303.8 L313.6,304.5 L313.2,305.3 L311.6,306.0 L310.3,305.0 L309.6,303.7 L308.7,301.8 L308.3,301.2 L308.4,300.3 L308.6,299.2 L308.4,298.1 L307.8,296.8 L307.5,295.4 L307.8,294.0 L308.2,292.7 L308.2,291.2 L308.2,289.8 L308.8,288.5 L309.8,287.4 L310.5,286.2 L310.6,285.1 L310.7,283.7 L311.3,282.4 L311.8,281.1 L311.8,279.8 L311.4,278.3 L311.2,277.0 L311.5,275.8 L311.8,274.7 L311.7,273.6 L311.6,272.5 L312.1,271.7 L313.5,270.0 L314.4,268.8 L315.1,268.1Z M350.3,281.0 L350.0,280.8 L350.6,281.5 L351.1,283.0 L351.8,284.6 L353.2,285.8 L354.8,286.4 L355.8,286.8 L356.9,287.3 L358.1,287.5 L359.4,287.2 L360.8,287.0 L362.1,287.1 L363.5,287.3 L364.8,287.0 L365.9,286.4 L367.0,286.1 L368.4,285.9 L369.6,285.5 L370.7,284.7 L371.5,283.7 L372.5,282.9 L373.8,282.4 L374.9,281.8 L376.0,280.9 L377.0,280.1 L378.3,279.7 L379.7,279.3 L380.9,278.7 L382.1,277.8 L383.3,277.2 L384.7,277.0 L385.9,277.1 L387.0,276.9 L388.4,276.8 L389.8,277.2 L390.8,278.2 L391.9,279.1 L393.1,279.9 L394.3,280.7 L395.1,281.9 L395.5,283.0 L396.1,284.1 L396.9,285.0 L397.6,286.2 L397.8,287.5 L398.0,288.8 L398.5,290.0 L399.3,291.0 L399.8,292.1 L400.2,293.5 L400.7,294.8 L401.6,295.8 L402.4,296.7 L402.9,297.8 L402.9,299.0 L403.1,300.1 L403.5,301.2 L403.7,302.5 L403.4,303.8 L402.9,305.0 L402.7,306.3 L402.7,307.7 L402.3,308.8 L401.5,309.7 L400.7,310.3 L399.9,311.3 L399.0,312.3 L397.8,312.9 L396.5,313.2 L395.2,313.7 L394.1,314.5 L393.1,315.3 L391.6,315.6 L390.2,315.7 L388.9,316.0 L387.6,316.6 L386.4,317.1 L385.2,317.4 L384.0,317.7 L383.0,318.5 L382.2,319.4 L381.2,320.1 L380.1,320.6 L379.1,321.3 L378.7,322.4 L378.5,323.5 L378.0,324.5 L377.3,325.5 L377.1,326.8 L377.1,328.3 L377.0,329.7 L376.4,331.0 L375.7,332.2 L375.3,333.4 L375.1,334.7 L374.6,335.9 L373.7,336.8 L372.9,337.9 L372.6,339.1 L372.2,340.4 L371.5,341.4 L370.7,342.3 L370.1,343.5 L369.8,344.8 L369.4,346.2 L368.6,347.4 L367.7,348.6 L367.2,349.8 L366.9,351.0 L366.4,352.0 L365.4,352.6 L363.4,353.4 L361.3,353.1 L360.0,351.3 L360.2,350.1 L360.8,349.2 L361.2,348.1 L361.4,346.8 L361.6,345.4 L362.4,344.1 L363.3,342.9 L363.8,341.5 L364.0,340.1 L364.4,338.8 L365.2,337.7 L366.0,336.6 L366.4,335.3 L366.7,333.9 L367.3,332.7 L368.2,331.6 L368.9,330.5 L369.1,329.2 L369.4,328.0 L370.0,327.0 L370.9,325.7 L371.2,324.3 L371.2,322.9 L371.4,321.6 L372.0,320.5 L372.8,319.4 L373.3,318.2 L373.7,317.0 L374.4,316.1 L375.4,315.3 L376.4,314.4 L377.1,313.3 L377.9,312.2 L378.9,311.4 L380.1,310.9 L381.1,310.1 L382.1,309.1 L383.3,308.4 L384.7,308.1 L386.2,308.0 L387.5,307.4 L388.6,306.6 L389.6,306.0 L390.7,305.7 L391.9,304.9 L392.7,303.7 L393.3,302.4 L394.0,301.4 L394.9,300.4 L395.4,299.2 L395.2,298.0 L395.0,296.9 L395.0,295.7 L394.9,294.3 L394.3,292.9 L393.3,291.8 L392.6,290.5 L392.2,289.2 L391.8,288.1 L390.9,287.1 L389.8,286.4 L389.0,285.6 L388.3,284.7 L387.2,284.1 L386.0,284.1 L384.9,284.3 L383.7,284.3 L382.2,284.3 L380.9,284.8 L379.6,285.7 L378.3,286.3 L376.8,286.6 L375.5,286.9 L374.5,287.7 L373.5,288.6 L372.4,289.3 L371.2,289.7 L370.0,290.1 L369.0,290.9 L367.9,291.5 L366.8,291.5 L365.6,291.3 L364.4,291.4 L363.1,291.8 L361.9,292.0 L360.6,291.7 L359.4,291.3 L358.3,291.3 L357.2,291.5 L356.2,291.3 L355.1,290.6 L354.0,289.9 L352.8,289.5 L351.6,289.0 L350.8,288.2 L350.5,287.2 L350.1,286.6 L349.5,285.4 L349.3,283.8 L349.8,282.2 L350.4,281.1Z M385.9,289.8 L387.3,290.2 L388.5,290.2 L390.3,290.3 L391.8,291.1 L392.2,292.9 L391.9,294.4 L392.3,295.6 L393.4,296.8 L394.1,298.2 L393.8,299.7 L393.2,300.8 L393.3,301.7 L393.4,303.0 L392.6,304.1 L391.0,304.3 L389.3,304.1 L388.1,304.6 L387.1,305.8 L385.9,306.4 L384.9,305.8 L384.0,304.8 L382.8,304.2 L381.2,303.8 L380.0,302.8 L380.0,301.2 L380.5,300.0 L380.4,299.1 L379.8,297.5 L379.9,295.9 L381.1,294.7 L382.6,293.7 L383.5,292.5 L383.9,291.0 L384.7,289.9Z M365.3,318.2 L365.2,319.6 L364.7,320.9 L363.8,321.9 L362.9,322.8 L362.1,324.0 L361.5,325.2 L360.7,326.0 L359.4,326.5 L358.6,326.4 L357.9,325.9 L357.2,324.8 L357.0,323.6 L357.4,322.3 L357.9,320.9 L358.2,319.8 L358.4,318.5 L358.8,317.2 L359.5,316.1 L360.4,315.1 L360.9,313.9 L361.1,312.6 L361.3,311.4 L362.1,310.1 L363.0,309.2 L363.7,308.4 L364.5,307.4 L365.6,307.1 L366.2,308.0 L366.0,309.3 L365.8,310.3 L366.0,311.6 L366.2,313.1 L366.0,314.3 L365.6,315.5 L365.3,316.8Z M364.0,317.7 L362.6,318.5 L361.6,319.5 L361.4,320.7 L361.5,322.0 L361.1,323.4 L360.3,324.3 L359.7,325.0 L359.1,325.9 L358.6,326.4 L358.2,325.8 L358.7,324.6 L359.3,323.7 L359.3,322.6 L359.0,321.1 L359.1,320.0 L359.7,318.9 L360.5,317.8 L360.8,316.6 L360.6,315.2 L360.8,313.8 L361.5,312.8 L362.4,311.9 L363.1,310.7 L363.4,309.5 L364.0,308.6 L365.1,308.5 L364.9,309.1 L364.2,308.9 L364.8,309.4 L365.6,310.3 L365.6,311.6 L365.2,312.9 L365.0,314.0 L365.0,315.4 L364.9,316.7Z M354.4,315.5 L354.4,317.0 L353.7,318.4 L352.6,319.5 L351.9,320.6 L351.3,322.0 L350.4,323.1 L349.4,323.8 L348.4,324.4 L347.7,325.1 L346.4,324.8 L345.9,323.4 L346.4,322.0 L346.7,320.6 L346.6,319.1 L346.4,317.8 L346.7,316.4 L347.0,315.0 L346.9,313.5 L346.7,312.0 L347.1,310.6 L348.1,309.4 L349.1,308.5 L350.0,307.2 L350.7,305.9 L351.5,305.1 L352.5,304.3 L353.3,303.9 L354.4,304.3 L354.9,305.7 L354.8,306.9 L354.6,308.4 L354.5,309.9 L354.3,311.2 L354.1,312.6 L354.1,314.0Z M328.9,321.9 L329.7,321.0 L330.9,321.6 L331.6,323.2 L332.4,325.3 L332.6,326.1 L333.0,327.1 L333.3,328.3 L333.5,329.6 L334.0,330.9 L334.9,332.2 L335.6,333.5 L336.0,334.9 L336.1,336.4 L336.4,337.7 L336.7,338.9 L336.8,340.0 L336.6,341.6 L336.3,343.2 L336.4,344.6 L336.7,346.1 L336.8,347.4 L336.7,348.6 L336.5,349.5 L336.4,350.4 L335.1,351.3 L333.6,350.6 L332.6,349.0 L331.8,347.1 L331.5,346.2 L331.0,345.3 L330.7,344.2 L330.5,342.9 L330.1,341.7 L329.3,340.5 L328.6,339.2 L328.4,337.8 L328.4,336.4 L328.4,335.1 L328.2,333.7 L328.2,332.2 L328.6,330.7 L329.0,329.1 L329.0,327.6 L328.7,326.1 L328.6,324.8 L328.7,323.6 L328.9,322.7Z M344.0,329.0 L344.7,328.4 L345.8,328.7 L346.7,329.8 L347.5,331.0 L348.6,332.1 L349.8,333.2 L350.3,334.0 L350.3,335.2 L350.3,336.6 L350.9,337.7 L352.1,338.7 L353.1,339.8 L353.3,341.2 L353.1,342.6 L353.4,343.9 L354.5,345.0 L355.3,346.3 L355.0,347.9 L354.1,349.3 L353.5,350.8 L353.8,352.3 L354.1,353.8 L353.5,354.9 L352.3,355.4 L351.7,355.4 L351.2,355.9 L349.9,356.2 L348.5,355.5 L347.7,353.9 L346.9,352.3 L345.7,351.2 L344.5,350.5 L343.8,349.4 L343.8,348.1 L343.9,346.6 L343.7,345.3 L343.2,344.0 L342.9,342.6 L343.1,341.3 L343.4,340.0 L343.6,338.7 L343.5,337.3 L343.4,335.8 L343.3,334.3 L343.4,332.9 L343.5,331.6 L343.7,330.5 L343.9,329.7Z M363.9,333.9 L365.0,333.3 L366.3,333.8 L367.6,334.5 L369.0,335.1 L370.4,335.8 L371.0,336.7 L370.9,338.0 L370.6,339.4 L370.6,340.8 L370.7,342.3 L370.5,343.7 L369.9,345.0 L369.4,346.3 L369.0,347.9 L368.7,349.6 L367.8,351.0 L366.5,351.9 L365.4,352.4 L365.0,352.6 L364.4,352.7 L363.6,352.0 L363.1,350.7 L362.8,349.2 L362.2,347.6 L361.7,346.0 L361.8,344.9 L362.4,343.7 L362.9,342.4 L362.8,341.0 L362.5,339.4 L362.4,338.0 L362.9,336.7 L363.4,335.6 L363.7,334.7Z M331.6,325.6 L331.7,326.6 L331.6,327.6 L331.2,328.5 L330.6,329.1 L329.9,329.4 L329.3,329.4 L328.7,329.3 L328.0,329.1 L327.4,328.5 L326.8,327.7 L326.7,326.7 L326.8,325.6 L327.2,324.6 L327.7,323.8 L328.0,323.1 L328.3,322.4 L328.6,321.7 L329.3,321.2 L330.2,321.3 L330.9,321.8 L331.2,322.7 L331.4,323.6 L331.5,324.6Z M336.2,346.0 L336.5,346.9 L336.5,347.9 L336.2,348.7 L335.6,349.3 L334.9,349.5 L334.3,349.3 L334.0,349.0 L333.6,348.7 L333.2,348.3 L332.7,347.7 L332.3,346.9 L332.1,346.0 L332.2,345.1 L332.4,344.2 L332.8,343.5 L333.2,342.9 L333.7,342.5 L334.3,342.4 L334.8,342.6 L335.2,343.1 L335.4,343.7 L335.6,344.4 L335.9,345.1Z M302.6,282.5 L302.6,283.5 L302.0,284.5 L301.2,285.1 L300.1,285.3 L299.0,285.5 L298.0,285.5 L296.9,285.6 L295.8,285.5 L294.8,285.1 L294.1,284.3 L293.8,283.4 L293.9,282.5 L294.2,281.7 L294.6,281.0 L295.1,280.3 L295.8,279.5 L296.8,279.0 L298.0,278.8 L299.1,279.1 L300.1,279.6 L300.9,280.3 L301.6,280.9 L302.2,281.6Z M301.9,282.5 L301.7,283.2 L301.1,283.7 L300.4,284.0 L299.6,284.2 L298.8,284.3 L298.0,284.4 L297.1,284.5 L296.3,284.4 L295.6,284.1 L295.1,283.6 L294.8,283.0 L294.8,282.5 L294.9,282.0 L295.1,281.4 L295.5,280.9 L296.2,280.4 L297.1,280.1 L298.0,280.1 L298.9,280.3 L299.7,280.5 L300.5,280.9 L301.1,281.3 L301.6,281.8Z M290.1,283.6 L290.3,284.2 L290.1,284.8 L289.6,285.2 L289.0,285.3 L288.4,285.1 L288.0,285.0 L287.6,284.9 L287.2,285.0 L286.7,284.9 L286.1,284.7 L285.8,284.2 L285.7,283.6 L285.9,283.0 L286.1,282.5 L286.4,282.0 L286.8,281.6 L287.4,281.3 L288.0,281.3 L288.5,281.6 L288.9,282.0 L289.1,282.5 L289.4,282.8 L289.7,283.1Z M301.0,318.0 L301.1,318.9 L300.9,319.8 L300.5,320.5 L299.9,320.9 L299.4,321.1 L299.0,321.2 L298.5,321.2 L298.0,321.1 L297.4,320.6 L297.1,319.8 L297.1,318.9 L297.2,318.0 L297.4,317.2 L297.6,316.3 L297.6,315.6 L297.8,314.8 L298.3,314.2 L299.0,314.0 L299.7,314.3 L300.1,314.9 L300.2,315.6 L300.4,316.3 L300.7,317.1Z M291.1,338.7 L290.9,339.8 L290.6,340.8 L290.1,341.7 L289.5,342.4 L288.8,342.8 L288.0,343.0 L287.2,342.9 L286.5,342.4 L286.1,341.6 L285.7,340.7 L285.5,339.7 L285.3,338.7 L285.3,337.6 L285.4,336.5 L285.7,335.5 L286.3,334.8 L287.2,334.4 L288.0,334.4 L288.7,334.7 L289.4,335.1 L290.0,335.8 L290.5,336.6 L290.9,337.6Z M290.1,338.7 L289.9,339.6 L289.6,340.5 L289.1,341.1 L288.7,341.6 L288.4,341.9 L288.0,342.1 L287.5,342.1 L287.0,341.8 L286.7,341.2 L286.5,340.5 L286.4,339.6 L286.5,338.7 L286.5,337.8 L286.6,337.0 L286.8,336.2 L287.1,335.6 L287.6,335.3 L288.0,335.3 L288.4,335.5 L288.8,335.8 L289.2,336.2 L289.6,336.9 L289.9,337.7Z M321.9,299.8 L323.1,299.8 L324.3,300.1 L326.1,300.9 L327.6,302.7 L327.7,303.7 L327.6,304.9 L328.0,306.0 L328.8,307.1 L329.5,308.4 L329.5,309.8 L329.3,311.4 L329.4,312.8 L329.9,314.2 L330.1,315.5 L329.9,316.8 L329.6,318.0 L329.5,319.4 L329.3,320.9 L328.9,322.4 L328.5,323.9 L328.2,325.4 L327.9,326.8 L327.3,327.9 L326.6,328.7 L326.1,329.4 L326.0,330.0 L325.3,330.2 L324.8,329.3 L324.7,327.9 L324.1,326.5 L323.1,325.1 L322.3,323.6 L322.2,322.0 L322.3,320.8 L322.0,319.7 L321.3,318.6 L320.7,317.4 L320.6,316.1 L320.6,314.8 L320.3,313.6 L319.8,312.4 L319.6,311.2 L319.7,310.0 L319.7,308.5 L319.7,307.0 L320.0,305.5 L320.5,304.0 L320.8,302.7 L320.9,301.5 L321.2,300.4Z M382.0,218.5 L381.4,219.9 L379.9,220.8 L378.2,221.2 L376.9,221.9 L376.2,223.2 L375.0,224.6 L373.5,225.4 L372.0,225.8 L370.5,226.1 L368.8,226.1 L367.2,225.3 L366.0,224.5 L364.5,223.8 L363.1,222.4 L362.9,220.5 L363.8,219.1 L364.5,217.6 L364.6,216.0 L364.8,214.3 L365.2,213.0 L365.8,211.6 L366.4,210.2 L367.4,209.0 L368.8,208.1 L370.0,207.3 L370.7,205.8 L371.1,204.1 L372.1,202.9 L373.6,202.5 L375.3,202.0 L376.7,201.2 L378.1,200.4 L379.5,200.0 L381.3,199.6 L383.2,199.4 L385.0,200.2 L385.7,202.1 L385.7,203.9 L386.2,205.5 L387.0,207.0 L387.2,208.7 L386.5,210.3 L385.5,211.8 L384.9,213.1 L384.1,214.3 L383.1,215.5 L382.4,216.9Z M380.8,217.5 L380.2,218.9 L379.1,220.0 L377.5,220.4 L376.1,220.9 L375.3,222.0 L374.5,223.7 L373.3,224.8 L371.7,224.9 L370.3,224.7 L368.8,225.0 L367.3,225.0 L366.1,224.4 L365.3,223.3 L364.4,222.0 L363.7,220.5 L363.7,219.0 L364.6,217.7 L365.4,216.3 L365.6,214.7 L365.7,213.2 L366.1,211.8 L366.9,210.5 L367.9,209.3 L369.1,208.4 L370.4,207.6 L371.3,206.4 L371.8,204.8 L372.5,203.4 L373.9,202.9 L375.8,202.8 L377.3,202.4 L378.4,201.4 L379.6,200.5 L381.2,200.5 L382.6,201.1 L383.8,201.7 L384.8,202.6 L385.2,204.1 L384.9,205.6 L384.9,206.8 L385.3,208.3 L385.3,209.9 L384.5,211.4 L383.5,212.4 L382.6,213.5 L381.9,214.8 L381.3,216.1Z M380.5,217.3 L379.5,218.3 L378.2,219.0 L377.1,220.0 L376.2,221.1 L375.2,221.9 L373.8,222.5 L372.5,223.1 L371.3,223.9 L370.2,224.4 L368.8,224.3 L367.7,223.7 L366.9,223.3 L366.2,222.7 L365.8,221.6 L365.9,220.3 L365.9,219.2 L365.6,217.9 L365.6,216.3 L366.1,214.9 L366.7,213.7 L367.1,212.3 L367.7,211.0 L368.8,209.9 L370.1,209.2 L371.2,208.3 L372.1,207.2 L373.2,206.3 L374.4,205.7 L375.4,204.9 L376.3,203.6 L377.3,202.5 L378.6,201.9 L379.7,201.5 L381.2,201.1 L382.6,201.1 L383.7,201.9 L384.0,203.2 L384.2,204.4 L384.5,205.7 L384.3,206.8 L383.7,208.0 L383.3,209.3 L383.2,210.9 L383.1,212.2 L382.4,213.4 L381.6,214.6 L381.1,215.9Z M379.8,216.8 L379.1,218.0 L378.3,219.2 L377.0,219.9 L375.5,220.3 L374.5,220.8 L373.3,221.7 L372.1,222.3 L370.8,222.4 L369.9,222.6 L368.9,223.0 L368.0,223.1 L367.6,222.5 L367.6,221.8 L367.3,221.2 L366.8,220.2 L366.9,219.3 L367.2,218.2 L367.2,216.8 L367.1,215.2 L367.3,214.0 L368.2,212.9 L369.1,211.9 L369.7,210.6 L370.4,209.4 L371.6,208.6 L372.8,207.9 L373.6,206.8 L374.3,205.6 L375.3,204.8 L376.8,204.4 L378.0,204.0 L379.1,203.4 L380.0,203.2 L381.1,203.6 L381.7,204.0 L382.2,203.8 L382.9,203.8 L383.3,204.6 L383.4,205.7 L383.7,206.7 L383.9,208.0 L383.6,209.4 L382.7,210.7 L382.2,211.8 L382.0,213.2 L381.6,214.6 L380.7,215.7Z M378.0,215.3 L377.5,216.6 L377.0,218.0 L376.2,219.0 L374.9,219.5 L373.8,219.9 L372.6,220.4 L371.4,220.8 L370.3,220.9 L369.7,221.0 L368.9,221.6 L368.3,222.2 L367.8,222.2 L367.7,221.8 L367.6,221.1 L367.5,220.2 L367.9,219.4 L368.5,218.5 L368.9,217.3 L368.8,215.9 L368.7,214.6 L369.0,213.4 L369.7,212.2 L370.3,211.0 L371.1,209.9 L372.2,209.2 L373.6,208.6 L374.6,207.8 L375.2,206.6 L375.8,205.6 L376.9,204.7 L378.0,203.8 L379.0,203.0 L379.9,202.7 L381.1,203.2 L381.7,203.9 L381.9,204.2 L382.2,204.3 L382.6,204.8 L382.8,205.8 L383.1,206.7 L383.4,207.9 L383.1,209.3 L382.1,210.4 L381.1,211.2 L380.3,212.2 L379.6,213.3 L378.7,214.3Z M367.8,214.0 L368.1,213.5 L368.4,212.7 L368.6,211.7 L368.7,210.5 L369.2,209.2 L370.1,208.0 L371.1,206.8 L371.9,205.5 L372.5,204.1 L373.3,202.8 L374.2,201.6 L374.9,200.5 L375.2,199.3 L375.3,198.0 L375.6,196.8 L376.2,195.8 L376.8,194.7 L377.3,193.6 L377.9,192.6 L378.9,191.8 L380.1,191.2 L381.3,190.5 L382.2,189.6 L382.9,188.5 L383.7,187.5 L384.4,186.5 L384.9,185.4 L384.9,184.0 L384.9,182.6 L385.2,181.3 L385.8,180.2 L386.5,179.1 L387.0,178.0 L387.6,176.9 L388.7,176.0 L389.8,175.2 L390.7,174.3 L391.3,173.3 L391.7,172.2 L392.3,171.2 L393.1,170.0 L393.6,168.7 L393.9,167.2 L394.3,165.8 L395.1,164.6 L396.0,163.6 L396.8,162.5 L397.3,161.3 L398.0,160.3 L398.8,159.6 L399.7,158.9 L400.2,158.1 L401.5,155.9 L402.8,154.2 L403.9,153.5 L403.7,154.0 L403.5,154.4 L403.4,155.1 L403.0,155.9 L402.3,156.7 L401.5,157.7 L401.1,158.9 L400.9,160.3 L400.5,161.7 L399.8,163.0 L399.1,164.4 L398.7,165.8 L398.2,167.1 L397.5,168.3 L396.5,169.0 L395.5,169.8 L394.7,170.8 L394.1,171.8 L393.3,172.9 L392.5,173.9 L392.0,175.0 L391.8,176.4 L391.8,177.8 L391.6,179.1 L391.0,180.3 L390.5,181.4 L390.0,182.5 L389.5,183.5 L388.5,184.3 L387.2,185.1 L386.1,186.0 L385.3,187.1 L384.7,188.2 L384.0,189.3 L383.3,190.3 L382.9,191.5 L382.7,192.9 L382.6,194.2 L382.1,195.3 L381.3,196.3 L380.6,197.4 L380.1,198.5 L379.4,199.6 L378.4,200.6 L377.3,201.6 L376.5,202.7 L376.1,204.0 L375.7,205.2 L375.0,206.3 L374.3,207.2 L373.9,208.3 L373.7,209.3 L373.2,210.2 L371.8,211.7 L370.2,213.0 L369.0,213.9 L368.3,214.5Z M404.0,153.1 L403.0,153.6 L401.9,154.0 L400.8,154.7 L400.1,155.9 L399.6,157.2 L398.9,158.4 L397.9,159.4 L397.1,160.6 L396.7,161.9 L396.3,163.2 L395.6,164.2 L394.6,165.2 L393.9,166.3 L393.6,167.7 L393.3,169.0 L392.5,170.0 L391.7,171.0 L391.3,172.1 L391.2,173.3 L391.0,174.3 L390.3,175.6 L389.7,177.0 L389.6,178.4 L389.8,179.7 L389.7,180.8 L389.3,181.9 L389.2,182.9 L389.9,184.1 L390.8,184.7 L391.9,185.7 L392.9,187.1 L393.5,188.0 L394.6,188.6 L395.6,189.3 L396.4,190.3 L397.1,191.5 L397.9,192.4 L398.9,193.2 L399.6,194.2 L399.8,195.3 L399.8,196.5 L400.2,197.6 L400.8,198.8 L401.0,200.1 L400.9,201.4 L400.9,202.7 L401.3,203.9 L401.9,205.0 L402.2,206.5 L402.1,208.0 L402.3,209.5 L402.9,210.8 L403.5,212.0 L403.6,213.1 L403.8,214.2 L405.0,215.4 L406.6,215.4 L407.9,214.8 L408.7,214.5 L409.6,214.0 L410.1,213.0 L410.4,211.7 L411.1,210.4 L412.2,209.1 L412.8,208.3 L413.1,207.1 L413.3,205.8 L413.9,204.7 L414.8,203.6 L415.4,202.3 L415.7,200.9 L415.9,199.4 L416.6,198.2 L417.3,197.1 L417.7,195.9 L417.8,194.5 L418.1,193.2 L418.8,192.0 L419.5,191.0 L419.8,189.7 L419.9,188.4 L420.2,187.3 L420.9,186.2 L421.4,185.1 L421.5,183.9 L421.3,182.8 L421.5,181.7 L422.0,180.5 L422.1,179.4 L421.8,178.3 L421.5,177.1 L421.6,175.9 L421.9,174.6 L421.8,173.3 L421.4,171.9 L421.1,170.8 L421.4,169.6 L421.6,168.3 L421.5,166.9 L421.0,165.5 L420.8,164.1 L421.0,162.7 L421.0,161.2 L420.5,159.9 L419.7,158.8 L419.3,157.7 L419.1,156.5 L418.5,155.6 L417.3,155.0 L416.0,154.6 L414.8,153.9 L413.6,153.1 L412.1,152.7 L410.6,152.8 L409.1,152.8 L407.7,152.5 L406.3,152.2 L405.0,152.5Z M405.7,153.3 L404.9,154.2 L404.2,155.0 L403.4,155.9 L402.5,156.8 L401.7,157.9 L400.9,159.1 L400.1,160.2 L399.4,161.5 L399.0,162.9 L398.8,164.3 L398.2,165.4 L397.3,166.2 L396.0,167.0 L394.8,168.0 L393.9,169.0 L393.2,170.1 L392.6,171.3 L392.4,172.5 L392.4,173.8 L392.3,175.0 L391.9,176.0 L391.3,177.5 L391.0,179.1 L391.2,180.6 L391.5,182.0 L391.7,183.1 L392.1,183.9 L393.0,184.3 L394.3,184.5 L396.0,184.8 L397.6,185.2 L398.9,185.3 L400.0,185.1 L401.4,185.0 L402.7,185.2 L403.9,185.4 L405.1,185.4 L406.3,185.4 L407.5,185.5 L408.8,185.7 L410.0,185.4 L410.8,184.7 L411.7,183.7 L412.7,182.7 L413.7,181.5 L414.3,180.0 L414.2,178.9 L413.8,177.7 L413.1,176.6 L412.2,175.5 L410.9,174.6 L409.9,173.4 L409.6,172.0 L410.2,170.5 L411.1,169.4 L411.8,168.4 L412.6,167.3 L413.3,166.2 L413.9,165.0 L414.3,163.7 L414.7,162.3 L415.5,160.9 L416.3,159.6 L416.8,158.2 L416.6,156.9 L415.7,156.2 L414.8,155.9 L413.9,155.5 L412.7,155.1 L411.5,154.6 L410.1,153.9 L408.7,153.2 L407.1,152.8Z M454.0,171.5 L453.6,172.3 L453.7,173.3 L454.2,174.4 L454.4,175.7 L454.4,177.2 L454.6,178.7 L455.3,180.1 L455.9,181.5 L455.9,183.0 L455.6,184.4 L455.6,185.6 L455.9,186.5 L456.2,187.5 L458.3,188.2 L460.1,185.6 L460.5,184.3 L460.7,182.4 L461.3,180.5 L462.2,179.1 L462.9,178.2 L463.4,178.0 L463.9,178.5 L463.9,179.5 L463.7,180.9 L463.7,182.5 L464.3,184.1 L464.7,185.8 L464.8,187.5 L464.7,189.1 L465.0,190.3 L465.5,191.2 L465.6,191.7 L466.4,192.0 L467.3,191.4 L467.8,190.1 L468.1,188.4 L468.6,186.8 L469.2,185.2 L469.5,183.7 L469.4,182.4 L469.8,180.4 L470.4,179.2 L470.8,178.4 L469.7,177.2 L468.2,177.4 L467.9,178.1 L467.2,179.7 L466.6,181.4 L466.5,182.8 L465.8,183.5 L465.2,182.6 L465.2,181.4 L465.1,179.9 L464.7,178.3 L464.2,176.6 L464.1,174.9 L464.0,173.4 L463.5,172.5 L462.9,172.6 L463.0,173.0 L462.3,173.8 L461.4,175.3 L460.7,177.1 L460.0,178.8 L459.0,179.9 L458.0,179.9 L458.2,179.4 L457.9,178.4 L457.5,176.8 L457.6,175.1 L457.7,173.4 L457.5,171.9 L456.9,171.1 L455.3,170.0Z M458.2,193.0 L458.3,193.3 L458.4,193.8 L458.3,194.3 L458.0,194.8 L457.5,195.0 L457.0,194.9 L456.6,194.6 L456.2,194.4 L455.9,194.1 L455.6,193.8 L455.4,193.4 L455.2,193.0 L455.3,192.5 L455.4,192.1 L455.6,191.6 L456.0,191.2 L456.4,190.8 L457.0,190.6 L457.6,190.7 L458.1,191.1 L458.3,191.7 L458.3,192.3 L458.2,192.7Z M447.7,215.3 L447.7,215.6 L447.7,216.0 L447.6,216.5 L447.4,217.0 L446.9,217.3 L446.4,217.3 L445.9,217.1 L445.6,216.8 L445.3,216.4 L445.1,216.0 L444.9,215.7 L444.8,215.3 L444.8,214.9 L445.0,214.5 L445.4,214.3 L445.7,214.1 L446.0,214.0 L446.4,213.9 L446.8,213.8 L447.2,213.8 L447.6,214.1 L447.8,214.5 L447.8,214.9Z" fill="none" stroke="#ffffff" stroke-width="0.75" stroke-opacity="0.95" stroke-linejoin="round"/>
</g></g></g>
<g transform="translate(0,0)">
<path d="M85.00,65.28 L77.00,501.70 M184.51,66.79 L179.19,503.26 M284.03,67.70 L281.38,504.19 M383.55,68.00 L383.58,504.50 M483.07,67.69 L485.78,504.18 M66.26,77.22 L87.19,77.62 L108.12,77.98 L129.05,78.32 L149.98,78.64 L170.91,78.92 L191.85,79.18 L212.78,79.41 L233.71,79.62 L254.64,79.80 L275.57,79.95 L296.51,80.07 L317.44,80.17 L338.37,80.24 L359.30,80.28 L380.24,80.30 L401.17,80.29 L422.10,80.25 L443.04,80.19 L463.97,80.10 L484.90,79.98 L505.83,79.83 L526.77,79.66 L547.70,79.46 L568.63,79.23 M64.81,152.05 L85.83,152.44 L106.86,152.81 L127.89,153.15 L148.91,153.47 L169.94,153.76 L190.97,154.02 L212.00,154.25 L233.02,154.46 L254.05,154.64 L275.08,154.79 L296.11,154.91 L317.14,155.01 L338.17,155.08 L359.20,155.12 L380.23,155.14 L401.26,155.13 L422.29,155.09 L443.32,155.03 L464.35,154.93 L485.37,154.82 L506.40,154.67 L527.43,154.50 L548.46,154.29 L569.49,154.07 M63.35,226.87 L84.47,227.27 L105.59,227.64 L126.72,227.99 L147.84,228.30 L168.97,228.59 L190.09,228.85 L211.21,229.09 L232.34,229.29 L253.46,229.47 L274.59,229.63 L295.71,229.75 L316.84,229.85 L337.97,229.92 L359.09,229.96 L380.22,229.98 L401.34,229.97 L422.47,229.93 L443.60,229.87 L464.72,229.77 L485.85,229.65 L506.97,229.51 L528.10,229.33 L549.22,229.13 L570.35,228.90 M61.89,301.70 L83.11,302.10 L104.33,302.47 L125.55,302.82 L146.77,303.13 L167.99,303.42 L189.21,303.69 L210.43,303.92 L231.65,304.13 L252.88,304.31 L274.10,304.46 L295.32,304.59 L316.54,304.69 L337.76,304.76 L358.99,304.80 L380.21,304.82 L401.43,304.81 L422.65,304.77 L443.87,304.71 L465.10,304.61 L486.32,304.49 L507.54,304.34 L528.76,304.17 L549.98,303.97 L571.20,303.74 M60.44,376.53 L81.75,376.93 L103.07,377.30 L124.38,377.65 L145.70,377.97 L167.02,378.26 L188.33,378.52 L209.65,378.76 L230.97,378.97 L252.29,379.15 L273.60,379.30 L294.92,379.43 L316.24,379.53 L337.56,379.60 L358.88,379.64 L380.20,379.66 L401.52,379.65 L422.84,379.61 L444.15,379.54 L465.47,379.45 L486.79,379.33 L508.11,379.18 L529.43,379.01 L550.75,378.80 L572.06,378.57 M58.98,451.35 L80.39,451.76 L101.80,452.13 L123.22,452.48 L144.63,452.80 L166.04,453.09 L187.46,453.36 L208.87,453.59 L230.28,453.80 L251.70,453.99 L273.11,454.14 L294.53,454.27 L315.94,454.37 L337.36,454.44 L358.77,454.48 L380.19,454.50 L401.60,454.49 L423.02,454.45 L444.43,454.38 L465.85,454.29 L487.26,454.17 L508.68,454.02 L530.09,453.84 L551.51,453.64 L572.92,453.41" fill="none" stroke="#000" stroke-opacity="0.5" stroke-width="1" stroke-dasharray="1 2"/>
</g>
<g transform="translate(684.6,0)">
<path d="M85.00,65.28 L77.00,501.70 M184.51,66.79 L179.19,503.26 M284.03,67.70 L281.38,504.19 M383.55,68.00 L383.58,504.50 M483.07,67.69 L485.78,504.18 M66.26,77.22 L87.19,77.62 L108.12,77.98 L129.05,78.32 L149.98,78.64 L170.91,78.92 L191.85,79.18 L212.78,79.41 L233.71,79.62 L254.64,79.80 L275.57,79.95 L296.51,80.07 L317.44,80.17 L338.37,80.24 L359.30,80.28 L380.24,80.30 L401.17,80.29 L422.10,80.25 L443.04,80.19 L463.97,80.10 L484.90,79.98 L505.83,79.83 L526.77,79.66 L547.70,79.46 L568.63,79.23 M64.81,152.05 L85.83,152.44 L106.86,152.81 L127.89,153.15 L148.91,153.47 L169.94,153.76 L190.97,154.02 L212.00,154.25 L233.02,154.46 L254.05,154.64 L275.08,154.79 L296.11,154.91 L317.14,155.01 L338.17,155.08 L359.20,155.12 L380.23,155.14 L401.26,155.13 L422.29,155.09 L443.32,155.03 L464.35,154.93 L485.37,154.82 L506.40,154.67 L527.43,154.50 L548.46,154.29 L569.49,154.07 M63.35,226.87 L84.47,227.27 L105.59,227.64 L126.72,227.99 L147.84,228.30 L168.97,228.59 L190.09,228.85 L211.21,229.09 L232.34,229.29 L253.46,229.47 L274.59,229.63 L295.71,229.75 L316.84,229.85 L337.97,229.92 L359.09,229.96 L380.22,229.98 L401.34,229.97 L422.47,229.93 L443.60,229.87 L464.72,229.77 L485.85,229.65 L506.97,229.51 L528.10,229.33 L549.22,229.13 L570.35,228.90 M61.89,301.70 L83.11,302.10 L104.33,302.47 L125.55,302.82 L146.77,303.13 L167.99,303.42 L189.21,303.69 L210.43,303.92 L231.65,304.13 L252.88,304.31 L274.10,304.46 L295.32,304.59 L316.54,304.69 L337.76,304.76 L358.99,304.80 L380.21,304.82 L401.43,304.81 L422.65,304.77 L443.87,304.71 L465.10,304.61 L486.32,304.49 L507.54,304.34 L528.76,304.17 L549.98,303.97 L571.20,303.74 M60.44,376.53 L81.75,376.93 L103.07,377.30 L124.38,377.65 L145.70,377.97 L167.02,378.26 L188.33,378.52 L209.65,378.76 L230.97,378.97 L252.29,379.15 L273.60,379.30 L294.92,379.43 L316.24,379.53 L337.56,379.60 L358.88,379.64 L380.20,379.66 L401.52,379.65 L422.84,379.61 L444.15,379.54 L465.47,379.45 L486.79,379.33 L508.11,379.18 L529.43,379.01 L550.75,378.80 L572.06,378.57 M58.98,451.35 L80.39,451.76 L101.80,452.13 L123.22,452.48 L144.63,452.80 L166.04,453.09 L187.46,453.36 L208.87,453.59 L230.28,453.80 L251.70,453.99 L273.11,454.14 L294.53,454.27 L315.94,454.37 L337.36,454.44 L358.77,454.48 L380.19,454.50 L401.60,454.49 L423.02,454.45 L444.43,454.38 L465.85,454.29 L487.26,454.17 L508.68,454.02 L530.09,453.84 L551.51,453.64 L572.92,453.41" fill="none" stroke="#000" stroke-opacity="0.5" stroke-width="1" stroke-dasharray="1 2"/>
</g>
<g transform="translate(0,0)">
<path d="M66.50,64.93 L87.42,65.32 L108.33,65.69 L129.24,66.03 L150.16,66.34 L171.07,66.62 L191.99,66.88 L212.91,67.11 L233.82,67.32 L254.74,67.50 L275.65,67.65 L296.57,67.77 L317.49,67.87 L338.41,67.94 L359.32,67.98 L380.24,68.00 L401.16,67.99 L422.07,67.95 L442.99,67.89 L463.91,67.80 L484.82,67.68 L505.74,67.53 L526.66,67.36 L547.57,67.16 L568.49,66.93 L573.49,503.40 L552.02,503.64 L530.54,503.84 L509.06,504.02 L487.58,504.17 L466.10,504.29 L444.62,504.38 L423.14,504.45 L401.66,504.49 L380.18,504.50 L358.70,504.48 L337.22,504.44 L315.74,504.37 L294.26,504.27 L272.78,504.14 L251.30,503.98 L229.83,503.80 L208.35,503.59 L186.87,503.35 L165.39,503.09 L143.91,502.79 L122.44,502.47 L100.96,502.12 L79.48,501.75 L58.01,501.34 Z" fill="none" stroke="#000" stroke-width="2.8" stroke-linejoin="miter"/>
<path d="M85.08,60.78 L85.00,65.28 M77.00,501.70 L76.92,506.20 M184.57,62.29 L184.51,66.79 M179.19,503.26 L179.14,507.76 M284.06,63.20 L284.03,67.70 M281.38,504.19 L281.36,508.69 M383.55,63.50 L383.55,68.00 M383.58,504.50 L383.58,509.00 M483.05,63.19 L483.07,67.69 M485.78,504.18 L485.81,508.68 M66.26,77.22 L61.76,77.14 M568.63,79.23 L573.13,79.18 M64.81,152.05 L60.31,151.96 M569.49,154.07 L573.99,154.02 M63.35,226.87 L58.85,226.79 M570.35,228.90 L574.85,228.85 M61.89,301.70 L57.39,301.61 M571.20,303.74 L575.70,303.69 M60.44,376.53 L55.94,376.44 M572.06,378.57 L576.56,378.52 M58.98,451.35 L54.48,451.26 M572.92,453.41 L577.42,453.36" fill="none" stroke="#000" stroke-width="2.8"/>
</g>
<g transform="translate(684.6,0)">
<path d="M66.50,64.93 L87.42,65.32 L108.33,65.69 L129.24,66.03 L150.16,66.34 L171.07,66.62 L191.99,66.88 L212.91,67.11 L233.82,67.32 L254.74,67.50 L275.65,67.65 L296.57,67.77 L317.49,67.87 L338.41,67.94 L359.32,67.98 L380.24,68.00 L401.16,67.99 L422.07,67.95 L442.99,67.89 L463.91,67.80 L484.82,67.68 L505.74,67.53 L526.66,67.36 L547.57,67.16 L568.49,66.93 L573.49,503.40 L552.02,503.64 L530.54,503.84 L509.06,504.02 L487.58,504.17 L466.10,504.29 L444.62,504.38 L423.14,504.45 L401.66,504.49 L380.18,504.50 L358.70,504.48 L337.22,504.44 L315.74,504.37 L294.26,504.27 L272.78,504.14 L251.30,503.98 L229.83,503.80 L208.35,503.59 L186.87,503.35 L165.39,503.09 L143.91,502.79 L122.44,502.47 L100.96,502.12 L79.48,501.75 L58.01,501.34 Z" fill="none" stroke="#000" stroke-width="2.8" stroke-linejoin="miter"/>
<path d="M85.08,60.78 L85.00,65.28 M77.00,501.70 L76.92,506.20 M184.57,62.29 L184.51,66.79 M179.19,503.26 L179.14,507.76 M284.06,63.20 L284.03,67.70 M281.38,504.19 L281.36,508.69 M383.55,63.50 L383.55,68.00 M383.58,504.50 L383.58,509.00 M483.05,63.19 L483.07,67.69 M485.78,504.18 L485.81,508.68 M66.26,77.22 L61.76,77.14 M568.63,79.23 L573.13,79.18 M64.81,152.05 L60.31,151.96 M569.49,154.07 L573.99,154.02 M63.35,226.87 L58.85,226.79 M570.35,228.90 L574.85,228.85 M61.89,301.70 L57.39,301.61 M571.20,303.74 L575.70,303.69 M60.44,376.53 L55.94,376.44 M572.06,378.57 L576.56,378.52 M58.98,451.35 L54.48,451.26 M572.92,453.41 L577.42,453.36" fill="none" stroke="#000" stroke-width="2.8"/>
</g>
<g transform="translate(0,0)" font-family="Liberation Sans, sans-serif">
<text x="-1" y="23.7" font-size="28.5" font-weight="bold" fill="#000">A</text>
<text x="338.6" y="45.8" font-size="29" font-weight="bold" fill="#000" text-anchor="middle" letter-spacing="2">2016</text>
<text x="56.76" y="83.22" font-size="16.5" text-anchor="end" fill="#000">45'</text>
<text x="55.31" y="158.05" font-size="16.5" text-anchor="end" fill="#000">30'</text>
<text x="53.85" y="232.87" font-size="16.5" text-anchor="end" fill="#000">15'</text>
<text x="50.39" y="309.90" font-size="22" text-anchor="end" fill="#000">48°N</text>
<text x="50.94" y="382.53" font-size="16.5" text-anchor="end" fill="#000">45'</text>
<text x="49.48" y="457.35" font-size="16.5" text-anchor="end" fill="#000">30'</text>
<text x="77.00" y="524.50" font-size="16.5" text-anchor="middle" fill="#000">30'</text>
<text x="179.19" y="531.16" font-size="22" text-anchor="middle" fill="#000">130°W</text>
<text x="281.38" y="526.99" font-size="16.5" text-anchor="middle" fill="#000">30'</text>
<text x="383.58" y="532.40" font-size="22" text-anchor="middle" fill="#000">129°W</text>
<text x="485.78" y="526.98" font-size="16.5" text-anchor="middle" fill="#000">30'</text>
</g>
<g transform="translate(684.6,0)" font-family="Liberation Sans, sans-serif">
<text x="-1" y="23.7" font-size="28.5" font-weight="bold" fill="#000">B</text>
<text x="338.6" y="45.8" font-size="29" font-weight="bold" fill="#000" text-anchor="middle" letter-spacing="2">2021</text>
<text x="56.76" y="83.22" font-size="16.5" text-anchor="end" fill="#000">45'</text>
<text x="55.31" y="158.05" font-size="16.5" text-anchor="end" fill="#000">30'</text>
<text x="53.85" y="232.87" font-size="16.5" text-anchor="end" fill="#000">15'</text>
<text x="50.39" y="309.90" font-size="22" text-anchor="end" fill="#000">48°N</text>
<text x="50.94" y="382.53" font-size="16.5" text-anchor="end" fill="#000">45'</text>
<text x="49.48" y="457.35" font-size="16.5" text-anchor="end" fill="#000">30'</text>
<text x="77.00" y="524.50" font-size="16.5" text-anchor="middle" fill="#000">30'</text>
<text x="179.19" y="531.16" font-size="22" text-anchor="middle" fill="#000">130°W</text>
<text x="281.38" y="526.99" font-size="16.5" text-anchor="middle" fill="#000">30'</text>
<text x="383.58" y="532.40" font-size="22" text-anchor="middle" fill="#000">129°W</text>
<text x="485.78" y="526.98" font-size="16.5" text-anchor="middle" fill="#000">30'</text>
</g>
<g transform="translate(0,0)" font-family="Liberation Sans, sans-serif">
<defs><linearGradient id="cb0" x1="0" y1="1" x2="0" y2="0"><stop offset="0.0000" stop-color="#262874"/><stop offset="0.0714" stop-color="#2c3c8f"/><stop offset="0.1429" stop-color="#314f9f"/><stop offset="0.2143" stop-color="#3561ad"/><stop offset="0.2571" stop-color="#3a78c0"/><stop offset="0.3000" stop-color="#2eb6ea"/><stop offset="0.3571" stop-color="#5cc6de"/><stop offset="0.4286" stop-color="#6dc5a6"/><stop offset="0.5000" stop-color="#a2cc5c"/><stop offset="0.5714" stop-color="#c8dc2f"/><stop offset="0.6143" stop-color="#f1e723"/><stop offset="0.6571" stop-color="#fcd117"/><stop offset="0.7143" stop-color="#f7941d"/><stop offset="0.7857" stop-color="#ef5a25"/><stop offset="0.8286" stop-color="#ec3124"/><stop offset="0.8714" stop-color="#ea1d25"/><stop offset="0.9143" stop-color="#cc1f26"/><stop offset="0.9571" stop-color="#9e1a1f"/><stop offset="1.0000" stop-color="#7a1518"/></linearGradient></defs>
<rect x="587.0" y="64.6" width="24.200000000000045" height="441.4" fill="url(#cb0)" stroke="#666" stroke-width="0.8"/>
<text x="618.4" y="73.00" font-size="20" fill="#333">100</text>
<line x1="607.2" y1="127.70" x2="611.2" y2="127.70" stroke="#333" stroke-width="0.8"/>
<text x="618.4" y="136.10" font-size="20" fill="#333">90</text>
<line x1="607.2" y1="190.80" x2="611.2" y2="190.80" stroke="#333" stroke-width="0.8"/>
<text x="618.4" y="199.20" font-size="20" fill="#333">80</text>
<line x1="607.2" y1="253.90" x2="611.2" y2="253.90" stroke="#333" stroke-width="0.8"/>
<text x="618.4" y="262.30" font-size="20" fill="#333">70</text>
<line x1="607.2" y1="317.00" x2="611.2" y2="317.00" stroke="#333" stroke-width="0.8"/>
<text x="618.4" y="325.40" font-size="20" fill="#333">60</text>
<line x1="607.2" y1="380.10" x2="611.2" y2="380.10" stroke="#333" stroke-width="0.8"/>
<text x="618.4" y="388.50" font-size="20" fill="#333">50</text>
<line x1="607.2" y1="443.20" x2="611.2" y2="443.20" stroke="#333" stroke-width="0.8"/>
<text x="618.4" y="451.60" font-size="20" fill="#333">40</text>
<text x="618.4" y="514.70" font-size="20" fill="#333">30</text>
<text x="599" y="53.8" font-size="18.5" text-anchor="middle" fill="#222">%</text>
</g>
<g transform="translate(684.6,0)" font-family="Liberation Sans, sans-serif">
<defs><linearGradient id="cb684" x1="0" y1="1" x2="0" y2="0"><stop offset="0.0000" stop-color="#262874"/><stop offset="0.0714" stop-color="#2c3c8f"/><stop offset="0.1429" stop-color="#314f9f"/><stop offset="0.2143" stop-color="#3561ad"/><stop offset="0.2571" stop-color="#3a78c0"/><stop offset="0.3000" stop-color="#2eb6ea"/><stop offset="0.3571" stop-color="#5cc6de"/><stop offset="0.4286" stop-color="#6dc5a6"/><stop offset="0.5000" stop-color="#a2cc5c"/><stop offset="0.5714" stop-color="#c8dc2f"/><stop offset="0.6143" stop-color="#f1e723"/><stop offset="0.6571" stop-color="#fcd117"/><stop offset="0.7143" stop-color="#f7941d"/><stop offset="0.7857" stop-color="#ef5a25"/><stop offset="0.8286" stop-color="#ec3124"/><stop offset="0.8714" stop-color="#ea1d25"/><stop offset="0.9143" stop-color="#cc1f26"/><stop offset="0.9571" stop-color="#9e1a1f"/><stop offset="1.0000" stop-color="#7a1518"/></linearGradient></defs>
<rect x="587.0" y="64.6" width="24.200000000000045" height="441.4" fill="url(#cb684)" stroke="#666" stroke-width="0.8"/>
<text x="618.4" y="73.00" font-size="20" fill="#333">100</text>
<line x1="607.2" y1="127.70" x2="611.2" y2="127.70" stroke="#333" stroke-width="0.8"/>
<text x="618.4" y="136.10" font-size="20" fill="#333">90</text>
<line x1="607.2" y1="190.80" x2="611.2" y2="190.80" stroke="#333" stroke-width="0.8"/>
<text x="618.4" y="199.20" font-size="20" fill="#333">80</text>
<line x1="607.2" y1="253.90" x2="611.2" y2="253.90" stroke="#333" stroke-width="0.8"/>
<text x="618.4" y="262.30" font-size="20" fill="#333">70</text>
<line x1="607.2" y1="317.00" x2="611.2" y2="317.00" stroke="#333" stroke-width="0.8"/>
<text x="618.4" y="325.40" font-size="20" fill="#333">60</text>
<line x1="607.2" y1="380.10" x2="611.2" y2="380.10" stroke="#333" stroke-width="0.8"/>
<text x="618.4" y="388.50" font-size="20" fill="#333">50</text>
<line x1="607.2" y1="443.20" x2="611.2" y2="443.20" stroke="#333" stroke-width="0.8"/>
<text x="618.4" y="451.60" font-size="20" fill="#333">40</text>
<text x="618.4" y="514.70" font-size="20" fill="#333">30</text>
<text x="599" y="53.8" font-size="18.5" text-anchor="middle" fill="#222">%</text>
</g>
</svg>
</body></html>
